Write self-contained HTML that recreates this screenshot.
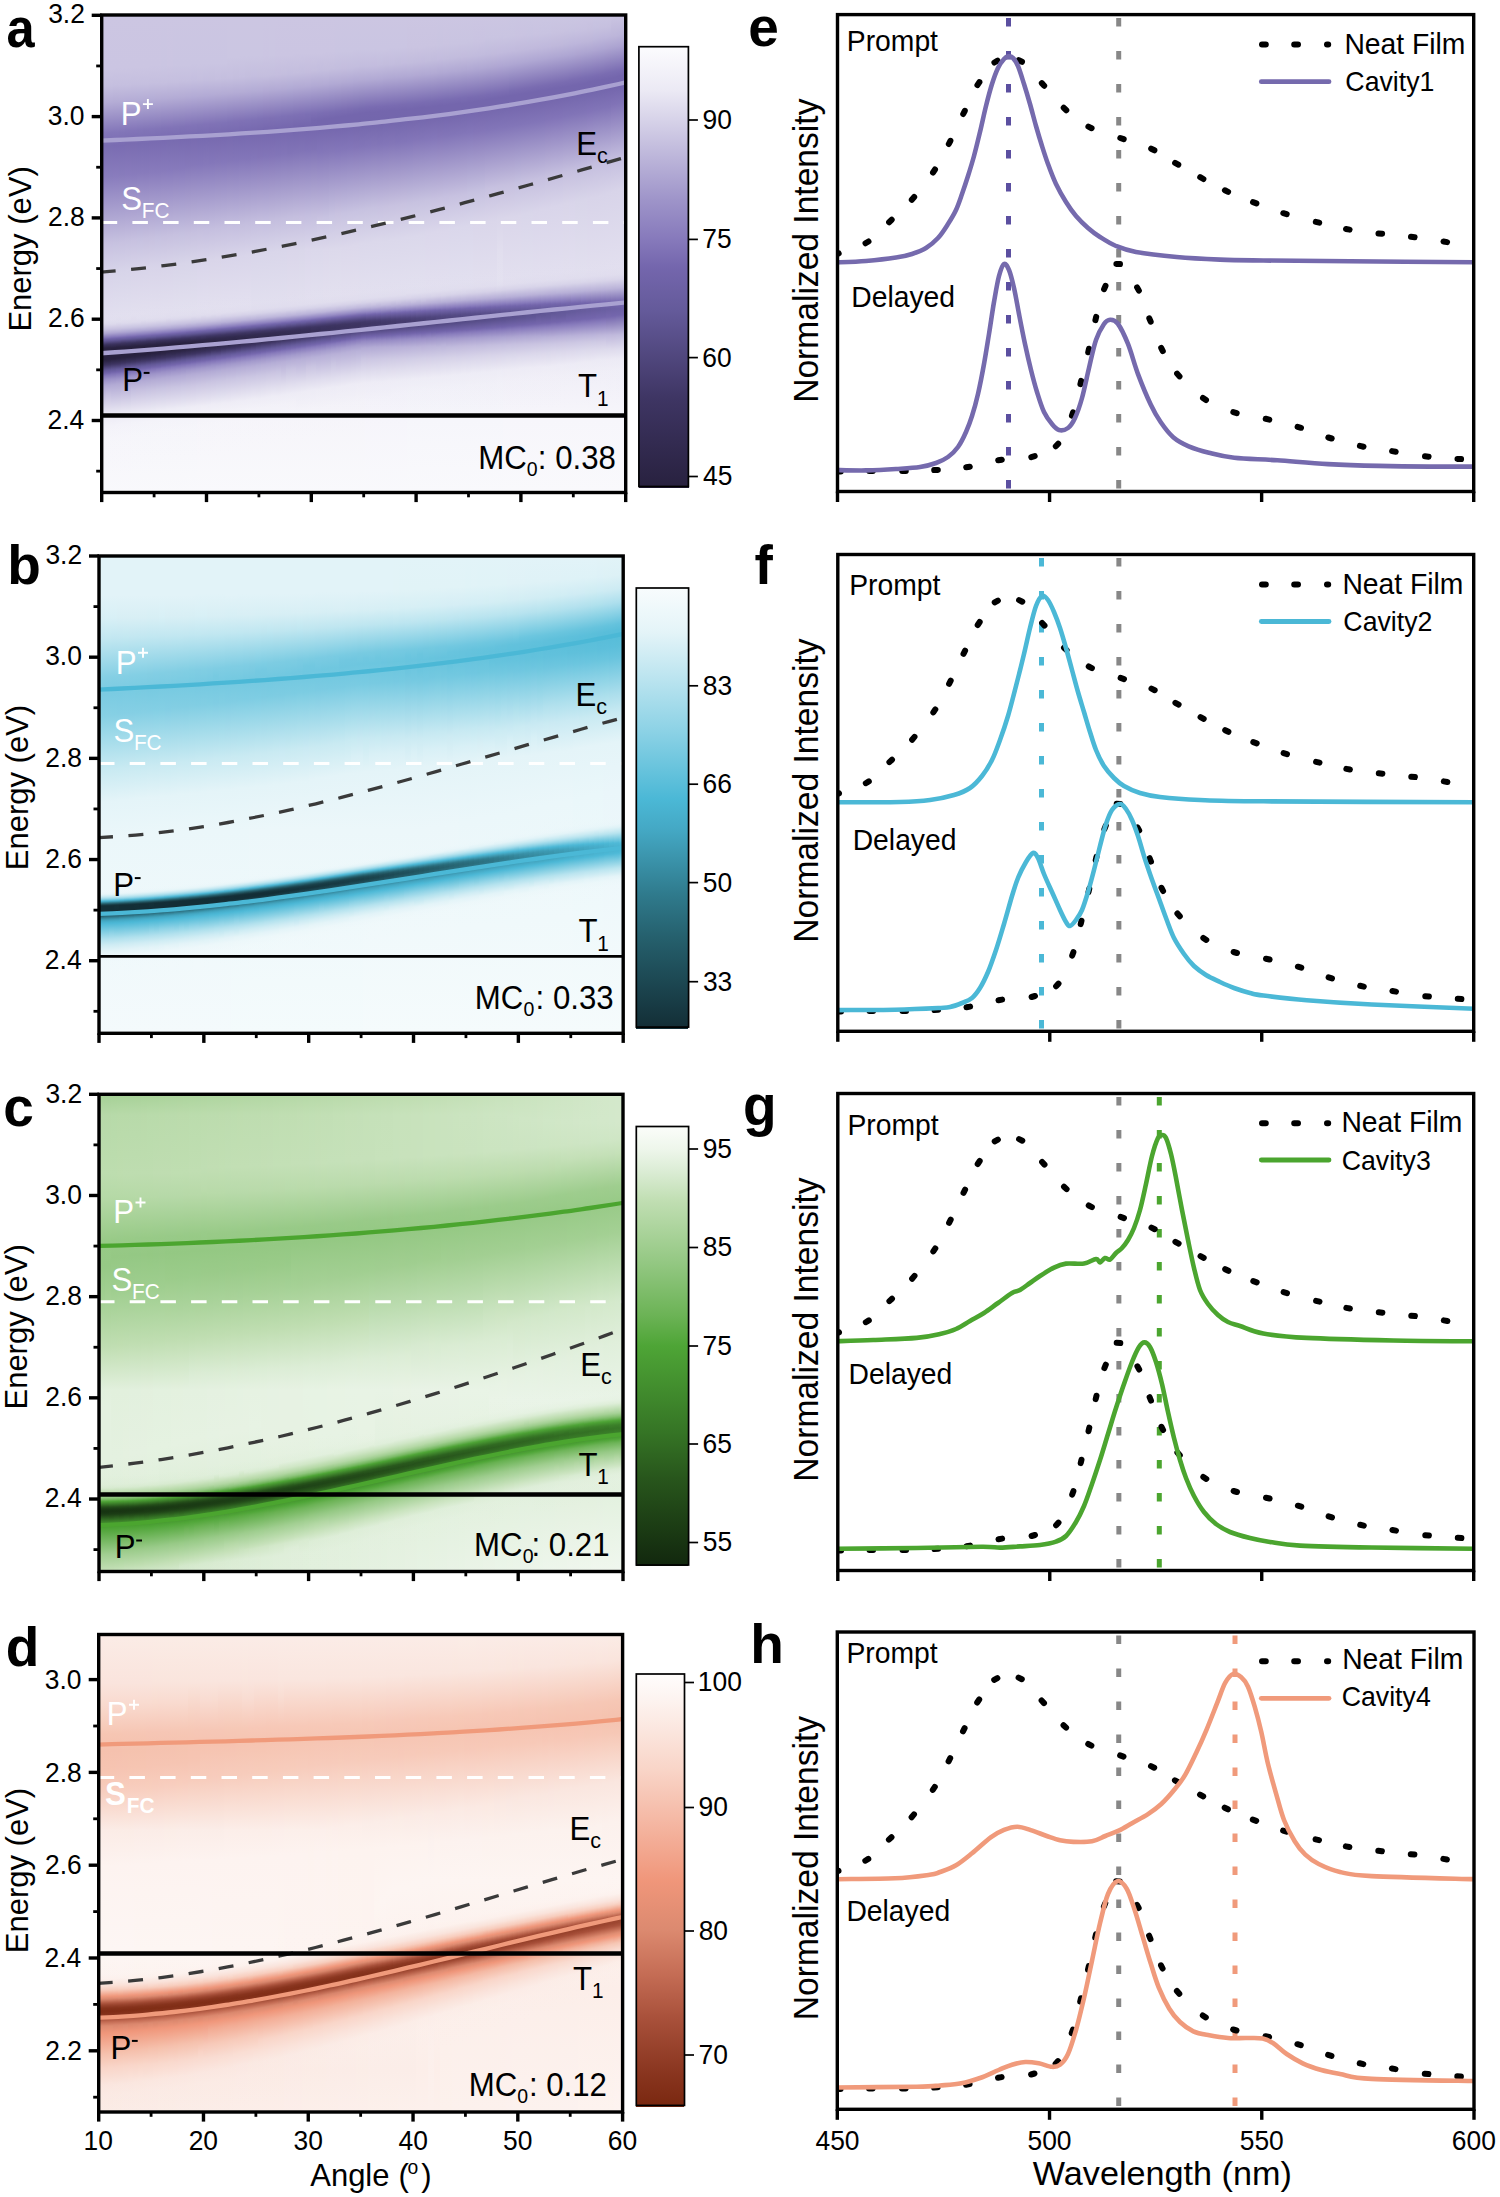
<!DOCTYPE html>
<html><head><meta charset="utf-8"><style>
html,body{margin:0;padding:0;background:#fff;}
#wrap{position:relative;width:1500px;height:2197px;overflow:hidden;background:#fff;}
#wrap div{position:absolute;}
svg{position:absolute;left:0;top:0;}
svg text{font-family:"Liberation Sans", sans-serif;}
</style></head><body><div id="wrap">
<div style="left:101.7px;top:15.0px;width:524.0px;height:477.5px;overflow:hidden">
<div style="left:-0.7px;top:0px;width:6px;height:478px;background:linear-gradient(177.5deg,#ccc6e2 0px,#cbc5e2 54px,#c5bfdf 71px,#b4acd5 88px,#8376b9 118px,#7a6db2 131px,#897cbd 162px,#c7c1e0 229px,#d7d3e9 258px,#ebe9f4 336px,#f5f4fa 405px,#f9f9fc 478px)"></div>
<div style="left:5.3px;top:0px;width:6px;height:478px;background:linear-gradient(177.5deg,#ccc6e2 0px,#cbc5e2 54px,#c5bfdf 71px,#b5add6 87px,#8275b8 118px,#7a6db2 131px,#897dbd 162px,#c7c1e0 228px,#d7d3e9 257px,#ebe9f4 336px,#f5f4fa 405px,#f9f9fc 478px)"></div>
<div style="left:11.3px;top:0px;width:6px;height:478px;background:linear-gradient(177.5deg,#ccc6e2 0px,#cbc5e2 53px,#c5bfdf 70px,#b4acd5 87px,#8376b9 117px,#7a6cb2 130px,#897cbd 161px,#c7c2e0 228px,#d7d4e9 257px,#ebe9f4 336px,#f5f4fa 405px,#f9f9fc 478px)"></div>
<div style="left:17.3px;top:0px;width:6px;height:478px;background:linear-gradient(177.5deg,#ccc6e2 0px,#cbc5e2 53px,#c5bfdf 70px,#b5add6 86px,#8275b8 117px,#7a6cb2 130px,#887cbc 160px,#c7c1e0 227px,#d7d4e9 256px,#ebe9f4 335px,#f5f4fa 405px,#f9f9fc 478px)"></div>
<div style="left:23.3px;top:0px;width:6px;height:478px;background:linear-gradient(177.4deg,#ccc6e2 0px,#cbc5e2 53px,#c5bfdf 70px,#b4acd6 86px,#8275b8 116px,#7a6cb1 129px,#897cbd 160px,#c7c1e0 226px,#d7d4e9 255px,#ebe9f4 335px,#f5f4fa 405px,#f9f9fc 478px)"></div>
<div style="left:29.3px;top:0px;width:6px;height:478px;background:linear-gradient(177.4deg,#ccc6e2 0px,#cbc5e2 52px,#c5bfdf 69px,#b5add6 85px,#8274b8 116px,#7a6cb1 129px,#887bbc 159px,#c7c1e0 225px,#d8d4e9 255px,#ebe9f4 334px,#f5f5fa 405px,#f9f9fc 478px)"></div>
<div style="left:35.3px;top:0px;width:6px;height:478px;background:linear-gradient(177.4deg,#ccc6e2 0px,#cbc5e2 52px,#c5bfdf 69px,#b4add6 85px,#8275b8 115px,#796cb1 128px,#887bbc 158px,#c6c1e0 224px,#d8d4e9 254px,#ebe9f4 334px,#f5f5fa 405px,#f9f9fc 478px)"></div>
<div style="left:41.3px;top:0px;width:6px;height:478px;background:linear-gradient(177.3deg,#ccc6e2 0px,#cbc5e2 52px,#c5bfdf 69px,#b4acd5 85px,#8174b7 115px,#796cb1 128px,#887bbc 158px,#c6c0df 223px,#d8d4e9 253px,#ebe9f4 334px,#f5f5fa 405px,#f9f9fc 478px)"></div>
<div style="left:47.3px;top:0px;width:6px;height:478px;background:linear-gradient(177.3deg,#ccc6e2 0px,#cbc5e2 51px,#c5bfdf 68px,#b4add6 84px,#8275b8 114px,#796bb1 127px,#887bbc 157px,#c6c0df 222px,#d8d4e9 252px,#ebe9f4 333px,#f5f5fa 405px,#f9f9fc 478px)"></div>
<div style="left:53.3px;top:0px;width:6px;height:478px;background:linear-gradient(177.2deg,#ccc6e2 0px,#cbc5e2 51px,#c5bfdf 68px,#b4acd5 84px,#8174b7 114px,#796bb1 127px,#887bbc 157px,#c6c1e0 222px,#d8d4e9 252px,#ebe9f4 333px,#f5f5fa 405px,#f9f9fc 478px)"></div>
<div style="left:59.3px;top:0px;width:6px;height:478px;background:linear-gradient(177.2deg,#ccc6e2 0px,#cac5e2 51px,#c5bfdf 68px,#b3abd5 84px,#8174b7 113px,#796bb1 126px,#887bbc 156px,#c6c0df 221px,#d8d4e9 251px,#ebe9f4 332px,#f5f5fa 405px,#f9f9fc 478px)"></div>
<div style="left:65.3px;top:0px;width:6px;height:478px;background:linear-gradient(177.1deg,#ccc6e2 0px,#cbc5e2 50px,#c5bfdf 67px,#b4acd5 83px,#8173b7 113px,#786bb0 125px,#877abc 155px,#c6c0df 220px,#d8d4e9 250px,#ebe9f4 332px,#f5f5fa 405px,#f9f9fc 478px)"></div>
<div style="left:71.3px;top:0px;width:6px;height:478px;background:linear-gradient(177.1deg,#ccc6e2 0px,#cac5e2 50px,#c5bfdf 67px,#b3abd5 83px,#8174b7 112px,#786bb0 125px,#877abb 154px,#c6c0df 219px,#d8d5e9 250px,#ebe9f4 332px,#f5f5fa 405px,#f9f9fc 478px)"></div>
<div style="left:77.3px;top:0px;width:6px;height:478px;background:linear-gradient(177.0deg,#ccc6e2 0px,#cac5e2 50px,#c5bfdf 66px,#b4acd5 82px,#8073b6 112px,#786ab0 124px,#877abc 154px,#c5c0df 218px,#d8d5e9 249px,#ebe9f4 331px,#f5f5fa 405px,#f9f9fc 478px)"></div>
<div style="left:83.3px;top:0px;width:6px;height:478px;background:linear-gradient(177.0deg,#ccc6e2 0px,#cac5e2 50px,#c5bfdf 66px,#b3abd5 82px,#8173b7 111px,#786ab0 124px,#8578ba 151px,#c6c0df 218px,#d8d5e9 248px,#ebe9f4 331px,#f5f5fa 405px,#f9f9fc 477px)"></div>
<div style="left:89.3px;top:0px;width:6px;height:478px;background:linear-gradient(176.9deg,#ccc6e2 0px,#cac5e2 49px,#c4bedf 66px,#b2aad5 82px,#8174b7 110px,#786ab0 123px,#8578ba 150px,#c6c0df 217px,#d8d5e9 247px,#ebe9f4 331px,#f5f5fa 405px,#f9f9fc 477px)"></div>
<div style="left:95.3px;top:0px;width:6px;height:478px;background:linear-gradient(176.9deg,#ccc6e2 0px,#cac5e2 49px,#c5bfdf 65px,#b3abd5 81px,#8073b6 110px,#776ab0 122px,#8477ba 149px,#c6c0df 216px,#d9d5ea 247px,#ebe9f4 330px,#f6f5fa 405px,#f9f9fc 477px)"></div>
<div style="left:101.3px;top:0px;width:6px;height:478px;background:linear-gradient(176.8deg,#ccc6e2 0px,#cac5e2 49px,#c4bedf 65px,#b2aad5 81px,#8173b7 109px,#776ab0 122px,#8578ba 149px,#c5bfdf 215px,#d9d5ea 246px,#ebe9f4 329px,#f6f5fa 405px,#f9f9fc 477px)"></div>
<div style="left:107.3px;top:0px;width:6px;height:478px;background:linear-gradient(176.7deg,#ccc6e2 0px,#cac5e2 48px,#c4bede 65px,#b3abd5 80px,#8072b6 109px,#7769af 121px,#8477ba 148px,#c5bfdf 214px,#d9d5e9 245px,#ebe9f4 329px,#f6f5fa 405px,#f9f9fc 477px)"></div>
<div style="left:113.3px;top:0px;width:6px;height:478px;background:linear-gradient(176.7deg,#ccc6e2 0px,#cac5e2 48px,#c5bfdf 64px,#b4acd5 79px,#8073b6 108px,#7769af 121px,#8477b9 147px,#c5bfdf 213px,#d9d5e9 244px,#ebe9f4 329px,#f6f5fa 404px,#f9f9fc 477px)"></div>
<div style="left:119.3px;top:0px;width:6px;height:478px;background:linear-gradient(176.6deg,#ccc6e2 0px,#cac5e2 48px,#c4bede 64px,#b3abd5 79px,#7f72b6 108px,#7769af 120px,#8477ba 147px,#c5bfdf 212px,#d9d5ea 244px,#ebe9f4 328px,#f6f5fa 404px,#f9f9fc 477px)"></div>
<div style="left:125.3px;top:0px;width:6px;height:478px;background:linear-gradient(176.5deg,#ccc6e2 0px,#cbc6e2 42px,#c5bfdf 63px,#b4acd5 78px,#7f72b6 107px,#7769af 119px,#8477b9 146px,#c5bfdf 211px,#d9d5ea 243px,#ebe9f4 328px,#f6f5fa 404px,#f9f9fc 477px)"></div>
<div style="left:131.3px;top:0px;width:6px;height:478px;background:linear-gradient(176.5deg,#ccc6e2 0px,#cbc6e2 42px,#c4bede 63px,#b3abd5 78px,#8072b6 106px,#7669af 119px,#8376b9 145px,#c4bedf 210px,#d9d5ea 242px,#ebe9f4 328px,#f6f5fa 404px,#f9f9fc 477px)"></div>
<div style="left:137.3px;top:0px;width:6px;height:478px;background:linear-gradient(176.4deg,#ccc6e2 0px,#cbc6e2 41px,#c5bfdf 62px,#b4acd5 77px,#7f71b5 106px,#7668af 118px,#8376b9 144px,#c4bede 209px,#d9d5ea 241px,#ebe9f4 327px,#f6f5fa 404px,#f9f9fc 477px)"></div>
<div style="left:143.3px;top:0px;width:6px;height:478px;background:linear-gradient(176.3deg,#ccc6e2 0px,#cbc6e2 41px,#c4bede 62px,#b3abd5 77px,#7f72b6 105px,#7668af 117px,#8376b9 144px,#c4bede 208px,#d9d5ea 240px,#ebe9f4 327px,#f6f5fa 404px,#f9f9fc 477px)"></div>
<div style="left:149.3px;top:0px;width:6px;height:478px;background:linear-gradient(176.2deg,#ccc6e2 0px,#cbc6e2 41px,#c4bedf 61px,#b3acd5 76px,#7e71b5 105px,#7668ae 117px,#8376b9 143px,#c5bfdf 208px,#d9d6ea 240px,#f6f5fa 404px,#f9f9fc 477px)"></div>
<div style="left:155.3px;top:0px;width:6px;height:478px;background:linear-gradient(176.2deg,#ccc6e2 0px,#cbc6e2 41px,#c4bede 61px,#b3abd5 76px,#7e71b5 104px,#7668ae 116px,#8375b8 142px,#c5bfdf 207px,#d9d6ea 239px,#f6f5fa 404px,#f9f9fc 477px)"></div>
<div style="left:161.3px;top:0px;width:6px;height:478px;background:linear-gradient(176.1deg,#ccc6e2 0px,#cbc5e2 41px,#c4bede 61px,#b2a9d4 76px,#7f71b5 103px,#7567ae 115px,#8275b8 141px,#c4bedf 206px,#d9d6ea 238px,#f6f5fa 404px,#f9f9fc 477px)"></div>
<div style="left:167.3px;top:0px;width:6px;height:478px;background:linear-gradient(176.0deg,#ccc6e2 0px,#cbc6e2 40px,#c4bede 60px,#b2aad4 75px,#7e70b4 103px,#7567ae 115px,#8375b8 141px,#c4bede 205px,#d9d6ea 237px,#f6f5fa 404px,#f9f9fc 477px)"></div>
<div style="left:173.3px;top:0px;width:6px;height:478px;background:linear-gradient(175.9deg,#ccc6e2 0px,#cbc5e2 40px,#c4bdde 60px,#b3abd5 74px,#7e71b5 102px,#7567ae 114px,#8275b8 140px,#c4bede 204px,#d9d6ea 236px,#f6f5fa 404px,#f9f9fc 477px)"></div>
<div style="left:179.3px;top:0px;width:6px;height:478px;background:linear-gradient(175.8deg,#ccc6e2 0px,#cbc5e2 40px,#c4bede 59px,#b2aad4 74px,#7e71b5 101px,#7567ae 113px,#8275b8 139px,#c4bede 203px,#d9d6ea 235px,#f6f5fa 404px,#f9f9fc 477px)"></div>
<div style="left:185.3px;top:0px;width:6px;height:478px;background:linear-gradient(175.7deg,#ccc6e2 0px,#cbc5e2 40px,#c3bdde 59px,#b2abd5 73px,#7d70b4 101px,#7567ae 113px,#8174b7 138px,#c4bede 202px,#dad6ea 235px,#f6f5fa 404px,#f9f9fc 477px)"></div>
<div style="left:191.3px;top:0px;width:6px;height:478px;background:linear-gradient(175.6deg,#ccc6e2 0px,#cbc5e2 39px,#c4bede 58px,#b1a9d4 73px,#7d70b4 100px,#7466ad 112px,#8174b7 137px,#c4bede 201px,#dad6ea 235px,#f6f5fa 404px,#f9f9fc 477px)"></div>
<div style="left:197.3px;top:0px;width:6px;height:478px;background:linear-gradient(175.5deg,#ccc6e2 0px,#cbc5e2 39px,#c3bdde 58px,#b2aad4 72px,#7e70b5 99px,#7466ad 111px,#8174b7 136px,#c5bedf 201px,#dad7ea 235px,#f6f5fa 404px,#f9f9fc 477px)"></div>
<div style="left:203.3px;top:0px;width:6px;height:478px;background:linear-gradient(175.4deg,#ccc6e2 0px,#cbc5e2 38px,#c4bdde 57px,#b3abd5 71px,#7c6fb4 99px,#7466ad 111px,#8073b7 135px,#c4bedf 200px,#dbd7eb 234px,#f6f5fa 404px,#f9f9fc 477px)"></div>
<div style="left:209.3px;top:0px;width:6px;height:478px;background:linear-gradient(175.3deg,#ccc6e2 0px,#cbc5e2 38px,#c4bede 56px,#b1a9d4 71px,#7d6fb4 98px,#7567ae 105px,#7466ad 111px,#8073b6 134px,#c4bede 199px,#dbd8eb 234px,#f6f5fa 404px,#f9f9fc 477px)"></div>
<div style="left:215.3px;top:0px;width:6px;height:478px;background:linear-gradient(175.2deg,#ccc6e2 0px,#cbc5e2 38px,#c3bdde 56px,#b2aad4 70px,#7b6eb3 98px,#7466ad 105px,#7466ad 111px,#8376b9 137px,#c9c3e1 203px,#dbd8eb 234px,#f6f5fa 404px,#f9f9fc 477px)"></div>
<div style="left:221.3px;top:0px;width:6px;height:478px;background:linear-gradient(175.1deg,#ccc6e2 0px,#cbc5e2 37px,#c4bede 55px,#b3abd5 69px,#7c6eb3 97px,#7466ad 104px,#7466ad 111px,#8477b9 137px,#c8c3e1 202px,#dcd8eb 234px,#f6f5fa 404px,#f9f9fc 477px)"></div>
<div style="left:227.3px;top:0px;width:6px;height:478px;background:linear-gradient(175.0deg,#ccc6e2 0px,#cbc5e2 37px,#c4bede 54px,#b1a9d4 69px,#7a6db2 97px,#7466ad 103px,#7466ad 111px,#8477b9 136px,#c8c3e1 200px,#dcd9eb 234px,#f6f5fa 404px,#f9f9fc 476px)"></div>
<div style="left:233.3px;top:0px;width:6px;height:478px;background:linear-gradient(174.9deg,#ccc6e2 0px,#cac5e2 37px,#c3bdde 54px,#b2aad4 68px,#7a6db2 96px,#7466ad 102px,#7466ad 111px,#8477ba 136px,#c8c2e0 198px,#dcd9eb 233px,#f6f5fa 404px,#f9f9fc 476px)"></div>
<div style="left:239.3px;top:0px;width:6px;height:478px;background:linear-gradient(174.8deg,#ccc6e2 0px,#cac5e2 36px,#c4bdde 53px,#b2aad4 67px,#7b6db2 95px,#7466ad 101px,#7466ad 110px,#8376b9 134px,#c8c3e1 198px,#dcd8eb 232px,#f6f5fa 404px,#f9f9fc 476px)"></div>
<div style="left:245.3px;top:0px;width:6px;height:478px;background:linear-gradient(174.7deg,#ccc6e2 0px,#cac5e2 36px,#c3bdde 53px,#b1a9d4 67px,#7b6db2 94px,#7466ad 100px,#7466ad 109px,#8376b9 133px,#c8c3e1 197px,#dcd8eb 231px,#f6f5fa 404px,#f9f9fc 476px)"></div>
<div style="left:251.3px;top:0px;width:6px;height:478px;background:linear-gradient(174.5deg,#ccc6e2 0px,#cac5e2 35px,#c3bdde 52px,#b1a9d4 66px,#796cb1 94px,#7466ad 99px,#7466ac 108px,#8375b8 132px,#c8c3e1 196px,#dcd8eb 230px,#f6f5fa 403px,#f9f9fc 476px)"></div>
<div style="left:257.3px;top:0px;width:6px;height:478px;background:linear-gradient(174.4deg,#ccc6e2 0px,#cac5e2 35px,#c3bdde 51px,#b2aad4 65px,#796cb1 93px,#7466ad 98px,#7366ac 107px,#8275b8 131px,#c7c2e0 194px,#dbd8eb 228px,#f6f5fa 403px,#f9f9fc 476px)"></div>
<div style="left:263.3px;top:0px;width:6px;height:478px;background:linear-gradient(174.3deg,#ccc6e2 0px,#cac5e2 35px,#c3bdde 51px,#b1a9d4 65px,#7a6cb2 92px,#7466ad 97px,#7366ac 107px,#8376b9 131px,#c7c2e0 193px,#dbd8eb 227px,#f6f5fb 403px,#f9f9fc 476px)"></div>
<div style="left:269.3px;top:0px;width:6px;height:478px;background:linear-gradient(174.2deg,#ccc6e2 0px,#cac5e2 34px,#c3bcde 51px,#b2aad4 64px,#796bb1 92px,#7466ad 97px,#7366ac 106px,#8376b8 130px,#c7c2e0 192px,#dbd8eb 226px,#f6f5fb 403px,#f9f9fc 476px)"></div>
<div style="left:275.3px;top:0px;width:6px;height:478px;background:linear-gradient(174.0deg,#ccc6e2 0px,#cac5e2 34px,#c3bdde 50px,#b1a9d4 64px,#7a6cb2 91px,#7466ad 96px,#7366ac 106px,#8275b8 129px,#c7c1e0 191px,#dbd8eb 225px,#f6f5fb 403px,#f9f9fc 476px)"></div>
<div style="left:281.3px;top:0px;width:6px;height:478px;background:linear-gradient(173.9deg,#ccc6e2 0px,#cac5e2 34px,#c2bcdd 50px,#b1a9d4 63px,#796bb1 91px,#7466ad 96px,#7366ac 105px,#8376b9 129px,#c8c2e0 191px,#dbd8eb 225px,#f6f5fb 403px,#f9f9fc 476px)"></div>
<div style="left:287.3px;top:0px;width:6px;height:478px;background:linear-gradient(173.8deg,#ccc6e2 0px,#cac5e2 33px,#c3bdde 49px,#b0a8d3 63px,#7a6cb2 90px,#7466ad 95px,#7466ac 105px,#8376b8 128px,#c8c2e0 190px,#dbd8eb 224px,#f6f5fb 403px,#f9f9fc 476px)"></div>
<div style="left:293.3px;top:0px;width:6px;height:478px;background:linear-gradient(173.6deg,#ccc6e2 0px,#cac5e2 33px,#c2bcdd 49px,#b1a9d4 62px,#796bb1 90px,#7466ad 95px,#7366ac 104px,#8275b8 127px,#c8c2e0 189px,#dbd8eb 223px,#f6f5fb 403px,#f9f9fc 475px)"></div>
<div style="left:299.3px;top:0px;width:6px;height:478px;background:linear-gradient(173.5deg,#ccc6e2 0px,#cac5e2 32px,#c3bcde 48px,#b0a8d3 62px,#7a6cb1 89px,#7466ad 94px,#7366ac 103px,#8275b8 126px,#c8c2e0 188px,#dbd8eb 222px,#f6f5fb 403px,#f9f9fc 475px)"></div>
<div style="left:305.3px;top:0px;width:6px;height:478px;background:linear-gradient(173.4deg,#ccc6e2 0px,#cac4e1 32px,#c2bcdd 48px,#b1a9d4 61px,#7a6db2 88px,#7466ad 94px,#7466ac 103px,#8376b9 126px,#c7c2e0 187px,#dbd8eb 221px,#f6f6fb 403px,#f9f9fc 475px)"></div>
<div style="left:311.3px;top:0px;width:6px;height:478px;background:linear-gradient(173.2deg,#ccc6e2 0px,#cac4e1 32px,#c2bcdd 47px,#b2a9d4 60px,#796cb1 88px,#7466ad 93px,#7466ac 102px,#8375b8 124px,#c7c2e0 186px,#dbd8eb 220px,#f6f6fb 403px,#f9f9fc 475px)"></div>
<div style="left:317.3px;top:0px;width:6px;height:478px;background:linear-gradient(173.1deg,#ccc6e2 0px,#cac4e1 32px,#c2bbdd 47px,#b0a8d3 60px,#7a6cb2 87px,#7466ad 92px,#7366ac 101px,#8275b8 123px,#c7c2e0 185px,#dbd8eb 219px,#f6f6fb 402px,#f9f9fc 475px)"></div>
<div style="left:323.3px;top:0px;width:6px;height:478px;background:linear-gradient(172.9deg,#ccc6e2 0px,#cac4e1 31px,#c2bcdd 46px,#b1a9d4 59px,#7a6db2 86px,#7466ad 92px,#7466ac 101px,#8376b9 123px,#c7c2e0 184px,#dbd7eb 217px,#f6f6fb 402px,#f9f9fc 475px)"></div>
<div style="left:329.3px;top:0px;width:6px;height:478px;background:linear-gradient(172.8deg,#ccc6e2 0px,#cac4e1 30px,#c2bcdd 45px,#b2aad4 58px,#796cb1 86px,#7466ad 91px,#7466ac 100px,#8376b9 122px,#c7c1e0 183px,#dbd7eb 216px,#f6f6fb 402px,#f9f9fc 475px)"></div>
<div style="left:335.3px;top:0px;width:6px;height:478px;background:linear-gradient(172.7deg,#ccc6e2 0px,#c9c4e1 30px,#c3bcde 44px,#b0a8d3 58px,#7a6cb2 85px,#7466ad 90px,#7366ac 99px,#8375b8 121px,#c7c1e0 182px,#dbd7eb 215px,#f6f6fb 402px,#f9f9fc 474px)"></div>
<div style="left:341.3px;top:0px;width:6px;height:478px;background:linear-gradient(172.5deg,#ccc6e2 0px,#cac4e1 29px,#c2bcdd 44px,#b1a9d4 57px,#7a6db2 84px,#7466ad 90px,#7466ad 99px,#8275b8 120px,#c6c0e0 180px,#dbd7eb 214px,#f6f6fb 402px,#f9f9fc 474px)"></div>
<div style="left:347.3px;top:0px;width:6px;height:478px;background:linear-gradient(172.3deg,#ccc6e2 0px,#c9c4e1 29px,#c2bcdd 43px,#b1a9d4 56px,#796cb1 84px,#7466ad 89px,#7466ac 98px,#8275b8 119px,#c7c1e0 180px,#dad7eb 212px,#f6f6fb 402px,#f9f9fc 474px)"></div>
<div style="left:353.3px;top:0px;width:6px;height:478px;background:linear-gradient(172.2deg,#ccc6e2 0px,#c9c4e1 28px,#c2bcdd 42px,#b0a8d3 56px,#7a6cb2 83px,#7466ad 88px,#7466ac 97px,#8275b8 118px,#c7c1e0 179px,#dad7eb 211px,#f6f6fb 402px,#f9f9fc 474px)"></div>
<div style="left:359.3px;top:0px;width:6px;height:478px;background:linear-gradient(172.0deg,#ccc6e2 0px,#c9c4e1 28px,#c2bbdd 42px,#b0a8d3 55px,#7a6db2 82px,#7466ad 88px,#7366ac 95px,#8275b8 117px,#c7c1e0 178px,#dad7eb 210px,#f6f6fb 402px,#f9f9fc 474px)"></div>
<div style="left:365.3px;top:0px;width:6px;height:478px;background:linear-gradient(171.9deg,#ccc6e2 0px,#c9c4e1 27px,#c2bcdd 41px,#b1a9d4 54px,#796bb1 82px,#7466ad 87px,#7466ad 95px,#8376b9 117px,#c6c1e0 176px,#dad7eb 209px,#f6f6fb 401px,#f9f9fc 474px)"></div>
<div style="left:371.3px;top:0px;width:6px;height:478px;background:linear-gradient(171.7deg,#ccc6e2 0px,#c9c3e1 27px,#c1bbdd 41px,#afa7d3 54px,#796cb1 81px,#7466ad 86px,#7466ad 94px,#8375b8 116px,#c6c1e0 175px,#dad6ea 207px,#f6f6fb 401px,#f9f9fc 473px)"></div>
<div style="left:377.3px;top:0px;width:6px;height:478px;background:linear-gradient(171.5deg,#ccc6e2 0px,#c9c3e1 26px,#c1bbdd 40px,#b0a8d3 53px,#7a6cb1 80px,#7466ad 85px,#7466ac 93px,#8375b8 115px,#c6c1e0 174px,#dad6ea 206px,#f6f6fb 401px,#f9f9fc 473px)"></div>
<div style="left:383.3px;top:0px;width:6px;height:478px;background:linear-gradient(171.4deg,#ccc6e2 0px,#c9c4e1 23px,#c1bbdd 39px,#b0a8d3 52px,#7a6cb2 79px,#7466ad 84px,#7466ac 92px,#8275b8 114px,#c7c1e0 172px,#dad6ea 205px,#f6f6fb 401px,#f9f9fc 473px)"></div>
<div style="left:389.3px;top:0px;width:6px;height:478px;background:linear-gradient(171.2deg,#ccc6e2 0px,#c9c4e1 23px,#c1badc 39px,#afa6d2 52px,#7a6db2 78px,#7466ad 83px,#7466ac 91px,#8275b8 113px,#c7c1e0 171px,#dad6ea 204px,#f6f6fb 401px,#f9f9fc 473px)"></div>
<div style="left:395.3px;top:0px;width:6px;height:478px;background:linear-gradient(171.0deg,#ccc6e2 0px,#c9c4e1 22px,#c1badd 38px,#afa6d3 51px,#7b6db2 77px,#7466ad 82px,#7366ac 90px,#8275b8 112px,#c6c0df 169px,#dad6ea 202px,#e1deee 233px,#f6f6fb 401px,#f9f9fc 473px)"></div>
<div style="left:401.3px;top:0px;width:6px;height:478px;background:linear-gradient(170.9deg,#ccc6e2 0px,#c9c4e1 22px,#c1badd 37px,#afa7d3 50px,#7b6db2 76px,#7466ad 81px,#7366ac 89px,#8275b8 111px,#c6c0df 168px,#dad6ea 201px,#f7f6fb 400px,#f9f9fc 472px)"></div>
<div style="left:407.3px;top:0px;width:6px;height:478px;background:linear-gradient(170.7deg,#cbc6e2 0px,#c9c4e1 21px,#c1badd 36px,#afa7d3 49px,#796cb1 75px,#7466ad 80px,#7466ad 89px,#8275b8 110px,#c6c0df 167px,#dad6ea 200px,#f7f6fb 400px,#f9f9fc 472px)"></div>
<div style="left:413.3px;top:0px;width:6px;height:478px;background:linear-gradient(170.5deg,#cbc6e2 0px,#c9c3e1 21px,#c0b9dc 36px,#afa7d3 48px,#7a6cb1 74px,#7466ad 79px,#7466ad 88px,#8275b8 109px,#c6c1e0 166px,#dad6ea 199px,#f7f6fb 400px,#f9f9fc 472px)"></div>
<div style="left:419.3px;top:0px;width:6px;height:478px;background:linear-gradient(170.3deg,#cbc6e2 1px,#c9c3e1 20px,#c0b9dc 35px,#afa7d3 47px,#7a6cb1 73px,#7466ad 78px,#7466ac 87px,#8275b8 108px,#c6c0df 164px,#d9d6ea 197px,#f7f6fb 400px,#f9f9fc 472px)"></div>
<div style="left:425.3px;top:0px;width:6px;height:478px;background:linear-gradient(170.2deg,#cbc6e2 1px,#c8c3e1 20px,#c0b9dc 34px,#afa7d3 46px,#7a6cb1 72px,#7466ad 77px,#7466ac 86px,#8275b8 107px,#c6c0df 163px,#d9d6ea 196px,#f7f6fb 400px,#f9f9fc 471px)"></div>
<div style="left:431.3px;top:0px;width:6px;height:478px;background:linear-gradient(170.0deg,#cbc6e2 1px,#c9c3e1 19px,#c0b9dc 33px,#afa7d3 45px,#7a6cb1 71px,#7466ad 76px,#7466ac 85px,#8275b8 106px,#c6c0df 162px,#d9d5ea 194px,#f7f6fb 399px,#f9f9fc 471px)"></div>
<div style="left:437.3px;top:0px;width:6px;height:478px;background:linear-gradient(169.8deg,#cbc6e2 1px,#c8c3e1 19px,#bfb8dc 33px,#afa7d3 44px,#7a6cb1 70px,#7466ad 75px,#7466ac 84px,#8275b8 105px,#c5bfdf 160px,#d9d5ea 192px,#f7f6fb 399px,#f9f9fc 471px)"></div>
<div style="left:443.3px;top:0px;width:6px;height:478px;background:linear-gradient(169.6deg,#cbc6e2 1px,#c8c3e1 18px,#bfb8dc 32px,#afa7d3 43px,#7a6cb1 69px,#7466ad 74px,#7466ac 83px,#8375b8 104px,#c6c0df 159px,#d9d5ea 191px,#f7f6fb 399px,#f9f9fc 471px)"></div>
<div style="left:449.3px;top:0px;width:6px;height:478px;background:linear-gradient(169.4deg,#cbc6e2 1px,#c8c2e0 18px,#bfb8db 31px,#afa7d3 42px,#7a6cb1 68px,#7466ad 73px,#7466ac 82px,#8274b8 102px,#c5bfdf 157px,#d9d5ea 189px,#f7f6fb 399px,#f9f9fc 470px)"></div>
<div style="left:455.3px;top:0px;width:6px;height:478px;background:linear-gradient(169.2deg,#cbc6e2 1px,#c8c2e0 17px,#bfb8db 30px,#afa7d3 41px,#7a6cb1 67px,#7466ad 72px,#7466ac 81px,#8274b8 101px,#c5bfdf 156px,#d9d5ea 188px,#f7f6fb 398px,#f9f9fc 470px)"></div>
<div style="left:461.3px;top:0px;width:6px;height:478px;background:linear-gradient(169.0deg,#cbc6e2 1px,#c8c2e0 16px,#beb8db 29px,#afa7d3 40px,#7a6cb1 66px,#7466ad 71px,#7466ac 80px,#8275b8 100px,#c6c0df 155px,#d9d5e9 186px,#f7f6fb 398px,#f9f9fc 470px)"></div>
<div style="left:467.3px;top:0px;width:6px;height:478px;background:linear-gradient(168.8deg,#cbc6e2 1px,#c7c2e0 16px,#bdb6db 29px,#ada5d2 40px,#7b6db2 64px,#7466ad 70px,#7366ac 78px,#8174b7 98px,#c6c0df 154px,#d9d5ea 185px,#f7f6fb 398px,#f9f9fc 470px)"></div>
<div style="left:473.3px;top:0px;width:6px;height:478px;background:linear-gradient(168.7deg,#cbc6e2 1px,#c7c1e0 16px,#bdb6db 28px,#ada4d1 39px,#7b6db2 63px,#7466ad 69px,#7366ac 77px,#8174b7 97px,#c5bfdf 152px,#d8d5e9 183px,#f7f6fb 398px,#f9f9fc 469px)"></div>
<div style="left:479.3px;top:0px;width:6px;height:478px;background:linear-gradient(168.5deg,#cbc5e2 1px,#c7c1e0 15px,#bdb6da 27px,#aca4d1 38px,#7a6db2 62px,#7466ad 68px,#7366ac 76px,#8174b7 96px,#c6c0df 151px,#d8d5e9 182px,#f7f6fb 397px,#f9f9fc 469px)"></div>
<div style="left:485.3px;top:0px;width:6px;height:478px;background:linear-gradient(168.3deg,#cbc5e2 1px,#c6c0df 15px,#bdb6da 26px,#aea6d2 36px,#7a6db2 61px,#7466ad 66px,#7366ac 75px,#8274b8 95px,#c5bfdf 148px,#d8d4e9 180px,#f7f6fb 397px,#f9f9fc 469px)"></div>
<div style="left:491.3px;top:0px;width:6px;height:478px;background:linear-gradient(168.1deg,#cac5e2 1px,#c6c1e0 13px,#bdb7db 24px,#aea5d2 35px,#7a6cb2 60px,#7466ad 65px,#7366ac 74px,#8275b8 94px,#c5bfdf 146px,#d8d4e9 179px,#f7f6fb 397px,#f9f9fc 468px)"></div>
<div style="left:497.3px;top:0px;width:6px;height:478px;background:linear-gradient(167.8deg,#cac5e2 1px,#c6c0df 13px,#bdb6db 23px,#ada5d2 34px,#7a6cb1 59px,#7466ad 64px,#7366ac 73px,#8174b7 92px,#c5bfdf 145px,#d8d4e9 177px,#f7f6fb 397px,#f9f9fc 468px)"></div>
<div style="left:503.3px;top:0px;width:6px;height:478px;background:linear-gradient(167.6deg,#cac5e2 1px,#c6c0df 12px,#bdb6db 22px,#ada4d1 33px,#7b6db2 57px,#7466ad 63px,#7365ac 71px,#8174b7 91px,#c4bedf 143px,#d8d4e9 175px,#f7f6fb 396px,#f9f9fc 468px)"></div>
<div style="left:509.3px;top:0px;width:6px;height:478px;background:linear-gradient(167.4deg,#cac4e1 1px,#bdb6da 21px,#aca4d1 32px,#7a6db2 56px,#7466ad 62px,#7365ac 70px,#8173b7 88px,#c5bfdf 142px,#d8d4e9 173px,#f7f6fb 396px,#f9f9fc 467px)"></div>
<div style="left:515.3px;top:0px;width:6px;height:478px;background:linear-gradient(167.2deg,#cac4e1 1px,#bcb5da 20px,#aca3d1 31px,#7a6cb2 55px,#7466ad 60px,#7365ac 69px,#8174b7 87px,#c4bedf 140px,#d8d4e9 171px,#f7f6fb 396px,#f9f9fc 467px)"></div>
<div style="left:521.3px;top:0px;width:6px;height:478px;background:linear-gradient(167.0deg,#c9c4e1 1px,#c3bdde 12px,#b8b1d8 22px,#786ab0 55px,#7366ac 68px,#8174b7 86px,#c4bede 138px,#d7d4e9 169px,#f7f6fb 395px,#f9f9fc 466px)"></div>
<div style="left:-0.7px;top:279px;width:5px;height:182px;background:linear-gradient(176.0deg,#dddaec01 0.2px,#e0ddee0c 15.1px,#e0ddee2d 23.1px,#dbd8eb7e 29.1px,#d3cee6ff 33.1px,#c6c1e0ff 36.1px,#aaa2d0ff 40.1px,#8073b6ff 44.1px,#7365acff 45.1px,#625897ff 47.1px,#3a325dff 51.1px,#2a2342ff 54px,#28213fff 55px,#28213fff 66px,#3b325eff 71px,#665b9cff 77px,#7668afff 80px,#8679bbff 82px,#a096caff 87px,#b2aad4ff 92px,#e7e5f2ff 118.9px,#ebe9f4df 121.9px,#f1f0f86d 132.9px,#f5f4fa2b 144.8px,#f8f8fc01 181.7px)"></div>
<div style="left:4.3px;top:279px;width:5px;height:181px;background:linear-gradient(175.9deg,#dddaec01 0.2px,#e0ddee29 22.1px,#dedbed50 26.1px,#d9d6eaa0 30.1px,#d2cde6ff 33.1px,#cac4e1ff 35.1px,#b0a8d3ff 39.1px,#887bbcff 43.1px,#7063a8ff 45.1px,#5e5492ff 47.1px,#3f3664ff 50.1px,#383059ff 51px,#292240ff 54px,#28213fff 65px,#2c2546ff 67px,#3e3563ff 71px,#635999ff 76px,#7366acff 79px,#8376b9ff 81px,#9a90c7ff 85px,#b1a9d4ff 90.9px,#c6c0dfff 99.9px,#e8e5f2ff 118.9px,#eceaf4d6 121.9px,#f1f0f86f 131.8px,#f5f4fa2c 143.8px,#f8f8fc01 180.7px)"></div>
<div style="left:9.3px;top:279px;width:5px;height:181px;background:linear-gradient(175.9deg,#dddaec01 0.2px,#e0ddee2b 22.1px,#dedbed55 26.1px,#d9d5e9aa 30.1px,#d4cfe7f3 32.1px,#c8c2e0ff 35.1px,#ada4d1ff 39.1px,#8376b9ff 43.1px,#7668aeff 44.1px,#655a9bff 46.1px,#3c3360ff 50.1px,#28213fff 54px,#28213fff 65px,#3c3360ff 70px,#615795ff 75px,#7164aaff 78px,#8073b6ff 80px,#9d93c8ff 85px,#b3abd5ff 90.9px,#e7e5f2ff 117.9px,#ebe9f4da 120.9px,#f1f0f86a 131.8px,#f5f4fa29 143.8px,#f8f8fc01 180.7px)"></div>
<div style="left:14.3px;top:278px;width:5px;height:181px;background:linear-gradient(175.8deg,#dddaec01 0.2px,#e0ddee0c 15.1px,#e0ddee2e 23.1px,#dbd8eb80 29.1px,#d3cee6ff 33.1px,#c6c0dfff 36.1px,#b2aad4ff 39.1px,#8b7fbeff 43.1px,#7264abff 45.1px,#615796ff 47.1px,#3a315cff 51px,#2a2342ff 54px,#28213fff 55px,#28213fff 65px,#312a4eff 68px,#403665ff 71px,#655b9bff 76px,#7567aeff 79px,#8578baff 81px,#a096caff 86px,#b2aad4ff 90.9px,#e6e4f1ff 117.9px,#eceaf4d1 121.9px,#f1f0f86c 131.8px,#f5f4fa2a 143.8px,#f8f8fc01 180.7px)"></div>
<div style="left:19.3px;top:278px;width:5px;height:180px;background:linear-gradient(175.8deg,#dddaec01 0.2px,#e0ddee2a 22.1px,#dedbed51 26.1px,#d9d5eaa3 30.1px,#d1cde6ff 33.1px,#c9c4e1ff 35.1px,#afa6d3ff 39.1px,#877abbff 43.1px,#796bb1ff 44.1px,#675c9dff 46.1px,#3e3562ff 50px,#292240ff 54px,#28213fff 64px,#2c2545ff 66px,#3d3462ff 70px,#625898ff 75px,#7365abff 78px,#8275b8ff 80px,#9e94c9ff 85px,#b4acd5ff 90.9px,#e6e3f1ff 116.9px,#ebe9f4d5 120.9px,#f1f0f86e 130.8px,#f4f4fa2b 142.8px,#f8f8fc01 179.7px)"></div>
<div style="left:24.3px;top:277px;width:5px;height:180px;background:linear-gradient(175.7deg,#dddaec01 0.2px,#e0ddee2c 23.1px,#dedbec57 27.1px,#d8d5e9ae 31.1px,#d3cfe7f8 33.1px,#c7c2e0ff 36.1px,#aba3d1ff 40.1px,#8174b7ff 44.1px,#7466adff 45.1px,#635999ff 47.1px,#3b335fff 51px,#28213fff 55px,#28213fff 65px,#3b335fff 70px,#605694ff 75px,#7f72b6ff 80px,#9c92c8ff 84.9px,#b3abd5ff 90.9px,#e6e4f1ff 117.9px,#eceaf4cc 121.8px,#f1f0f868 131.8px,#f5f4fa28 143.8px,#f8f8fc01 179.7px)"></div>
<div style="left:29.3px;top:277px;width:5px;height:179px;background:linear-gradient(175.7deg,#dedaec01 0.2px,#e0ddee0d 15.1px,#e0ddee2f 23.1px,#dad6ea9c 30.1px,#d2cee6ff 33.1px,#cac5e2ff 35.1px,#b1a9d4ff 39.1px,#897cbdff 43.1px,#7163a9ff 45.1px,#5f5593ff 47.1px,#39315bff 51px,#2e2749ff 53px,#28213fff 55px,#28213fff 64px,#30294dff 67px,#3f3664ff 70px,#645a9aff 75px,#7466adff 78px,#8477b9ff 80px,#9b90c7ff 83.9px,#b2aad4ff 89.9px,#c6c1e0ff 98.9px,#e6e3f1ff 116.9px,#ebe9f4cf 120.8px,#f1f0f86a 130.8px,#f5f4fa29 142.8px,#f8f8fc01 178.7px)"></div>
<div style="left:34.3px;top:277px;width:5px;height:178px;background:linear-gradient(175.6deg,#dedaec01 0.2px,#e0ddee2b 22.1px,#dedbed54 26.1px,#d9d5eaa7 30.1px,#d4d0e7ee 32.1px,#c8c3e1ff 35.1px,#ada5d2ff 39.1px,#8477baff 43.1px,#7669afff 44.1px,#655b9bff 46.1px,#3d3461ff 50px,#292240ff 54px,#28213fff 63px,#2c2546ff 65px,#3d3461ff 69px,#615796ff 74px,#7264abff 77px,#8174b7ff 79px,#998ec6ff 82.9px,#b1a9d4ff 88.9px,#c6c0dfff 97.9px,#e5e2f1ff 115.8px,#eceaf4c6 120.8px,#f1f0f865 130.8px,#f5f4fa26 142.8px,#f8f8fc01 177.7px)"></div>
<div style="left:39.3px;top:276px;width:5px;height:178px;background:linear-gradient(175.5deg,#dedaec01 0.2px,#e0ddee0c 15.1px,#e0ddee2e 23.1px,#dbd8eb7e 29.1px,#d3cfe6ff 33.1px,#c6c1e0ff 36.1px,#b2aad5ff 39.1px,#8b7fbeff 43.1px,#7265abff 45.1px,#615796ff 47.1px,#3a325dff 51px,#28213fff 55px,#28213fff 64px,#322b4fff 67px,#413867ff 70px,#655b9cff 75px,#7668aeff 78px,#8679bbff 80px,#a197cbff 84.9px,#b3abd5ff 89.9px,#c9c3e1ff 99.9px,#e6e3f1ff 116.8px,#ebe9f4ca 120.8px,#f1f0f867 130.8px,#f5f4fa27 142.8px,#f8f8fc01 177.7px)"></div>
<div style="left:44.3px;top:276px;width:5px;height:178px;background:linear-gradient(175.5deg,#dedbed01 0.2px,#e0ddee2a 22.1px,#dddaec60 27.1px,#d9d6eaa1 30.1px,#d2cde6ff 33.1px,#c9c4e1ff 35.1px,#afa7d3ff 39.1px,#877abbff 43.1px,#796bb1ff 44.1px,#675c9dff 46.1px,#3e3563ff 50px,#2e2749ff 53px,#28213fff 55px,#28213fff 63px,#30294dff 66px,#3e3563ff 69px,#635999ff 74px,#7365acff 77px,#8376b9ff 79px,#9b90c7ff 82.9px,#b2aad4ff 88.9px,#c8c3e1ff 98.9px,#e5e2f1ff 115.8px,#eceaf4c1 120.8px,#f2f0f861 130.8px,#f4f4fa28 141.8px,#f8f8fc01 177.6px)"></div>
<div style="left:49.3px;top:275px;width:5px;height:178px;background:linear-gradient(175.4deg,#dedbed01 0.2px,#e0ddee2d 23.1px,#dddaec66 28.1px,#d8d5e9ac 31.1px,#d4cfe7f6 33.1px,#c7c2e0ff 36.1px,#aca3d1ff 40.1px,#8174b7ff 44.1px,#7466acff 45.1px,#635999ff 47.1px,#3c335fff 51px,#292241ff 55px,#28213fff 63px,#2f284cff 66px,#3c3460ff 69px,#615795ff 74px,#7264aaff 77px,#8173b7ff 78.9px,#9e94c9ff 83.9px,#b4acd5ff 89.9px,#cac4e1ff 99.9px,#e4e2f0ff 115.8px,#ebe9f4c4 120.8px,#f1f0f863 130.8px,#f5f4fa25 142.7px,#f8f8fc01 177.6px)"></div>
<div style="left:54.3px;top:275px;width:5px;height:177px;background:linear-gradient(175.4deg,#dedbed01 0.2px,#e0ddee29 22.1px,#dddaec5d 27.1px,#dad6ea9b 30.1px,#d2cee6ff 33.1px,#c5bfdfff 36.1px,#b1a8d4ff 39.1px,#897cbdff 43.1px,#7063a9ff 45.1px,#5f5593ff 47px,#403766ff 50px,#332c52ff 52px,#28213fff 55px,#28213fff 62px,#2b2445ff 64px,#3b325eff 68px,#655b9bff 74px,#7567aeff 77px,#8679bbff 78.9px,#a197cbff 83.9px,#b3abd5ff 88.9px,#c9c4e1ff 98.9px,#e4e1f0ff 114.8px,#ebe9f4c7 119.8px,#f1f0f865 129.8px,#f5f4fa26 141.7px,#f8f8fc01 176.6px)"></div>
<div style="left:59.3px;top:274px;width:5px;height:177px;background:linear-gradient(175.3deg,#dedbed01 0.2px,#e0ddee2c 23.1px,#dddaec63 28.1px,#d9d5eaa7 31.1px,#d4d0e7ee 33.1px,#c8c3e1ff 36.1px,#ada5d2ff 40.1px,#8376b9ff 44.1px,#7668aeff 45.1px,#655a9bff 47px,#3d3461ff 51px,#2d2648ff 54px,#28213fff 56px,#28213fff 62px,#2e2748ff 65px,#3e3563ff 69px,#635998ff 74px,#7365acff 76.9px,#8376b9ff 78.9px,#9b90c7ff 82.9px,#b2aad4ff 88.9px,#c8c3e1ff 98.9px,#e4e2f0ff 115.8px,#ebe9f4be 120.8px,#f2f0f85f 130.8px,#f4f4fa27 141.7px,#f8f7fc01 176.6px)"></div>
<div style="left:64.3px;top:274px;width:5px;height:176px;background:linear-gradient(175.3deg,#dedbed01 0.2px,#e0ddee0d 15.2px,#e0ddee2f 23.1px,#dbd8eb7f 29.1px,#d3cee6ff 33.1px,#c6c0e0ff 36.1px,#b2aad4ff 39.1px,#8a7ebeff 43.1px,#7264aaff 45.1px,#605695ff 47px,#3a325dff 51px,#292241ff 55px,#28213fff 62px,#3c3460ff 68px,#605695ff 73px,#7164aaff 75.9px,#8073b7ff 77.9px,#998ec6ff 81.9px,#b1a9d4ff 87.9px,#c8c2e0ff 97.9px,#e4e1f0ff 114.8px,#ebe9f4c1 119.8px,#f1f0f861 129.8px,#f4f4fa27 140.7px,#f8f7fc01 175.6px)"></div>
<div style="left:69.3px;top:273px;width:5px;height:176px;background:linear-gradient(175.2deg,#dedbed01 0.2px,#e0ddee2b 23.1px,#dddaec61 28.1px,#d9d5eaa2 31.1px,#d1cde6ff 34.1px,#c9c4e1ff 36.1px,#aea6d2ff 40.1px,#8578bbff 44.1px,#786ab0ff 45.1px,#665b9cff 47px,#3e3563ff 51px,#332b51ff 53px,#282140ff 56px,#28213fff 62px,#322b50ff 66px,#403766ff 69px,#655b9bff 74px,#7567aeff 76.9px,#8679bbff 78.9px,#a197cbff 83.9px,#b3abd5ff 88.9px,#c9c4e1ff 98.9px,#e3e0f0ff 114.8px,#ebe9f4b8 120.8px,#f2f0f85b 130.8px,#f5f4fa25 141.7px,#f8f7fc01 175.6px)"></div>
<div style="left:74.3px;top:273px;width:5px;height:175px;background:linear-gradient(175.2deg,#dedbed01 0.2px,#e0ddee0d 15.2px,#e0ddee2e 23.1px,#ddd9ec68 28.1px,#d8d5e9ae 31.1px,#d3cfe7f9 33.1px,#c7c1e0ff 36.1px,#aba2d0ff 40.1px,#8072b6ff 44.1px,#7365abff 45.1px,#625897ff 47px,#3b335fff 51px,#312a4eff 53px,#28213fff 56px,#28213fff 61px,#2e2749ff 64px,#3e3563ff 68px,#635998ff 73px,#7365acff 75.9px,#8376b9ff 77.9px,#9b90c7ff 81.9px,#b2aad5ff 87.9px,#cac5e2ff 98.9px,#e4e1f0fd 114.8px,#ebe9f4bb 119.8px,#f1f0f85d 129.8px,#f4f4fa25 140.7px,#f8f7fc01 174.6px)"></div>
<div style="left:79.3px;top:272px;width:5px;height:175px;background:linear-gradient(175.1deg,#dedbed01 0.2px,#e0ddee2a 23.1px,#dddaec5e 28.1px,#d9d6ea9e 31.1px,#d2cde6ff 34.1px,#c5bfdfff 37.1px,#b0a7d3ff 40.1px,#877abcff 44.1px,#796cb1ff 45.1px,#675c9eff 47px,#3f3665ff 51px,#342c53ff 53px,#292241ff 56px,#28213fff 61px,#2d2648ff 64px,#3c3461ff 68px,#605695ff 72.9px,#7164aaff 75.9px,#8173b7ff 77.9px,#998fc6ff 81.9px,#b1a9d4ff 87.9px,#cac5e2ff 98.9px,#e3e1f0ff 114.8px,#ebeaf4b2 120.8px,#f1f0f857 130.7px,#f5f4fa23 141.7px,#f8f7fc01 174.6px)"></div>
<div style="left:84.3px;top:272px;width:5px;height:175px;background:linear-gradient(175.1deg,#dfdbed01 0.2px,#e0ddee2d 23.1px,#dddaec65 28.1px,#d9d5e9aa 31.1px,#d4cfe7f2 33.1px,#c8c2e0ff 36.1px,#aca3d1ff 40.1px,#8174b7ff 44.1px,#7466acff 45px,#635999ff 47px,#3c3460ff 51px,#322b4fff 53px,#292241ff 56px,#28213fff 60px,#2d2647ff 63px,#3b335eff 67px,#655b9bff 72.9px,#7567aeff 75.9px,#8679bbff 77.9px,#a198cbff 82.9px,#b4acd5ff 87.9px,#cbc6e2ff 98.9px,#e3e0efff 113.8px,#ebe9f4b5 119.8px,#f1f0f859 129.7px,#f5f4fa23 140.7px,#f8f7fc01 174.6px)"></div>
<div style="left:89.3px;top:272px;width:5px;height:174px;background:linear-gradient(175.1deg,#dfdced01 0.2px,#e0ddee0b 14.2px,#e0ddee30 23.1px,#dbd8eb81 29.1px,#d2cee6ff 33.1px,#c5c0dfff 36.1px,#b1a8d4ff 39.1px,#887cbcff 43.1px,#7063a8ff 45px,#5f5593ff 47px,#413867ff 50px,#2d2647ff 54px,#292240ff 56px,#28213fff 59px,#2f284bff 63px,#3e3563ff 67px,#635998ff 71.9px,#7365acff 74.9px,#8376b9ff 76.9px,#a096caff 81.9px,#b3abd5ff 86.9px,#cbc5e2ff 97.9px,#e2dfefff 112.8px,#eceaf4ac 119.8px,#f1f0f75a 128.7px,#f4f4fa24 139.7px,#f8f7fb01 173.6px)"></div>
<div style="left:94.3px;top:271px;width:5px;height:174px;background:linear-gradient(175.0deg,#dfdced01 0.2px,#e0ddee2c 23.1px,#dddaec63 28.1px,#d9d5eaa6 31.1px,#d1cce5ff 34.1px,#c8c3e1ff 36.1px,#ada4d1ff 40.1px,#8375b8ff 44.1px,#7567aeff 45px,#645a9aff 47px,#3d3462ff 51px,#2c2546ff 55px,#28213fff 59px,#2e274aff 63px,#3d3461ff 67px,#615795ff 71.9px,#7264aaff 74.9px,#887cbcff 77.9px,#a39accff 82.9px,#b5add6ff 87.9px,#ccc7e3ff 98.8px,#e2dfefff 112.8px,#ebe9f4ae 119.8px,#f1eff75c 128.7px,#f4f3fa25 139.7px,#f8f7fb01 173.6px)"></div>
<div style="left:99.3px;top:271px;width:5px;height:173px;background:linear-gradient(175.0deg,#dfdced01 0.2px,#e0ddee0b 14.2px,#e0ddee30 23.1px,#dbd8eb7f 29.1px,#d3cee6ff 33.1px,#c6c0dfff 36.1px,#b2a9d4ff 39.1px,#897dbdff 43.1px,#7164a9ff 45px,#605694ff 47px,#423969ff 50px,#2e2749ff 54px,#292240ff 58px,#2c2545ff 61px,#372f58ff 65px,#413868ff 67px,#655b9bff 71.9px,#7668aeff 74.9px,#8679bbff 76.9px,#a298cbff 81.9px,#b4acd5ff 86.9px,#ccc6e2ff 97.8px,#e3e0efff 112.8px,#eceaf4a5 119.8px,#f1f0f756 128.7px,#f5f4fa22 139.7px,#f8f7fb01 172.6px)"></div>
<div style="left:104.3px;top:270px;width:5px;height:173px;background:linear-gradient(174.9deg,#dfdced01 0.2px,#e0ddee2c 23.1px,#dddaec62 28.1px,#d9d5eaa3 31.1px,#d1cde5ff 34.1px,#c3bddeff 37.1px,#aea5d2ff 40.1px,#8477b9ff 44px,#7668afff 45px,#655b9bff 47px,#3e3563ff 51px,#30294cff 54px,#292241ff 58px,#2c2545ff 61px,#362f57ff 65px,#3f3665ff 67px,#635999ff 71.9px,#7366acff 74.9px,#8477b9ff 76.9px,#a097caff 81.9px,#b3abd5ff 86.9px,#cbc6e2ff 97.8px,#e2dfefff 112.8px,#ebe9f4a8 119.8px,#f1eff758 128.7px,#f4f4fa22 139.7px,#f8f7fb01 172.5px)"></div>
<div style="left:109.3px;top:270px;width:5px;height:172px;background:linear-gradient(174.9deg,#dfdced01 0.2px,#e0ddee0b 14.2px,#e0ddee2f 23.1px,#dbd8eb7d 29.1px,#d3cfe6fb 33.1px,#c7c1e0ff 36.1px,#b2aad4ff 39.1px,#8a7ebeff 43.1px,#7164aaff 45px,#615795ff 47px,#433a6bff 50px,#362f57ff 52px,#2f284aff 54px,#2a2342ff 58px,#2f284bff 62px,#39315bff 65px,#615796ff 70.9px,#7264abff 73.9px,#8274b8ff 75.9px,#9a90c7ff 79.9px,#b2aad5ff 85.9px,#c9c3e1ff 95.8px,#e2dfefff 111.8px,#ebe9f4aa 118.7px,#f0eff759 127.7px,#f4f3fa23 138.7px,#f8f7fb01 171.5px)"></div>
<div style="left:114.3px;top:269px;width:5px;height:172px;background:linear-gradient(174.8deg,#dfdced01 0.2px,#e0ddee2b 23.1px,#dddaec60 28.1px,#d9d5eaa0 31.1px,#d2cde6ff 34.1px,#c4bedeff 37.1px,#aea6d2ff 40.1px,#8578baff 44px,#7769afff 45px,#665b9cff 47px,#3f3665ff 51px,#312a4eff 54px,#2a2343ff 58px,#2d2647ff 61px,#38305aff 65px,#423969ff 67px,#665b9cff 71.9px,#7769afff 74.9px,#877abcff 76.9px,#a299ccff 81.9px,#b4add6ff 86.9px,#cac5e2ff 96.8px,#e1dfefff 111.8px,#ebe9f4a1 119.7px,#f1eff753 128.7px,#f5f4fa20 139.7px,#f7f7fb01 171.5px)"></div>
<div style="left:119.3px;top:269px;width:5px;height:171px;background:linear-gradient(174.8deg,#dfdced01 0.2px,#e0ddee2f 23.1px,#dcd8eb7b 29.1px,#d3cfe7f7 33.1px,#bab3d9ff 38.1px,#8b7fbeff 43px,#7265abff 45px,#615796ff 47px,#3c3460ff 51px,#30294cff 54px,#2b2444ff 58px,#312a4eff 62px,#3b335fff 65px,#645a9aff 70.9px,#7466adff 73.9px,#8578baff 75.9px,#a197cbff 80.9px,#b4acd5ff 85.9px,#cbc6e2ff 96.8px,#e2e0effe 111.8px,#ebe9f4a4 118.7px,#f0eff755 127.7px,#f4f4fa21 138.7px,#f7f7fb01 170.5px)"></div>
<div style="left:124.3px;top:268px;width:5px;height:171px;background:linear-gradient(174.8deg,#dfdced01 0.2px,#e0ddee2b 23.1px,#dcd9ec70 29.1px,#d5d1e7e0 33.1px,#d2cde6ff 34.1px,#b7b0d7ff 39.1px,#8679bbff 44px,#786ab0ff 45px,#665c9dff 47px,#403766ff 51px,#312a4fff 54px,#2c2545ff 58px,#30294dff 62px,#3a325dff 65px,#625897ff 70.9px,#7265abff 73.9px,#8375b8ff 75.9px,#a096caff 80.9px,#b3abd5ff 85.9px,#c9c4e1ff 95.8px,#e2dfefff 111.8px,#ebe9f49b 119.7px,#f1eff74f 128.7px,#f4f3fa21 138.6px,#f7f7fb01 170.5px)"></div>
<div style="left:129.3px;top:268px;width:5px;height:170px;background:linear-gradient(174.7deg,#dfdced01 0.2px,#e0ddee2e 23.1px,#dcd8eb79 29.1px,#d4cfe7f3 33.1px,#bbb4d9ff 38.1px,#8c80beff 43px,#7265abff 45px,#625897ff 47px,#3d3461ff 51px,#30294dff 54px,#2c2547ff 58px,#322b51ff 62px,#3d3462ff 65px,#665c9dff 70.9px,#786ab0ff 73.9px,#887bbcff 75.9px,#a39accff 80.9px,#b5add6ff 85.9px,#cac5e2ff 95.8px,#e2dfefff 110.8px,#ebe9f49d 118.7px,#f0eff750 127.7px,#f4f3f922 137.6px,#f7f7fb01 169.5px)"></div>
<div style="left:134.3px;top:267px;width:5px;height:170px;background:linear-gradient(174.7deg,#dfdced01 0.2px,#e0ddee2b 23.1px,#dcd9ec6f 29.1px,#d5d1e7dd 33.1px,#d2cee6ff 34.1px,#b8b0d7ff 39.1px,#8679bbff 44px,#796bb1ff 45px,#675c9dff 47px,#413867ff 51px,#322b50ff 54px,#2d2647ff 58px,#322b50ff 62px,#3c3360ff 65px,#655a9bff 70.9px,#7567aeff 73.9px,#8679bbff 75.9px,#a298cbff 80.9px,#b4add6ff 85.9px,#cac5e2ff 95.8px,#e1deeeff 110.8px,#ebe9f49f 118.7px,#f0eff752 127.7px,#f4f3f922 137.6px,#f7f7fb01 169.5px)"></div>
<div style="left:139.3px;top:267px;width:5px;height:169px;background:linear-gradient(174.7deg,#dfdced01 0.2px,#e0ddee2e 23.1px,#dcd8eb78 29.1px,#d4cfe7f0 33.1px,#bbb4daff 38.1px,#8c80bfff 43px,#7365acff 45px,#625898ff 47px,#3d3562ff 51px,#312a4fff 54px,#2d2648ff 57px,#322b4fff 61px,#3b335fff 64px,#635998ff 69.9px,#7365acff 72.9px,#8477b9ff 74.9px,#a197cbff 79.9px,#b4acd5ff 84.9px,#cac4e1ff 94.8px,#e1deeeff 109.8px,#ebe9f496 118.7px,#f0eff74c 127.7px,#f4f4fa20 137.6px,#f7f7fb01 168.5px)"></div>
<div style="left:144.3px;top:266px;width:5px;height:169px;background:linear-gradient(174.6deg,#dfdced01 0.2px,#e0ddee2b 23.1px,#dcd9ec6d 29.1px,#d5d1e8da 33.1px,#d2cee6ff 34.1px,#b8b0d8ff 39.1px,#877abbff 44px,#796cb1ff 45px,#675c9eff 47px,#423969ff 51px,#332c52ff 54px,#2e2749ff 58px,#312a4fff 61px,#3e3563ff 64.9px,#615796ff 69.9px,#7264aaff 72.9px,#897cbdff 75.9px,#a49bcdff 80.9px,#b6aed7ff 85.9px,#cbc6e2ff 95.8px,#e2dfeffe 110.7px,#ebe9f498 118.7px,#f0eff74d 127.7px,#f4f3f920 137.6px,#f7f7fb01 168.5px)"></div>
<div style="left:149.3px;top:266px;width:5px;height:168px;background:linear-gradient(174.6deg,#e0dced01 0.2px,#e0ddee2e 23.1px,#dcd8eb76 29.1px,#d4d0e7ed 33.1px,#bcb5daff 38.1px,#8d81bfff 43px,#7365acff 45px,#635998ff 47px,#3e3563ff 51px,#322b50ff 54px,#2f284aff 57px,#312a4fff 60px,#3d3462ff 64px,#665b9cff 69.9px,#7769afff 72.9px,#877abcff 74.9px,#a39accff 79.9px,#b5add6ff 84.9px,#cac5e2ff 94.8px,#e2dfefff 109.7px,#ebe9f49a 117.7px,#f0eef74e 126.7px,#f4f3f920 136.6px,#f7f7fb01 167.5px)"></div>
<div style="left:154.3px;top:265px;width:5px;height:169px;background:linear-gradient(174.6deg,#e0dced01 0.2px,#e0ddee2a 23.1px,#dcd9ec6d 29.1px,#d5d1e8d8 33.1px,#d2cee6ff 34.1px,#b8b1d8ff 39.1px,#877abcff 44px,#7a6cb1ff 45px,#675c9eff 47px,#42396aff 51px,#342c53ff 54px,#2f284cff 58px,#332c52ff 61px,#3c3460ff 63.9px,#645a9aff 69.9px,#7466adff 72.9px,#8578baff 74.9px,#a298cbff 79.9px,#b4add6ff 84.9px,#cac5e2ff 94.8px,#e1deeeff 109.7px,#ebe9f492 118.7px,#f0eff749 127.7px,#f4f3f91e 137.6px,#f7f7fb01 168.5px)"></div>
<div style="left:159.3px;top:264px;width:5px;height:169px;background:linear-gradient(174.5deg,#e0dced01 0.2px,#e1deee0b 15.2px,#e0ddee2e 24.1px,#dcd8eb76 30.1px,#d4d0e7eb 34.1px,#bcb5daff 39.1px,#8d81bfff 44px,#7365acff 46px,#635999ff 48px,#3f3664ff 52px,#332c51ff 55px,#30294cff 58px,#332c51ff 61px,#3c335fff 63.9px,#625897ff 69.9px,#7365abff 72.9px,#8376b9ff 74.9px,#a197caff 79.9px,#b7afd7ff 85.8px,#cbc6e2ff 95.8px,#e1deeeff 109.7px,#ebe9f493 118.7px,#f0eef74a 127.7px,#f4f3f91e 137.6px,#f7f7fb01 168.5px)"></div>
<div style="left:164.3px;top:264px;width:5px;height:168px;background:linear-gradient(174.5deg,#e0ddee01 0.2px,#e0ddee2a 23.1px,#dcd9ec6c 29.1px,#d5d1e8d6 33.1px,#d2cee6ff 34.1px,#bfb9dcff 38.1px,#9387c2ff 43px,#7a6cb2ff 45px,#5e5492ff 48px,#433a6bff 51px,#352d54ff 54px,#30294dff 57px,#332c51ff 60px,#3f3664ff 63.9px,#675c9dff 69.9px,#7164aaff 71.9px,#897cbdff 74.9px,#a49bcdff 79.9px,#b6aed7ff 84.8px,#cbc6e2ff 94.8px,#e1deeeff 108.7px,#ebe9f495 117.7px,#f0eef74b 126.7px,#f4f3f91f 136.6px,#f7f7fb01 167.5px)"></div>
<div style="left:169.3px;top:263px;width:5px;height:168px;background:linear-gradient(174.5deg,#e0ddee01 0.2px,#e1deee0b 15.2px,#e0dced2e 24.1px,#dcd8eb75 30.1px,#d4d0e7ea 34.1px,#bcb5daff 39.1px,#8d81bfff 44px,#7366acff 46px,#635999ff 48px,#3f3665ff 52px,#342c53ff 55px,#312a4eff 58px,#352d54ff 61px,#3e3563ff 63.9px,#655b9bff 69.9px,#7668afff 72.9px,#877abbff 74.9px,#a39accff 79.9px,#b5aed6ff 84.8px,#cbc5e2ff 94.8px,#e2dfeffd 109.7px,#ebe9f497 117.7px,#efeef74c 126.6px,#f3f2f91f 136.6px,#f7f6fb01 167.5px)"></div>
<div style="left:174.3px;top:263px;width:5px;height:167px;background:linear-gradient(174.4deg,#e0ddee01 0.2px,#e0ddee2b 23.1px,#dcd9ec6c 29.1px,#d5d1e8d5 33.1px,#d2cee6ff 34.1px,#bfb9dcff 38.1px,#9387c2ff 43px,#6f63a8ff 46px,#443a6cff 51px,#352e55ff 54px,#322b4fff 57px,#352d54ff 60px,#3d3461ff 62.9px,#645a99ff 68.9px,#7466adff 71.9px,#8578baff 73.9px,#a298cbff 78.9px,#b5add6ff 83.8px,#cac5e2ff 93.8px,#e1deeeff 108.7px,#ebe9f48e 117.7px,#f0eef747 126.6px,#f4f3f91c 136.6px,#f7f6fb01 166.5px)"></div>
<div style="left:179.3px;top:262px;width:5px;height:167px;background:linear-gradient(174.4deg,#e0ddee01 0.2px,#e0dced2e 24.1px,#dcd8eb75 30.1px,#d4d0e7e9 34.1px,#d1cce5ff 35.1px,#bcb5daff 39.1px,#8d81bfff 44px,#7366acff 46px,#635999ff 48px,#403766ff 52px,#352d54ff 55px,#322b51ff 58px,#3c3460ff 62.9px,#625897ff 68.9px,#7265abff 71.9px,#8376b9ff 73.9px,#a197cbff 78.9px,#b7afd7ff 84.8px,#e1deeeff 108.7px,#ebe9f490 117.7px,#efeef748 126.6px,#f3f2f91d 136.6px,#f7f6fb01 166.4px)"></div>
<div style="left:184.3px;top:262px;width:5px;height:166px;background:linear-gradient(174.4deg,#e0ddee01 0.2px,#e0dded2b 23.1px,#dcd9ec6b 29.1px,#d5d1e8d4 33.1px,#d2cee6fe 34.1px,#b8b1d8ff 39.1px,#877abcff 44px,#6f63a8ff 46px,#443b6cff 51px,#362f57ff 54px,#332c52ff 57px,#362f57ff 60px,#403766ff 62.9px,#665c9dff 68.9px,#786ab0ff 71.9px,#887cbcff 73.9px,#a49bcdff 78.9px,#b6afd7ff 83.8px,#c9c4e1ff 92.8px,#e1deeeff 107.7px,#ebe9f492 116.7px,#efeef648 125.6px,#f3f2f91d 135.6px,#f7f6fb01 165.4px)"></div>
<div style="left:189.3px;top:261px;width:5px;height:166px;background:linear-gradient(174.4deg,#e0ddee01 0.2px,#dfdced2e 24.1px,#dcd8eb74 30.1px,#d4d0e7e8 34.1px,#d1cce5ff 35.1px,#bcb5daff 39.1px,#8d81bfff 44px,#7365acff 46px,#635999ff 48px,#413867ff 52px,#38305aff 54px,#342c53ff 57px,#362f57ff 60px,#3f3664ff 62.9px,#655b9bff 68.9px,#7668aeff 71.9px,#877abbff 73.9px,#a39accff 78.9px,#b6aed6ff 83.8px,#c9c3e1ff 92.8px,#e0ddeeff 107.7px,#eae8f493 116.7px,#efedf649 125.6px,#f3f2f91d 135.6px,#f7f6fb01 165.4px)"></div>
<div style="left:194.3px;top:261px;width:5px;height:165px;background:linear-gradient(174.3deg,#e0ddee01 0.2px,#e0ddee2b 23.1px,#dcd9ec6b 29.1px,#d5d1e8d4 33.1px,#d2cee6fd 34.1px,#b8b1d8ff 39.1px,#877abcff 44px,#6f63a8ff 46px,#453b6dff 51px,#3e3563ff 52px,#372f58ff 54px,#342d54ff 57px,#3e3563ff 61.9px,#645a99ff 67.9px,#7466adff 70.9px,#8578baff 72.9px,#a299cbff 77.9px,#b8b0d8ff 83.8px,#e0ddeeff 106.7px,#ebe9f48b 116.7px,#f3f2f81e 134.6px,#f7f6fb01 164.4px)"></div>
<div style="left:199.3px;top:260px;width:5px;height:165px;background:linear-gradient(174.3deg,#e0ddee01 0.2px,#e0dced2e 24.1px,#dcd8eb74 30.1px,#d4d0e7e7 34.1px,#d1cce5ff 35.1px,#bcb5daff 39.1px,#8d81bfff 44px,#7365acff 46px,#635999ff 48px,#413868ff 52px,#39315bff 54px,#352e55ff 57px,#3d3462ff 61.9px,#625897ff 67.9px,#7265abff 70.9px,#8a7ebdff 73.9px,#a69dcdff 78.9px,#b7b0d7ff 83.8px,#e1deeefd 107.7px,#ebe9f48c 116.7px,#f2f1f81e 134.6px,#f7f6fb01 164.4px)"></div>
<div style="left:204.3px;top:260px;width:5px;height:164px;background:linear-gradient(174.3deg,#e0ddee01 0.2px,#e0ddee2b 23.1px,#dcd9eb6b 29.1px,#d5d1e8d3 33.1px,#d2cee6fd 34.1px,#b8b1d8ff 39.1px,#877abcff 44px,#6f62a7ff 46px,#453c6eff 51px,#3e3563ff 52px,#38305aff 54px,#362e56ff 57px,#3a325dff 60px,#413868ff 61.9px,#675c9dff 67.9px,#7164aaff 69.9px,#897cbdff 72.9px,#a59bcdff 77.9px,#b7afd7ff 82.8px,#cac4e1ff 91.8px,#e1deeeff 106.7px,#ebe9f48e 115.7px,#f2f1f81e 133.6px,#f7f6fb01 163.4px)"></div>
<div style="left:209.3px;top:259px;width:5px;height:164px;background:linear-gradient(174.3deg,#e0ddee01 0.3px,#e1deee0c 15.2px,#e0dced2e 24.1px,#dcd8eb74 30.1px,#d4d0e7e7 34.1px,#d1cce5ff 35.1px,#bcb5daff 39.1px,#8c80bfff 44px,#7365acff 46px,#635999ff 48px,#494074ff 51px,#3d3461ff 53px,#372f57ff 57px,#3a325dff 59.9px,#403767ff 61.9px,#655b9bff 67.9px,#7668aeff 70.9px,#877abcff 72.9px,#a49accff 77.9px,#b6afd7ff 82.8px,#c9c4e1ff 91.8px,#e0ddeeff 106.7px,#eae8f48f 115.7px,#f2f1f81f 133.6px,#f7f6fb01 163.4px)"></div>
<div style="left:214.3px;top:259px;width:5px;height:163px;background:linear-gradient(174.2deg,#e0ddee01 0.3px,#e0ddee2b 23.1px,#dcd9eb6b 29.1px,#d5d1e8d3 33.1px,#d2cee6fd 34.1px,#bfb9dcff 38.1px,#9286c2ff 43px,#796bb1ff 45px,#463c6fff 51px,#3b335fff 53px,#372f58ff 56px,#403765ff 60.9px,#645a9aff 66.9px,#7466adff 69.9px,#8578baff 71.9px,#a399ccff 76.9px,#b8b1d8ff 82.8px,#e0ddeeff 105.7px,#ebe9f486 115.7px,#f2f1f81c 133.6px,#f7f6fb01 162.4px)"></div>
<div style="left:219.3px;top:258px;width:5px;height:163px;background:linear-gradient(174.2deg,#e0ddee01 0.3px,#e1deee0c 15.2px,#e0dced2f 24.1px,#dbd8eb74 30.1px,#d4d0e7e7 34.1px,#d1cce5ff 35.1px,#bcb5daff 39.1px,#8c80bfff 44px,#7365acff 46px,#494075ff 51px,#3d3462ff 53px,#38305aff 57px,#3f3665ff 60.9px,#625898ff 66.9px,#7365abff 69.9px,#8376b9ff 71.9px,#a69dceff 77.9px,#b8b0d8ff 82.8px,#e0ddeeff 105.7px,#ebe9f488 115.7px,#f2f1f81c 133.6px,#f7f6fb01 162.4px)"></div>
<div style="left:224.3px;top:257px;width:5px;height:163px;background:linear-gradient(174.2deg,#e0ddee01 0.3px,#e0ddee2c 24.1px,#dcd9eb6b 30.1px,#d5d1e8d4 34.1px,#d2cee6fd 35.1px,#bfb8dcff 39.1px,#9186c2ff 44px,#786bb0ff 46px,#463d6fff 52px,#3c3360ff 54px,#39315bff 57px,#3e3564ff 60.9px,#7164aaff 69.9px,#897cbdff 72.9px,#a59ccdff 77.9px,#b7b0d7ff 82.8px,#dfdcedff 105.7px,#ebe9f489 115.7px,#f2f1f81d 133.6px,#f7f6fb01 162.4px)"></div>
<div style="left:229.3px;top:257px;width:5px;height:162px;background:linear-gradient(174.2deg,#e0ddee01 0.3px,#e1deee0c 15.2px,#e0dced2f 24.1px,#dbd8eb75 30.1px,#d4cfe7e8 34.1px,#d1cce5ff 35.1px,#c2bcddff 38.1px,#978cc5ff 43px,#7265abff 46px,#4a4075ff 51px,#3e3563ff 53px,#39315cff 56px,#3e3563ff 59.9px,#665b9cff 66.9px,#7669afff 69.9px,#877bbcff 71.9px,#a49bcdff 76.9px,#b7afd7ff 81.8px,#c9c4e1ff 90.8px,#e0ddeefc 105.7px,#eae8f48b 114.7px,#f2f0f81d 132.6px,#f7f6fb01 161.4px)"></div>
<div style="left:234.3px;top:256px;width:5px;height:162px;background:linear-gradient(174.1deg,#e0ddee01 0.3px,#e0ddee2c 24.1px,#dcd8eb6c 30.1px,#d5d1e7d4 34.1px,#d2cee6fe 35.1px,#bfb8dbff 39.1px,#9185c1ff 44px,#786ab0ff 46px,#4e447bff 51px,#3d3461ff 54px,#3a325dff 57px,#423969ff 60.9px,#645a9aff 66.9px,#7466adff 69.9px,#8679bbff 71.9px,#a39accff 76.9px,#b9b1d8ff 82.8px,#e0ddeefe 105.7px,#ebe9f482 115.7px,#f2f0f81a 133.6px,#f7f6fb01 161.4px)"></div>
<div style="left:239.3px;top:256px;width:5px;height:161px;background:linear-gradient(174.1deg,#e1deee01 0.3px,#e1deee0c 15.2px,#e0dced2f 24.1px,#dbd8eb75 30.1px,#d4cfe7e8 34.1px,#c2bcddff 38.1px,#968bc4ff 43px,#7265abff 46px,#4a4176ff 51px,#3f3664ff 53px,#3b325eff 56px,#413868ff 59.9px,#7365acff 68.9px,#8477b9ff 70.9px,#a79eceff 76.9px,#b8b1d8ff 81.8px,#e0ddeeff 104.7px,#ebe9f483 114.7px,#f1f0f81b 132.6px,#f7f6fb01 160.4px)"></div>
<div style="left:244.3px;top:255px;width:5px;height:161px;background:linear-gradient(174.1deg,#e1deee01 0.3px,#e0ddee2c 24.1px,#dcd8eb6c 30.1px,#d5d1e7d5 34.1px,#d2cee6ff 35.1px,#beb8dbff 39.1px,#9085c1ff 44px,#7769b0ff 46px,#4e447bff 51px,#3e3563ff 54px,#3c335fff 57px,#3e3563ff 58.9px,#4a4075ff 61.9px,#7264abff 68.9px,#8a7dbdff 71.9px,#a69dceff 76.9px,#b8b0d8ff 81.8px,#dfdcedff 104.7px,#ebe9f485 114.6px,#f1f0f81b 132.6px,#f6f6fb01 160.4px)"></div>
<div style="left:249.3px;top:255px;width:5px;height:160px;background:linear-gradient(174.1deg,#e1deee01 0.3px,#e1deee0c 15.2px,#e0dced30 24.1px,#dbd8eb75 30.1px,#d3cfe7e9 34.1px,#c2bbddff 38.1px,#968ac4ff 43px,#7264aaff 46px,#524881ff 50px,#403766ff 53px,#3c3360ff 56px,#3e3563ff 57.9px,#494074ff 60.9px,#776ab0ff 68.9px,#887bbcff 70.9px,#a59ccdff 75.9px,#b7b0d7ff 80.8px,#dfdcedff 103.7px,#eae8f486 113.7px,#f1f0f81b 131.6px,#f6f6fb01 159.4px)"></div>
<div style="left:254.3px;top:254px;width:5px;height:160px;background:linear-gradient(174.1deg,#e1deee01 0.3px,#e0ddee2d 24.1px,#dcd8eb6d 30.1px,#d5d1e7d6 34.1px,#d2cde6ff 35.1px,#beb7dbff 39px,#9a90c7ff 43px,#7769afff 46px,#4e447cff 51px,#3f3664ff 54px,#3d3461ff 56px,#3e3563ff 57.9px,#493f73ff 60.9px,#7567aeff 68.9px,#877abbff 70.9px,#a49bccff 75.9px,#b9b2d9ff 81.8px,#dfdcedff 103.7px,#ebe9f47d 114.6px,#f1f0f71b 131.6px,#f6f6fb01 159.4px)"></div>
<div style="left:259.3px;top:254px;width:5px;height:159px;background:linear-gradient(174.1deg,#e1deee01 0.3px,#e1deee0d 15.2px,#e0dced30 24.1px,#dbd8eb76 30.1px,#d3cfe7ea 34.1px,#c1bbddff 38.1px,#958ac4ff 43px,#7164aaff 46px,#524881ff 50px,#413868ff 53px,#3e3562ff 56px,#483e72ff 59.9px,#7466adff 67.9px,#9387c2ff 71.9px,#b3abd5ff 78.8px,#cbc6e2ff 89.8px,#e0ddeefa 103.7px,#ebe9f47f 113.6px,#f1eff71c 130.6px,#f6f6fb01 158.4px)"></div>
<div style="left:264.3px;top:253px;width:5px;height:160px;background:linear-gradient(174.0deg,#e1deee01 0.3px,#e0ddee2d 24.1px,#dcd8eb6c 30.1px,#d5d1e7d4 34.1px,#d2cde6fe 35.1px,#beb8dbff 39px,#9b91c7ff 43px,#8679bbff 45px,#6f62a7ff 47px,#453b6dff 53px,#3e3563ff 56px,#43396aff 58.9px,#4f457dff 61.9px,#7668afff 68.9px,#9489c3ff 72.9px,#b4acd6ff 79.8px,#ccc6e2ff 90.8px,#dfdcedff 103.7px,#ebe9f47a 114.6px,#f1eff71a 131.5px,#f6f6fb01 159.4px)"></div>
<div style="left:269.3px;top:253px;width:5px;height:159px;background:linear-gradient(174.0deg,#e1deee01 0.3px,#e1dfef0d 15.2px,#e0dced30 24.1px,#dbd8eb75 30.1px,#d4cfe7e6 34.1px,#c8c2e0ff 37.1px,#b4acd6ff 40px,#8d81bfff 44px,#7466adff 46px,#493f73ff 52px,#413868ff 54px,#3f3665ff 56px,#443b6dff 58.9px,#514780ff 61.9px,#7264abff 67.9px,#9084c1ff 71.9px,#b2aad4ff 78.8px,#ccc7e3ff 90.8px,#e0ddeefa 103.7px,#ebe9f47f 113.6px,#f1eff71c 130.6px,#f6f6fb01 158.4px)"></div>
<div style="left:274.3px;top:252px;width:5px;height:160px;background:linear-gradient(174.0deg,#e1deee01 0.3px,#e0ddee2d 24.1px,#dcd8eb6c 30.1px,#d5d1e7d1 34.1px,#d2cee6f9 35.1px,#b9b1d8ff 40px,#897dbdff 45px,#7264aaff 47px,#483e72ff 53px,#413868ff 55px,#403766ff 57px,#4a4075ff 60.9px,#7366acff 68.9px,#9286c2ff 72.9px,#b3abd5ff 79.8px,#cdc8e3ff 91.8px,#dfdcedff 103.7px,#ebe9f47a 114.6px,#f1eff71a 131.5px,#f6f6fb01 159.4px)"></div>
<div style="left:279.3px;top:252px;width:5px;height:159px;background:linear-gradient(174.0deg,#e1deee01 0.3px,#e1dfef0d 15.2px,#e0dced30 24.1px,#dbd8eb74 30.1px,#d4cfe7e2 34.1px,#d1cce5ff 35.1px,#c3bddeff 38.1px,#9b90c7ff 43px,#6f63a8ff 47px,#473e71ff 53px,#413868ff 56px,#453b6dff 58.9px,#50467fff 61.9px,#7668aeff 68.9px,#9488c3ff 72.9px,#b4acd5ff 79.8px,#cec9e4ff 91.8px,#e0ddeefa 103.7px,#ebe9f476 114.6px,#f1f0f719 131.5px,#f6f6fb01 158.4px)"></div>
<div style="left:284.3px;top:251px;width:5px;height:160px;background:linear-gradient(174.0deg,#e1deee01 0.3px,#e0ddee2c 24.1px,#dcd8eb6b 30.1px,#d5d1e8cd 34.1px,#cfcae4ff 36.1px,#c1baddff 39px,#a197cbff 43px,#7567adff 47px,#4b4277ff 53px,#443b6cff 55px,#423969ff 56.9px,#4a4075ff 60.9px,#7264aaff 68.9px,#958ac4ff 73.9px,#b5add6ff 80.8px,#cfcae4ff 92.8px,#dfdcedff 103.7px,#ebe9f47b 114.6px,#f1eff71a 131.5px,#f6f6fb01 159.4px)"></div>
<div style="left:289.3px;top:251px;width:5px;height:159px;background:linear-gradient(174.0deg,#e1deee01 0.3px,#e2dfef0c 15.2px,#e0dced30 24.1px,#dbd8eb73 30.1px,#d4d0e7de 34.1px,#d1cce5ff 35.1px,#b7b0d7ff 40px,#897cbdff 45px,#7265abff 47px,#4b4176ff 53px,#443b6cff 55px,#433a6aff 56.9px,#4c4278ff 60.9px,#7366acff 68.9px,#978cc5ff 73.9px,#b6aed7ff 80.8px,#cfcbe4ff 92.8px,#e0dcedfb 103.7px,#ebe9f476 114.6px,#f0eef726 127.6px,#f6f6fb01 158.4px)"></div>
<div style="left:294.3px;top:250px;width:5px;height:160px;background:linear-gradient(174.0deg,#e1deee01 0.3px,#e0ddee2c 24.1px,#dcd8eb6a 30.1px,#d5d1e8ca 34.1px,#d0cbe5ff 36.1px,#c2bbddff 39px,#a39accff 43px,#8578baff 46px,#7063a8ff 48px,#4a4075ff 54px,#443a6cff 56.9px,#4a4075ff 60.9px,#7063a9ff 68.9px,#8679bbff 71.9px,#998ec6ff 74.8px,#b7afd7ff 81.8px,#d0cbe5ff 93.7px,#dfdcedff 103.7px,#ebeaf472 115.6px,#f0eef728 127.6px,#f6f6fb01 159.4px)"></div>
<div style="left:299.3px;top:250px;width:5px;height:159px;background:linear-gradient(174.0deg,#e1deee01 0.3px,#e2dfef0c 15.2px,#e0dded30 24.1px,#dbd8eb72 30.1px,#d4d0e7db 34.1px,#d1cde5ff 35.1px,#b9b1d8ff 40px,#8c80bfff 45px,#7567aeff 47px,#4e447bff 53px,#473d70ff 55px,#453b6dff 56.9px,#4c4278ff 60.9px,#7264abff 68.9px,#958ac4ff 73.9px,#b8b0d8ff 81.8px,#d1cce5ff 93.7px,#dfdcedfb 103.7px,#ebe9f476 114.6px,#f0eef72a 126.6px,#f6f6fb01 158.4px)"></div>
<div style="left:304.3px;top:249px;width:5px;height:160px;background:linear-gradient(174.0deg,#e1deee01 0.3px,#e0ddee26 23.1px,#dddaec5b 29.1px,#d6d1e8c8 34.1px,#d0cbe5ff 36.1px,#b6aed7ff 41px,#897cbdff 46px,#7265abff 48px,#4d437aff 54px,#473d71ff 56px,#463c6fff 57.9px,#4e447bff 61.9px,#7366acff 69.9px,#978cc5ff 74.8px,#b9b1d8ff 82.8px,#d1cde6ff 94.7px,#dfdcedff 103.7px,#ebe9f472 115.6px,#f0eef728 127.6px,#f6f6fb01 159.4px)"></div>
<div style="left:309.3px;top:249px;width:5px;height:159px;background:linear-gradient(174.0deg,#e1deee01 0.3px,#e0ddee29 23.1px,#dcd9ec62 29.1px,#d4d0e7d7 34.1px,#d2cde6fe 35.1px,#c6c0dfff 38.1px,#b3abd5ff 41px,#8578baff 46px,#7063a9ff 48px,#4d4379ff 54px,#473d70ff 56.9px,#4c4379ff 60.9px,#7163a9ff 68.9px,#8679bbff 71.9px,#988ec6ff 74.8px,#bab3d9ff 82.8px,#d2cee6ff 94.7px,#dfdcedfc 103.7px,#ebe9f476 114.6px,#f0eef72a 126.6px,#f6f6fb01 158.4px)"></div>
<div style="left:314.3px;top:248px;width:5px;height:160px;background:linear-gradient(174.0deg,#e1deee01 0.3px,#e0ddee2c 24.1px,#dcd9eb69 30.1px,#d3cfe7e8 35.1px,#d0cce5ff 36.1px,#b7b0d7ff 41px,#8c80beff 46px,#7668aeff 48px,#4c4379ff 55px,#473e71ff 57.9px,#4e447cff 61.9px,#7265abff 69.9px,#887bbcff 72.9px,#9a8fc7ff 75.8px,#bbb4d9ff 83.8px,#d3cfe6ff 95.7px,#dfdbedff 103.7px,#ebe9f472 115.6px,#f0eef728 127.6px,#f6f6fb01 159.4px)"></div>
<div style="left:319.3px;top:248px;width:5px;height:159px;background:linear-gradient(174.0deg,#e1deee01 0.3px,#e0ddee29 23.1px,#dcd9ec61 29.1px,#d5d0e7d4 34.1px,#d2cee6fa 35.1px,#c7c1e0ff 38.1px,#b5add6ff 41px,#897cbdff 46px,#7365acff 48px,#50467eff 54px,#4a4075ff 56px,#483f73ff 57.9px,#50467eff 61.9px,#7466adff 69.9px,#9c91c8ff 75.8px,#b9b1d8ff 82.8px,#d2cee6ff 94.7px,#dfdcedfc 103.7px,#ebe9f477 114.6px,#efeef72a 126.6px,#f6f6fb01 158.4px)"></div>
<div style="left:324.3px;top:247px;width:5px;height:160px;background:linear-gradient(174.0deg,#e1deee01 0.3px,#e0ddee2c 24.1px,#dcd9eb69 30.1px,#d3cfe7e4 35.1px,#d1cce5ff 36.1px,#b9b1d8ff 41px,#8f83c0ff 46px,#7164a9ff 49px,#4f457dff 55px,#494074ff 58.9px,#524881ff 62.9px,#7164a9ff 69.9px,#8679bbff 72.9px,#988dc5ff 75.8px,#bab3d9ff 83.8px,#d3cee6ff 95.7px,#dfdbedff 103.7px,#ebe9f472 115.6px,#f0eef728 127.6px,#f6f6fb01 159.4px)"></div>
<div style="left:329.3px;top:247px;width:5px;height:159px;background:linear-gradient(173.9deg,#e1deee01 0.3px,#e0ddee29 23.1px,#dcd9ec61 29.1px,#d5d1e7d1 34.1px,#cfcae4ff 36.1px,#b6aed7ff 41px,#8c7fbeff 46px,#7668afff 48px,#6f62a7ff 49px,#4f457dff 55px,#4a4176ff 57.9px,#50467fff 61.9px,#7265abff 69.9px,#9a8fc6ff 75.8px,#bbb4d9ff 83.8px,#d3cfe7ff 95.7px,#dfdcedfc 103.7px,#ebe9f477 114.6px,#efeef72a 126.6px,#f6f6fb01 158.4px)"></div>
<div style="left:334.3px;top:246px;width:5px;height:160px;background:linear-gradient(173.9deg,#e1deee01 0.3px,#e0ddee2c 24.1px,#dcd9eb68 30.1px,#d4cfe7e1 35.1px,#d1cce5ff 36.1px,#b3abd5ff 42px,#897cbcff 47px,#7366acff 49px,#524882ff 55px,#4b4177ff 58.9px,#524882ff 62.9px,#7466adff 70.9px,#8a7ebdff 73.9px,#a097caff 77.8px,#beb8dbff 85.8px,#d4d0e7ff 96.7px,#dedbedff 103.7px,#ebe9f472 115.6px,#f0eef728 127.6px,#f6f6fb01 159.4px)"></div>
<div style="left:339.3px;top:246px;width:5px;height:159px;background:linear-gradient(173.9deg,#e1deee01 0.3px,#e0ddee29 23.1px,#dcd9ec61 29.1px,#d5d1e7ce 34.1px,#d0cbe5ff 36.1px,#b7b0d7ff 41px,#8578baff 47px,#7264aaff 49px,#524881ff 55px,#4c4279ff 58.9px,#544a84ff 62.9px,#7164aaff 69.9px,#8679bbff 72.9px,#9d93c8ff 76.8px,#bab3d9ff 83.8px,#d3cfe7ff 95.7px,#dfdcedfc 103.7px,#ebe9f477 114.6px,#efeef72a 126.6px,#f6f6fb01 158.4px)"></div>
<div style="left:344.3px;top:245px;width:5px;height:160px;background:linear-gradient(173.9deg,#e1deee01 0.3px,#e0ddee2c 24.1px,#dcd8eb68 30.1px,#d4d0e7de 35.1px,#d1cde5ff 36.1px,#b5add6ff 42px,#8c7fbeff 47px,#7063a8ff 50px,#554b86ff 55px,#4d437aff 58.9px,#534982ff 62.9px,#7365acff 70.9px,#887cbcff 73.9px,#a49accff 78.8px,#c0badcff 86.8px,#d6d2e8ff 97.7px,#dedbedff 103.7px,#ebe9f472 115.6px,#efeef62c 126.6px,#f6f6fb01 159.4px)"></div>
<div style="left:349.3px;top:245px;width:5px;height:159px;background:linear-gradient(173.9deg,#e1deee01 0.3px,#e0ddee29 23.1px,#dcd9ec60 29.1px,#d5d1e8cc 34.1px,#d0cbe5ff 36.1px,#b9b1d8ff 41px,#897cbdff 47px,#7466adff 49px,#554b85ff 55px,#4e447bff 58.9px,#544a85ff 62.9px,#7567aeff 70.9px,#8a7ebeff 73.9px,#a59ccdff 78.8px,#c1bbddff 86.8px,#d5d1e7ff 96.7px,#dfdcedfd 103.7px,#ebe9f477 114.6px,#efeef72a 126.6px,#f6f5fb01 158.4px)"></div>
<div style="left:354.3px;top:244px;width:5px;height:160px;background:linear-gradient(173.9deg,#e1deee01 0.3px,#e0ddee2c 24.1px,#dcd9eb67 30.1px,#d4d0e7db 35.1px,#d2cde6ff 36.1px,#b6afd7ff 42px,#8679bbff 48px,#7265abff 50px,#544a85ff 56px,#4f457dff 59.9px,#564c87ff 63.9px,#7264abff 70.9px,#8679bbff 73.9px,#a298cbff 78.8px,#c0b9dcff 86.8px,#d5d1e8ff 97.7px,#dedbedff 103.7px,#ebe9f473 115.6px,#efeef62c 126.6px,#f6f5fb01 159.4px)"></div>
<div style="left:359.3px;top:244px;width:5px;height:159px;background:linear-gradient(174.0deg,#e1deee01 0.3px,#e0ddee29 23.1px,#ddd9ec60 29.1px,#d5d1e8c9 34.1px,#d0cce5ff 36.1px,#bab3d9ff 41px,#8c7fbeff 47px,#7164a9ff 50px,#584e89ff 55px,#50467eff 58.9px,#554b86ff 62.9px,#7466acff 70.9px,#897cbcff 73.9px,#a49accff 78.8px,#c1badcff 86.8px,#d6d2e8ff 97.7px,#dfdcedfd 103.7px,#ebe9f477 114.6px,#efeef72a 126.6px,#f6f5fa01 158.4px)"></div>
<div style="left:364.3px;top:243px;width:5px;height:160px;background:linear-gradient(174.0deg,#e1deee01 0.3px,#e0ddee2c 24.1px,#dcd9eb67 30.1px,#d4d0e7d8 35.1px,#d2cde6fb 36.1px,#b7b0d7ff 42px,#897cbdff 48px,#7567aeff 50px,#574d89ff 56px,#514780ff 59.9px,#574d88ff 63.9px,#7668aeff 71.9px,#8b7ebeff 74.8px,#a59ccdff 79.8px,#c2bbddff 87.8px,#d5d1e8ff 97.7px,#dedbedff 103.7px,#ebe9f473 115.6px,#efeef62c 126.6px,#f6f5fa01 159.4px)"></div>
<div style="left:369.3px;top:243px;width:5px;height:159px;background:linear-gradient(174.0deg,#e1deee01 0.3px,#e0ddee2f 24.1px,#dcd8eb6e 30.1px,#d3cfe6e7 35.1px,#d1cce5ff 36.1px,#b5add6ff 42px,#8679bbff 48px,#7365acff 50px,#574d88ff 56px,#524881ff 59.9px,#594f8aff 63.9px,#7365abff 70.9px,#877abbff 73.9px,#a79eceff 79.8px,#c3bcdeff 87.8px,#d6d2e8ff 97.7px,#dfdcedfd 103.7px,#ebe9f477 114.6px,#efeef62a 126.6px,#f6f5fa01 158.4px)"></div>
<div style="left:374.3px;top:242px;width:5px;height:160px;background:linear-gradient(174.0deg,#e1deee01 0.3px,#e0ddee2c 24.1px,#dcd9eb66 30.1px,#d4d0e7d4 35.1px,#cfcae4ff 37.1px,#b9b1d8ff 42px,#8c80beff 48px,#7264aaff 51px,#574d88ff 56.9px,#534982ff 59.9px,#584e89ff 63.9px,#7466adff 71.9px,#897cbdff 74.8px,#a89fcfff 80.8px,#c3bddeff 88.8px,#d7d3e8ff 98.7px,#dedbedff 103.7px,#ebe9f473 115.6px,#efeef62c 126.6px,#f6f5fa01 159.4px)"></div>
<div style="left:379.3px;top:242px;width:5px;height:159px;background:linear-gradient(174.0deg,#e1deee01 0.3px,#e0ddee2f 24.1px,#dcd8eb6d 30.1px,#d3cfe7e3 35.1px,#d1cce5ff 36.1px,#b6afd7ff 42px,#897dbdff 48px,#7063a9ff 51px,#5a508cff 56px,#544a84ff 59.9px,#594f8bff 63.9px,#7264aaff 70.9px,#8578baff 73.9px,#a59ccdff 79.8px,#c2bbddff 87.8px,#d6d2e8ff 97.7px,#dfdbedfe 103.7px,#ebe9f478 114.6px,#efeef62a 126.6px,#f6f5fa01 158.4px)"></div>
<div style="left:384.3px;top:241px;width:5px;height:160px;background:linear-gradient(174.0deg,#e1deee01 0.3px,#e0ddee2c 24.1px,#dcd9ec65 30.1px,#d5d0e7d2 35.1px,#d0cbe5ff 37.1px,#b4acd5ff 43px,#877abbff 49px,#7466adff 51px,#5a508cff 56.9px,#554b85ff 60.9px,#5b518eff 64.9px,#7366acff 71.9px,#877bbcff 74.8px,#a79eceff 80.8px,#c3bddeff 88.8px,#d7d3e8ff 98.7px,#dedbecff 103.7px,#ebe9f473 115.6px,#efedf62c 126.6px,#f6f5fa01 159.4px)"></div>
<div style="left:389.3px;top:241px;width:5px;height:159px;background:linear-gradient(174.0deg,#e1deee01 0.3px,#e0ddee2f 24.1px,#dcd8eb6d 30.1px,#d4cfe7e0 35.1px,#d1cce5ff 36.1px,#b8b0d8ff 42px,#8c80bfff 48px,#7365abff 51px,#5a508cff 56.9px,#564c86ff 59.9px,#5a508cff 63.9px,#7668aeff 71.9px,#8a7dbdff 74.8px,#a89fcfff 80.8px,#c4bedeff 88.8px,#d7d3e9ff 98.7px,#dedbedfe 103.7px,#ebe9f478 114.6px,#efeef62a 126.6px,#f5f5fa01 158.4px)"></div>
<div style="left:394.3px;top:240px;width:5px;height:160px;background:linear-gradient(174.0deg,#e1deee01 0.3px,#e0ddee2b 24.1px,#dcd9ec65 30.1px,#d5d1e7cf 35.1px,#d0cbe5ff 37.1px,#b5aed6ff 43px,#8a7dbdff 49px,#7164aaff 52px,#5d5390ff 56.9px,#574d88ff 60.9px,#5c528fff 64.9px,#7365acff 71.9px,#8679bbff 74.9px,#aaa1d0ff 81.8px,#c5bfdfff 89.8px,#d8d4e9ff 99.7px,#dedaecff 103.7px,#ebe9f473 115.6px,#efedf62c 126.6px,#f6f5fa01 159.4px)"></div>
<div style="left:399.3px;top:240px;width:5px;height:159px;background:linear-gradient(174.0deg,#e1deee01 0.3px,#e0ddee2f 24.1px,#dcd8eb6c 30.1px,#d4cfe7dc 35.1px,#d1cde5ff 36.1px,#b3abd5ff 43px,#877abcff 49px,#7668aeff 51px,#5c5290ff 56.9px,#584e89ff 60.9px,#5d5391ff 64.9px,#7466adff 71.9px,#887bbcff 74.9px,#aba3d1ff 81.8px,#c3bddeff 88.8px,#d7d3e9ff 98.7px,#dedbedff 103.7px,#eae8f478 114.6px,#efeef62a 126.6px,#f5f5fa01 158.4px)"></div>
<div style="left:404.3px;top:239px;width:5px;height:160px;background:linear-gradient(174.0deg,#e1deee01 0.3px,#e0ddee2b 24.1px,#dcd9ec64 30.1px,#d5d1e7cc 35.1px,#d0cbe5ff 37.1px,#b7afd7ff 43px,#8d81bfff 49px,#7466adff 52px,#5c5290ff 57.9px,#594f8aff 60.9px,#5d5390ff 64.9px,#7265abff 71.9px,#8a7ebdff 75.8px,#ada4d1ff 82.8px,#c7c1e0ff 90.8px,#d9d6eaff 100.7px,#dfdcedf8 104.7px,#ebe9f474 115.6px,#efedf62d 126.6px,#f5f5fa01 159.4px)"></div>
<div style="left:409.3px;top:239px;width:5px;height:159px;background:linear-gradient(174.0deg,#e1deee01 0.3px,#e0ddee2e 24.1px,#dcd8eb6b 30.1px,#d4d0e7d9 35.1px,#d2cde6fa 36.1px,#b5add6ff 43px,#8a7ebeff 49px,#7265abff 52px,#5d5390ff 57.9px,#594f8cff 60.9px,#5e5492ff 64.9px,#7466adff 71.9px,#877abbff 74.9px,#aea6d2ff 82.8px,#c5bfdfff 89.8px,#d8d5e9ff 99.7px,#dedbedff 103.7px,#eae8f478 114.6px,#efedf62f 125.6px,#f5f4fa01 158.4px)"></div>
<div style="left:414.3px;top:238px;width:5px;height:160px;background:linear-gradient(174.0deg,#e1deee01 0.3px,#e0ddee25 23.1px,#dcd9ec63 30.1px,#d5d1e8c9 35.1px,#d0cce5ff 37.1px,#b8b1d8ff 43px,#887bbcff 50px,#7164aaff 53px,#5f5593ff 57.9px,#5a508dff 61.9px,#5e5491ff 64.9px,#7264aaff 71.9px,#897cbdff 75.8px,#aca3d1ff 82.8px,#c6c0dfff 90.8px,#d9d5eaff 100.7px,#dfdcedf8 104.7px,#ebe9f474 115.6px,#efedf62d 126.6px,#f5f4fa01 159.4px)"></div>
<div style="left:419.3px;top:238px;width:5px;height:159px;background:linear-gradient(174.1deg,#e1deee01 0.3px,#e0ddee28 23.1px,#dcd8eb6a 30.1px,#d4d0e7d6 35.1px,#cfcae4ff 37.1px,#b6afd7ff 43px,#8679bbff 50px,#7567aeff 52px,#5f5593ff 57.9px,#5c528eff 61.9px,#5f5593ff 64.9px,#7365acff 71.9px,#8578bbff 74.9px,#ada5d2ff 82.8px,#c7c1e0ff 90.8px,#dad6eaff 100.7px,#dedbedff 103.7px,#eae8f479 114.6px,#efedf62f 125.6px,#f5f4fa01 158.4px)"></div>
<div style="left:424.3px;top:237px;width:5px;height:160px;background:linear-gradient(174.1deg,#e1deee01 0.3px,#e0ddee25 23.1px,#dcd9ec63 30.1px,#d5d1e8c6 35.1px,#d1cce5ff 37.1px,#bab2d9ff 43px,#8b7fbeff 50px,#7466adff 53px,#5f5594ff 58.9px,#5c5290ff 61.9px,#615796ff 65.9px,#7567aeff 72.9px,#887bbcff 75.9px,#aea6d2ff 83.8px,#c8c2e0ff 91.8px,#dad7ebff 101.7px,#dfdbedf9 104.7px,#ebe9f474 115.6px,#efedf62d 126.6px,#f5f4fa01 159.4px)"></div>
<div style="left:429.3px;top:237px;width:5px;height:159px;background:linear-gradient(174.1deg,#e1deee01 0.3px,#e0ddee28 23.1px,#dcd8eb69 30.1px,#d4d0e7d2 35.1px,#d0cbe5ff 37.1px,#b8b0d7ff 43px,#897dbdff 50px,#7365abff 53px,#605694ff 58.9px,#5d5391ff 61.9px,#605695ff 64.9px,#7365acff 71.9px,#8a7dbdff 75.9px,#b0a8d3ff 83.8px,#c9c3e1ff 91.8px,#dad6eaff 100.7px,#dedbedff 103.7px,#ebe9f470 115.6px,#efedf62f 125.6px,#f5f4fa01 158.4px)"></div>
<div style="left:434.3px;top:236px;width:5px;height:160px;background:linear-gradient(174.1deg,#e1deee01 0.3px,#e0ddee25 23.1px,#dcd9ec62 30.1px,#d6d2e8c3 35.1px,#d1cde5ff 37.1px,#bbb4d9ff 43px,#877abcff 51px,#7264aaff 54px,#625897ff 58.9px,#5e5492ff 62.9px,#7567adff 72.9px,#877abbff 75.9px,#b1a9d4ff 84.8px,#cac4e1ff 92.8px,#dad7eaff 101.7px,#dedbedfa 104.7px,#ebe8f474 115.6px,#efedf62d 126.6px,#f5f4fa01 159.4px)"></div>
<div style="left:439.3px;top:236px;width:5px;height:159px;background:linear-gradient(174.1deg,#e1deee01 0.3px,#e0ddee28 23.1px,#dcd8eb68 30.1px,#d5d1e7cf 35.1px,#d0cbe5ff 37.1px,#b9b2d8ff 43px,#8c80bfff 50px,#7668aeff 53px,#625898ff 58.9px,#5f5594ff 61.9px,#625897ff 64.9px,#7365abff 71.9px,#897cbdff 75.9px,#b6afd7ff 85.8px,#cac5e2ff 92.8px,#dbd7ebff 101.7px,#dedaecff 103.7px,#ebe9f470 115.6px,#efedf62f 125.6px,#f5f4fa01 158.4px)"></div>
<div style="left:444.3px;top:236px;width:5px;height:159px;background:linear-gradient(174.1deg,#e1deee01 0.3px,#e0ddee25 22.1px,#dcd9ec61 29.1px,#d6d2e8bf 34.1px,#d2cde6fb 36.1px,#b7afd7ff 43px,#8a7ebeff 50px,#7466adff 53px,#655a9bff 58px,#605695ff 61.9px,#675c9dff 66.9px,#7466adff 71.9px,#8b7ebeff 75.9px,#b7b0d7ff 85.8px,#cbc6e2ff 92.8px,#dbd8ebff 101.7px,#ebe9f46c 115.6px,#efedf62d 125.6px,#f5f4fa01 158.4px)"></div>
<div style="left:449.3px;top:235px;width:5px;height:160px;background:linear-gradient(174.2deg,#e1deee01 0.3px,#e0ddee27 23.1px,#dcd9eb67 30.1px,#d5d1e7cb 35.1px,#d0cce5ff 37.1px,#b5add6ff 44px,#897cbdff 51px,#7366acff 54px,#655b9bff 58.9px,#615796ff 62.9px,#7365abff 71.9px,#887bbcff 75.9px,#b9b1d8ff 86.8px,#ccc7e3ff 93.8px,#dbd7ebff 101.7px,#dedaecff 103.7px,#ebe9f471 115.7px,#efedf630 125.6px,#f5f4fa01 159.4px)"></div>
<div style="left:454.3px;top:235px;width:5px;height:159px;background:linear-gradient(174.2deg,#e1deee01 0.3px,#e0ddee2a 23.1px,#dcd8eb6e 30.1px,#d4d0e7d7 35.1px,#cfcbe4ff 37.1px,#b8b1d8ff 43px,#877abcff 51px,#7365abff 54px,#675c9dff 58px,#625898ff 61.9px,#685d9eff 66.9px,#7466adff 71.9px,#8a7dbdff 75.9px,#b6afd7ff 85.8px,#cbc5e2ff 92.8px,#dbd8ebff 101.7px,#dedbedfd 103.7px,#eae8f475 114.7px,#efedf62d 125.6px,#f5f4fa01 158.4px)"></div>
<div style="left:459.3px;top:234px;width:5px;height:160px;background:linear-gradient(174.2deg,#e1deee01 0.3px,#e0ddee27 23.1px,#dcd9eb66 30.1px,#d5d1e8c8 35.1px,#d1cce5ff 37.1px,#b7afd7ff 44px,#8578bbff 52px,#7265abff 55px,#675c9eff 59px,#635999ff 62.9px,#675c9eff 66.9px,#7365abff 71.9px,#877abcff 75.9px,#b8b0d8ff 86.8px,#ccc6e2ff 93.8px,#dcd8ebff 102.7px,#ebe9f471 115.7px,#eeedf630 125.6px,#f1f0f80c 138.5px,#f5f4fa01 159.4px)"></div>
<div style="left:464.3px;top:234px;width:5px;height:159px;background:linear-gradient(174.2deg,#e1deee01 0.3px,#e0ddee2a 23.1px,#dcd8eb6d 30.1px,#d4d0e7d3 35.1px,#d0cbe5ff 37.1px,#b5add6ff 44px,#7668aeff 54px,#675c9eff 59px,#645a9aff 62.9px,#7466adff 71.9px,#897cbdff 75.9px,#b9b2d8ff 86.8px,#ccc7e3ff 93.8px,#ddd9ecff 102.7px,#eae8f476 114.7px,#eeedf632 124.6px,#f1f0f80d 137.5px,#f5f4fa01 158.4px)"></div>
<div style="left:469.3px;top:233px;width:5px;height:160px;background:linear-gradient(174.2deg,#e1deee01 0.3px,#e0ddee27 23.1px,#dcd9eb65 30.1px,#d5d1e8c4 35.1px,#d1cde5ff 37.1px,#b8b1d8ff 44px,#897cbdff 52px,#7567aeff 55px,#675d9eff 59.9px,#655b9cff 63.9px,#7365abff 71.9px,#8679bbff 75.9px,#bab3d9ff 87.8px,#cdc8e3ff 94.8px,#dcd8ebff 102.7px,#ebe8f472 115.7px,#eeedf630 125.6px,#f1f0f80c 138.5px,#f5f4fa01 159.4px)"></div>
<div style="left:474.3px;top:233px;width:5px;height:159px;background:linear-gradient(174.3deg,#e1deee01 0.3px,#e0ddee29 23.1px,#dcd8eb6b 30.1px,#d5d1e7cf 35.1px,#d0cce5ff 37.1px,#b6afd7ff 44px,#7466adff 55px,#695ea0ff 59px,#665b9cff 62.9px,#7466adff 71.9px,#887cbcff 75.9px,#b8b0d8ff 86.8px,#ccc7e3ff 93.8px,#dcd9ecff 102.7px,#eae8f377 114.7px,#eeedf633 124.6px,#f1f0f80d 137.6px,#f4f4fa01 158.5px)"></div>
<div style="left:479.3px;top:232px;width:5px;height:160px;background:linear-gradient(174.3deg,#e1deee01 0.2px,#e0ddee26 23.1px,#dcd9ec64 30.1px,#d6d2e8c0 35.1px,#d2cde6f9 37.1px,#b9b2d9ff 44px,#8679bbff 53px,#7366acff 56px,#6a5ea1ff 60px,#675c9dff 63.9px,#7365acff 71.9px,#8679bbff 75.9px,#b9b2d8ff 87.8px,#cdc8e3ff 94.8px,#dddaecff 103.7px,#eae7f37c 114.7px,#eeedf630 125.6px,#f1f0f80c 138.6px,#f4f4fa01 159.5px)"></div>
<div style="left:484.3px;top:232px;width:5px;height:159px;background:linear-gradient(174.3deg,#e1deee01 0.2px,#e0ddee29 23.1px,#dcd8eb6a 30.1px,#d5d1e7cb 35.1px,#d1cce5ff 37.1px,#b8b0d8ff 44px,#7365acff 56px,#6a5fa1ff 60px,#685d9fff 63.9px,#7466adff 71.9px,#887bbcff 75.9px,#bab3d9ff 87.8px,#cec9e3ff 94.8px,#dcd9ebff 102.7px,#eae8f377 114.7px,#eeedf62e 125.6px,#f4f3f901 158.5px)"></div>
<div style="left:489.3px;top:231px;width:5px;height:160px;background:linear-gradient(174.3deg,#e1deee01 0.2px,#e0ddee26 23.1px,#dcd9ec62 30.1px,#d6d2e8bc 35.1px,#d0cbe5ff 38.1px,#bbb4d9ff 44px,#7365acff 57px,#695d9fff 63.9px,#7365acff 71.9px,#8a7dbdff 76.9px,#bbb4daff 88.8px,#cecae4ff 95.8px,#ddd9ecff 103.7px,#e9e7f37c 114.7px,#eeedf631 125.6px,#f1f0f80d 138.6px,#f4f3f901 159.5px)"></div>
<div style="left:494.3px;top:231px;width:5px;height:159px;background:linear-gradient(174.4deg,#e1deee01 0.2px,#e0ddee28 23.1px,#dcd8eb68 30.1px,#d5d1e8c7 35.1px,#d1cde5ff 37.1px,#b9b2d8ff 44px,#7769afff 56px,#6c60a4ff 60px,#695ea0ff 63.9px,#7567aeff 71.9px,#877bbcff 75.9px,#bdb6daff 88.8px,#cfcae4ff 95.8px,#dddaecff 103.7px,#e9e7f382 113.7px,#eeedf633 124.6px,#f1f0f80d 137.6px,#f4f3f901 158.5px)"></div>
<div style="left:499.3px;top:230px;width:5px;height:160px;background:linear-gradient(174.4deg,#e1deee01 0.2px,#e0ddee2b 24.1px,#dbd8eb6e 31.1px,#d4d0e7d1 36.1px,#d0cce5ff 38.1px,#b8b0d8ff 45px,#7668afff 57px,#6d60a4ff 61px,#6a5fa2ff 64.9px,#7466acff 71.9px,#8a7dbdff 76.9px,#beb7dbff 89.8px,#d0cbe5ff 96.8px,#dedbecfd 104.7px,#e9e7f37d 114.7px,#eeedf631 125.6px,#f1f0f80d 138.6px,#f4f3f901 159.5px)"></div>
<div style="left:504.3px;top:230px;width:5px;height:159px;background:linear-gradient(174.4deg,#e1deee01 0.2px,#e0ddee28 23.1px,#dcd8eb67 30.1px,#d6d1e8c2 35.1px,#d2cde6fa 37.1px,#bbb4d9ff 44px,#7668aeff 57px,#6b5fa2ff 63.9px,#7668aeff 71.9px,#bfb8dcff 89.8px,#dddaecff 103.7px,#eae7f379 114.7px,#eeedf62f 125.6px,#f4f3f901 158.5px)"></div>
<div style="left:509.3px;top:230px;width:5px;height:159px;background:linear-gradient(174.4deg,#e1deee01 0.2px,#e0ddee2a 23.1px,#dcd8eb6d 30.1px,#d5d1e7cd 35.1px,#d1cce5ff 37.1px,#b9b2d8ff 44px,#7668aeff 57px,#6c60a4ff 63.9px,#7466adff 70.9px,#c0b9dcff 89.8px,#dedaecff 103.8px,#e9e7f37e 113.7px,#eeedf632 124.7px,#f1f0f80d 137.6px,#f4f3f901 158.5px)"></div>
<div style="left:514.3px;top:229px;width:5px;height:160px;background:linear-gradient(174.5deg,#e1deee01 0.2px,#e0ddee27 23.1px,#dcd9eb65 30.1px,#d6d2e8be 35.1px,#d0cbe5ff 38.1px,#bcb5daff 44px,#7568aeff 58px,#6d61a5ff 64.9px,#7366acff 70.9px,#c1bbddff 90.8px,#dedbedf9 104.8px,#e9e7f37a 114.7px,#eeedf630 125.7px,#f4f3f901 159.5px)"></div>
<div style="left:519.3px;top:229px;width:5px;height:159px;background:linear-gradient(174.5deg,#e1deee01 0.2px,#e0ddee2a 23.1px,#dcd8eb6b 30.1px,#d5d1e8c8 35.1px,#d1cde5ff 37.1px,#bbb4d9ff 44px,#7568aeff 58px,#6e61a6ff 64.9px,#7567aeff 70.9px,#bfb9dcff 89.8px,#d1cce5ff 96.8px,#dfdbedf2 104.8px,#eae8f376 114.7px,#eeedf62e 125.7px,#f4f3f901 158.5px)"></div>
</div>
<div style="left:639px;top:46px;width:50px;height:442px;background:linear-gradient(#fcfcfe 0.0px,#ebe9f4 45.0px,#9e94c9 154.0px,#8679bb 194.0px,#7466ad 221.0px,#645a9a 265.0px,#3e3563 353.0px,#28213f 441.0px)"></div>
<div style="left:99.0px;top:556.0px;width:524.2px;height:477.3px;overflow:hidden">
<div style="left:0px;top:0px;width:6px;height:478px;background:linear-gradient(177.2deg,#e2f3f8 0px,#e2f3f8 40px,#d7eff5 63px,#c2e7f1 83px,#86d0e4 121px,#7bcbe2 138px,#86d0e4 160px,#c9eaf2 214px,#e4f4f8 246px,#ebf7fa 282px,#f4fafc 478px)"></div>
<div style="left:6px;top:0px;width:6px;height:478px;background:linear-gradient(177.2deg,#e2f3f8 0px,#e2f3f8 39px,#d8f0f6 62px,#c3e8f1 82px,#85cfe4 121px,#7bcbe2 138px,#87d0e4 160px,#c8eaf2 213px,#e4f4f8 245px,#ebf7fa 282px,#f4fafc 478px)"></div>
<div style="left:12px;top:0px;width:6px;height:478px;background:linear-gradient(177.1deg,#e2f3f8 0px,#e2f3f8 39px,#d8f0f6 62px,#c2e7f1 82px,#84cfe4 121px,#7acbe2 137px,#86d0e4 159px,#c9eaf2 213px,#e4f4f8 245px,#ebf7fa 281px,#f4fafc 478px)"></div>
<div style="left:18px;top:0px;width:6px;height:478px;background:linear-gradient(177.1deg,#e2f3f8 0px,#e2f3f8 39px,#d8eff5 62px,#c2e7f1 82px,#85cfe4 120px,#7acbe2 137px,#85cfe4 158px,#c8eaf2 212px,#e4f4f8 244px,#ebf7fa 281px,#f4fafc 478px)"></div>
<div style="left:24px;top:0px;width:6px;height:478px;background:linear-gradient(177.1deg,#e2f3f8 0px,#e2f3f8 39px,#d8eff5 62px,#c3e8f1 81px,#84cfe4 120px,#7acbe2 136px,#85cfe4 157px,#c9eaf2 212px,#e4f4f8 244px,#ebf7fa 280px,#f4fafc 478px)"></div>
<div style="left:30px;top:0px;width:6px;height:478px;background:linear-gradient(177.0deg,#e2f3f8 0px,#e2f3f8 39px,#d8eff5 62px,#c3e7f1 81px,#84cfe4 119px,#79cbe2 135px,#85cfe4 157px,#c9eaf2 211px,#e4f4f8 243px,#ebf7fa 280px,#f4fafc 478px)"></div>
<div style="left:36px;top:0px;width:6px;height:478px;background:linear-gradient(177.0deg,#e2f3f8 0px,#e2f3f8 39px,#d8eff5 62px,#c2e7f1 81px,#83cfe4 119px,#79cbe1 135px,#84cfe4 156px,#c8eaf2 210px,#e4f4f8 242px,#ebf7fa 279px,#f4fafc 478px)"></div>
<div style="left:42px;top:0px;width:6px;height:478px;background:linear-gradient(177.0deg,#e2f3f8 0px,#e2f3f8 39px,#d8eff5 62px,#c2e7f1 81px,#84cfe4 118px,#79cae1 134px,#85cfe4 156px,#c9eaf2 210px,#e4f4f8 242px,#ebf7fa 279px,#f4fafc 477px)"></div>
<div style="left:48px;top:0px;width:6px;height:478px;background:linear-gradient(176.9deg,#e2f3f8 0px,#e2f3f8 39px,#d7eff5 62px,#c1e7f1 81px,#83cee3 118px,#78cae1 134px,#84cfe4 155px,#c9eaf2 209px,#e4f4f8 241px,#ebf7fa 278px,#f4fafc 477px)"></div>
<div style="left:54px;top:0px;width:6px;height:478px;background:linear-gradient(176.9deg,#e2f3f8 0px,#e2f3f8 39px,#d7eff5 62px,#c1e7f1 81px,#83cee4 117px,#78cae1 133px,#83cfe4 154px,#c9eaf2 209px,#e4f4f8 241px,#ebf7fa 278px,#f4fafc 477px)"></div>
<div style="left:60px;top:0px;width:6px;height:478px;background:linear-gradient(176.9deg,#e2f3f8 0px,#e2f3f8 39px,#d8f0f6 61px,#c2e7f1 80px,#82cee3 117px,#78cae1 132px,#84cfe4 154px,#c9eaf2 208px,#e4f4f8 240px,#ebf7fa 277px,#f4fafc 477px)"></div>
<div style="left:66px;top:0px;width:6px;height:478px;background:linear-gradient(176.8deg,#e2f3f8 0px,#e2f3f8 39px,#d8eff5 61px,#c2e7f1 80px,#83cee3 116px,#78cae1 132px,#83cee4 153px,#c8eaf2 207px,#e4f4f8 240px,#ebf7fa 277px,#f4fafc 477px)"></div>
<div style="left:72px;top:0px;width:6px;height:478px;background:linear-gradient(176.8deg,#e2f3f8 0px,#e2f3f8 39px,#d8eff5 61px,#c1e7f1 80px,#82cee3 116px,#77cae1 131px,#83cee3 152px,#c9eaf2 207px,#e4f4f8 239px,#ebf7fa 276px,#f4fafc 477px)"></div>
<div style="left:78px;top:0px;width:6px;height:478px;background:linear-gradient(176.7deg,#e2f3f8 0px,#e2f3f8 39px,#d8eff5 61px,#c1e7f1 80px,#82cee3 115px,#77cae1 130px,#82cee3 151px,#c9eaf2 206px,#e4f4f8 238px,#ebf7fa 276px,#f4fafc 477px)"></div>
<div style="left:84px;top:0px;width:6px;height:478px;background:linear-gradient(176.7deg,#e2f3f8 0px,#e2f3f8 39px,#d8eff5 61px,#c2e7f1 79px,#81cee3 115px,#77cae1 130px,#82cee3 151px,#c8eaf2 205px,#e4f4f8 238px,#ebf7fa 275px,#f4fafc 477px)"></div>
<div style="left:90px;top:0px;width:6px;height:478px;background:linear-gradient(176.6deg,#e2f3f8 0px,#e2f3f8 39px,#d7eff5 61px,#c1e7f1 79px,#81cee3 114px,#76cae1 129px,#82cee3 150px,#c9eaf2 205px,#e4f4f8 237px,#ebf7fa 275px,#f4fafc 477px)"></div>
<div style="left:96px;top:0px;width:6px;height:478px;background:linear-gradient(176.6deg,#e2f3f8 0px,#e2f3f8 38px,#d8f0f6 60px,#c1e7f1 79px,#80cde3 114px,#76c9e1 129px,#81cee3 149px,#c9eaf2 204px,#e4f4f8 237px,#ebf7fa 274px,#f4fafc 477px)"></div>
<div style="left:102px;top:0px;width:6px;height:478px;background:linear-gradient(176.5deg,#e2f3f8 0px,#e2f3f8 38px,#d8f0f6 60px,#c2e7f1 78px,#81cee3 113px,#76c9e1 128px,#82cee3 149px,#c8eaf2 203px,#e4f4f8 236px,#ebf7fa 274px,#f4fafc 477px)"></div>
<div style="left:108px;top:0px;width:6px;height:478px;background:linear-gradient(176.5deg,#e2f3f8 0px,#e2f3f8 38px,#d8eff5 60px,#c1e7f1 78px,#80cde3 113px,#75c9e1 127px,#81cee3 148px,#c9eaf2 203px,#e4f4f8 235px,#ebf7fa 274px,#f4fafc 477px)"></div>
<div style="left:114px;top:0px;width:6px;height:478px;background:linear-gradient(176.4deg,#e2f3f8 0px,#e2f3f8 38px,#d8eff5 60px,#c1e7f1 78px,#80cde3 112px,#77cae1 120px,#75c9e1 127px,#80cde3 147px,#c9eaf2 202px,#e4f4f8 235px,#ebf7fa 274px,#f4fafc 477px)"></div>
<div style="left:120px;top:0px;width:6px;height:478px;background:linear-gradient(176.4deg,#e2f3f8 0px,#e2f3f8 38px,#d8eff5 60px,#c0e7f1 78px,#7fcde3 112px,#75c9e1 126px,#81cee3 147px,#c8eaf2 201px,#e4f4f8 234px,#ebf7fa 274px,#f4fafc 477px)"></div>
<div style="left:126px;top:0px;width:6px;height:478px;background:linear-gradient(176.3deg,#e2f3f8 0px,#e2f3f8 39px,#d7eff5 60px,#c1e7f1 77px,#7fcde3 111px,#74c9e1 125px,#80cde3 146px,#c9eaf2 201px,#e4f4f8 234px,#ebf7fa 274px,#f4fafc 477px)"></div>
<div style="left:132px;top:0px;width:6px;height:478px;background:linear-gradient(176.2deg,#e2f3f8 0px,#e2f3f8 39px,#d7eff5 60px,#c1e7f1 77px,#80cde3 110px,#74c9e0 124px,#80cde3 145px,#c9eaf2 200px,#e4f4f8 233px,#ebf7fa 274px,#f4fbfc 477px)"></div>
<div style="left:138px;top:0px;width:6px;height:478px;background:linear-gradient(176.2deg,#e2f3f8 0px,#e2f3f8 38px,#d8eff5 59px,#c0e7f1 77px,#7fcde3 110px,#74c9e0 124px,#7fcde3 144px,#c8eaf2 199px,#e4f4f8 232px,#ebf7fa 274px,#f4fbfc 477px)"></div>
<div style="left:144px;top:0px;width:6px;height:478px;background:linear-gradient(176.1deg,#e2f3f8 0px,#e2f3f8 38px,#d8eff5 59px,#c1e7f1 76px,#7fcde3 109px,#73c8e0 123px,#7ecde3 143px,#c9eaf2 199px,#e4f4f8 232px,#ebf7fa 274px,#f4fbfc 477px)"></div>
<div style="left:150px;top:0px;width:6px;height:478px;background:linear-gradient(176.0deg,#e2f3f8 0px,#e2f3f8 38px,#d8eff5 59px,#c1e7f1 76px,#7ecce2 109px,#73c8e0 122px,#7fcde3 143px,#c9eaf2 198px,#e4f4f8 231px,#ecf7fa 274px,#f4fbfc 477px)"></div>
<div style="left:156px;top:0px;width:6px;height:478px;background:linear-gradient(176.0deg,#e2f3f8 0px,#e2f3f8 38px,#d7eff5 59px,#c0e7f1 76px,#7ecde3 108px,#75c9e1 115px,#73c8e0 122px,#7ecde3 142px,#c9eaf2 197px,#e4f4f8 230px,#ecf7fa 274px,#f4fbfc 477px)"></div>
<div style="left:162px;top:0px;width:6px;height:478px;background:linear-gradient(175.9deg,#e2f3f8 0px,#e2f3f8 38px,#d7eff5 59px,#bfe6f0 76px,#7ecde3 107px,#75c9e1 114px,#73c8e0 121px,#7ecce2 141px,#c9eaf2 197px,#e4f4f8 230px,#ecf7fa 274px,#f4fbfc 477px)"></div>
<div style="left:168px;top:0px;width:6px;height:478px;background:linear-gradient(175.8deg,#e2f3f8 0px,#e2f3f8 37px,#d8eff5 58px,#c0e7f1 75px,#7dcce2 107px,#72c8e0 120px,#7dcce2 140px,#c9eaf2 196px,#e4f4f8 229px,#ecf7fa 273px,#f4fbfc 477px)"></div>
<div style="left:174px;top:0px;width:6px;height:478px;background:linear-gradient(175.7deg,#e2f3f8 0px,#e2f3f8 37px,#d8eff5 58px,#c0e6f0 75px,#7dcce2 106px,#72c8e0 119px,#7ecce2 140px,#c9eaf2 195px,#e4f4f8 228px,#ecf7fa 273px,#f4fbfc 477px)"></div>
<div style="left:180px;top:0px;width:6px;height:478px;background:linear-gradient(175.7deg,#e2f3f8 0px,#e2f3f8 38px,#d7eff5 58px,#bfe6f0 75px,#7ccce2 106px,#72c8e0 119px,#7dcce2 139px,#caeaf3 195px,#e4f4f8 228px,#ecf7fa 273px,#f4fbfc 477px)"></div>
<div style="left:186px;top:0px;width:6px;height:478px;background:linear-gradient(175.6deg,#e2f3f8 0px,#e2f3f8 38px,#d7eff5 58px,#c0e7f1 74px,#7ccce2 105px,#71c8e0 118px,#7dcce2 138px,#c9eaf2 194px,#e4f4f8 227px,#ecf7fa 273px,#f4fbfc 477px)"></div>
<div style="left:192px;top:0px;width:6px;height:478px;background:linear-gradient(175.5deg,#e2f3f8 0px,#e2f3f8 37px,#d8eff5 57px,#bfe6f0 74px,#7dcce2 104px,#71c7e0 117px,#7ccce2 137px,#c9eaf2 193px,#e4f4f8 226px,#ecf7fa 273px,#f4fbfc 477px)"></div>
<div style="left:198px;top:0px;width:6px;height:478px;background:linear-gradient(175.4deg,#e2f3f8 0px,#e2f3f8 37px,#d8eff5 57px,#c0e7f1 73px,#7bcbe2 104px,#71c7e0 116px,#7ccce2 136px,#c9eaf2 192px,#e4f4f8 225px,#ecf7fa 273px,#f4fbfc 477px)"></div>
<div style="left:204px;top:0px;width:6px;height:478px;background:linear-gradient(175.3deg,#e2f3f8 0px,#e2f3f8 37px,#d7eff5 57px,#c0e6f0 73px,#7ccce2 103px,#72c8e0 110px,#70c7e0 116px,#7ccce2 136px,#caeaf3 192px,#e4f4f8 225px,#ecf7fa 273px,#f4fbfc 477px)"></div>
<div style="left:210px;top:0px;width:6px;height:478px;background:linear-gradient(175.3deg,#e2f3f8 0px,#e2f3f8 37px,#d7eff5 57px,#bfe6f0 73px,#7ccce2 102px,#72c8e0 109px,#70c7e0 115px,#7ccce2 135px,#caeaf2 191px,#e4f4f8 223px,#ecf7fa 273px,#f4fbfc 477px)"></div>
<div style="left:216px;top:0px;width:6px;height:478px;background:linear-gradient(175.2deg,#e2f3f8 0px,#e2f3f8 36px,#d8eff5 56px,#c0e6f0 72px,#7acbe2 102px,#70c7e0 114px,#7bcbe2 134px,#c9eaf2 190px,#e4f4f8 222px,#ecf7fa 273px,#f4fbfc 477px)"></div>
<div style="left:222px;top:0px;width:6px;height:478px;background:linear-gradient(175.1deg,#e2f3f8 0px,#e2f3f8 36px,#d7eff5 56px,#bfe6f0 72px,#7bcbe2 101px,#6fc7df 113px,#7bcbe2 133px,#c9eaf2 189px,#e4f4f8 221px,#ecf7fa 273px,#f4fbfc 476px)"></div>
<div style="left:228px;top:0px;width:6px;height:478px;background:linear-gradient(175.0deg,#e2f3f8 0px,#e2f3f8 36px,#d7eff5 56px,#bee6f0 72px,#7bcbe2 100px,#6fc7df 112px,#7acbe2 132px,#c9eaf2 188px,#e4f4f8 220px,#ecf7fa 273px,#f4fbfc 476px)"></div>
<div style="left:234px;top:0px;width:6px;height:478px;background:linear-gradient(174.9deg,#e2f3f8 0px,#e2f3f8 36px,#d8eff5 55px,#bfe6f0 71px,#79cbe2 100px,#6fc7df 112px,#7bcbe2 132px,#c9eaf2 187px,#e4f4f8 219px,#ecf7fa 273px,#f4fbfc 476px)"></div>
<div style="left:240px;top:0px;width:6px;height:478px;background:linear-gradient(174.8deg,#e2f3f8 0px,#e2f3f8 36px,#d8eff5 55px,#bee6f0 71px,#79cbe2 99px,#71c7e0 105px,#6ec6df 111px,#7acbe2 131px,#c8eaf2 186px,#e4f4f8 218px,#ecf7fa 273px,#f4fbfc 476px)"></div>
<div style="left:246px;top:0px;width:6px;height:478px;background:linear-gradient(174.7deg,#e2f3f8 0px,#e2f3f8 36px,#d7eff5 55px,#bfe6f0 70px,#7acbe2 98px,#71c7e0 104px,#6ec6df 110px,#7acbe2 130px,#c8eaf2 184px,#e4f4f8 217px,#ecf7fa 273px,#f4fbfc 476px)"></div>
<div style="left:252px;top:0px;width:6px;height:478px;background:linear-gradient(174.6deg,#e2f3f8 0px,#e2f3f8 36px,#d7eff5 55px,#bee6f0 70px,#7acbe2 97px,#71c7e0 103px,#6ec6df 109px,#7acbe2 129px,#c8eaf2 183px,#d9f0f6 200px,#e4f4f8 217px,#ecf7fa 273px,#f4fbfc 476px)"></div>
<div style="left:258px;top:0px;width:6px;height:478px;background:linear-gradient(174.5deg,#e2f3f8 0px,#e2f3f8 35px,#d7eff5 54px,#bfe6f0 69px,#78cae1 97px,#6dc6df 108px,#79cbe2 128px,#c8e9f2 182px,#d9f0f6 199px,#e4f4f8 216px,#ecf7fa 273px,#f4fbfc 476px)"></div>
<div style="left:264px;top:0px;width:6px;height:478px;background:linear-gradient(174.4deg,#e2f3f8 0px,#e2f3f8 35px,#d7eff5 54px,#bee6f0 69px,#79cbe1 96px,#70c7e0 102px,#6dc6df 108px,#79cbe2 128px,#c8eaf2 182px,#e4f4f8 215px,#ecf7fa 273px,#f5fbfc 476px)"></div>
<div style="left:270px;top:0px;width:6px;height:478px;background:linear-gradient(174.3deg,#e2f3f8 0px,#e2f3f8 35px,#d7eff5 54px,#bde5f0 69px,#78cae1 96px,#6cc6df 107px,#78cae1 127px,#c8e9f2 181px,#d9f0f6 198px,#e4f4f8 215px,#ecf7fa 273px,#f5fbfc 476px)"></div>
<div style="left:276px;top:0px;width:6px;height:478px;background:linear-gradient(174.2deg,#e2f3f8 0px,#e2f3f8 35px,#d7eff5 53px,#bee6f0 68px,#78cae1 95px,#6fc7df 101px,#6cc6df 107px,#78cae1 127px,#c8eaf2 181px,#d9f0f6 197px,#e4f4f8 214px,#ecf7fa 273px,#f5fbfc 476px)"></div>
<div style="left:282px;top:0px;width:6px;height:478px;background:linear-gradient(174.1deg,#e2f3f8 0px,#e2f3f8 35px,#d7eff5 53px,#bde6f0 68px,#77cae1 95px,#6bc5df 106px,#77cae1 126px,#c7e9f2 180px,#d9f0f6 197px,#e4f4f8 214px,#ecf7fa 273px,#f5fbfc 476px)"></div>
<div style="left:288px;top:0px;width:6px;height:478px;background:linear-gradient(174.0deg,#e2f3f8 0px,#e2f3f8 34px,#d6eff5 53px,#bce5f0 68px,#76c9e1 95px,#6bc5de 106px,#77cae1 126px,#c8e9f2 180px,#d9f0f6 196px,#e4f4f8 213px,#ecf7fa 273px,#f5fbfc 476px)"></div>
<div style="left:294px;top:0px;width:6px;height:478px;background:linear-gradient(173.9deg,#e2f3f8 0px,#e2f3f7 34px,#d6eff5 53px,#bee6f0 67px,#76cae1 94px,#6ac5de 105px,#76c9e1 125px,#c7e9f2 179px,#d9f0f6 196px,#e4f4f8 213px,#ecf7fa 273px,#f5fbfc 476px)"></div>
<div style="left:300px;top:0px;width:6px;height:478px;background:linear-gradient(173.8deg,#e2f3f8 0px,#e1f3f7 34px,#d6eff5 52px,#bce5f0 67px,#75c9e1 94px,#6ac5de 105px,#76cae1 125px,#c8e9f2 179px,#d9f0f6 195px,#e4f4f8 212px,#ecf7fa 273px,#f5fbfc 476px)"></div>
<div style="left:306px;top:0px;width:6px;height:478px;background:linear-gradient(173.7deg,#e2f3f8 0px,#e1f3f7 34px,#d6eff5 52px,#bbe5f0 67px,#76c9e1 93px,#6cc6df 99px,#69c4de 105px,#6ec6df 116px,#79cae1 127px,#cdebf3 183px,#e4f4f8 212px,#ecf7fa 273px,#f5fbfc 475px)"></div>
<div style="left:312px;top:0px;width:6px;height:478px;background:linear-gradient(173.5deg,#e2f3f8 0px,#e1f3f7 33px,#d7eff5 51px,#bde5f0 66px,#74c9e0 93px,#69c4de 104px,#75c9e1 124px,#c8e9f2 178px,#d9f0f6 194px,#e4f4f8 211px,#ecf7fa 273px,#f5fbfc 475px)"></div>
<div style="left:318px;top:0px;width:6px;height:478px;background:linear-gradient(173.4deg,#e2f3f8 0px,#e1f3f7 33px,#d6eff5 51px,#bbe5f0 66px,#75c9e1 92px,#6bc5de 98px,#68c4de 104px,#6dc6df 115px,#78cae1 126px,#cdebf3 182px,#e4f4f8 211px,#ecf7fa 273px,#f5fbfc 475px)"></div>
<div style="left:324px;top:0px;width:6px;height:478px;background:linear-gradient(173.3deg,#e2f3f8 0px,#e1f3f7 33px,#d5eff5 51px,#bce5f0 65px,#73c8e0 92px,#68c4de 103px,#74c9e1 123px,#c6e9f2 176px,#d9f0f6 193px,#e4f4f8 210px,#ecf7fa 272px,#f5fbfc 475px)"></div>
<div style="left:330px;top:0px;width:6px;height:478px;background:linear-gradient(173.2deg,#e2f3f8 0px,#e1f3f7 32px,#d6eff5 50px,#bbe5ef 65px,#74c9e0 91px,#67c4dd 102px,#73c8e0 121px,#c7e9f2 176px,#d8f0f6 192px,#e4f4f8 209px,#ecf7fa 270px,#f5fbfc 475px)"></div>
<div style="left:336px;top:0px;width:6px;height:478px;background:linear-gradient(173.1deg,#e2f3f8 0px,#e1f3f7 32px,#d5eff5 50px,#bce5f0 64px,#72c8e0 91px,#67c3dd 102px,#74c9e0 121px,#c6e9f2 175px,#d9f0f6 192px,#e4f4f8 209px,#ecf7fa 270px,#f5fbfc 475px)"></div>
<div style="left:342px;top:0px;width:6px;height:478px;background:linear-gradient(172.9deg,#e2f3f8 0px,#e1f3f7 32px,#d5eef5 50px,#bbe5ef 64px,#73c8e0 90px,#66c3dd 101px,#73c8e0 120px,#c7e9f2 175px,#d8f0f6 191px,#e4f4f8 208px,#ecf7fa 268px,#f5fbfc 475px)"></div>
<div style="left:348px;top:0px;width:6px;height:478px;background:linear-gradient(172.8deg,#e2f3f8 0px,#e1f3f7 31px,#d5eef5 49px,#bce5f0 63px,#71c8e0 90px,#68c4de 96px,#66c3dd 101px,#6ac5de 111px,#75c9e1 122px,#cdebf3 179px,#e4f4f8 208px,#ecf7fa 268px,#f5fbfc 475px)"></div>
<div style="left:354px;top:0px;width:6px;height:478px;background:linear-gradient(172.7deg,#e2f3f8 0px,#e1f3f7 31px,#d5eef5 49px,#bae4ef 63px,#72c8e0 89px,#68c4de 95px,#65c3dd 100px,#72c8e0 119px,#c6e9f2 173px,#d8f0f6 190px,#e4f4f8 207px,#ecf7fa 266px,#f5fbfc 475px)"></div>
<div style="left:360px;top:0px;width:6px;height:478px;background:linear-gradient(172.6deg,#e2f3f8 0px,#e1f3f7 31px,#d5eef5 48px,#bbe5f0 62px,#70c7e0 89px,#67c3dd 95px,#65c3dd 100px,#71c8e0 118px,#c7e9f2 173px,#d8f0f6 189px,#e4f4f8 206px,#ebf7fa 264px,#f5fbfc 474px)"></div>
<div style="left:366px;top:0px;width:6px;height:478px;background:linear-gradient(172.4deg,#e2f3f8 0px,#e0f3f7 31px,#d4eef5 48px,#bae4ef 62px,#70c7e0 88px,#67c3dd 94px,#64c2dd 99px,#70c7e0 117px,#c6e9f2 172px,#d9f0f6 189px,#e4f4f8 206px,#ebf7fa 264px,#f5fbfc 474px)"></div>
<div style="left:372px;top:0px;width:6px;height:478px;background:linear-gradient(172.3deg,#e2f3f8 0px,#e1f3f7 30px,#d3eef5 48px,#b8e4ef 62px,#71c7e0 87px,#66c3dd 93px,#64c2dc 98px,#70c7e0 117px,#c5e9f2 171px,#d8f0f6 188px,#e4f4f8 205px,#ebf7fa 262px,#f5fbfc 474px)"></div>
<div style="left:378px;top:0px;width:6px;height:478px;background:linear-gradient(172.2deg,#e2f3f8 0px,#e0f3f7 30px,#d4eef5 47px,#b9e4ef 61px,#6fc7df 87px,#65c3dd 93px,#63c2dc 97px,#6fc7df 116px,#c6e9f2 171px,#d8eff5 187px,#e4f4f8 203px,#ebf7fa 260px,#f5fbfc 474px)"></div>
<div style="left:384px;top:0px;width:6px;height:478px;background:linear-gradient(172.0deg,#e2f3f8 0px,#e0f3f7 30px,#d3eef4 47px,#b8e3ef 61px,#6fc7df 86px,#65c3dd 92px,#62c2dc 96px,#6fc7df 115px,#c6e9f2 170px,#d8f0f6 187px,#e4f4f8 203px,#ebf7fa 260px,#f5fbfc 474px)"></div>
<div style="left:390px;top:0px;width:6px;height:478px;background:linear-gradient(171.9deg,#e2f3f8 0px,#e0f3f7 29px,#d4eef5 46px,#b8e4ef 60px,#6fc7e0 85px,#65c3dd 91px,#62c1dc 95px,#65c3dd 105px,#6fc7df 115px,#c5e8f2 169px,#d8f0f6 186px,#e4f4f8 202px,#ebf7fa 259px,#f5fbfc 474px)"></div>
<div style="left:396px;top:0px;width:6px;height:478px;background:linear-gradient(171.8deg,#e2f3f8 0px,#e0f3f7 29px,#d3eef4 46px,#b9e4ef 59px,#6ec6df 85px,#64c2dd 90px,#61c1dc 95px,#66c3dd 106px,#72c8e0 117px,#cbebf3 173px,#e4f4f8 201px,#ebf7fa 257px,#f5fbfc 473px)"></div>
<div style="left:402px;top:0px;width:6px;height:478px;background:linear-gradient(171.6deg,#e2f3f8 0px,#e0f3f7 28px,#d3eef4 45px,#b7e3ef 59px,#6ec6df 84px,#64c2dc 89px,#61c1dc 94px,#65c3dd 105px,#71c8e0 116px,#b2e1ee 155px,#ccebf3 173px,#e4f4f8 201px,#ebf7fa 257px,#f5fbfc 473px)"></div>
<div style="left:408px;top:0px;width:6px;height:478px;background:linear-gradient(171.5deg,#e2f3f8 0px,#e0f2f7 28px,#d2edf4 45px,#b8e4ef 58px,#6ec6df 83px,#63c2dc 88px,#60c1dc 93px,#64c2dd 103px,#6ec6df 113px,#c5e8f2 167px,#d8f0f6 183px,#e4f4f8 200px,#ebf7fa 255px,#f5fbfc 473px)"></div>
<div style="left:414px;top:0px;width:6px;height:478px;background:linear-gradient(171.3deg,#e2f3f8 0px,#e0f2f7 27px,#d3edf4 44px,#b6e3ee 58px,#6cc6df 83px,#62c1dc 88px,#60c1dc 93px,#65c3dd 104px,#71c7e0 115px,#b1e1ed 153px,#cbebf3 170px,#e4f4f8 199px,#ebf7fa 254px,#f5fbfc 473px)"></div>
<div style="left:420px;top:0px;width:6px;height:478px;background:linear-gradient(171.2deg,#e2f3f8 0px,#e0f2f7 27px,#d3eef4 43px,#b7e3ef 57px,#6cc6df 81px,#62c1dc 87px,#5fc0db 92px,#64c2dd 103px,#70c7e0 114px,#cbebf3 169px,#e4f4f8 198px,#ebf7fa 251px,#f5fbfc 473px)"></div>
<div style="left:426px;top:0px;width:6px;height:478px;background:linear-gradient(171.0deg,#e2f3f8 0px,#dff2f7 27px,#d2edf4 43px,#b7e3ef 56px,#6cc6df 80px,#62c1dc 86px,#5fc0db 91px,#63c2dc 102px,#6fc7df 113px,#caeaf3 168px,#e4f4f8 198px,#ebf7fa 251px,#f5fbfc 473px)"></div>
<div style="left:432px;top:0px;width:6px;height:478px;background:linear-gradient(170.9deg,#e2f3f8 0px,#dff2f7 26px,#d2edf4 42px,#b5e2ee 56px,#6cc6df 79px,#61c1dc 85px,#5ec0db 90px,#62c1dc 100px,#6cc5df 110px,#c5e8f2 163px,#d8f0f6 180px,#e4f4f8 197px,#ebf7fa 249px,#f5fbfc 472px)"></div>
<div style="left:438px;top:0px;width:6px;height:478px;background:linear-gradient(170.7deg,#e2f3f8 0px,#dff2f7 26px,#d1edf4 42px,#b6e3ee 55px,#6ac5de 79px,#60c1dc 85px,#5ec0db 90px,#63c2dc 101px,#6fc7df 112px,#caeaf3 166px,#e4f4f8 196px,#ebf7fa 248px,#f5fbfc 472px)"></div>
<div style="left:444px;top:0px;width:6px;height:478px;background:linear-gradient(170.6deg,#e2f3f8 0px,#dff2f7 25px,#d1edf4 41px,#b6e3ee 54px,#6ac5de 78px,#60c0db 84px,#5dbfdb 89px,#62c1dc 100px,#6ec6df 111px,#b0e0ed 148px,#cbebf3 166px,#e4f4f8 195px,#ebf7fa 247px,#f5fbfc 472px)"></div>
<div style="left:450px;top:0px;width:6px;height:478px;background:linear-gradient(170.4deg,#e2f3f8 0px,#dff2f7 25px,#d0edf4 41px,#b1e1ed 55px,#6ac5de 77px,#5fc0db 83px,#5dbfdb 88px,#61c1dc 99px,#6ec6df 110px,#b0e0ed 147px,#cbeaf3 165px,#e4f4f8 194px,#ebf7fa 245px,#f5fbfc 472px)"></div>
<div style="left:456px;top:0px;width:6px;height:478px;background:linear-gradient(170.3deg,#e2f3f8 1px,#dff2f7 24px,#d0edf4 40px,#b2e1ed 54px,#6ac5de 76px,#5fc0db 82px,#5cbfda 87px,#61c1dc 98px,#6dc6df 109px,#afe0ed 146px,#caeaf3 164px,#e4f4f8 193px,#ebf7fa 243px,#f5fbfc 472px)"></div>
<div style="left:462px;top:0px;width:6px;height:478px;background:linear-gradient(170.1deg,#e2f3f8 1px,#def2f7 24px,#d1edf4 39px,#b2e1ee 53px,#6ac5de 75px,#5fc0db 81px,#5bbfda 86px,#60c1dc 97px,#6cc6df 108px,#afe0ed 145px,#caeaf3 163px,#e4f4f8 193px,#ebf7fa 243px,#f5fbfc 471px)"></div>
<div style="left:468px;top:0px;width:6px;height:478px;background:linear-gradient(170.0deg,#e2f3f8 1px,#def2f7 24px,#cfecf4 39px,#b2e1ee 52px,#6ac5de 74px,#5ec0db 80px,#5bbfda 85px,#5fc0db 96px,#6cc5df 107px,#afe0ed 144px,#caeaf3 162px,#e4f4f8 192px,#ebf7fa 242px,#f5fbfc 471px)"></div>
<div style="left:474px;top:0px;width:6px;height:478px;background:linear-gradient(169.8deg,#e2f3f8 1px,#def2f7 23px,#d0ecf4 38px,#b3e1ee 51px,#67c4dd 74px,#5dbfdb 80px,#5abeda 85px,#60c0db 96px,#6cc6df 107px,#aee0ed 143px,#caeaf3 161px,#e4f4f8 190px,#eaf7fa 241px,#f5fbfc 471px)"></div>
<div style="left:480px;top:0px;width:6px;height:478px;background:linear-gradient(169.7deg,#e2f3f8 1px,#def2f7 22px,#d0ecf4 37px,#b0e0ed 51px,#67c3dd 73px,#5cbfdb 79px,#5abeda 84px,#5fc0db 95px,#6cc5df 106px,#aee0ed 142px,#c9eaf2 160px,#e4f4f8 189px,#eaf7fa 239px,#f5fbfc 471px)"></div>
<div style="left:486px;top:0px;width:6px;height:478px;background:linear-gradient(169.5deg,#e2f3f8 1px,#def2f7 22px,#ceecf3 37px,#b0e0ed 50px,#67c3dd 72px,#5cbfda 78px,#59beda 83px,#5ec0db 94px,#6bc5df 105px,#aedfed 141px,#c9eaf2 159px,#e4f4f8 188px,#eaf7fa 238px,#f5fbfc 471px)"></div>
<div style="left:492px;top:0px;width:6px;height:478px;background:linear-gradient(169.3deg,#e2f3f8 1px,#def2f7 21px,#ceecf3 36px,#b0e1ed 49px,#66c3dd 71px,#5bbfda 77px,#59beda 82px,#5ec0db 93px,#6bc5de 104px,#aedfed 140px,#c9eaf2 158px,#e4f4f8 187px,#eaf7fa 235px,#f5fbfc 470px)"></div>
<div style="left:498px;top:0px;width:6px;height:478px;background:linear-gradient(169.2deg,#e2f3f7 1px,#ddf1f7 21px,#ceecf4 35px,#b0e1ed 48px,#66c3dd 70px,#5bbeda 76px,#58bdd9 81px,#5dbfdb 92px,#6ac5de 103px,#addfed 139px,#c9eaf2 157px,#e4f4f8 186px,#eaf7fa 234px,#f5fbfc 470px)"></div>
<div style="left:504px;top:0px;width:6px;height:478px;background:linear-gradient(169.0deg,#e2f3f7 1px,#ddf1f6 21px,#cdebf3 35px,#addfed 48px,#65c3dd 69px,#5abeda 75px,#58bdd9 80px,#5dbfdb 91px,#6ac5de 102px,#abdfec 137px,#c9eaf2 156px,#e4f4f8 185px,#eaf6fa 233px,#f5fbfc 470px)"></div>
<div style="left:510px;top:0px;width:6px;height:478px;background:linear-gradient(168.8deg,#e1f3f7 1px,#ddf1f6 20px,#cdebf3 34px,#addfed 47px,#65c3dd 68px,#5abeda 74px,#57bdd9 79px,#5cbfdb 90px,#69c4de 101px,#abdeec 136px,#c9eaf2 155px,#e4f4f8 184px,#eaf6fa 231px,#f5fbfc 470px)"></div>
<div style="left:516px;top:0px;width:6px;height:478px;background:linear-gradient(168.7deg,#e1f3f7 1px,#ddf1f6 19px,#cdebf3 33px,#addfed 46px,#64c2dd 67px,#59beda 73px,#56bdd9 78px,#5cbfda 89px,#69c4de 100px,#abdeec 135px,#c9eaf2 154px,#e4f4f8 183px,#eaf6fa 230px,#f5fbfc 469px)"></div>
<div style="left:522px;top:0px;width:6px;height:478px;background:linear-gradient(168.5deg,#e1f3f7 1px,#dcf1f6 19px,#cdebf3 32px,#addfed 45px,#64c2dd 66px,#59beda 72px,#56bcd9 77px,#5bbfda 88px,#68c4de 99px,#abdeec 134px,#c9eaf2 152px,#e4f4f8 182px,#eaf6fa 228px,#f5fbfc 469px)"></div>
<div style="left:0px;top:324px;width:5px;height:104px;background:linear-gradient(178.0deg,#edf8fa00 0.1px,#ecf7fa1d 10.1px,#eaf6f943 12.1px,#e6f5f89b 14.1px,#e0f3f7ea 15.1px,#c7e9f2ff 17.1px,#9ad7e8ff 19.1px,#78cae1ff 20.1px,#4eb9d7ff 21.1px,#3f9eb8ff 22.1px,#2f7a8bff 23.1px,#235a66ff 24.1px,#193f48ff 25.1px,#132e36ff 26.1px,#132e36ff 32.1px,#132e36ff 33.1px,#255f6cff 36.1px,#3992a9ff 39.1px,#3f9fb8ff 40.1px,#44a9c5ff 41.1px,#4eb9d7ff 44.1px,#afe0edff 59.1px,#ccebf3ff 65px,#e2f3f7f4 71px,#eaf6fa70 77px,#eef8fb2e 83px,#f1f9fb01 104px)"></div>
<div style="left:5px;top:324px;width:5px;height:104px;background:linear-gradient(177.8deg,#edf8fa00 0.1px,#ecf7fa20 10.1px,#eaf6f949 12.1px,#e5f4f8aa 14.1px,#def2f7ff 15.1px,#c3e8f1ff 17.1px,#94d5e7ff 19.1px,#4ab5d2ff 21.1px,#3c98b0ff 22.1px,#2c7384ff 23.1px,#183a43ff 25.1px,#132e36ff 26.1px,#132e36ff 32.1px,#15323aff 33.1px,#34869aff 38.1px,#41a1bbff 40.1px,#48b1ceff 42.1px,#50bad7ff 44.1px,#b0e0edff 59.1px,#ceecf3ff 65px,#e2f3f8ea 71px,#eaf7fa6b 77px,#eef8fb2b 83px,#f1f9fb01 104px)"></div>
<div style="left:10px;top:324px;width:5px;height:103px;background:linear-gradient(177.5deg,#edf8fa01 0.1px,#ebf7fa23 10.1px,#e9f6f951 12.1px,#e4f4f8bb 14.1px,#dcf1f6ff 15.1px,#bfe6f0ff 17.1px,#8dd2e6ff 19.1px,#67c3ddff 20.1px,#47afccff 21.1px,#2a6c7bff 23.1px,#16363eff 25.1px,#132e36ff 26.1px,#132e36ff 32.1px,#16363fff 33.1px,#1c4650ff 34.1px,#3c99b1ff 39.1px,#46acc8ff 41.1px,#4bb7d5ff 43.1px,#8fd3e6ff 53.1px,#b2e1eeff 59.1px,#cfecf4ff 65px,#e0f3f7fe 70px,#e3f4f8e1 71px,#ebf7fa66 77px,#eef8fb28 83px,#f1f9fb01 103px)"></div>
<div style="left:15px;top:324px;width:5px;height:103px;background:linear-gradient(177.3deg,#edf8fa01 0.1px,#ebf7fa27 10.1px,#e9f6f95a 12.1px,#e3f4f8cf 14.1px,#d9f0f6ff 15.1px,#ccebf3ff 16.1px,#a3dbeaff 18.1px,#84cfe4ff 19.1px,#5cbfdbff 20.1px,#44a9c5ff 21.1px,#276573ff 23.1px,#143139ff 25.1px,#132e36ff 32.1px,#1e4b56ff 34.1px,#3e9cb5ff 39.1px,#46aecaff 41.1px,#4cb8d6ff 43.1px,#aee0edff 58.1px,#ccebf3ff 64px,#e1f3f7f3 70px,#eaf6fa6f 76px,#eef8fb2d 82px,#f1f9fb01 103px)"></div>
<div style="left:20px;top:323px;width:5px;height:103px;background:linear-gradient(177.1deg,#edf8fa00 0.1px,#ecf7fa1c 10.1px,#eaf6f942 12.1px,#e6f5f899 14.1px,#e1f3f7e7 15.1px,#c8e9f2ff 17.1px,#9bd8e9ff 19.1px,#7acbe2ff 20.1px,#51bad8ff 21.1px,#40a1bbff 22.1px,#245d6aff 24.1px,#1b424cff 25.1px,#132e36ff 26.1px,#132e36ff 32.1px,#143139ff 33.1px,#1a4049ff 34.1px,#3a93aaff 39.1px,#409fb9ff 40.1px,#44a9c5ff 41.1px,#4eb9d7ff 44.1px,#b0e0edff 59.1px,#ceecf3ff 65px,#e0f2f7ff 70px,#e9f6f979 76px,#eef8fa31 82px,#f0f9fb0c 90px,#f1f9fb01 103px)"></div>
<div style="left:25px;top:323px;width:5px;height:103px;background:linear-gradient(176.9deg,#edf8fa00 0.1px,#ecf7fa20 10.1px,#eaf6f94a 12.1px,#e5f4f8ac 14.1px,#def2f7ff 15.1px,#c3e8f1ff 17.1px,#93d5e7ff 19.1px,#49b4d2ff 21.1px,#225561ff 24.1px,#183c45ff 25.1px,#132e36ff 26.1px,#132e36ff 32.1px,#16363fff 33.1px,#1c454fff 34.1px,#35899dff 38.1px,#41a3bdff 40.1px,#48b1ceff 42.1px,#51bad8ff 44.1px,#b2e1eeff 59px,#d0ecf4ff 65px,#e1f3f7fa 70px,#eaf6f972 76px,#eef8fb2e 82px,#f1f9fb01 103px)"></div>
<div style="left:30px;top:323px;width:5px;height:102px;background:linear-gradient(176.7deg,#edf8fa01 0.1px,#ebf7fa24 10.1px,#e9f6f954 12.1px,#e4f4f8c3 14.1px,#dbf1f6ff 15.1px,#ceecf4ff 16.1px,#a6ddebff 18.1px,#89d1e5ff 19.1px,#63c2dcff 20.1px,#46adcaff 21.1px,#296a79ff 23.1px,#16363fff 25.1px,#132e36ff 26.1px,#132e36ff 32.1px,#1e4b55ff 34.1px,#3e9bb4ff 39.1px,#46adcaff 41.1px,#4bb8d6ff 43.1px,#afe0edff 58px,#cdebf3ff 64px,#e2f3f8ee 70px,#eaf6fa6b 76px,#eef8fb2a 82px,#f1f9fb01 102px)"></div>
<div style="left:35px;top:323px;width:5px;height:102px;background:linear-gradient(176.5deg,#edf8fa01 0.2px,#ecf7fa1b 9.1px,#eaf6fa3f 11.1px,#e6f5f993 13.1px,#e1f3f7df 14.1px,#c9eaf2ff 16.1px,#9ed9e9ff 18.1px,#7ecce2ff 19.1px,#56bcd9ff 20.1px,#42a4c0ff 21.1px,#26616eff 23.1px,#143038ff 25.1px,#132e36ff 31.1px,#15323bff 32.1px,#1a414aff 33.1px,#3a93aaff 38.1px,#409fb9ff 39.1px,#44a9c5ff 40.1px,#4eb9d7ff 43.1px,#b1e1edff 58px,#cfecf4ff 64px,#e1f3f7ff 69px,#eaf6f974 75px,#eef8fa2e 81px,#f0f9fb0b 89px,#f1f9fb01 102px)"></div>
<div style="left:40px;top:322px;width:5px;height:102px;background:linear-gradient(176.3deg,#edf8fa00 0.2px,#ecf7fa1f 10.1px,#eaf6f949 12.1px,#e5f4f8aa 14.1px,#dff2f7ff 15.1px,#c4e8f1ff 17.1px,#95d5e7ff 19.1px,#4ab6d4ff 21.1px,#3d9ab2ff 22.1px,#2d7687ff 23.1px,#225864ff 24.1px,#193f48ff 25.1px,#132e36ff 26.1px,#132e36ff 32.1px,#1c4751ff 34.1px,#35899eff 38.1px,#41a3beff 40.1px,#48b1cfff 42.1px,#51bad8ff 44.1px,#b3e2eeff 59px,#d1edf4ff 65px,#e2f3f8f1 70px,#eaf6f96c 76px,#eef8fb2b 82px,#f1f9fb01 102px)"></div>
<div style="left:45px;top:322px;width:5px;height:102px;background:linear-gradient(176.1deg,#edf8fa01 0.2px,#ebf7fa24 10.1px,#e9f6f955 12.1px,#e4f4f8c4 14.1px,#dbf1f6ff 15.1px,#bde5f0ff 17.1px,#89d1e5ff 19.1px,#63c2dcff 20.1px,#46adcaff 21.1px,#2a6b7aff 23.1px,#173840ff 25.1px,#132e36ff 26.1px,#132e36ff 31.1px,#143038ff 32.1px,#193e47ff 33.1px,#3e9cb5ff 39.1px,#47aecbff 41.1px,#4cb8d6ff 43.1px,#b0e0edff 58px,#cfecf4ff 64px,#e0f3f7ff 69px,#e9f6f975 75px,#eef8fa2e 81px,#f0f9fb0b 89px,#f1f9fb01 101.9px)"></div>
<div style="left:50px;top:321px;width:5px;height:102px;background:linear-gradient(175.9deg,#edf8fa00 0.2px,#ecf7fa1c 10.2px,#eaf6fa41 12.1px,#e6f5f998 14.1px,#e1f3f7e5 15.1px,#c8eaf2ff 17.1px,#9cd8e9ff 19.1px,#7ccce2ff 20.1px,#53bbd8ff 21.1px,#42a3beff 22.1px,#26606eff 24.1px,#143139ff 26.1px,#132e36ff 32.1px,#16363eff 33.1px,#1b444eff 34.1px,#34869aff 38.1px,#40a1bbff 40.1px,#48b0cdff 42.1px,#4fbad7ff 44.1px,#8ed3e6ff 53px,#b3e1eeff 59px,#d1edf4ff 65px,#e2f3f8f3 70px,#eaf6f96c 76px,#eef8fb2a 82px,#f1f9fb01 101.9px)"></div>
<div style="left:55px;top:321px;width:5px;height:101px;background:linear-gradient(175.8deg,#edf8fa01 0.2px,#ecf7fa21 10.2px,#eaf6f94d 12.2px,#e5f4f8b2 14.1px,#ddf2f7ff 15.1px,#c2e7f1ff 17.1px,#91d4e7ff 19.1px,#49b3d1ff 21.1px,#225662ff 24.1px,#193e47ff 25.1px,#132e36ff 26.1px,#132e36ff 31.1px,#132f37ff 32.1px,#183c45ff 33.1px,#378da2ff 38.1px,#42a5c0ff 40.1px,#4bb8d6ff 43.1px,#b0e0edff 58px,#ceecf3ff 64px,#e0f3f7ff 69px,#e9f6f974 75px,#eef8fa2e 81px,#f1f9fb01 100.9px)"></div>
<div style="left:60px;top:321px;width:5px;height:101px;background:linear-gradient(175.6deg,#edf8fa01 0.2px,#ebf7fa27 10.2px,#e9f6f95b 12.2px,#e3f4f8d2 14.2px,#d9f0f6ff 15.1px,#ccebf3ff 16.1px,#a2dbeaff 18.1px,#84cfe4ff 19.1px,#5dbfdbff 20.1px,#45aac6ff 21.1px,#286876ff 23.1px,#16363fff 25.1px,#132e36ff 26.1px,#132e36ff 31.1px,#15353dff 32.1px,#1b434cff 33.1px,#3f9fb9ff 39.1px,#44a9c5ff 40.1px,#4eb9d7ff 43.1px,#8ed3e6ff 52px,#b2e1eeff 58px,#d1edf4ff 64px,#e2f3f8f3 69px,#eaf6f96c 75px,#eef8fa2a 81px,#f1f9fb01 100.9px)"></div>
<div style="left:65px;top:320px;width:5px;height:101px;background:linear-gradient(175.4deg,#edf8fa00 0.2px,#ecf7fa1f 10.2px,#eaf6f947 12.2px,#e5f5f8a6 14.2px,#dff2f7f9 15.2px,#c5e8f2ff 17.1px,#97d6e8ff 19.1px,#4bb8d6ff 21.1px,#3f9db6ff 22.1px,#2f7a8bff 23.1px,#245c68ff 24.1px,#142f38ff 26.1px,#132e36ff 31.1px,#132e36ff 32.1px,#183b44ff 33.1px,#368ba0ff 38.1px,#42a4beff 40.1px,#48b2cfff 42.1px,#52bbd8ff 44.1px,#91d4e6ff 53px,#b5e2eeff 59px,#cfecf4ff 64px,#e1f3f7ff 69px,#e4f4f8e3 70px,#e9f6f973 75px,#eef8fa2d 80.9px,#f1f9fb01 100.9px)"></div>
<div style="left:70px;top:320px;width:5px;height:100px;background:linear-gradient(175.2deg,#edf8fa01 0.2px,#ebf7fa25 10.2px,#e9f6f956 12.2px,#e4f4f8c6 14.2px,#dbf1f6ff 15.2px,#bde5f0ff 17.1px,#89d1e5ff 19.1px,#63c2dcff 20.1px,#46aecaff 21.1px,#2a6d7cff 23.1px,#20515cff 24.1px,#183a43ff 25.1px,#132e36ff 26.1px,#132e36ff 31.1px,#15343dff 32.1px,#1b424cff 33.1px,#3f9eb7ff 39.1px,#44a8c4ff 40.1px,#4db9d7ff 43.1px,#8ed2e6ff 52px,#b2e1eeff 58px,#d1edf4ff 64px,#e2f3f8f0 69px,#e9f6f97b 74px,#edf8fa30 79.9px,#f0f9fb0b 87.9px,#f1f9fb01 99.9px)"></div>
<div style="left:75px;top:319px;width:5px;height:101px;background:linear-gradient(175.1deg,#edf8fa00 0.2px,#ecf7fa1d 10.2px,#eaf6fa44 12.2px,#e6f5f89e 14.2px,#e0f3f7ee 15.2px,#c7e9f2ff 17.2px,#9ad7e8ff 19.1px,#79cbe1ff 20.1px,#50bad7ff 21.1px,#41a1bcff 22.1px,#25606dff 24.1px,#15333bff 26.1px,#132e36ff 27.1px,#132e36ff 31.1px,#132f37ff 32.1px,#183b44ff 33.1px,#368a9fff 38.1px,#41a3beff 40.1px,#48b1cfff 42.1px,#51bbd8ff 44.1px,#b0e0edff 58px,#cfecf4ff 64px,#e1f3f7fe 69px,#e9f6f971 74.9px,#eef8fa2b 80.9px,#f1f9fb01 100.8px)"></div>
<div style="left:80px;top:319px;width:5px;height:100px;background:linear-gradient(174.9deg,#edf8fa01 0.2px,#ecf7fa23 10.2px,#e9f6f953 12.2px,#e4f4f8c0 14.2px,#dcf1f6ff 15.2px,#bee6f0ff 17.2px,#8cd2e5ff 19.1px,#67c4ddff 20.1px,#48b0cdff 21.1px,#2b7080ff 23.1px,#215460ff 24.1px,#193d47ff 25.1px,#132e36ff 26.1px,#132e36ff 31.1px,#1b424cff 33.1px,#3f9eb7ff 39.1px,#44a8c4ff 40.1px,#4db9d6ff 43.1px,#8ed3e6ff 52px,#b3e2eeff 58px,#d1edf4ff 64px,#e3f4f8ec 68.9px,#e9f6f978 73.9px,#edf8fa2e 79.9px,#f0f9fb0b 87.9px,#f1f9fb01 99.8px)"></div>
<div style="left:85px;top:318px;width:5px;height:100px;background:linear-gradient(174.7deg,#edf8fa00 0.2px,#ecf7fa1c 10.2px,#eaf6fa42 12.2px,#e6f5f99b 14.2px,#e1f3f7e9 15.2px,#c8e9f2ff 17.2px,#9cd8e9ff 19.1px,#7bcbe2ff 20.1px,#53bbd8ff 21.1px,#42a3beff 22.1px,#266370ff 24.1px,#16353eff 26.1px,#132e36ff 27.1px,#132e36ff 31.1px,#143038ff 32.1px,#183c45ff 33.1px,#235966ff 35.1px,#368a9fff 38.1px,#41a3beff 40.1px,#48b1cfff 42.1px,#51bad8ff 44px,#b0e1edff 58px,#d0ecf4ff 64px,#e2f3f8f9 68.9px,#e9f6f97f 73.9px,#edf8fa31 79.9px,#f0f9fb0b 87.9px,#f1f9fb01 99.8px)"></div>
<div style="left:90px;top:318px;width:5px;height:100px;background:linear-gradient(174.6deg,#edf8fa01 0.2px,#ecf7fa23 10.2px,#e9f6f952 12.2px,#e4f4f8be 14.2px,#dcf1f6ff 15.2px,#bfe6f0ff 17.2px,#8dd2e6ff 19.2px,#68c4deff 20.1px,#48b1ceff 21.1px,#2c7282ff 23.1px,#225662ff 24.1px,#132e36ff 26.1px,#132e36ff 31.1px,#1b444dff 33.1px,#3f9eb7ff 39.1px,#44a8c4ff 40.1px,#4db9d7ff 43px,#8ed3e6ff 52px,#b4e2eeff 58px,#ceecf3ff 63px,#e1f3f7ff 67.9px,#e3f4f8e7 68.9px,#e9f6f974 73.9px,#edf8fa2c 79.9px,#f1f9fb01 99.8px)"></div>
<div style="left:95px;top:317px;width:5px;height:100px;background:linear-gradient(174.4deg,#edf8fa00 0.2px,#ecf7fa1c 10.2px,#eaf6fa42 12.2px,#e6f5f99b 14.2px,#e1f3f7ea 15.2px,#c8e9f2ff 17.2px,#9cd8e9ff 19.2px,#7ccce2ff 20.1px,#54bcd8ff 21.1px,#42a4bfff 22.1px,#276471ff 24.1px,#16373fff 26.1px,#132e36ff 27.1px,#132e36ff 31.1px,#14323aff 32.1px,#193e47ff 33.1px,#235b67ff 35.1px,#368ba0ff 38.1px,#42a3beff 40.1px,#48b2cfff 42px,#51bbd8ff 44px,#92d4e7ff 53px,#b7e3efff 59px,#d0edf4ff 63.9px,#e2f3f8f2 68.9px,#e9f6f97a 73.9px,#edf8fa2f 79.9px,#f0f9fb0b 87.8px,#f1f9fb01 99.8px)"></div>
<div style="left:100px;top:317px;width:5px;height:99px;background:linear-gradient(174.3deg,#edf8fa01 0.2px,#ecf7fa23 10.2px,#e9f6f953 12.2px,#e4f4f8c0 14.2px,#dcf1f6ff 15.2px,#bee6f0ff 17.2px,#8dd2e6ff 19.2px,#68c4deff 20.1px,#48b1ceff 21.1px,#2c7282ff 23.1px,#225662ff 24.1px,#132f37ff 26.1px,#132e36ff 31.1px,#1c454fff 33.1px,#3f9fb8ff 39.1px,#44a8c4ff 40px,#4eb9d7ff 43px,#afe0edff 57px,#cfecf4ff 62.9px,#e1f3f7fe 67.9px,#e9f6f980 72.9px,#edf8fa32 78.9px,#f0f9fb0b 86.8px,#f1f9fb01 98.8px)"></div>
<div style="left:105px;top:316px;width:5px;height:99px;background:linear-gradient(174.1deg,#edf8fa00 0.3px,#ecf7fa1d 10.2px,#eaf6fa44 12.2px,#e6f5f89e 14.2px,#e0f3f7ef 15.2px,#c7e9f2ff 17.2px,#9ad8e8ff 19.2px,#7acbe2ff 20.2px,#52bbd8ff 21.1px,#41a3bdff 22.1px,#266371ff 24.1px,#163740ff 26.1px,#132e36ff 27.1px,#132e36ff 31.1px,#15343cff 32.1px,#1f4e59ff 34.1px,#3d9ab2ff 39.1px,#46acc9ff 41px,#4bb7d5ff 43px,#acdfecff 57px,#cdebf3ff 62.9px,#e0f3f7ff 67.9px,#e9f6f974 73.9px,#edf8fa2c 79.8px,#f1f9fb01 98.7px)"></div>
<div style="left:110px;top:316px;width:5px;height:99px;background:linear-gradient(174.0deg,#edf8fa01 0.3px,#ecf7fa25 10.2px,#e9f6f956 12.2px,#e4f4f8c7 14.2px,#dbf1f6ff 15.2px,#bde5f0ff 17.2px,#8ad1e5ff 19.2px,#65c3ddff 20.2px,#47afccff 21.1px,#2b7081ff 23.1px,#225561ff 24.1px,#143038ff 26.1px,#132e36ff 30.1px,#143038ff 31.1px,#1d4852ff 33.1px,#40a0baff 39px,#47b0cdff 41px,#4fbad7ff 43px,#b0e0edff 56.9px,#d0ecf4ff 62.9px,#e2f3f8f4 67.9px,#e9f6f97a 72.9px,#edf8fa2f 78.8px,#f0f9fb0a 86.8px,#f1f9fb01 98.7px)"></div>
<div style="left:115px;top:315px;width:5px;height:99px;background:linear-gradient(173.8deg,#edf8fa00 0.3px,#ecf7fa1e 10.2px,#eaf6f947 12.2px,#e6f5f8a6 14.2px,#dff2f7fa 15.2px,#c5e8f2ff 17.2px,#98d6e8ff 19.2px,#4eb9d7ff 21.1px,#40a0baff 22.1px,#26616eff 24.1px,#163740ff 26.1px,#132e36ff 27.1px,#132e36ff 31.1px,#20515cff 34.1px,#3e9cb5ff 39px,#46adcaff 41px,#4bb8d6ff 43px,#aee0edff 56.9px,#ceecf4ff 62.9px,#e1f3f7ff 67.9px,#e9f6f980 72.8px,#edf7fa31 78.8px,#f0f9fb0b 86.8px,#f1f9fb01 98.7px)"></div>
<div style="left:120px;top:315px;width:5px;height:98px;background:linear-gradient(173.7deg,#edf8fa01 0.3px,#ebf7fa27 10.2px,#e9f6f95b 12.2px,#e3f4f8d2 14.2px,#daf0f6ff 15.2px,#bae4efff 17.2px,#86cfe4ff 19.2px,#60c1dcff 20.2px,#46acc9ff 21.1px,#2a6d7dff 23.1px,#21535fff 24.1px,#143038ff 26.1px,#132e36ff 30.1px,#15333cff 31.1px,#1e4c56ff 33.1px,#35899eff 37.1px,#41a2bdff 39px,#48b1ceff 41px,#50bad7ff 43px,#92d4e7ff 52px,#b8e3efff 57.9px,#e0f3f7ff 66.9px,#e3f4f8e9 67.9px,#e9f6f973 72.8px,#edf8fa2b 78.8px,#f1f9fb01 97.7px)"></div>
<div style="left:125px;top:314px;width:5px;height:98px;background:linear-gradient(173.6deg,#edf8fa00 0.3px,#ecf7fa20 10.2px,#eaf6f94c 12.2px,#e5f4f8b1 14.2px,#def2f7ff 15.2px,#c2e7f1ff 17.2px,#93d5e7ff 19.2px,#4ab6d4ff 21.1px,#3e9cb5ff 22.1px,#2f7a8cff 23.1px,#255e6bff 24.1px,#16363fff 26.1px,#132e36ff 27.1px,#132e36ff 30.1px,#143038ff 31.1px,#1c4751ff 33.1px,#3f9eb7ff 39px,#44a8c4ff 40px,#4db9d7ff 43px,#b0e0edff 56.9px,#d0edf4ff 62.9px,#e3f3f8f3 67.9px,#e9f6f978 72.8px,#edf8fa2d 78.8px,#f1f9fb01 97.7px)"></div>
<div style="left:130px;top:314px;width:5px;height:98px;background:linear-gradient(173.4deg,#edf8fa01 0.3px,#ecf7fa1b 9.2px,#eaf7fa40 11.2px,#e6f5f996 13.2px,#e1f3f7e2 14.2px,#c9eaf2ff 16.2px,#9fd9e9ff 18.2px,#80cde3ff 19.2px,#59bedaff 20.2px,#44a8c4ff 21.1px,#296978ff 23.1px,#20515cff 24.1px,#142f38ff 26.1px,#132e36ff 30.1px,#1f505bff 33.1px,#3d9ab2ff 38px,#46acc9ff 40px,#4bb7d5ff 42px,#aedfedff 55.9px,#cfecf4ff 61.9px,#e2f3f8fc 66.8px,#e9f6f97e 71.8px,#edf7fa2f 77.8px,#eff9fb0a 85.7px,#f1f9fb01 97.6px)"></div>
<div style="left:135px;top:313px;width:5px;height:98px;background:linear-gradient(173.3deg,#edf8fa01 0.3px,#ecf7fa23 10.2px,#e9f6f953 12.2px,#e4f4f8c1 14.2px,#dcf1f6ff 15.2px,#bfe6f0ff 17.2px,#8dd2e6ff 19.2px,#69c4deff 20.2px,#48b2cfff 21.1px,#235a67ff 24.1px,#1b454eff 25.1px,#16353dff 26.1px,#132e36ff 27.1px,#132e36ff 30.1px,#15343cff 31.1px,#1e4b56ff 33.1px,#40a1bbff 39px,#47b0cdff 41px,#4fbad7ff 43px,#92d4e7ff 51.9px,#b8e3efff 57.9px,#e1f3f7ff 66.8px,#e4f4f8e6 67.8px,#eaf6f970 72.8px,#edf8fa29 78.8px,#f1f9fb01 97.6px)"></div>
<div style="left:140px;top:312px;width:5px;height:98px;background:linear-gradient(173.2deg,#edf8fa00 0.3px,#ecf7fa1e 10.2px,#eaf6f946 12.2px,#e6f5f8a5 14.2px,#e0f2f7f8 15.2px,#c6e9f2ff 17.2px,#99d7e8ff 19.2px,#50bad7ff 21.1px,#41a2bdff 22.1px,#328195ff 23.1px,#276472ff 24.1px,#183b44ff 26.1px,#132f37ff 27.1px,#132e36ff 30.1px,#14313aff 31.1px,#1c4751ff 33.1px,#3991a7ff 38px,#43a7c3ff 40px,#4cb8d6ff 43px,#b0e0edff 56.9px,#d1edf4ff 62.9px,#e3f4f8ee 67.8px,#e9f6f975 72.8px,#edf8fa2b 78.7px,#f1f9fb01 97.6px)"></div>
<div style="left:145px;top:312px;width:5px;height:97px;background:linear-gradient(173.1deg,#edf8fa01 0.3px,#ebf7fa27 10.2px,#e9f6f95c 12.2px,#e3f3f8d5 14.2px,#d9f0f6ff 15.2px,#bae4efff 17.2px,#85cfe4ff 19.2px,#60c0dbff 20.2px,#46acc9ff 21.1px,#2b6f7fff 23.1px,#225661ff 24.1px,#1a424bff 25.1px,#15333cff 26.1px,#132e36ff 27.1px,#132e36ff 29.1px,#132f37ff 30.1px,#1b434dff 32.1px,#255e6bff 34.1px,#368ca1ff 37px,#42a4beff 39px,#48b2cfff 41px,#52bbd8ff 43px,#b4e2eeff 56.9px,#cfecf4ff 61.8px,#e2f3f8f6 66.8px,#e9f6f979 71.8px,#edf8fa2d 77.7px,#f1f9fb01 96.6px)"></div>
<div style="left:150px;top:311px;width:5px;height:97px;background:linear-gradient(172.9deg,#edf8fa00 0.3px,#ecf7fa22 10.2px,#eaf6f94f 12.2px,#e5f4f8b8 14.2px,#ddf1f7ff 15.2px,#c1e7f1ff 17.2px,#91d4e6ff 19.2px,#4ab5d3ff 21.1px,#255e6bff 24.1px,#173941ff 26.1px,#132f37ff 27.1px,#132e36ff 30.1px,#1e4c56ff 33.1px,#40a0baff 39px,#47b0cdff 41px,#4fbad7ff 43px,#b3e1eeff 56.9px,#ceecf3ff 61.8px,#e2f3f7ff 66.8px,#e9f6f97d 71.8px,#edf8fa2f 77.7px,#eff8fb0c 84.7px,#f1f9fb01 96.6px)"></div>
<div style="left:155px;top:310px;width:5px;height:97px;background:linear-gradient(172.8deg,#edf8fa00 0.3px,#ecf7fa1d 10.2px,#eaf6fa44 12.2px,#e6f5f89f 14.2px,#e0f3f7f0 15.2px,#c7e9f2ff 17.2px,#9bd8e9ff 19.2px,#54bcd8ff 21.1px,#43a5c1ff 22.1px,#34869aff 23.1px,#286877ff 24.1px,#193e48ff 26.1px,#15323bff 27.1px,#132e36ff 28.1px,#132e36ff 30.1px,#15333cff 31.1px,#1d4852ff 33.1px,#3991a7ff 38px,#43a7c2ff 40px,#4cb8d6ff 43px,#b1e1edff 56.9px,#cdebf3ff 61.8px,#e1f3f7ff 66.8px,#e9f6f982 71.7px,#edf8fa30 77.7px,#eff8fb0c 84.6px,#f1f9fb01 96.6px)"></div>
<div style="left:160px;top:310px;width:5px;height:96px;background:linear-gradient(172.7deg,#edf8fa01 0.3px,#ebf7fa26 10.2px,#e9f6f95a 12.2px,#e3f4f8d1 14.2px,#daf0f6ff 15.2px,#bbe5efff 17.2px,#87d0e4ff 19.2px,#62c2dcff 20.2px,#47aecbff 21.1px,#2c7282ff 23.1px,#235865ff 24.1px,#1b444eff 25.1px,#132e36ff 27.1px,#132e36ff 29.1px,#14323aff 30.1px,#1c454fff 32.1px,#255f6cff 34px,#378ca2ff 37px,#42a4bfff 39px,#48b2cfff 41px,#52bbd8ff 43px,#b5e3eeff 56.9px,#d0edf4ff 61.8px,#e3f4f8ed 66.8px,#eaf6f973 71.7px,#edf8fa2a 77.7px,#f1f9fb01 95.5px)"></div>
<div style="left:165px;top:309px;width:5px;height:97px;background:linear-gradient(172.6deg,#edf8fa00 0.3px,#ecf7fa21 10.2px,#eaf6f94e 12.2px,#e5f4f8b7 14.2px,#ddf1f7ff 15.2px,#c1e7f1ff 17.2px,#92d4e7ff 19.2px,#4ab6d4ff 21.1px,#3e9cb5ff 22.1px,#307c8eff 23.1px,#26616eff 24.1px,#183b44ff 26.1px,#14313aff 27.1px,#132e36ff 29.1px,#143139ff 30.1px,#1a424bff 32.1px,#245b68ff 34px,#40a1bbff 39px,#47b0cdff 41px,#4fbad7ff 43px,#b4e2eeff 56.8px,#cfecf4ff 61.8px,#e3f3f8f5 66.8px,#e9f6f977 71.7px,#edf8fa2b 77.7px,#f1f9fb01 96.5px)"></div>
<div style="left:170px;top:308px;width:5px;height:97px;background:linear-gradient(172.5deg,#edf8fa00 0.3px,#edf7fa08 7.3px,#ebf7fa2c 11.2px,#e8f6f969 13.2px,#e0f3f7f1 15.2px,#c7e9f2ff 17.2px,#b3e2eeff 18.2px,#9bd8e9ff 19.2px,#7bcbe2ff 20.2px,#55bcd9ff 21.1px,#43a6c2ff 22.1px,#296978ff 24.1px,#20525eff 25.1px,#1a404aff 26.1px,#15353dff 27.1px,#132e36ff 29.1px,#143038ff 30.1px,#193f49ff 32.1px,#225764ff 34px,#3f9eb7ff 39px,#44a7c3ff 40px,#4db9d6ff 43px,#b2e1eeff 56.8px,#ceecf3ff 61.8px,#e2f3f8fc 66.8px,#e9f6f97a 71.7px,#edf8fa2c 77.7px,#f1f9fb01 96.5px)"></div>
<div style="left:175px;top:308px;width:5px;height:96px;background:linear-gradient(172.4deg,#edf8fa01 0.3px,#ebf7fa27 10.2px,#e9f6f95c 12.2px,#e3f4f8d4 14.2px,#d9f0f6ff 15.2px,#bae4efff 17.2px,#86d0e4ff 19.2px,#62c1dcff 20.2px,#47aecbff 21.1px,#2c7283ff 23.1px,#235966ff 24.1px,#1c4650ff 25.1px,#173841ff 26.1px,#132e36ff 28.1px,#142f38ff 29.1px,#193d46ff 31.1px,#26616fff 34px,#3d9bb3ff 38px,#46acc9ff 40px,#4bb7d5ff 42px,#b1e1edff 55.8px,#cdebf3ff 60.8px,#e1f3f7ff 65.8px,#e9f6f97e 70.7px,#edf8fa2e 76.7px,#eff8fb0b 83.6px,#f1f9fb01 95.5px)"></div>
<div style="left:180px;top:307px;width:5px;height:96px;background:linear-gradient(172.3deg,#edf8fa00 0.3px,#ecf7fa22 10.2px,#e9f6f951 12.2px,#e4f4f8bb 14.2px,#dcf1f6ff 15.2px,#c0e7f1ff 17.2px,#91d4e6ff 19.2px,#4ab5d3ff 21.1px,#26616eff 24.1px,#1e4c57ff 25.1px,#193d46ff 26.1px,#142f38ff 28.1px,#143038ff 29.1px,#183b44ff 31.1px,#255e6bff 34px,#41a2bdff 39px,#48b1ceff 41px,#50bad7ff 42.9px,#b6e3eeff 56.8px,#d1edf4ff 61.8px,#e1f3f7ff 65.7px,#e4f4f8e8 66.7px,#eaf6f96f 71.7px,#edf8fa2f 76.6px,#eff8fb0c 83.6px,#f1f9fb01 95.5px)"></div>
<div style="left:185px;top:306px;width:5px;height:96px;background:linear-gradient(172.2deg,#edf8fa00 0.3px,#ecf7fa1e 10.2px,#eaf6f947 12.2px,#e5f5f8a6 14.2px,#dff2f7fa 15.2px,#c5e9f2ff 17.2px,#99d7e8ff 19.2px,#52bbd8ff 21.1px,#42a4bfff 22.1px,#34859aff 23.1px,#296978ff 24.1px,#1a414bff 26.1px,#16363fff 27.1px,#143038ff 29.1px,#173942ff 31.1px,#1f4e59ff 33px,#3a94acff 38px,#44a9c5ff 40px,#4eb9d7ff 42.9px,#b4e2eeff 56.8px,#d0ecf4ff 61.8px,#e3f4f8ee 66.7px,#eaf6f971 71.7px,#edf8fa30 76.6px,#eff8fb0c 83.6px,#f0f9fb01 95.5px)"></div>
<div style="left:190px;top:306px;width:5px;height:95px;background:linear-gradient(172.1deg,#edf8fa01 0.3px,#ebf7fa29 10.2px,#e9f6f960 12.2px,#e2f3f8de 14.2px,#caeaf3ff 16.2px,#b8e3efff 17.2px,#83cee4ff 19.2px,#5ec0dbff 20.2px,#46acc8ff 21.1px,#2c7181ff 23.1px,#235965ff 24.1px,#1c4650ff 25.1px,#173a43ff 26.1px,#143139ff 28.1px,#15333bff 29.1px,#1a414aff 31.1px,#276573ff 34px,#3e9db6ff 38px,#43a7c2ff 39px,#4cb8d6ff 41.9px,#b3e2eeff 55.8px,#cfecf4ff 60.8px,#e3f4f8f4 65.7px,#eaf6f974 70.7px,#edf8fa32 75.6px,#eff8fb0c 82.6px,#f0f9fb01 94.4px)"></div>
<div style="left:195px;top:305px;width:5px;height:95px;background:linear-gradient(172.0deg,#edf8fa01 0.3px,#ebf7fa24 10.2px,#e9f6f956 12.2px,#e4f4f8c6 14.2px,#dbf1f6ff 15.2px,#bde6f0ff 17.2px,#8dd2e5ff 19.2px,#49b3d0ff 21.1px,#2e798aff 23.1px,#255f6cff 24.1px,#1e4c56ff 25.1px,#193d47ff 26.1px,#14323aff 28.1px,#15333bff 29.1px,#193f48ff 31px,#26626fff 34px,#378da3ff 37px,#42a4bfff 39px,#48b2cfff 41px,#52bbd8ff 42.9px,#90d3e6ff 50.9px,#b8e3efff 56.8px,#e2f3f8f9 65.7px,#e9f6f977 70.7px,#edf7fa33 75.6px,#eff8fb0d 82.5px,#f0f9fb01 94.4px)"></div>
<div style="left:200px;top:304px;width:5px;height:95px;background:linear-gradient(172.0deg,#edf8fa00 0.3px,#ecf7fa20 10.3px,#eaf6f94c 12.2px,#e5f4f8b1 14.2px,#def2f7ff 15.2px,#c3e7f1ff 17.2px,#95d5e7ff 19.2px,#4cb9d6ff 21.1px,#40a1bbff 22.1px,#328295ff 23.1px,#286775ff 24.1px,#1a414bff 26.1px,#173841ff 27.1px,#15333bff 29.1px,#1c4751ff 32px,#255f6cff 34px,#41a2bcff 39px,#48b0cdff 40.9px,#50bad7ff 42.9px,#b0e1edff 55.8px,#cdebf3ff 60.7px,#e2f3f8ff 65.7px,#e9f6f97a 70.7px,#edf7fa34 75.6px,#eff8fb0d 82.5px,#f0f9fb01 94.4px)"></div>
<div style="left:205px;top:304px;width:5px;height:94px;background:linear-gradient(171.9deg,#edf8fa01 0.4px,#edf7fa0c 7.3px,#ebf7fa2c 10.3px,#e8f6f968 12.2px,#e0f3f7ef 14.2px,#c7e9f2ff 16.2px,#b4e2eeff 17.2px,#9cd8e9ff 18.2px,#7dcce2ff 19.2px,#57bdd9ff 20.2px,#44a8c5ff 21.1px,#2a6e7dff 23.1px,#225763ff 24.1px,#1c4650ff 25.1px,#183b44ff 26.1px,#15343cff 28.1px,#183c45ff 30.1px,#20505bff 32px,#3a95acff 37px,#44a9c5ff 39px,#4eb9d7ff 41.9px,#afe0edff 54.8px,#ccebf3ff 59.8px,#e1f3f7ff 64.7px,#e9f6f97d 69.7px,#edf8fa2c 75.6px,#f0f9fb01 93.4px)"></div>
<div style="left:210px;top:303px;width:5px;height:94px;background:linear-gradient(171.8deg,#edf8fa01 0.4px,#ebf7fa27 10.3px,#e9f6f95d 12.2px,#e2f3f8d8 14.2px,#d9f0f6ff 15.2px,#b9e4efff 17.2px,#86d0e4ff 19.2px,#62c1dcff 20.2px,#47afcbff 21.1px,#2d7586ff 23.1px,#245d6aff 24.1px,#1e4a55ff 25.1px,#193e47ff 26.1px,#15353dff 28.1px,#16363fff 29.1px,#1b434dff 31px,#235a66ff 33px,#3f9db6ff 38px,#43a7c2ff 39px,#4cb8d6ff 41.9px,#b4e2eeff 55.8px,#d0edf4ff 60.7px,#e1f3f7ff 64.7px,#e4f4f8e8 65.7px,#eaf6f96c 70.6px,#edf8fa2d 75.6px,#f0f9fb01 93.4px)"></div>
<div style="left:215px;top:302px;width:5px;height:94px;background:linear-gradient(171.7deg,#edf8fa01 0.4px,#ebf7fa23 10.3px,#e9f6f954 12.2px,#e4f4f8c3 14.2px,#dbf1f6ff 15.2px,#bee6f0ff 17.2px,#8fd3e6ff 19.2px,#49b4d2ff 21.1px,#3e9bb4ff 22.1px,#307c8fff 23.1px,#266371ff 24.1px,#1f4f5aff 25.1px,#1a414bff 26.1px,#16363eff 28.1px,#16363fff 29.1px,#1a424cff 31px,#276472ff 34px,#3d9bb3ff 38px,#46acc9ff 39.9px,#4bb7d5ff 41.9px,#b3e2eeff 55.8px,#d0ecf4ff 60.7px,#e4f4f8ec 65.7px,#eaf6f96f 70.6px,#edf8fa2e 75.6px,#f0f9fb01 93.4px)"></div>
<div style="left:220px;top:301px;width:5px;height:94px;background:linear-gradient(171.7deg,#edf8fa00 0.4px,#ecf7fa20 10.3px,#eaf6f94b 12.2px,#e5f4f8b0 14.2px,#def2f7ff 15.2px,#c3e8f1ff 17.2px,#96d6e7ff 19.2px,#4fbad7ff 21.1px,#41a3bdff 22.1px,#338498ff 23.1px,#296978ff 24.1px,#1c454fff 26.1px,#183b45ff 27.1px,#16373fff 29.1px,#1a414aff 31px,#215561ff 33px,#41a3bdff 39px,#48b1ceff 40.9px,#50bad7ff 42.9px,#90d3e6ff 50.8px,#b8e4efff 56.8px,#d4eef5ff 61.7px,#e3f4f8f1 65.7px,#eaf6f971 70.6px,#edf8fa2f 75.6px,#eff8fb0b 82.5px,#f0f9fb01 93.4px)"></div>
<div style="left:225px;top:301px;width:5px;height:93px;background:linear-gradient(171.6deg,#edf8fa01 0.4px,#ecf7fa0c 7.3px,#ebf7fa2c 10.3px,#e8f6f969 12.2px,#e0f3f7f0 14.2px,#c7e9f2ff 16.2px,#b4e2eeff 17.2px,#7ecce2ff 19.2px,#58bedaff 20.2px,#45a9c6ff 21.1px,#2b7080ff 23.1px,#235966ff 24.1px,#1d4953ff 25.1px,#193e47ff 26.1px,#163740ff 28.1px,#1a4049ff 30px,#21535fff 32px,#3b96adff 37px,#45a9c5ff 38.9px,#4eb9d7ff 41.9px,#b1e1edff 54.8px,#ceecf3ff 59.7px,#e3f4f8f5 64.7px,#eaf6f973 69.6px,#edf8fa30 74.6px,#eff8fb0b 81.5px,#f0f9fb01 92.4px)"></div>
<div style="left:230px;top:300px;width:5px;height:93px;background:linear-gradient(171.5deg,#edf8fa01 0.4px,#ebf7fa28 10.3px,#e9f6f95f 12.2px,#e2f3f8da 14.2px,#d8f0f6ff 15.2px,#b9e4efff 17.2px,#86cfe4ff 19.2px,#62c1dcff 20.2px,#47afccff 21.1px,#2e7687ff 23.1px,#255f6cff 24.1px,#1f4d58ff 25.1px,#1a414aff 26.1px,#173841ff 28.1px,#1c4751ff 31px,#245d69ff 33px,#3f9eb8ff 38px,#44a8c4ff 38.9px,#4db9d6ff 41.9px,#b0e0edff 54.8px,#cdecf3ff 59.7px,#e2f3f8fa 64.7px,#eaf6f975 69.6px,#edf8fa30 74.6px,#eff8fb0b 81.5px,#f0f9fb01 92.4px)"></div>
<div style="left:235px;top:299px;width:5px;height:93px;background:linear-gradient(171.5deg,#edf7fa01 0.4px,#ebf7fa24 10.3px,#e9f6f956 12.2px,#e4f4f8c7 14.2px,#dbf1f6ff 15.2px,#bee6f0ff 17.2px,#8dd2e6ff 19.2px,#49b4d2ff 21.1px,#3e9bb4ff 22.1px,#307d8fff 23.1px,#276472ff 24.1px,#20515dff 25.1px,#1b444eff 26.1px,#173942ff 28.1px,#183a43ff 29.1px,#1c4650ff 31px,#235b67ff 33px,#3e9cb5ff 38px,#46adcaff 39.9px,#4bb8d6ff 41.9px,#afe0edff 54.8px,#cdebf3ff 59.7px,#e2f3f8fe 64.7px,#e9f6f977 69.6px,#edf8fa31 74.5px,#eff8fb0c 81.5px,#f0f9fb01 92.3px)"></div>
<div style="left:240px;top:298px;width:5px;height:93px;background:linear-gradient(171.4deg,#edf7fa00 0.4px,#ecf7fa21 10.3px,#e9f6f94e 12.2px,#e5f4f8b6 14.2px,#ddf1f7ff 15.2px,#c2e7f1ff 17.2px,#94d5e7ff 19.2px,#4db9d7ff 21.1px,#41a2bcff 22.1px,#338498ff 23.1px,#296a79ff 24.1px,#1c4751ff 26.1px,#193e48ff 27.1px,#183a44ff 29px,#1c454fff 31px,#235965ff 33px,#42a4bfff 38.9px,#52bbd8ff 42.9px,#b4e2eeff 55.7px,#d1edf4ff 60.7px,#e1f3f7ff 64.6px,#e9f6f978 69.6px,#edf8fa32 74.5px,#eff8fb0c 81.5px,#f0f9fb01 92.3px)"></div>
<div style="left:245px;top:298px;width:5px;height:92px;background:linear-gradient(171.4deg,#edf7fa01 0.4px,#ecf7fa1e 9.3px,#eaf6f947 11.3px,#e5f5f8a6 13.2px,#dff2f7f9 14.2px,#c6e9f2ff 16.2px,#9ad8e8ff 18.2px,#56bdd9ff 20.1px,#44a8c4ff 21.1px,#368ca1ff 22.1px,#2b7080ff 23.1px,#235a67ff 24.1px,#1e4b55ff 25.1px,#1a414aff 26.1px,#183b44ff 28.1px,#1b444eff 30px,#225763ff 32px,#41a2bdff 37.9px,#50bad7ff 41.9px,#b3e2eeff 54.8px,#d0edf4ff 59.7px,#e1f3f7ff 63.7px,#e9f6f97a 68.6px,#edf8fa32 73.5px,#eff8fb0c 80.5px,#f0f9fb01 91.3px)"></div>
<div style="left:250px;top:297px;width:5px;height:92px;background:linear-gradient(171.3deg,#edf7fa01 0.4px,#ecf7fa0c 7.3px,#ebf7fa2a 10.3px,#e8f6f963 12.2px,#e1f3f7e5 14.2px,#c9eaf2ff 16.2px,#b7e3efff 17.2px,#83cee3ff 19.2px,#5fc0dbff 20.1px,#46adcaff 21.1px,#2d7587ff 23.1px,#255f6cff 24.1px,#1f4e59ff 25.1px,#1b434dff 26.1px,#183c45ff 28.1px,#1e4b56ff 31px,#26616eff 33px,#40a1bbff 37.9px,#45a9c5ff 38.9px,#4eb9d7ff 41.9px,#8fd3e6ff 49.8px,#b9e4efff 55.7px,#e1f3f7ff 63.6px,#e4f4f8e7 64.6px,#eaf6fa69 69.6px,#edf8fa2a 74.5px,#f0f9fb01 91.3px)"></div>
<div style="left:255px;top:296px;width:5px;height:92px;background:linear-gradient(171.3deg,#edf7fa01 0.4px,#ebf7fa26 10.3px,#e9f6f95b 12.2px,#e3f3f8d2 14.2px,#d9f0f6ff 15.2px,#bbe5efff 17.2px,#8ad1e5ff 19.2px,#48b2cfff 21.1px,#307b8eff 23.1px,#276472ff 24.1px,#20525eff 25.1px,#1c4650ff 26.1px,#193d46ff 28.1px,#193e47ff 29px,#1e4a55ff 31px,#255f6cff 33px,#3f9fb8ff 37.9px,#44a8c4ff 38.9px,#4db9d6ff 41.9px,#8ed3e6ff 49.8px,#b8e4efff 55.7px,#d4eef5ff 60.7px,#e4f4f8ea 64.6px,#eaf6fa6a 69.6px,#edf8fa2b 74.5px,#f0f9fb01 91.3px)"></div>
<div style="left:260px;top:295px;width:5px;height:92px;background:linear-gradient(171.2deg,#edf7fa00 0.4px,#ebf7fa23 10.3px,#e9f6f953 12.2px,#e4f4f8c1 14.2px,#dcf1f6ff 15.2px,#bfe6f0ff 17.2px,#91d4e6ff 19.2px,#4bb7d5ff 21.1px,#296978ff 24.1px,#225662ff 25.1px,#1d4953ff 26.1px,#193e47ff 28.1px,#193f48ff 29px,#1d4954ff 31px,#245d6aff 33px,#3e9db6ff 37.9px,#43a6c2ff 38.9px,#4bb8d6ff 41.9px,#8cd2e5ff 49.8px,#b7e3efff 55.7px,#d4eef5ff 60.7px,#e3f4f8ee 64.6px,#eaf6f96c 69.6px,#edf8fa2b 74.5px,#f0f9fb01 91.3px)"></div>
<div style="left:265px;top:294px;width:5px;height:92px;background:linear-gradient(171.2deg,#edf7fa00 0.4px,#ebf7fa21 10.3px,#e9f6f94d 12.2px,#e5f4f8b1 14.2px,#def2f7ff 15.2px,#c3e8f1ff 17.2px,#98d7e8ff 19.2px,#54bcd8ff 21.1px,#44a8c4ff 22.1px,#378ca1ff 23.1px,#2c7181ff 24.1px,#245d69ff 25.1px,#1f4e59ff 26.1px,#1c454fff 27.1px,#1a4049ff 29px,#1d4953ff 31px,#245c68ff 33px,#42a5c0ff 38.9px,#52bbd8ff 42.9px,#b6e3eeff 55.7px,#d3eef4ff 60.7px,#e3f4f8f3 64.6px,#eaf6f96f 69.6px,#edf8fa2c 74.5px,#f0f9fb01 91.3px)"></div>
<div style="left:270px;top:293px;width:5px;height:93px;background:linear-gradient(171.2deg,#edf7fa00 0.4px,#ecf7fa1f 10.3px,#eaf6f947 12.2px,#e5f5f8a3 14.2px,#e0f2f7f2 15.2px,#c7e9f2ff 17.2px,#9ed9e9ff 19.2px,#5fc0dbff 21.1px,#47aecbff 22.1px,#2e798aff 24.1px,#276371ff 25.1px,#21535fff 26.1px,#1d4953ff 27.1px,#1a424bff 29px,#1d4953ff 31px,#235a67ff 33px,#41a3bdff 38.9px,#50bad7ff 42.9px,#b5e2eeff 55.7px,#d2edf4ff 60.7px,#e2f3f8f9 64.6px,#eaf6f972 69.6px,#edf8fa2e 74.5px,#eff8fb0a 81.4px,#f0f9fb01 92.3px)"></div>
<div style="left:275px;top:292px;width:5px;height:93px;background:linear-gradient(171.1deg,#edf7fa00 0.4px,#ecf7fa09 7.3px,#ebf7fa2c 11.3px,#e8f6f964 13.2px,#e1f3f7df 15.2px,#d8eff5ff 16.2px,#bae4efff 18.2px,#8ad1e5ff 20.1px,#49b4d1ff 22.1px,#296a79ff 25.1px,#235965ff 26.1px,#1e4d58ff 27.1px,#1b444dff 29px,#1b454eff 30px,#20505bff 32px,#276472ff 34px,#40a1bbff 38.9px,#4fbad7ff 42.9px,#b4e2eeff 55.7px,#d1edf4ff 60.7px,#e2f3f8ff 64.6px,#eaf6f975 69.6px,#edf8fa2f 74.5px,#eff8fb0b 81.4px,#f0f9fb01 92.3px)"></div>
<div style="left:280px;top:291px;width:5px;height:93px;background:linear-gradient(171.1deg,#edf7fa00 0.4px,#ecf7fa08 7.3px,#ebf7fa29 11.3px,#e9f6f95d 13.2px,#e3f4f8ce 15.2px,#daf0f6ff 16.2px,#ceecf3ff 17.2px,#aadeecff 19.2px,#92d4e7ff 20.1px,#4eb9d7ff 22.1px,#42a5c0ff 23.1px,#2c7182ff 25.1px,#255e6bff 26.1px,#1d4954ff 28.1px,#1c4650ff 30px,#1f505bff 32px,#266270ff 34px,#3a95acff 37.9px,#44a8c4ff 39.9px,#4db9d7ff 42.9px,#b3e1eeff 55.7px,#d0edf4ff 60.7px,#e1f3f7ff 64.6px,#e9f6f978 69.5px,#edf8fa30 74.5px,#eff8fb0b 81.4px,#f0f9fb01 92.3px)"></div>
<div style="left:285px;top:290px;width:5px;height:93px;background:linear-gradient(171.1deg,#ecf7fa00 0.4px,#ecf7fa1a 10.3px,#e9f6f956 13.2px,#e4f4f8be 15.2px,#dcf1f6ff 16.2px,#c2e7f1ff 18.2px,#afe0edff 19.2px,#98d7e8ff 20.1px,#58bedaff 22.1px,#45abc8ff 23.1px,#2e788aff 25.1px,#276573ff 26.1px,#1f4d58ff 28px,#1d4752ff 30px,#225764ff 33px,#43a7c2ff 39.9px,#4bb8d6ff 42.9px,#8dd2e6ff 50.8px,#b8e4efff 56.7px,#e1f3f7ff 64.6px,#e4f4f8e7 65.6px,#eaf6fa68 70.5px,#edf8fa29 75.5px,#f0f9fb01 92.3px)"></div>
<div style="left:290px;top:289px;width:5px;height:93px;background:linear-gradient(171.1deg,#ecf7fa00 0.4px,#ebf7fa24 11.3px,#e7f5f977 14.2px,#def2f7ff 16.2px,#c6e9f2ff 18.2px,#b4e2eeff 19.2px,#83cfe4ff 21.1px,#62c2dcff 22.1px,#48b1ceff 23.1px,#328094ff 25.1px,#245b68ff 27.1px,#20515cff 28px,#1d4954ff 30px,#1f505bff 32px,#25606dff 34px,#42a5c0ff 39.9px,#4bb7d5ff 42.9px,#53bbd8ff 43.9px,#b7e3efff 56.7px,#d4eef5ff 61.6px,#e4f4f8ec 65.6px,#eaf6fa6a 70.5px,#edf8fa2a 75.5px,#f0f9fb01 92.3px)"></div>
<div style="left:295px;top:289px;width:5px;height:92px;background:linear-gradient(171.1deg,#ecf7fa01 0.4px,#ebf7fa22 10.3px,#e8f5f96f 13.2px,#e0f2f7ee 15.2px,#caeaf2ff 17.2px,#a4dcebff 19.2px,#8bd2e5ff 20.1px,#4ab7d5ff 22.1px,#2c7282ff 25.1px,#26616eff 26.1px,#215561ff 27.1px,#1e4c56ff 29px,#225762ff 32px,#296978ff 34px,#42a3beff 38.9px,#51bad8ff 42.9px,#b6e3eeff 55.7px,#d3eef4ff 60.6px,#e3f4f8f1 64.6px,#eaf6f96d 69.5px,#edf8fa2b 74.5px,#f0f9fb01 91.3px)"></div>
<div style="left:300px;top:288px;width:5px;height:92px;background:linear-gradient(171.0deg,#ecf7fa01 0.4px,#ebf7fa21 10.3px,#e8f6f968 13.2px,#e1f3f7dd 15.2px,#cdebf3ff 17.2px,#aadeecff 19.2px,#92d4e7ff 20.1px,#52bbd8ff 22.1px,#44a9c5ff 23.1px,#2e788aff 25.1px,#286775ff 26.1px,#20525dff 28px,#1f4e59ff 30px,#255e6bff 33px,#3c98b0ff 37.9px,#45aac6ff 39.9px,#4fbad7ff 42.9px,#b5e2eeff 55.7px,#d2edf4ff 60.6px,#e3f3f8f6 64.6px,#eaf6f970 69.5px,#edf8fa2c 74.5px,#f0f9fb01 91.3px)"></div>
<div style="left:305px;top:287px;width:5px;height:92px;background:linear-gradient(171.0deg,#ecf7fa01 0.4px,#ebf7fa1f 10.3px,#e8f6f962 13.2px,#e3f3f8ce 15.2px,#dbf0f6ff 16.2px,#c1e7f1ff 18.2px,#afe0edff 19.2px,#98d7e8ff 20.1px,#5cbfdaff 22.1px,#47aecbff 23.1px,#328093ff 25.1px,#255e6bff 27.1px,#225561ff 28px,#1f4f5bff 30px,#255e6aff 33px,#40a0baff 38.9px,#44a9c5ff 39.9px,#4eb9d7ff 42.9px,#90d3e6ff 50.8px,#b4e2eeff 55.7px,#d1edf4ff 60.6px,#e2f3f8fc 64.6px,#eaf6f972 69.5px,#edf8fa2e 74.5px,#f0f9fb01 91.3px)"></div>
<div style="left:310px;top:286px;width:5px;height:93px;background:linear-gradient(171.0deg,#ecf7fa01 0.4px,#ebf7fa1e 10.3px,#e9f6f95c 13.2px,#e4f4f8c0 15.2px,#dcf1f6ff 16.2px,#c5e8f1ff 18.2px,#b3e2eeff 19.2px,#84cfe4ff 21.1px,#49b4d1ff 23.1px,#2c7383ff 26.1px,#276471ff 27.1px,#235966ff 28px,#20515dff 30px,#245d6aff 33px,#44a7c3ff 39.9px,#4cb9d6ff 42.9px,#8fd3e6ff 50.8px,#b3e1eeff 55.7px,#d1edf4ff 60.6px,#e2f3f7ff 64.6px,#e9f6f975 69.5px,#edf8fa2f 74.5px,#eff8fb0a 81.4px,#f0f9fb01 92.3px)"></div>
<div style="left:315px;top:285px;width:5px;height:93px;background:linear-gradient(171.0deg,#ecf7fa01 0.4px,#ebf7fa29 11.3px,#e7f5f97d 14.2px,#def2f7ff 16.2px,#c8e9f2ff 18.2px,#a4dbeaff 20.1px,#8cd2e5ff 21.1px,#4db9d7ff 23.1px,#43a7c2ff 24.1px,#2f798bff 26.1px,#296978ff 27.1px,#245d6aff 28px,#21545fff 30px,#245d6aff 33px,#2f798bff 35.9px,#43a6c1ff 39.9px,#4bb8d6ff 42.9px,#54bcd8ff 43.9px,#8ed2e6ff 50.8px,#b8e4efff 56.7px,#e1f3f7ff 64.6px,#e4f4f8e3 65.6px,#eaf7fa65 70.5px,#edf8fa27 75.5px,#f0f9fb01 92.3px)"></div>
<div style="left:320px;top:284px;width:5px;height:93px;background:linear-gradient(171.0deg,#ecf7fa01 0.4px,#ebf7fa27 11.3px,#e7f5f975 14.2px,#e0f2f7ef 16.2px,#cbebf3ff 18.2px,#a9deecff 20.1px,#93d4e7ff 21.1px,#56bdd9ff 23.1px,#46acc9ff 24.1px,#328094ff 26.1px,#266270ff 28px,#235a67ff 29px,#225662ff 31px,#276573ff 34px,#42a4c0ff 39.9px,#4bb7d5ff 42.9px,#52bbd8ff 43.9px,#8cd2e5ff 50.8px,#b7e3efff 56.7px,#e0f3f7ff 64.6px,#e4f4f8e8 65.6px,#eaf6fa68 70.5px,#edf8fa29 75.5px,#f0f9fb01 92.3px)"></div>
<div style="left:325px;top:283px;width:5px;height:93px;background:linear-gradient(171.0deg,#ecf7fa01 0.4px,#ebf7fa25 11.3px,#e8f5f96e 14.2px,#e1f3f7df 16.2px,#ceecf3ff 18.2px,#aedfedff 20.1px,#99d7e8ff 21.1px,#5fc0dbff 23.1px,#48b2cfff 24.1px,#2d7485ff 27.1px,#286775ff 28px,#255e6bff 29px,#225864ff 31px,#276573ff 34px,#42a3beff 39.9px,#50bad7ff 43.9px,#93d4e7ff 51.8px,#b6e3eeff 56.7px,#d3eef4ff 61.6px,#e3f4f8ed 65.6px,#eaf6fa6a 70.5px,#edf8fa2a 75.5px,#f0f9fb01 92.3px)"></div>
<div style="left:330px;top:282px;width:5px;height:93px;background:linear-gradient(171.0deg,#ecf7fa01 0.4px,#ebf7fa24 11.3px,#e8f6f968 14.2px,#e2f3f8d1 16.2px,#dbf0f6ff 17.2px,#b2e1eeff 20.1px,#86cfe4ff 22.1px,#4ab7d5ff 24.1px,#2f7a8cff 27.1px,#2a6c7bff 28px,#26626fff 29px,#235a66ff 31px,#276472ff 34px,#2d7687ff 36px,#41a2bcff 39.9px,#4fbad7ff 43.9px,#91d4e7ff 51.8px,#b5e2eeff 56.7px,#d2edf4ff 61.6px,#e3f4f8f2 65.6px,#eaf6f96d 70.5px,#edf8fa2b 75.5px,#f0f9fb01 92.3px)"></div>
<div style="left:335px;top:281px;width:5px;height:93px;background:linear-gradient(171.1deg,#ecf7fa01 0.4px,#ebf7fa22 11.3px,#e8f6f962 14.2px,#e3f4f8c3 16.2px,#dcf1f6ff 17.2px,#b7e3efff 20.1px,#8dd2e6ff 22.1px,#52bbd8ff 24.1px,#45abc7ff 25.1px,#328295ff 27.1px,#2c7182ff 28px,#255f6cff 30px,#245c69ff 32px,#2a6c7bff 35px,#44a8c5ff 40.9px,#4db9d7ff 43.9px,#90d3e6ff 51.8px,#b4e2eeff 56.7px,#d2edf4ff 61.6px,#e2f3f8f7 65.6px,#eaf6f96f 70.5px,#edf8fa2c 75.5px,#f0f9fb01 92.3px)"></div>
<div style="left:340px;top:280px;width:5px;height:93px;background:linear-gradient(171.1deg,#ecf7fa01 0.4px,#ebf7fa21 11.3px,#e8f6f95d 14.2px,#e4f4f8b7 16.2px,#def2f7ff 17.2px,#bbe4efff 20.1px,#93d5e7ff 22.1px,#79cae1ff 23.1px,#5bbfdaff 24.1px,#47b0cdff 25.1px,#2e7788ff 28px,#296b7aff 29px,#266371ff 30px,#255e6bff 32px,#2a6c7bff 35px,#44a7c3ff 40.9px,#4cb8d6ff 43.9px,#8fd3e6ff 51.8px,#b3e2eeff 56.7px,#d1edf4ff 61.6px,#e2f3f8fd 65.6px,#eaf6f972 70.5px,#edf8fa2d 75.5px,#f0f9fb01 92.3px)"></div>
<div style="left:345px;top:279px;width:5px;height:93px;background:linear-gradient(171.1deg,#ecf7fa01 0.4px,#ecf7fa0b 8.3px,#ebf7fa2c 12.2px,#e7f5f97b 15.2px,#dff2f7ef 17.2px,#ccebf3ff 19.2px,#addfedff 21.1px,#80cde3ff 23.1px,#4ab5d3ff 25.1px,#307d90ff 28px,#2b7080ff 29px,#286775ff 30px,#25606dff 32px,#2a6c7bff 35px,#43a6c1ff 40.9px,#4bb8d5ff 43.9px,#53bbd8ff 44.8px,#b2e1eeff 56.7px,#d0edf4ff 61.6px,#e1f3f7ff 65.6px,#e9f6f975 70.5px,#edf8fa2e 75.5px,#f0f9fb01 92.3px)"></div>
<div style="left:350px;top:278px;width:5px;height:93px;background:linear-gradient(171.1deg,#ecf7fa01 0.4px,#ecf7fa0b 8.3px,#ebf7fa2b 12.2px,#e7f5f974 15.2px,#e1f3f7e0 17.2px,#cfecf4ff 19.2px,#b2e1edff 21.1px,#88d0e4ff 23.1px,#4fb9d7ff 25.1px,#2d7586ff 29px,#296b7aff 30px,#266270ff 32px,#2a6c7bff 35px,#307c8eff 36.9px,#42a4c0ff 40.9px,#4ab7d4ff 43.9px,#b7e3efff 57.7px,#e1f3f7ff 65.6px,#e4f4f8e4 66.6px,#e9f6f978 70.5px,#edf8fa30 75.5px,#eff8fb0d 81.4px,#f0f9fb01 92.3px)"></div>
<div style="left:355px;top:277px;width:5px;height:94px;background:linear-gradient(171.1deg,#ecf7fa01 0.4px,#ebf7fa29 12.2px,#e8f5f96e 15.2px,#e2f3f8d3 17.2px,#dbf1f6ff 18.2px,#b6e3eeff 21.1px,#8fd3e6ff 23.1px,#74c9e0ff 24.1px,#58bdd9ff 25.1px,#47afccff 26.1px,#2f7a8cff 29px,#296977ff 31px,#276573ff 33px,#2c7383ff 36px,#42a3beff 40.9px,#4ab6d3ff 43.9px,#b6e3eeff 57.7px,#d3eef5ff 62.6px,#e4f4f8ea 66.6px,#eaf6fa68 71.5px,#edf8fa28 76.5px,#f0f9fb01 93.3px)"></div>
<div style="left:360px;top:276px;width:5px;height:94px;background:linear-gradient(171.2deg,#ecf7fa01 0.4px,#ebf7fa27 12.2px,#e8f6f968 15.2px,#e3f4f8c6 17.2px,#dcf1f6ff 18.2px,#bae4efff 21.1px,#95d5e7ff 23.1px,#49b4d2ff 26.1px,#328194ff 29px,#2d7485ff 30px,#2a6c7cff 31px,#286775ff 33px,#2c7283ff 36px,#45a9c6ff 41.9px,#4eb9d7ff 44.8px,#91d4e6ff 52.8px,#b5e2eeff 57.7px,#d3edf4ff 62.6px,#e3f4f8ef 66.6px,#eaf6f96b 71.5px,#edf8fa29 76.5px,#f0f9fb01 93.3px)"></div>
<div style="left:365px;top:275px;width:5px;height:94px;background:linear-gradient(171.2deg,#ecf7fa01 0.4px,#ebf7fa25 12.2px,#e8f6f962 15.2px,#e4f4f8ba 17.2px,#def2f7fe 18.2px,#cbebf3ff 20.1px,#addfedff 22.1px,#83cfe4ff 24.1px,#4db9d6ff 26.1px,#2f798bff 30px,#2b7081ff 31px,#296978ff 33px,#2c7383ff 36px,#44a8c4ff 41.9px,#4db9d6ff 44.9px,#90d3e6ff 52.8px,#b4e2eeff 57.7px,#d2edf4ff 62.6px,#e2f3f8f5 66.6px,#eaf6f96d 71.5px,#edf8fa2b 76.5px,#f0f9fb01 93.3px)"></div>
<div style="left:370px;top:274px;width:5px;height:94px;background:linear-gradient(171.2deg,#ecf7fa00 0.4px,#ebf7fa24 12.2px,#e8f6f95d 15.2px,#dff2f7ee 18.2px,#ceecf3ff 20.1px,#b2e1eeff 22.1px,#8bd1e5ff 24.1px,#56bcd9ff 26.1px,#47afccff 27.1px,#317f92ff 30px,#2d7586ff 31px,#2b6f7eff 32px,#2a6c7bff 34px,#2f798bff 36.9px,#44a7c3ff 41.9px,#4bb8d6ff 44.9px,#8fd3e6ff 52.8px,#b3e2eeff 57.7px,#d1edf4ff 62.6px,#e2f3f8fb 66.6px,#eaf6f970 71.5px,#edf8fa2c 76.5px,#f0f9fb01 93.3px)"></div>
<div style="left:375px;top:273px;width:5px;height:94px;background:linear-gradient(171.3deg,#ecf7fa00 0.4px,#ebf7fa23 12.2px,#e8f6f959 15.2px,#e0f3f7df 18.2px,#d0edf4ff 20.1px,#b6e3eeff 22.1px,#91d4e7ff 24.1px,#49b4d2ff 27.1px,#2f798bff 31px,#2c7283ff 32px,#2a6e7dff 34px,#2f798bff 37px,#43a6c1ff 41.9px,#4bb7d5ff 44.9px,#b2e1edff 57.7px,#d0ecf4ff 62.6px,#e1f3f7ff 66.6px,#e9f6f974 71.5px,#edf8fa2d 76.5px,#f0f9fb01 93.3px)"></div>
<div style="left:380px;top:272px;width:5px;height:94px;background:linear-gradient(171.3deg,#ecf7fa00 0.4px,#ebf7fa21 12.2px,#e9f6f954 15.2px,#e2f3f7d2 18.2px,#dbf1f6ff 19.2px,#c8e9f2ff 21.1px,#aadeecff 23.1px,#81cee3ff 25.1px,#4db9d6ff 27.1px,#317f92ff 31px,#2e7687ff 32px,#2b7080ff 34px,#2f798bff 37px,#42a5c0ff 41.9px,#51bad7ff 45.8px,#93d5e7ff 53.8px,#b7e3efff 58.7px,#e1f3f7ff 66.6px,#e4f4f8e3 67.6px,#e9f6f977 71.6px,#edf8fa2f 76.5px,#eff8fb0d 82.4px,#f0f9fb01 93.3px)"></div>
<div style="left:385px;top:272px;width:5px;height:93px;background:linear-gradient(171.4deg,#ecf7fa01 0.4px,#eaf7fa2b 12.2px,#e7f5f96c 15.2px,#e3f4f8c5 17.2px,#ddf1f6ff 18.2px,#cbeaf3ff 20.1px,#afe0edff 22.1px,#88d0e5ff 24.1px,#56bcd9ff 26.1px,#47b0cdff 27.1px,#338599ff 30px,#2f7a8cff 31px,#2c7283ff 33px,#2f798bff 36px,#45aac7ff 41.9px,#4fbad7ff 44.9px,#92d4e7ff 52.8px,#b6e3eeff 57.7px,#d3eef4ff 62.7px,#e3f4f8e9 66.6px,#e9f6f97a 70.6px,#edf8fa30 75.5px,#eff8fb0d 81.4px,#f0f9fb01 92.3px)"></div>
<div style="left:390px;top:271px;width:5px;height:94px;background:linear-gradient(171.4deg,#ecf7fa01 0.4px,#ebf7fa1f 11.3px,#e9f6f94c 14.2px,#e4f4f8b9 17.2px,#def2f7f8 18.2px,#cdebf3ff 20.1px,#b3e2eeff 22.1px,#8fd3e6ff 24.1px,#4ab5d2ff 27.1px,#318093ff 31px,#2e788aff 32px,#2d7485ff 34px,#2f7a8cff 36px,#45a9c5ff 41.9px,#4db9d7ff 44.9px,#90d4e6ff 52.8px,#b5e2eeff 57.7px,#d2edf4ff 62.7px,#e3f4f8f0 66.6px,#eaf6f96a 71.6px,#edf8fa29 76.5px,#f0f9fb01 93.3px)"></div>
<div style="left:395px;top:270px;width:5px;height:94px;background:linear-gradient(171.5deg,#ecf7fa01 0.4px,#eaf7fa28 12.2px,#e8f6f961 15.2px,#dff2f7e8 18.2px,#c5e8f1ff 21.1px,#a7ddebff 23.1px,#7fcde3ff 25.1px,#4eb9d7ff 27.1px,#348599ff 31px,#307d8fff 32px,#2e7788ff 34px,#328194ff 37px,#44a8c4ff 41.9px,#4bb8d6ff 44.9px,#8fd3e6ff 52.8px,#b3e2eeff 57.7px,#d1edf4ff 62.7px,#e2f3f8f6 66.6px,#eaf6f96d 71.6px,#edf8fa2a 76.5px,#f0f9fb01 93.3px)"></div>
<div style="left:400px;top:269px;width:5px;height:94px;background:linear-gradient(171.5deg,#ecf7fa01 0.4px,#eaf7fa26 12.2px,#e8f6f95c 15.2px,#e1f3f7da 18.2px,#daf0f6ff 19.2px,#c8e9f2ff 21.1px,#acdfecff 23.1px,#87d0e4ff 25.1px,#57bdd9ff 27.1px,#48b2cfff 28.1px,#368ba0ff 31px,#307c8eff 33px,#2f798bff 34px,#328194ff 37px,#44a7c3ff 41.9px,#4bb7d5ff 44.9px,#b2e1eeff 57.7px,#d0edf4ff 62.7px,#e1f3f7fd 66.6px,#eaf6f971 71.6px,#edf8fa2c 76.5px,#f0f9fb01 93.3px)"></div>
<div style="left:405px;top:268px;width:5px;height:94px;background:linear-gradient(171.6deg,#ecf7fa01 0.4px,#ebf7fa24 12.2px,#e8f6f957 15.2px,#e2f3f8cd 18.2px,#dcf1f6ff 19.2px,#cbebf3ff 21.1px,#b1e1edff 23.1px,#8ed3e6ff 25.1px,#4ab7d5ff 28.1px,#35879cff 32px,#328093ff 33px,#307b8eff 35px,#328295ff 37px,#43a6c1ff 41.9px,#51bad7ff 45.9px,#93d5e7ff 53.8px,#b7e3efff 58.7px,#e1f3f7ff 66.6px,#e4f4f8e0 67.6px,#e9f6f975 71.6px,#edf8fa2e 76.5px,#f0f9fb01 93.4px)"></div>
<div style="left:410px;top:267px;width:5px;height:94px;background:linear-gradient(171.6deg,#ecf7fa01 0.4px,#ebf7fa23 12.2px,#e8f6f953 15.2px,#e3f4f8c0 18.2px,#ddf2f7fc 19.2px,#ceecf3ff 21.1px,#b5e2eeff 23.1px,#95d5e7ff 25.1px,#52bbd8ff 28.1px,#47afccff 29.1px,#378da2ff 32px,#348599ff 33px,#317e91ff 35px,#35889cff 38px,#45abc7ff 42.9px,#4fbad7ff 45.9px,#b6e3eeff 58.7px,#e0f3f7ff 66.7px,#e3f4f8e7 67.6px,#e9f6f979 71.6px,#edf8fa2f 76.5px,#eff8fb0d 82.5px,#f0f9fb01 93.4px)"></div>
<div style="left:415px;top:266px;width:5px;height:94px;background:linear-gradient(171.7deg,#ecf7fa01 0.4px,#ecf7fa0a 8.3px,#eaf6fa2c 13.2px,#e7f5f968 16.2px,#dff2f7ec 19.2px,#c6e9f2ff 22.1px,#abdeecff 24.1px,#49b4d2ff 29.1px,#368a9fff 33px,#328195ff 36px,#35889dff 38px,#45aac6ff 42.9px,#4db9d7ff 45.9px,#b4e2eeff 58.7px,#d2edf4ff 63.7px,#e3f4f8ee 67.6px,#e9f6f97d 71.6px,#edf7fa31 76.6px,#eff8fb0d 82.5px,#f0f9fb01 93.4px)"></div>
<div style="left:420px;top:265px;width:5px;height:95px;background:linear-gradient(171.8deg,#ebf7fa01 0.4px,#eaf6fa2a 13.2px,#e8f5f962 16.2px,#e0f3f7dd 19.2px,#daf0f6ff 20.2px,#c9eaf2ff 22.1px,#b0e0edff 24.1px,#8fd3e6ff 26.1px,#4eb9d7ff 29.1px,#388fa5ff 33px,#338498ff 36px,#35899eff 38px,#44a9c5ff 42.9px,#4bb8d6ff 45.9px,#b3e1eeff 58.7px,#d1edf4ff 63.7px,#e2f3f8f6 67.7px,#eaf6f96d 72.6px,#edf8fa2a 77.6px,#f0f9fb01 94.4px)"></div>
<div style="left:425px;top:264px;width:5px;height:95px;background:linear-gradient(171.8deg,#ebf7fa01 0.4px,#eaf6fa28 13.2px,#e8f6f95d 16.2px,#e1f3f7cf 19.2px,#dcf1f6ff 20.2px,#ccebf3ff 22.1px,#b4e2eeff 24.1px,#95d5e7ff 26.1px,#57bdd9ff 29.1px,#49b3d0ff 30.1px,#3a94acff 33px,#34879bff 36px,#388fa5ff 39px,#44a8c4ff 42.9px,#4bb7d5ff 45.9px,#b1e1edff 58.8px,#d0ecf4ff 63.7px,#e1f3f7fe 67.7px,#e9f6f971 72.6px,#edf8fa2c 77.6px,#f0f9fb01 94.4px)"></div>
<div style="left:430px;top:263px;width:5px;height:95px;background:linear-gradient(171.9deg,#ebf7fa00 0.4px,#eaf7fa26 13.2px,#e8f6f958 16.2px,#e2f3f8c2 19.2px,#ddf1f7fb 20.2px,#cfecf4ff 22.1px,#b9e4efff 24.1px,#89d1e5ff 27.1px,#4bb8d6ff 30.1px,#3992a9ff 34px,#36899eff 37px,#388fa5ff 39px,#44a7c3ff 42.9px,#50bad7ff 46.9px,#b6e3eeff 59.8px,#e0f3f7ff 67.7px,#e4f4f8e2 68.7px,#e9f6f975 72.6px,#edf8fa2d 77.6px,#eff8fb0c 83.5px,#f0f9fb01 94.4px)"></div>
<div style="left:435px;top:263px;width:5px;height:94px;background:linear-gradient(172.0deg,#ebf7fa01 0.3px,#ebf7fa0b 8.3px,#eaf6f930 13.2px,#e7f5f96c 16.2px,#dff2f7eb 19.2px,#c8e9f2ff 22.1px,#b0e0edff 24.1px,#91d4e6ff 26.1px,#54bcd8ff 29.1px,#49b2d0ff 30.1px,#3c97afff 33px,#378ca1ff 36px,#3890a6ff 38px,#4eb9d7ff 45.9px,#b5e2eeff 58.8px,#d3edf4ff 63.7px,#e3f4f8ea 67.7px,#e9f6f97a 71.6px,#edf7fa30 76.6px,#eff8fb0d 82.5px,#f0f9fb01 93.4px)"></div>
<div style="left:440px;top:262px;width:5px;height:94px;background:linear-gradient(172.1deg,#ebf7fa01 0.3px,#ebf7fa0b 8.3px,#eaf6f92d 13.2px,#e7f5f966 16.2px,#e0f3f7dc 19.2px,#daf0f6ff 20.2px,#cbebf3ff 22.1px,#b4e2eeff 24.1px,#97d6e8ff 26.1px,#4bb7d5ff 30.1px,#3e9cb5ff 33px,#388fa5ff 36px,#3b95acff 39px,#4cb8d6ff 45.9px,#b3e2eeff 58.8px,#d1edf4ff 63.7px,#e2f3f8f3 67.7px,#e9f6f97f 71.7px,#edf7fa32 76.6px,#eff8fb0d 82.6px,#f0f9fb01 93.4px)"></div>
<div style="left:445px;top:261px;width:5px;height:95px;background:linear-gradient(172.2deg,#ebf7fa01 0.3px,#eaf6f92b 13.2px,#e8f5f960 16.2px,#e1f3f7cd 19.2px,#dcf1f6ff 20.2px,#b9e4efff 24.1px,#8dd2e6ff 27.1px,#53bbd8ff 30.1px,#49b3d0ff 31.1px,#3d9ab3ff 34px,#3992a8ff 37px,#3d9ab2ff 40px,#4bb7d5ff 45.9px,#b1e1edff 58.8px,#d0ecf4ff 63.7px,#e1f3f7fc 67.7px,#e9f6f96f 72.7px,#edf8fa2b 77.6px,#f0f9fb01 94.5px)"></div>
<div style="left:450px;top:260px;width:5px;height:95px;background:linear-gradient(172.3deg,#ebf7fa01 0.3px,#eaf6fa29 13.2px,#e7f5f974 17.2px,#def2f7f5 20.2px,#c8e9f2ff 23.1px,#b1e1edff 25.1px,#94d5e7ff 27.1px,#4bb8d6ff 31.1px,#3d99b2ff 35px,#3a94abff 37px,#3d9ab2ff 40px,#4ab6d4ff 45.9px,#b6e3eeff 59.8px,#e0f3f7ff 67.7px,#e4f4f8e1 68.7px,#e9f6f974 72.7px,#edf8fa2d 77.6px,#f0f9fb01 94.5px)"></div>
<div style="left:455px;top:259px;width:5px;height:95px;background:linear-gradient(172.3deg,#ebf7fa01 0.3px,#eaf6fa26 13.2px,#e7f5f96d 17.2px,#dff2f7e4 20.2px,#daf0f6ff 21.1px,#cbebf3ff 23.1px,#b5e3eeff 25.1px,#8ad1e5ff 28.1px,#53bbd8ff 31.1px,#49b4d1ff 32px,#3f9eb7ff 35px,#3b97aeff 38px,#3d9bb3ff 40px,#4eb9d7ff 46.9px,#b4e2eeff 59.8px,#d2edf4ff 64.8px,#e3f4f8ea 68.7px,#e9f6f979 72.7px,#edf7fa2f 77.6px,#eff8fb0c 83.6px,#f0f9fb01 94.5px)"></div>
<div style="left:460px;top:258px;width:5px;height:95px;background:linear-gradient(172.4deg,#ebf7fa01 0.3px,#eaf6fa24 13.2px,#e7f5f967 17.2px,#e0f3f7d5 20.2px,#dbf1f6ff 21.1px,#c5e8f1ff 24.1px,#aedfedff 26.1px,#92d4e7ff 28.1px,#4cb8d6ff 32.1px,#3f9db7ff 36px,#3d99b1ff 38px,#3f9fb8ff 41px,#4cb9d6ff 46.9px,#b9e4efff 60.8px,#e2f3f8f4 68.7px,#e9f6f97f 72.7px,#edf7fa32 77.7px,#eff8fb0d 83.6px,#f0f9fb01 94.5px)"></div>
<div style="left:465px;top:257px;width:5px;height:95px;background:linear-gradient(172.5deg,#ebf7fa00 0.3px,#eaf6fa22 13.2px,#e7f5f960 17.2px,#e2f3f8c6 20.2px,#ddf1f7fa 21.1px,#c8e9f2ff 24.1px,#b3e1eeff 26.1px,#98d7e8ff 28.1px,#55bcd9ff 32.1px,#4ab5d3ff 33px,#41a2bcff 36px,#3e9bb4ff 39px,#409fb9ff 41px,#4bb8d6ff 46.9px,#b7e3efff 60.8px,#e1f3f7fe 68.7px,#e4f4f8da 69.7px,#e9f6f970 73.7px,#edf8fa2b 78.7px,#f0f9fb01 94.5px)"></div>
<div style="left:470px;top:257px;width:5px;height:95px;background:linear-gradient(172.7deg,#ebf7fa01 0.3px,#eaf6f92a 13.2px,#e7f5f973 17.2px,#dff2f7e8 20.2px,#cbebf3ff 23.1px,#acdfecff 26.1px,#90d3e6ff 28.1px,#4fb9d7ff 32.1px,#41a2bcff 36px,#3f9eb7ff 38px,#40a0baff 40px,#4ab7d4ff 45.9px,#bce5f0ff 60.8px,#e0f2f7ff 67.8px,#e3f4f8e4 68.8px,#e9f6f976 72.7px,#edf7fa2d 77.7px,#eff8fb0c 83.6px,#f0f9fb01 94.5px)"></div>
<div style="left:475px;top:256px;width:5px;height:95px;background:linear-gradient(172.8deg,#ebf7fa01 0.3px,#eaf6f927 13.2px,#e7f5f96b 17.2px,#e0f2f7d8 20.2px,#dbf1f6ff 21.1px,#c6e9f2ff 24.1px,#b1e1edff 26.1px,#4bb7d5ff 33.1px,#41a3bdff 37px,#40a0baff 39px,#4eb9d7ff 46.9px,#bae4efff 60.8px,#e2f3f8ee 68.8px,#e9f6f97c 72.7px,#edf7fa30 77.7px,#eff8fb0d 83.6px,#f0f9fb01 94.6px)"></div>
<div style="left:480px;top:255px;width:5px;height:95px;background:linear-gradient(172.9deg,#ebf7fa01 0.3px,#eaf6f925 13.2px,#e7f5f964 17.2px,#e1f3f7c9 20.2px,#ddf1f6fb 21.1px,#c9eaf2ff 24.1px,#b6e3eeff 26.1px,#90d3e6ff 29.1px,#52bbd8ff 33.1px,#4ab5d3ff 34px,#43a6c2ff 37px,#41a3bdff 39px,#42a4c0ff 41px,#4cb8d6ff 46.9px,#b8e3efff 60.8px,#e1f3f7fa 68.8px,#e8f6f982 72.7px,#ecf7fa33 77.7px,#eef8fb0e 83.7px,#f0f9fb01 94.6px)"></div>
<div style="left:485px;top:254px;width:5px;height:96px;background:linear-gradient(173.0deg,#ebf7fa01 0.3px,#ebf7fa0b 9.2px,#eaf6f92c 14.2px,#e6f5f977 18.2px,#def2f7e9 21.1px,#ccebf3ff 24.1px,#afe0edff 27.1px,#4eb9d7ff 34.1px,#45aac6ff 37px,#42a5c0ff 40px,#4bb8d6ff 47px,#bce5f0ff 61.8px,#e0f3f7ff 68.8px,#e4f4f8e1 69.8px,#e9f6f974 73.8px,#edf7fa2c 78.7px,#f0f9fb01 95.6px)"></div>
<div style="left:490px;top:253px;width:5px;height:96px;background:linear-gradient(173.1deg,#ebf7fa00 0.3px,#eaf6f929 14.2px,#e7f5f96e 18.2px,#e0f2f7d8 21.1px,#dbf1f6ff 22.1px,#c7e9f2ff 25.1px,#b4e2eeff 27.1px,#90d4e6ff 30.1px,#4bb8d6ff 35px,#47aecbff 37px,#44a7c3ff 40px,#45aac7ff 43px,#4fbad7ff 48px,#bae4efff 61.9px,#e2f3f8ed 69.8px,#e9f6f97a 73.8px,#edf7fa2f 78.7px,#eef8fb0c 84.7px,#f0f9fb01 95.6px)"></div>
<div style="left:495px;top:253px;width:5px;height:95px;background:linear-gradient(173.2deg,#ebf7fa01 0.3px,#eaf6f926 13.2px,#e7f5f967 17.2px,#e1f3f7c8 20.2px,#ddf1f7f7 21.1px,#b9e4efff 26.1px,#4ab7d5ff 35.1px,#47aecbff 37px,#44a9c5ff 40px,#4db9d7ff 47px,#b7e3efff 60.9px,#e1f3f7f9 68.8px,#e8f6f982 72.8px,#ecf7fa32 77.8px,#eef8fb0d 83.7px,#f0f9fb01 94.6px)"></div>
<div style="left:500px;top:252px;width:5px;height:95px;background:linear-gradient(173.4deg,#ebf7fa01 0.3px,#ebf7fa0c 9.2px,#e9f6f92e 14.2px,#e6f5f978 18.2px,#def2f7e5 21.1px,#ceecf3ff 24.1px,#b4e2eeff 27.1px,#51bbd8ff 35.1px,#4ab6d4ff 36px,#47aecbff 38px,#45abc7ff 41px,#4cb8d6ff 47px,#bce5f0ff 61.9px,#e0f2f7ff 68.8px,#e3f4f8e1 69.8px,#e9f6f973 73.8px,#edf7fa2c 78.8px,#f0f9fb01 94.7px)"></div>
<div style="left:505px;top:251px;width:5px;height:96px;background:linear-gradient(173.5deg,#ebf7fa01 0.3px,#eaf6f92a 14.2px,#e7f5f96f 18.2px,#e0f2f7d4 21.1px,#dcf1f6ff 22.1px,#b9e4efff 27.1px,#50bad7ff 36.1px,#4ab6d3ff 37px,#46adc9ff 41px,#4bb8d6ff 47px,#b9e4efff 61.9px,#e2f3f8ee 69.8px,#e9f6f97b 73.8px,#edf7fa2f 78.8px,#eef8fb0c 84.7px,#f0f9fb01 95.7px)"></div>
<div style="left:510px;top:251px;width:5px;height:95px;background:linear-gradient(173.6deg,#ebf7fa01 0.3px,#ebf7fa0d 9.2px,#e9f6f932 14.2px,#e6f5f880 18.2px,#ddf2f7f0 21.1px,#cdebf3ff 24.1px,#b4e2eeff 27.1px,#4fbad7ff 36.1px,#47aecbff 41px,#4fb9d7ff 47px,#bde6f0ff 61.9px,#e1f3f7fc 68.8px,#e4f4f8d8 69.8px,#e9f6f96e 73.8px,#edf8fa29 78.8px,#f0f9fb01 94.7px)"></div>
<div style="left:515px;top:250px;width:5px;height:95px;background:linear-gradient(173.7deg,#ebf7fa01 0.3px,#ebf7fa0c 9.2px,#e9f6f92e 14.2px,#e6f5f976 18.2px,#dff2f7dd 21.1px,#dbf1f6ff 22.1px,#b9e4efff 27.1px,#4fb9d7ff 37.1px,#48b0cdff 42px,#4db9d7ff 47px,#67c3ddff 51px,#bbe5efff 61.9px,#dff2f7ff 68.9px,#e3f4f8e5 69.9px,#e9f6f975 73.8px,#edf7fa2d 78.8px,#eff9fb01 94.7px)"></div>
<div style="left:520px;top:249px;width:5px;height:96px;background:linear-gradient(173.9deg,#ebf7fa01 0.3px,#eaf6f92b 14.2px,#e7f5f96d 18.2px,#e1f3f7cc 21.1px,#ddf1f6f8 22.1px,#bde6f0ff 27.1px,#4fbad7ff 38.1px,#48b2cfff 43px,#51bbd8ff 48px,#bfe6f0ff 62.9px,#e2f3f7f4 69.9px,#e9f6f97e 73.8px,#ecf7fa30 78.8px,#eef8fb0d 84.8px,#f0f9fb01 95.7px)"></div>
</div>
<div style="left:636px;top:588px;width:52px;height:441px;background:linear-gradient(#f8fcfd 0.0px,#e4f4f8 44.0px,#8fd3e6 140.0px,#4bb8d6 211.0px,#44a8c4 242.0px,#2f7a8c 307.0px,#255f6c 351.0px,#132e36 440.0px)"></div>
<div style="left:99.0px;top:1094.3px;width:524.0px;height:477.2px;overflow:hidden">
<div style="left:0px;top:-0.3px;width:6px;height:478px;background:linear-gradient(178.5deg,#a4d094 0px,#b7d9a8 21px,#bdddaf 79px,#b5d9a6 104px,#97c986 149px,#96c985 172px,#a1cf91 202px,#c0deb2 253px,#e1f0dd 296px,#e4f1e0 313px,#e4f1e0 366px,#d6eacf 478px)"></div>
<div style="left:6px;top:-0.3px;width:6px;height:478px;background:linear-gradient(178.5deg,#a4d095 0px,#b7d9a8 21px,#bdddaf 79px,#b5d9a6 104px,#97ca86 148px,#96c985 172px,#acd49c 220px,#c0deb2 253px,#e2f0dd 296px,#e4f1e0 312px,#e4f1e0 366px,#d7eacf 478px)"></div>
<div style="left:12px;top:-0.3px;width:6px;height:478px;background:linear-gradient(178.4deg,#a5d095 0px,#b7daa9 21px,#bdddaf 80px,#b5d9a6 104px,#98ca87 146px,#95c884 163px,#9fce8f 197px,#c0deb2 252px,#e2f0dd 296px,#e4f1e0 364px,#d7eacf 478px)"></div>
<div style="left:18px;top:-0.3px;width:6px;height:478px;background:linear-gradient(178.4deg,#a5d196 0px,#b8daa9 21px,#beddaf 80px,#b5d9a6 104px,#98ca88 145px,#95c884 162px,#9fce8f 196px,#c0deb1 251px,#e2f0dd 296px,#e4f1e0 363px,#d7ead0 478px)"></div>
<div style="left:24px;top:-0.3px;width:6px;height:478px;background:linear-gradient(178.3deg,#a6d196 0px,#b8daa9 21px,#beddb0 80px,#b5d9a6 104px,#98ca87 145px,#95c884 162px,#9fce8f 196px,#c0deb2 251px,#e2f0dd 296px,#e5f1e0 361px,#d8ebd0 478px)"></div>
<div style="left:30px;top:-0.3px;width:6px;height:478px;background:linear-gradient(178.2deg,#a6d197 0px,#b8daaa 21px,#beddb0 80px,#b5d9a6 104px,#98ca87 145px,#94c884 161px,#9fcd8f 195px,#c0deb2 250px,#e2f0de 296px,#e5f1e1 360px,#d8ebd1 478px)"></div>
<div style="left:36px;top:-0.3px;width:6px;height:478px;background:linear-gradient(178.2deg,#a7d197 0px,#b8daaa 21px,#beddb0 79px,#b6d9a7 103px,#98ca88 144px,#94c884 161px,#9fce8f 195px,#c0deb2 250px,#e2f0de 296px,#e5f1e1 359px,#d8ebd1 478px)"></div>
<div style="left:42px;top:-0.3px;width:6px;height:478px;background:linear-gradient(178.1deg,#a7d298 0px,#b9daaa 21px,#beddb0 79px,#b6d9a7 103px,#98ca87 144px,#95c884 161px,#9fce8f 195px,#c0deb2 249px,#e3f0de 296px,#e5f1e1 357px,#d9ebd2 478px)"></div>
<div style="left:48px;top:-0.3px;width:6px;height:478px;background:linear-gradient(178.1deg,#a8d298 0px,#b9dbab 21px,#beddb0 79px,#b6d9a7 103px,#98ca87 144px,#94c883 160px,#9fce8f 194px,#c0deb2 249px,#e3f0de 296px,#e5f2e1 356px,#d9ebd2 478px)"></div>
<div style="left:54px;top:-0.3px;width:6px;height:478px;background:linear-gradient(178.0deg,#a8d299 0px,#b9dbab 21px,#bfddb1 79px,#b6d9a7 103px,#98ca88 143px,#94c884 160px,#9fce8f 194px,#c0deb2 248px,#e3f1df 296px,#e5f2e1 354px,#d9ecd2 478px)"></div>
<div style="left:60px;top:-0.3px;width:6px;height:478px;background:linear-gradient(178.0deg,#a9d399 0px,#badbab 21px,#bfddb1 79px,#b6d9a8 102px,#98ca87 143px,#95c884 160px,#9fce8f 193px,#bfdeb1 247px,#e3f1df 296px,#e5f2e1 353px,#deeed9 400px,#daecd3 478px)"></div>
<div style="left:66px;top:-0.3px;width:6px;height:478px;background:linear-gradient(177.9deg,#aad39a 0px,#badbac 21px,#bfddb1 79px,#b6d9a8 102px,#98ca88 142px,#94c883 159px,#9ccc8b 185px,#aed59e 218px,#c0deb2 247px,#e3f1df 296px,#e5f2e1 352px,#deeed9 400px,#daecd3 478px)"></div>
<div style="left:72px;top:-0.3px;width:6px;height:478px;background:linear-gradient(177.9deg,#aad39b 0px,#badbac 21px,#bfdeb1 79px,#b6d9a8 102px,#98ca88 142px,#94c883 159px,#9ccc8b 185px,#add59e 217px,#c0deb2 247px,#e4f1df 296px,#e6f2e2 350px,#deeed9 400px,#daecd4 478px)"></div>
<div style="left:78px;top:-0.3px;width:6px;height:478px;background:linear-gradient(177.8deg,#abd39b 0px,#bbdbac 21px,#bfdeb1 79px,#b6d9a8 102px,#98ca87 142px,#94c883 158px,#9bcc8b 184px,#acd49d 215px,#c0deb2 246px,#e4f1df 296px,#e6f2e2 349px,#dfeed9 400px,#dbecd4 478px)"></div>
<div style="left:84px;top:-0.3px;width:6px;height:478px;background:linear-gradient(177.7deg,#abd49c 0px,#bbdbac 21px,#bfdeb1 78px,#b7d9a8 101px,#98ca88 141px,#94c883 158px,#9bcc8b 183px,#acd49d 214px,#c0deb2 246px,#e4f1e0 296px,#e6f2e2 348px,#dfeed9 400px,#dbecd5 478px)"></div>
<div style="left:90px;top:-0.3px;width:6px;height:478px;background:linear-gradient(177.7deg,#acd49c 0px,#bbdcad 21px,#c0deb2 78px,#b7d9a8 101px,#98ca87 141px,#94c883 157px,#9bcc8b 182px,#abd49c 212px,#c0deb2 245px,#daecd4 279px,#e4f1e0 296px,#e6f2e2 346px,#dfeed9 400px,#dbedd5 478px)"></div>
<div style="left:96px;top:-0.3px;width:6px;height:478px;background:linear-gradient(177.6deg,#acd49d 0px,#bbdcad 21px,#c0deb2 78px,#b7d9a8 101px,#98ca87 141px,#94c883 157px,#9bcc8b 182px,#abd39b 211px,#c0deb2 244px,#dbecd4 279px,#e4f1e0 296px,#e6f2e2 345px,#dfeed9 400px,#dcedd6 478px)"></div>
<div style="left:102px;top:-0.3px;width:6px;height:478px;background:linear-gradient(177.6deg,#add49d 0px,#bcdcad 21px,#c0deb3 74px,#badbab 96px,#99cb89 138px,#94c883 156px,#9bcb8a 180px,#aad39a 209px,#c0deb2 244px,#daecd4 278px,#e4f1e0 296px,#e6f2e2 343px,#dfeed9 400px,#dcedd6 478px)"></div>
<div style="left:108px;top:-0.3px;width:6px;height:478px;background:linear-gradient(177.5deg,#add59e 0px,#bcdcae 21px,#c1deb3 74px,#b8daa9 99px,#98ca87 140px,#94c883 156px,#9bcb8a 180px,#aad39b 209px,#c0deb2 243px,#daecd4 278px,#e5f1e1 296px,#e6f2e3 342px,#dfeeda 400px,#dcedd6 478px)"></div>
<div style="left:114px;top:-0.3px;width:6px;height:478px;background:linear-gradient(177.4deg,#aed59e 0px,#bcdcae 21px,#c1deb3 74px,#b8daa9 99px,#98ca87 140px,#94c883 156px,#9bcb8a 180px,#aad39b 208px,#c0deb2 242px,#dbecd4 278px,#e5f1e1 296px,#e6f2e3 341px,#dfeeda 400px,#ddedd7 478px)"></div>
<div style="left:120px;top:-0.3px;width:6px;height:478px;background:linear-gradient(177.4deg,#aed59f 0px,#bddcae 21px,#c1dfb3 74px,#b8daa9 99px,#98ca87 139px,#94c883 155px,#9acb8a 178px,#a9d39a 206px,#c0deb2 242px,#daecd4 277px,#e5f1e1 296px,#e7f2e3 340px,#dfefda 400px,#ddedd7 478px)"></div>
<div style="left:126px;top:-0.3px;width:6px;height:478px;background:linear-gradient(177.3deg,#afd59f 0px,#bddcaf 21px,#c1dfb4 73px,#b8daaa 98px,#98ca87 139px,#94c883 155px,#9bcb8a 178px,#a9d299 205px,#c0deb2 241px,#dbecd4 277px,#e5f2e1 296px,#e7f2e3 338px,#dfefda 400px,#ddeed8 478px)"></div>
<div style="left:132px;top:-0.3px;width:6px;height:478px;background:linear-gradient(177.2deg,#afd6a0 0px,#bdddaf 21px,#c2dfb4 73px,#b8daaa 98px,#98ca88 138px,#94c883 154px,#9acb8a 177px,#a9d299 204px,#c0deb2 240px,#dbedd5 277px,#e5f2e1 296px,#e7f2e3 337px,#dfefda 400px,#deeed8 478px)"></div>
<div style="left:138px;top:-0.3px;width:6px;height:478px;background:linear-gradient(177.2deg,#b0d6a0 0px,#beddaf 21px,#c2dfb4 73px,#b8daaa 98px,#98ca87 138px,#94c883 154px,#9bcb8a 177px,#a8d299 203px,#c0deb2 240px,#dbecd4 276px,#e5f2e2 296px,#e7f2e3 336px,#dfefda 400px,#deeed8 478px)"></div>
<div style="left:144px;top:-0.3px;width:6px;height:478px;background:linear-gradient(177.1deg,#b0d6a1 0px,#beddb0 21px,#c2dfb4 73px,#b8daaa 98px,#98ca88 137px,#94c883 153px,#9acb89 175px,#a8d298 201px,#c0deb2 239px,#dbecd5 276px,#e6f2e2 296px,#e7f2e3 335px,#dfefda 400px,#deeed9 478px)"></div>
<div style="left:150px;top:-0.3px;width:6px;height:478px;background:linear-gradient(177.0deg,#b1d6a2 0px,#beddb0 21px,#c2dfb5 72px,#b9daaa 97px,#98ca87 137px,#94c883 153px,#9acb8a 175px,#a7d298 200px,#c0deb2 238px,#dbedd5 276px,#e6f2e2 296px,#e7f3e4 333px,#dfefda 400px,#deeed9 478px)"></div>
<div style="left:156px;top:-0.3px;width:6px;height:478px;background:linear-gradient(177.0deg,#b1d7a2 0px,#beddb0 21px,#c2dfb5 72px,#b9daaa 97px,#98ca88 136px,#94c883 152px,#9acb89 174px,#a7d297 199px,#c0deb2 238px,#dbedd5 275px,#e6f2e2 296px,#e7f3e4 332px,#dfefda 400px,#dfeed9 477px)"></div>
<div style="left:162px;top:-0.3px;width:6px;height:478px;background:linear-gradient(176.9deg,#b2d7a3 0px,#bfddb1 21px,#c3dfb5 72px,#b8daaa 97px,#98ca87 136px,#94c883 152px,#9acb89 173px,#a7d197 198px,#c0deb2 237px,#dbedd5 275px,#e6f2e2 296px,#e7f2e3 345px,#dfefda 400px,#dfefda 477px)"></div>
<div style="left:168px;top:-0.3px;width:6px;height:478px;background:linear-gradient(176.8deg,#b2d7a3 0px,#bfddb1 21px,#c3dfb6 72px,#b8daaa 97px,#98ca88 135px,#94c883 151px,#9acb89 172px,#a7d197 197px,#c0deb2 236px,#dcedd6 275px,#e6f2e3 296px,#e7f2e3 345px,#e0efda 400px,#dfefda 477px)"></div>
<div style="left:174px;top:-0.3px;width:6px;height:478px;background:linear-gradient(176.7deg,#b3d7a4 0px,#bfdeb1 21px,#c3e0b6 71px,#b9daaa 96px,#98ca87 135px,#94c883 151px,#9acb89 172px,#a6d197 196px,#c0deb2 236px,#dcedd6 275px,#e6f2e3 296px,#e7f2e3 345px,#e0efda 400px,#e0efdb 477px)"></div>
<div style="left:180px;top:-0.3px;width:6px;height:478px;background:linear-gradient(176.7deg,#b3d8a4 0px,#c0deb2 21px,#c3e0b6 71px,#b9daaa 96px,#98ca88 134px,#94c883 150px,#9acb89 171px,#a6d196 194px,#c0deb2 235px,#dcedd6 274px,#e7f2e3 296px,#e7f2e3 344px,#e0efda 399px,#e0efdb 477px)"></div>
<div style="left:186px;top:-0.3px;width:6px;height:478px;background:linear-gradient(176.6deg,#b4d8a5 0px,#c0deb2 21px,#c3e0b6 71px,#b9dbab 95px,#98ca87 134px,#94c883 149px,#99cb89 170px,#a5d196 193px,#c0deb2 234px,#dcedd6 274px,#e7f2e3 296px,#e7f2e3 344px,#e0efdb 399px,#e0efdb 477px)"></div>
<div style="left:192px;top:-0.3px;width:6px;height:478px;background:linear-gradient(176.5deg,#b4d8a5 0px,#c0deb2 21px,#c4e0b7 70px,#b9dbab 95px,#98ca88 133px,#94c883 149px,#a5d195 192px,#c0deb2 233px,#dcedd6 273px,#e7f2e3 296px,#e7f2e3 344px,#e0efdb 399px,#e1efdc 477px)"></div>
<div style="left:198px;top:-0.3px;width:6px;height:478px;background:linear-gradient(176.4deg,#b5d8a6 0px,#c1deb3 21px,#c4e0b7 70px,#badbab 94px,#98ca87 133px,#94c883 148px,#a4d094 190px,#c0deb2 233px,#dcedd6 273px,#e7f2e3 296px,#e7f2e3 343px,#e0efdb 399px,#e1efdc 477px)"></div>
<div style="left:204px;top:-0.3px;width:6px;height:478px;background:linear-gradient(176.4deg,#b5d9a6 0px,#c1dfb3 21px,#c4e0b7 70px,#badbab 94px,#98ca88 132px,#94c883 148px,#a5d095 190px,#c0deb2 232px,#dcedd6 272px,#e7f3e4 296px,#e7f2e3 342px,#e0efdb 399px,#e1f0dc 477px)"></div>
<div style="left:210px;top:-0.3px;width:6px;height:478px;background:linear-gradient(176.3deg,#b6d9a7 0px,#c1dfb4 21px,#c4e0b8 69px,#b9dbab 94px,#98ca87 132px,#94c883 147px,#a4d094 188px,#c0deb2 231px,#dcedd6 271px,#e7f3e4 296px,#e7f3e3 342px,#e0efdb 399px,#e2f0dd 477px)"></div>
<div style="left:216px;top:-0.3px;width:6px;height:478px;background:linear-gradient(176.2deg,#b6d9a7 0px,#c2dfb4 21px,#c5e0b8 69px,#badbac 93px,#98ca88 131px,#94c883 147px,#a4d094 187px,#c0deb2 230px,#dcedd6 271px,#e7f3e4 296px,#e7f3e4 341px,#e0efdb 399px,#e2f0dd 477px)"></div>
<div style="left:222px;top:-0.3px;width:6px;height:478px;background:linear-gradient(176.1deg,#b7d9a8 0px,#c2dfb5 21px,#c5e1b8 69px,#badbab 93px,#99ca88 130px,#94c883 146px,#a4d094 186px,#c0deb2 229px,#dcedd6 270px,#e7f3e4 296px,#e7f3e4 341px,#e0efdb 399px,#e2f0de 477px)"></div>
<div style="left:228px;top:-0.3px;width:6px;height:478px;background:linear-gradient(176.0deg,#b7daa9 0px,#c2dfb5 21px,#c5e1b9 68px,#badbac 92px,#98ca88 130px,#94c883 145px,#a3cf93 184px,#c0deb2 229px,#dcedd6 270px,#e8f3e4 295px,#e7f3e4 340px,#e0efdb 399px,#e3f0de 477px)"></div>
<div style="left:234px;top:-0.3px;width:6px;height:478px;background:linear-gradient(175.9deg,#b8daa9 0px,#c3e0b6 21px,#c5e1b9 68px,#badbac 92px,#99ca88 129px,#94c883 145px,#a3cf93 183px,#c0deb2 228px,#dcedd6 269px,#e8f3e4 295px,#e7f3e4 340px,#e0efdb 399px,#e3f0de 477px)"></div>
<div style="left:240px;top:-0.3px;width:6px;height:478px;background:linear-gradient(175.9deg,#b8daaa 0px,#c3e0b6 21px,#c5e1b9 68px,#badbab 92px,#98ca88 129px,#94c883 144px,#a2cf92 182px,#c0deb2 227px,#dcedd6 268px,#e8f3e4 295px,#e7f3e4 339px,#e0efdb 399px,#e3f1df 477px)"></div>
<div style="left:246px;top:-0.3px;width:6px;height:478px;background:linear-gradient(175.8deg,#b9daaa 0px,#c4e0b7 21px,#c6e1b9 67px,#badbac 91px,#99ca88 128px,#94c883 144px,#a2cf92 181px,#c0deb2 226px,#dcedd6 267px,#e8f3e5 295px,#e7f3e4 339px,#e0efdb 399px,#e3f1df 477px)"></div>
<div style="left:252px;top:-0.3px;width:6px;height:478px;background:linear-gradient(175.7deg,#b9dbab 0px,#c4e0b7 21px,#c6e1ba 67px,#badbac 91px,#99ca88 127px,#94c883 143px,#a2cf92 180px,#c0deb2 225px,#dcedd6 266px,#e8f3e5 295px,#e7f3e4 338px,#e0efdb 399px,#e4f1df 477px)"></div>
<div style="left:258px;top:-0.3px;width:6px;height:478px;background:linear-gradient(175.6deg,#badbab 0px,#c4e0b8 21px,#c6e1ba 67px,#badbac 91px,#98ca88 127px,#94c883 142px,#a1cf91 178px,#c0deb2 224px,#dcedd5 265px,#e8f3e5 295px,#e8f3e4 338px,#e0efdb 399px,#e4f1e0 477px)"></div>
<div style="left:264px;top:-0.3px;width:6px;height:478px;background:linear-gradient(175.5deg,#badbac 0px,#c5e1b8 21px,#c6e1ba 66px,#bbdbac 90px,#99ca88 126px,#94c883 142px,#a1cf91 177px,#c0deb2 223px,#dcedd6 265px,#e8f3e5 295px,#e8f3e4 337px,#e1efdc 399px,#e4f1e0 477px)"></div>
<div style="left:270px;top:-0.3px;width:6px;height:478px;background:linear-gradient(175.4deg,#bbdbac 0px,#c5e1b9 21px,#c6e1ba 66px,#badbac 90px,#98ca88 126px,#94c883 141px,#a1cf91 176px,#dcedd6 264px,#e8f3e5 295px,#e8f3e4 336px,#e1efdc 399px,#e5f1e1 477px)"></div>
<div style="left:276px;top:-0.3px;width:6px;height:478px;background:linear-gradient(175.3deg,#bbdcad 0px,#c5e1b9 21px,#c7e2bb 65px,#bbdbad 89px,#99ca88 125px,#94c883 141px,#a1ce91 175px,#dcedd6 264px,#e8f3e5 295px,#e1efdc 399px,#e5f1e1 477px)"></div>
<div style="left:282px;top:-0.3px;width:6px;height:478px;background:linear-gradient(175.3deg,#bcdcad 0px,#c6e1ba 21px,#c7e2bb 65px,#bbdbac 89px,#99cb89 124px,#94c883 140px,#a1ce91 174px,#dcedd6 263px,#e8f3e5 295px,#e1efdc 399px,#e5f2e1 477px)"></div>
<div style="left:288px;top:-0.3px;width:6px;height:478px;background:linear-gradient(175.2deg,#bcdcae 0px,#c6e1ba 21px,#c7e2bb 65px,#badbac 89px,#99ca88 124px,#94c883 139px,#a1ce91 173px,#dcedd5 262px,#e8f3e5 295px,#e1efdc 399px,#e6f2e2 477px)"></div>
<div style="left:294px;top:-0.3px;width:6px;height:478px;background:linear-gradient(175.1deg,#bddcae 0px,#c7e2bb 21px,#c7e2bc 64px,#bbdbad 88px,#99cb89 123px,#95c884 139px,#a1ce91 172px,#dcedd6 262px,#e9f3e5 295px,#e1efdc 399px,#e6f2e2 476px)"></div>
<div style="left:300px;top:-0.3px;width:6px;height:478px;background:linear-gradient(175.0deg,#bdddaf 0px,#c7e2bb 21px,#c8e2bc 64px,#bbdbac 88px,#9acb89 122px,#95c884 138px,#a1ce90 171px,#dcedd6 261px,#e9f3e5 295px,#e1efdc 399px,#e6f2e2 476px)"></div>
<div style="left:306px;top:-0.3px;width:6px;height:478px;background:linear-gradient(174.9deg,#beddaf 0px,#c7e2bb 21px,#c8e2bc 63px,#bbdcad 87px,#99cb89 122px,#95c884 138px,#a0ce90 170px,#dcedd5 260px,#e9f3e5 295px,#e1efdc 399px,#e7f2e3 476px)"></div>
<div style="left:312px;top:-0.3px;width:6px;height:478px;background:linear-gradient(174.8deg,#beddb0 0px,#c8e2bc 21px,#c8e2bc 63px,#bbdbad 87px,#9acb89 121px,#95c884 137px,#a0ce90 169px,#d7ead0 251px,#e9f3e6 295px,#e1f0dc 399px,#e7f2e3 476px)"></div>
<div style="left:318px;top:-0.3px;width:6px;height:478px;background:linear-gradient(174.7deg,#bfddb1 0px,#c8e2bc 21px,#c8e2bd 63px,#bbdcad 86px,#99cb89 121px,#95c884 136px,#a0ce90 167px,#d7ead0 250px,#e9f3e6 295px,#e1f0dc 399px,#e7f3e4 476px)"></div>
<div style="left:324px;top:-0.3px;width:6px;height:478px;background:linear-gradient(174.6deg,#bfdeb1 0px,#c8e3bd 21px,#c9e3bd 62px,#bbdcad 86px,#9acb89 120px,#95c984 136px,#a0ce8f 166px,#d7ead0 249px,#e9f3e6 295px,#e1f0dc 399px,#e7f3e4 476px)"></div>
<div style="left:330px;top:-0.3px;width:6px;height:478px;background:linear-gradient(174.5deg,#c0deb2 0px,#c9e3bd 21px,#c9e3bd 62px,#bbdbad 86px,#9acb8a 119px,#95c984 135px,#a0ce8f 165px,#d8ebd0 249px,#e9f3e6 295px,#e1f0dc 398px,#e8f3e4 476px)"></div>
<div style="left:336px;top:-0.3px;width:6px;height:478px;background:linear-gradient(174.4deg,#c0deb2 0px,#c9e3be 21px,#c9e3be 61px,#bbdcad 85px,#9acb89 119px,#95c984 134px,#a0ce8f 164px,#d7ebd0 248px,#e9f3e6 295px,#e1f0dc 398px,#e8f3e5 476px)"></div>
<div style="left:342px;top:-0.3px;width:6px;height:478px;background:linear-gradient(174.3deg,#c1deb3 0px,#cae3be 21px,#c9e3be 61px,#bbdcad 85px,#9acb8a 118px,#95c984 134px,#a3d093 168px,#daecd3 252px,#e9f3e6 295px,#e1f0dd 398px,#e8f3e5 476px)"></div>
<div style="left:348px;top:-0.3px;width:6px;height:478px;background:linear-gradient(174.2deg,#c2dfb4 0px,#cae3bf 21px,#c9e3be 60px,#bcdcad 84px,#9acb8a 117px,#95c984 133px,#a3cf93 167px,#daecd3 251px,#e9f3e6 295px,#e1f0dd 398px,#e9f3e6 476px)"></div>
<div style="left:354px;top:-0.3px;width:6px;height:478px;background:linear-gradient(174.1deg,#c2dfb5 0px,#cae4bf 21px,#cae3be 60px,#bbdcad 84px,#9bcb8a 116px,#95c984 132px,#a2cf92 165px,#daecd3 250px,#e9f3e6 295px,#e1f0dd 398px,#e9f3e6 476px)"></div>
<div style="left:360px;top:-0.3px;width:6px;height:478px;background:linear-gradient(174.0deg,#c3dfb6 0px,#cbe4c0 21px,#cae3be 60px,#bcdcad 83px,#9acb8a 116px,#95c985 131px,#a2cf92 164px,#daecd4 250px,#e9f4e6 295px,#e2f0dd 398px,#e9f4e6 476px)"></div>
<div style="left:366px;top:-0.3px;width:6px;height:478px;background:linear-gradient(173.9deg,#c3e0b6 0px,#cbe4c0 21px,#cae3bf 59px,#bbdcad 83px,#9bcb8a 115px,#96c985 131px,#a3cf93 164px,#daecd3 249px,#e9f4e6 295px,#e2f0dd 398px,#eaf4e7 476px)"></div>
<div style="left:372px;top:-0.3px;width:6px;height:478px;background:linear-gradient(173.8deg,#c4e0b7 0px,#cbe4c1 21px,#cae3bf 59px,#bcdcad 82px,#9bcc8b 114px,#96c985 130px,#a2cf92 162px,#daecd3 248px,#e9f4e6 295px,#e2f0dd 398px,#eaf4e7 476px)"></div>
<div style="left:378px;top:-0.3px;width:6px;height:478px;background:linear-gradient(173.7deg,#c5e1b8 0px,#cce4c1 21px,#cae4bf 58px,#bcdcae 81px,#9bcc8b 113px,#96c985 129px,#a2cf92 161px,#daecd3 247px,#e9f4e6 295px,#e2f0dd 398px,#eaf4e7 475px)"></div>
<div style="left:384px;top:-0.3px;width:6px;height:478px;background:linear-gradient(173.6deg,#c5e1b9 0px,#cce5c2 21px,#cbe4c0 58px,#bcdcad 81px,#9bcb8a 113px,#96c985 128px,#a2cf92 160px,#cbe4c1 219px,#daecd3 246px,#e9f4e6 294px,#e2f0dd 398px,#ebf4e8 475px)"></div>
<div style="left:390px;top:-0.3px;width:6px;height:478px;background:linear-gradient(173.5deg,#c6e1ba 0px,#cde5c2 21px,#cbe4c0 57px,#bcdcae 80px,#9bcc8b 112px,#96c985 128px,#a2cf92 159px,#cbe4c1 218px,#daecd3 245px,#e8f3e5 291px,#eaf4e7 304px,#e2f0dd 398px,#ebf4e8 475px)"></div>
<div style="left:396px;top:-0.3px;width:6px;height:478px;background:linear-gradient(173.4deg,#c7e2bb 0px,#cde5c3 21px,#cbe4c0 57px,#bcdcad 80px,#9bcc8b 111px,#96c985 127px,#a2cf92 158px,#cce4c1 217px,#daecd3 244px,#e8f3e5 289px,#eaf4e7 304px,#e2f0dd 398px,#ebf5e9 475px)"></div>
<div style="left:402px;top:-0.3px;width:6px;height:478px;background:linear-gradient(173.3deg,#c7e2bb 0px,#cde5c3 21px,#cbe4c1 56px,#bcdcae 79px,#9ccc8b 110px,#96c985 125px,#a2cf92 157px,#cbe4c0 215px,#d9ecd2 242px,#e8f3e4 287px,#eaf4e7 304px,#e2f0dd 398px,#ebf5e9 475px)"></div>
<div style="left:408px;top:-0.3px;width:6px;height:478px;background:linear-gradient(173.2deg,#c8e2bc 0px,#cee5c4 23px,#cbe4c1 56px,#bcdcad 79px,#9ccc8c 109px,#96c985 124px,#a2cf92 156px,#d3e8ca 227px,#dcedd6 248px,#e7f2e3 284px,#eaf4e8 304px,#e2f0dd 398px,#ecf5e9 475px)"></div>
<div style="left:414px;top:-0.3px;width:6px;height:478px;background:linear-gradient(173.1deg,#c9e3bd 0px,#cee6c4 23px,#cce4c1 55px,#bcdcae 78px,#9ccc8b 109px,#96c985 123px,#a2cf92 155px,#d3e8ca 226px,#e6f2e3 282px,#eaf4e8 304px,#e2f0dd 397px,#ecf5ea 475px)"></div>
<div style="left:420px;top:-0.3px;width:6px;height:478px;background:linear-gradient(173.0deg,#c9e3be 0px,#cfe6c5 25px,#cce4c1 55px,#bddcae 77px,#9ccc8b 108px,#96c985 122px,#a2cf92 154px,#d3e8ca 225px,#e6f2e2 280px,#eaf4e8 304px,#e2f0de 397px,#ecf5ea 475px)"></div>
<div style="left:426px;top:-0.3px;width:6px;height:478px;background:linear-gradient(172.9deg,#cae3bf 0px,#cfe6c5 25px,#cce4c2 54px,#bddcaf 76px,#9ccc8c 107px,#96c986 122px,#a3d093 154px,#d2e8ca 223px,#e5f2e2 277px,#eaf4e8 304px,#e2f0de 397px,#edf5ea 475px)"></div>
<div style="left:432px;top:-0.3px;width:6px;height:478px;background:linear-gradient(172.7deg,#cae4bf 0px,#cfe6c6 27px,#cce4c2 54px,#bcdcae 76px,#9ccc8c 106px,#97c986 121px,#a3d093 153px,#d3e8ca 222px,#e5f2e1 275px,#eaf4e8 304px,#e2f0de 397px,#edf6eb 475px)"></div>
<div style="left:438px;top:-0.3px;width:6px;height:478px;background:linear-gradient(172.6deg,#cbe4c0 0px,#d0e6c6 26px,#cce5c2 53px,#bddcaf 75px,#9dcc8c 105px,#97c986 120px,#a3d093 152px,#d2e8c9 220px,#e5f1e1 273px,#eaf4e8 304px,#e2f0de 397px,#edf6eb 474px)"></div>
<div style="left:444px;top:-0.3px;width:6px;height:478px;background:linear-gradient(172.5deg,#cce4c1 0px,#d0e7c7 27px,#cce5c2 53px,#bcdcae 75px,#9dcc8c 104px,#97c986 119px,#a3cf93 150px,#d2e8ca 219px,#e4f1e0 271px,#eaf4e8 304px,#e2f0de 397px,#eef6ec 474px)"></div>
<div style="left:450px;top:-0.3px;width:6px;height:478px;background:linear-gradient(172.4deg,#cce5c2 0px,#d0e7c7 27px,#cde5c2 52px,#bddcae 74px,#9dcd8d 102px,#97c986 118px,#a3cf93 149px,#d2e8ca 217px,#e4f1df 268px,#eaf4e8 304px,#e2f0de 397px,#eef6ec 474px)"></div>
<div style="left:456px;top:-0.3px;width:6px;height:478px;background:linear-gradient(172.3deg,#cde5c3 0px,#d1e7c7 28px,#cde5c2 52px,#bdddaf 73px,#9dcd8d 101px,#97c986 117px,#a3cf93 148px,#d2e8c9 215px,#e3f1df 266px,#eaf4e8 304px,#e3f0de 397px,#eef6ec 474px)"></div>
<div style="left:462px;top:-0.3px;width:6px;height:478px;background:linear-gradient(172.2deg,#cee5c4 0px,#d1e7c8 28px,#cde5c3 51px,#c3e0b6 66px,#9dcd8d 100px,#97c986 116px,#a3cf93 147px,#d2e8c9 214px,#e3f0df 264px,#eaf4e8 304px,#e3f0de 397px,#eef6ec 474px)"></div>
<div style="left:468px;top:-0.3px;width:6px;height:478px;background:linear-gradient(172.1deg,#cee6c4 0px,#d1e7c8 28px,#cee5c3 50px,#c4e0b7 65px,#9ecd8d 99px,#97ca86 115px,#a3d093 146px,#d2e8ca 213px,#e3f0de 262px,#eaf4e8 303px,#e3f0de 397px,#eff6ed 474px)"></div>
<div style="left:474px;top:-0.3px;width:6px;height:478px;background:linear-gradient(171.9deg,#cfe6c5 0px,#d2e7c9 28px,#cde5c3 50px,#c4e0b7 64px,#9ecd8e 98px,#97ca86 114px,#a3d093 145px,#d2e8c9 211px,#e2f0de 260px,#eaf4e8 303px,#e3f0de 396px,#eff6ed 474px)"></div>
<div style="left:480px;top:-0.3px;width:6px;height:478px;background:linear-gradient(171.8deg,#d0e6c6 0px,#d2e8c9 28px,#cee5c4 49px,#c3e0b6 64px,#9ecd8e 97px,#97ca87 113px,#a3d093 144px,#d2e8c9 210px,#e2f0dd 258px,#eaf4e8 303px,#e3f0de 396px,#eff7ed 474px)"></div>
<div style="left:486px;top:-0.3px;width:6px;height:478px;background:linear-gradient(171.7deg,#d0e7c7 0px,#d2e8c9 29px,#cee5c4 49px,#c4e0b7 63px,#9ecd8e 96px,#97ca87 112px,#a3cf93 142px,#d4e9cc 212px,#e2f0dd 256px,#eaf4e8 303px,#e3f0de 396px,#eff7ed 473px)"></div>
<div style="left:492px;top:-0.3px;width:6px;height:478px;background:linear-gradient(171.6deg,#d1e7c8 0px,#d2e8ca 28px,#cee6c4 48px,#c4e0b7 62px,#9ecd8e 95px,#98ca87 111px,#a3cf93 141px,#d2e8c9 207px,#e1efdc 252px,#eaf4e8 303px,#e3f0de 396px,#f0f7ee 473px)"></div>
<div style="left:498px;top:-0.3px;width:6px;height:478px;background:linear-gradient(171.5deg,#d2e7c9 0px,#d3e8ca 28px,#cee6c5 47px,#c5e0b8 61px,#9fcd8e 94px,#98ca87 110px,#a3d093 140px,#d2e8c9 205px,#e1efdc 250px,#eaf4e8 303px,#e3f0df 396px,#f0f7ee 473px)"></div>
<div style="left:504px;top:-0.3px;width:6px;height:478px;background:linear-gradient(171.3deg,#d2e8c9 0px,#d3e8ca 28px,#cee6c4 47px,#c4e0b7 61px,#9fcd8e 93px,#98ca87 109px,#a3d093 139px,#d4e9cc 208px,#e0efdb 249px,#eaf4e8 303px,#e3f1df 396px,#f0f7ee 473px)"></div>
<div style="left:510px;top:-0.3px;width:6px;height:478px;background:linear-gradient(171.2deg,#d3e8ca 0px,#d3e8cb 28px,#cfe6c5 46px,#c4e0b8 60px,#9fcd8f 92px,#98ca87 108px,#a4d094 138px,#d4e9cb 206px,#e0efdb 247px,#eaf4e8 303px,#e3f1df 396px,#f0f7ee 473px)"></div>
<div style="left:516px;top:-0.3px;width:6px;height:478px;background:linear-gradient(171.1deg,#d3e8cb 0px,#d4e8cb 28px,#cfe6c5 45px,#c5e1b8 59px,#9fce8f 91px,#98ca87 107px,#a4d094 137px,#d4e9cc 205px,#e0efdb 245px,#eaf4e8 303px,#e3f1df 396px,#f0f7ef 473px)"></div>
<div style="left:522px;top:-0.3px;width:6px;height:478px;background:linear-gradient(171.0deg,#d4e9cc 0px,#d4e9cb 28px,#cfe6c5 45px,#c5e1b8 58px,#9fce8f 90px,#98ca87 106px,#a1cf91 132px,#cee6c4 193px,#dcedd6 227px,#eaf4e8 303px,#e3f1df 396px,#f1f7ef 473px)"></div>
<div style="left:0px;top:368.7px;width:5px;height:109px;background:linear-gradient(177.9deg,#e3f1df01 0.1px,#dfefda12 14.1px,#d8ebd153 22.1px,#d2e7c98e 25.1px,#c7e2bbfb 28.1px,#afd59fff 32.1px,#8fc57dff 35.1px,#6fb559ff 37.1px,#58aa41ff 38.1px,#4a9c33ff 39.1px,#244e1aff 44.1px,#1b3b14ff 46.1px,#173312ff 48.1px,#183612ff 50.1px,#1d4016ff 52.1px,#3d842aff 59.1px,#479731ff 62px,#4ca235ff 65px,#a2cf91ff 92px,#bfddb1fc 106px,#c4e0b7c3 109px)"></div>
<div style="left:5px;top:368.7px;width:5px;height:109px;background:linear-gradient(177.5deg,#e3f1df01 0.1px,#dfefda13 14.1px,#d8ebd155 22.1px,#d1e7c893 25.1px,#c6e1baff 28.1px,#aed59eff 32.1px,#8dc47bff 35.1px,#6db457ff 37.1px,#56a93eff 38.1px,#499b32ff 39.1px,#244d19ff 44.1px,#1b3b14ff 46.1px,#173412ff 48.1px,#183613ff 50.1px,#1e4116ff 52.1px,#3e852bff 59.1px,#479831ff 62.1px,#4da235ff 65px,#a0ce90ff 91px,#beddb0ff 105px,#c5e0b8be 109px)"></div>
<div style="left:10px;top:367.7px;width:5px;height:110px;background:linear-gradient(177.2deg,#e4f1df01 0.1px,#e0efdb10 14.1px,#d9ebd24a 22.1px,#d1e7c898 26.1px,#c6e1b9ff 29.1px,#acd49dff 33.1px,#8bc379ff 36.1px,#6ab254ff 38.1px,#52a73bff 39.1px,#489932ff 40.1px,#234c19ff 45.1px,#1a3b14ff 47.1px,#173412ff 49.1px,#1b3c14ff 52.1px,#27541bff 55.1px,#3e872bff 60.1px,#479931ff 63px,#4da335ff 66px,#a1ce91ff 92px,#bfddb1ff 106px,#c5e1b9b8 110px)"></div>
<div style="left:15px;top:367.7px;width:5px;height:110px;background:linear-gradient(176.8deg,#e4f1df01 0.1px,#e0efdb11 14.1px,#d9ebd24d 22.1px,#d3e8cb84 25.1px,#c5e0b8ff 29.1px,#b3d7a4ff 32.1px,#a1cf91ff 34.1px,#89c276ff 36.1px,#67b050ff 38.1px,#4ea536ff 39.1px,#224a19ff 45.1px,#1a3a14ff 47.1px,#183412ff 49.1px,#1c3d15ff 52.1px,#3f882cff 60px,#4ca134ff 65px,#50a638ff 67px,#9ccc8cff 90px,#beddb0ff 105px,#c6e1bab1 110px)"></div>
<div style="left:20px;top:367.7px;width:5px;height:110px;background:linear-gradient(176.4deg,#e4f1e001 0.2px,#e0efdb12 14.1px,#d9ebd251 22.1px,#d3e8ca8a 25.1px,#c8e2bdf0 28.1px,#b1d7a2ff 32.1px,#94c883ff 35.1px,#76b861ff 37.1px,#4da235ff 39.1px,#27541bff 44.1px,#214918ff 45.1px,#1a3913ff 47.1px,#183412ff 49.1px,#1a3914ff 51.1px,#204617ff 53.1px,#408a2cff 60px,#4ca235ff 65px,#9ecd8dff 90px,#bfdeb1ff 105px,#c7e2bbaa 109.9px)"></div>
<div style="left:25px;top:367.7px;width:5px;height:110px;background:linear-gradient(176.1deg,#e4f1e001 0.2px,#e0efdb13 14.1px,#d8ebd155 22.1px,#d2e8c991 25.1px,#c7e2bbfc 28.1px,#afd6a0ff 32.1px,#91c67fff 35.1px,#72b65dff 37.1px,#4b9f34ff 39.1px,#26511bff 44.1px,#1c3e15ff 46.1px,#183512ff 48.1px,#193713ff 50.1px,#1d4116ff 52px,#3d842aff 59px,#479731ff 62px,#4da235ff 65px,#9ccc8cff 89px,#bfddb1ff 103.9px,#c8e2bda3 109.9px)"></div>
<div style="left:30px;top:366.7px;width:5px;height:111px;background:linear-gradient(175.7deg,#e4f1e001 0.2px,#e0efdb11 14.1px,#d9ecd34c 22.1px,#d1e7c89a 26.1px,#c6e1baff 29.1px,#add59eff 33.1px,#8dc47bff 36.1px,#6db458ff 38.1px,#56a93fff 39.1px,#499c33ff 40.1px,#244f1aff 45.1px,#1b3d15ff 47.1px,#183512ff 49.1px,#1b3c15ff 52px,#27541bff 55px,#3e872bff 60px,#489931ff 63px,#4da335ff 66px,#9bcb8aff 88.9px,#c0deb2ff 104.9px,#c9e3be9c 110.9px)"></div>
<div style="left:35px;top:366.7px;width:5px;height:111px;background:linear-gradient(175.4deg,#e4f1e001 0.2px,#e0efdb12 14.2px,#d9ebd251 22.1px,#d0e7c7a4 26.1px,#c4e0b8ff 29.1px,#b3d7a4ff 32.1px,#a1cf91ff 34.1px,#89c276ff 36.1px,#67b151ff 38.1px,#4fa637ff 39.1px,#234c19ff 45.1px,#1b3b14ff 47px,#183612ff 49px,#1a3914ff 51px,#204617ff 53px,#377927ff 58px,#43902eff 61px,#4ea436ff 66px,#99cb89ff 87.9px,#bfdeb1ff 103.9px,#cae3bf94 110.8px)"></div>
<div style="left:40px;top:366.7px;width:5px;height:111px;background:linear-gradient(175.1deg,#e4f1e001 0.2px,#e0efdb14 14.2px,#d9ebd256 22.1px,#d2e8c992 25.1px,#c8e2bcfc 28.1px,#b0d6a1ff 32.1px,#92c781ff 35.1px,#74b75fff 37.1px,#4ca135ff 39.1px,#27541bff 44.1px,#214918ff 45px,#1a3a14ff 47px,#183612ff 49px,#1b3b14ff 51px,#214818ff 53px,#347224ff 57px,#418c2dff 60px,#4da335ff 65px,#9bcb8aff 87.9px,#c0deb2ff 103.8px,#cbe4c08c 110.8px)"></div>
<div style="left:45px;top:365.7px;width:5px;height:112px;background:linear-gradient(174.8deg,#e4f1e001 0.2px,#e0efdb11 14.2px,#daecd34e 22.1px,#d4e9cc84 25.1px,#c6e1baff 29.1px,#add59eff 33.1px,#8dc57cff 36.1px,#6eb458ff 38.1px,#57a940ff 39.1px,#499c33ff 40.1px,#25501aff 45px,#1c3e15ff 47px,#193713ff 49px,#1c3d15ff 52px,#27541cff 55px,#3f872bff 60px,#489932ff 63px,#4da436ff 66px,#9acb89ff 87.9px,#c0deb2ff 103.8px,#cce5c284 111.8px)"></div>
<div style="left:50px;top:365.7px;width:5px;height:112px;background:linear-gradient(174.5deg,#e4f1e001 0.2px,#e1efdc10 13.2px,#dbecd447 21.1px,#d3e8ca8e 25.1px,#c9e3bdf3 28.1px,#b2d7a3ff 32.1px,#a1ce90ff 34.1px,#88c276ff 36.1px,#66b050ff 38.1px,#4ea536ff 39.1px,#234c19ff 45px,#1b3c14ff 47px,#193713ff 49px,#1b3b14ff 51px,#204718ff 53px,#387a27ff 58px,#43912fff 61px,#4ea536ff 65.9px,#98ca88ff 86.8px,#c1dfb4ff 103.8px,#cde5c37d 111.7px)"></div>
<div style="left:55px;top:364.7px;width:5px;height:113px;background:linear-gradient(174.1deg,#e4f1e001 0.3px,#e1efdc11 14.2px,#daecd34d 22.1px,#d2e8c99a 26.1px,#c7e2bbff 29.1px,#afd6a0ff 33.1px,#90c67fff 36.1px,#72b65dff 38.1px,#4ba034ff 40px,#27531bff 45px,#214918ff 46px,#1a3b14ff 48px,#193713ff 50px,#1b3d15ff 52px,#224b19ff 54px,#357525ff 58px,#428d2dff 60.9px,#4da436ff 65.9px,#9acb8aff 87.8px,#c1deb3ff 103.7px,#cee6c475 112.7px)"></div>
<div style="left:60px;top:364.7px;width:5px;height:113px;background:linear-gradient(173.8deg,#e4f1e001 0.3px,#e1f0dc10 13.2px,#dbecd546 21.1px,#d3e8cb8d 25.1px,#c9e3bef0 28.1px,#b3d8a4ff 32.1px,#97ca87ff 35.1px,#7bbb67ff 37.1px,#53a73bff 39px,#489a32ff 40px,#244f1aff 45px,#1c3e15ff 47px,#193813ff 49px,#1b3b14ff 51px,#204617ff 53px,#377927ff 57.9px,#43902eff 60.9px,#4fa537ff 65.9px,#99cb89ff 86.8px,#c2dfb5fc 103.7px,#cfe6c66d 112.6px)"></div>
<div style="left:65px;top:363.7px;width:5px;height:114px;background:linear-gradient(173.5deg,#e5f1e101 0.3px,#e1efdc11 14.2px,#daecd44d 22.1px,#d2e8c99a 26.1px,#c7e2bbff 29.1px,#b0d6a1ff 33.1px,#92c780ff 36.1px,#74b75fff 38px,#4ca135ff 40px,#28551cff 45px,#224a19ff 46px,#1b3c14ff 48px,#193813ff 50px,#1c3d15ff 52px,#224a19ff 53.9px,#357425ff 57.9px,#418d2dff 60.9px,#4da436ff 65.9px,#98ca88ff 86.7px,#c2dfb5ff 103.6px,#d0e7c765 113.6px)"></div>
<div style="left:70px;top:363.7px;width:5px;height:114px;background:linear-gradient(173.3deg,#e5f1e101 0.3px,#e1f0dc10 13.2px,#dbedd547 21.1px,#d4e8cb8f 25.1px,#cae3bef1 28.1px,#b4d8a5ff 32.1px,#98ca87ff 35.1px,#6cb355ff 38px,#54a83dff 39px,#499b32ff 40px,#25501aff 45px,#1c3f15ff 47px,#193813ff 49px,#1d4016ff 51.9px,#29581dff 54.9px,#40892cff 59.9px,#4fa637ff 65.8px,#98ca87ff 85.7px,#c2dfb4ff 102.6px,#d1e7c85e 113.5px)"></div>
<div style="left:75px;top:362.7px;width:5px;height:115px;background:linear-gradient(173.0deg,#e5f1e101 0.3px,#e1f0dc12 14.2px,#daecd44f 22.1px,#d2e8c99d 26.1px,#c7e2bbff 29.1px,#b0d6a1ff 33.1px,#92c780ff 36px,#74b75fff 38px,#4ca235ff 40px,#28561cff 45px,#234b19ff 46px,#1b3d15ff 47.9px,#1a3913ff 49.9px,#1c3e15ff 51.9px,#224b19ff 53.9px,#357525ff 57.9px,#428d2dff 60.8px,#4ea436ff 65.8px,#97c986ff 85.7px,#c2dfb4ff 102.5px,#d2e8ca56 114.4px)"></div>
<div style="left:80px;top:361.7px;width:5px;height:116px;background:linear-gradient(172.7deg,#e5f1e101 0.3px,#e2f0dd10 14.2px,#dbedd54a 22.1px,#d3e8cb93 26.1px,#c9e3bef7 29.1px,#b3d8a4ff 33.1px,#97ca87ff 36px,#6bb255ff 39px,#53a83cff 40px,#489a32ff 41px,#25501aff 45.9px,#1d3f15ff 47.9px,#1a3913ff 49.9px,#1e4116ff 52.9px,#25501aff 54.9px,#408a2cff 60.8px,#50a638ff 66.8px,#99cb88ff 86.6px,#c3e0b6ff 103.5px,#cde5c393 109.4px,#d3e8cb4f 115.4px)"></div>
<div style="left:85px;top:361.7px;width:5px;height:116px;background:linear-gradient(172.4deg,#e5f1e101 0.3px,#e1f0dd13 14.2px,#daecd452 22.1px,#d5e9cd89 25.1px,#c7e2bbff 29.1px,#afd6a0ff 33px,#91c67fff 36px,#72b65dff 38px,#4ca134ff 40px,#28561cff 44.9px,#234b19ff 45.9px,#1c3d15ff 47.9px,#1a3914ff 49.9px,#1c3f15ff 51.9px,#234c19ff 53.9px,#367626ff 57.8px,#428e2eff 60.8px,#4ea536ff 65.8px,#6cb356ff 72.7px,#98ca88ff 85.6px,#c3e0b6ff 102.4px,#cde5c396 108.4px,#d4e9cc48 115.3px)"></div>
<div style="left:90px;top:360.7px;width:5px;height:117px;background:linear-gradient(172.2deg,#e5f1e101 0.3px,#e2f0dd11 14.2px,#dbedd54d 22.1px,#d3e8cb99 26.1px,#c9e3bdff 29.1px,#b2d7a3ff 33px,#a1ce91ff 35px,#89c276ff 37px,#68b151ff 39px,#50a639ff 40px,#25501aff 45.9px,#1d3f15ff 47.9px,#1a3a14ff 49.9px,#1c3d15ff 51.9px,#224918ff 53.8px,#397c28ff 58.8px,#44922fff 61.8px,#52a73aff 66.7px,#98ca87ff 85.5px,#c3e0b6ff 102.4px,#cfe6c58a 109.3px,#d5e9cd42 116.3px)"></div>
<div style="left:95px;top:359.7px;width:5px;height:118px;background:linear-gradient(171.9deg,#e5f2e101 0.4px,#e2f0dd10 14.2px,#dcedd649 22.1px,#d4e9cc91 26.1px,#cae4bff2 29.1px,#b5d8a6ff 33px,#a5d095ff 35px,#8ec57cff 37px,#4a9e34ff 40.9px,#27541bff 45.9px,#1e4216ff 47.9px,#1a3a14ff 49.9px,#1b3c14ff 51.8px,#204718ff 53.8px,#40892cff 60.7px,#499b32ff 63.7px,#50a638ff 66.7px,#6ab254ff 72.6px,#97ca86ff 85.5px,#c3e0b6ff 102.3px,#d0e7c67f 110.3px,#d6eace3c 117.2px)"></div>
<div style="left:100px;top:359.7px;width:5px;height:118px;background:linear-gradient(171.7deg,#e5f2e101 0.4px,#e2f0dd13 14.2px,#dbecd552 22.1px,#d5e9cd89 25.1px,#c8e2bcff 29.1px,#b0d6a1ff 33px,#93c882ff 36px,#76b861ff 38px,#4da335ff 39.9px,#244e1aff 45.9px,#1c3f15ff 47.9px,#1a3a14ff 49.8px,#1d3f15ff 51.8px,#234c19ff 53.8px,#367525ff 57.8px,#428e2eff 60.7px,#4fa537ff 65.7px,#6ab253ff 71.6px,#97c986ff 84.5px,#c3e0b6ff 101.3px,#d0e7c781 109.2px,#d7eacf36 117.1px)"></div>
<div style="left:105px;top:358.7px;width:5px;height:119px;background:linear-gradient(171.4deg,#e5f2e101 0.4px,#e2f0dd12 14.2px,#dcedd54f 22.1px,#d4e8cb9b 26.1px,#c9e3beff 29px,#b3d7a4ff 33px,#97ca87ff 36px,#6bb255ff 38.9px,#54a83cff 39.9px,#499b32ff 40.9px,#26521bff 45.9px,#1e4116ff 47.8px,#1b3b14ff 49.8px,#1c3e15ff 51.8px,#224a18ff 53.8px,#397b27ff 58.7px,#44922fff 61.7px,#53a73bff 66.6px,#6db357ff 72.6px,#9acb89ff 85.4px,#c5e1b9fc 102.2px,#d0e7c782 109.1px,#d8ebd030 118px)"></div>
<div style="left:110px;top:357.7px;width:5px;height:120px;background:linear-gradient(171.2deg,#e5f2e101 0.4px,#e2f0de11 14.2px,#dcedd64b 22.1px,#d4e9cc94 26.1px,#cbe4c0f5 29px,#b5d9a7ff 33px,#8fc57dff 36.9px,#71b65bff 38.9px,#4b9f34ff 40.9px,#28561cff 45.8px,#1f4417ff 47.8px,#1b3c14ff 49.8px,#1c3d15ff 51.8px,#214818ff 53.7px,#40892cff 60.7px,#499c33ff 63.6px,#51a739ff 66.6px,#6cb356ff 72.5px,#99cb89ff 85.4px,#c5e1b9fe 102.2px,#d2e7c976 110.1px,#d8ebd12b 119px)"></div>
<div style="left:115px;top:357.7px;width:5px;height:120px;background:linear-gradient(171.0deg,#e5f2e101 0.4px,#e2f0de14 14.2px,#dbedd556 22.1px,#c8e2bcff 29px,#b0d6a1ff 33px,#9ecd8eff 35px,#85c073ff 36.9px,#4da436ff 39.9px,#244f1aff 45.8px,#1d4016ff 47.8px,#1b3c14ff 49.8px,#1d4016ff 51.7px,#244d19ff 53.7px,#367626ff 57.7px,#428f2eff 60.6px,#55a83eff 66.6px,#99ca88ff 84.3px,#c5e1b9ff 101.1px,#d2e8c977 109px,#d9ebd226 118.9px)"></div>
<div style="left:120px;top:356.7px;width:5px;height:121px;background:linear-gradient(170.8deg,#e5f2e201 0.4px,#e2f0de13 14.2px,#dcedd652 22.1px,#d6eace88 25.1px,#c9e3bdff 29px,#b2d7a3ff 33px,#97c986ff 35.9px,#7bbb67ff 37.9px,#53a73bff 39.9px,#489a32ff 40.9px,#26521bff 45.8px,#1e4216ff 47.8px,#1b3c14ff 49.8px,#1d4015ff 51.7px,#234b19ff 53.7px,#397d28ff 58.6px,#459430ff 61.6px,#54a83dff 66.5px,#6bb355ff 71.5px,#99ca88ff 84.3px,#c5e1b9ff 101.1px,#d3e8cb6c 110px,#daecd322 119.8px)"></div>
<div style="left:125px;top:355.7px;width:5px;height:122px;background:linear-gradient(170.5deg,#e6f2e201 0.4px,#e3f0de12 14.2px,#dcedd650 22.1px,#d4e9cc9c 26.1px,#cae3bfff 29px,#b4d8a5ff 33px,#a4d094ff 34.9px,#8dc57cff 36.9px,#4a9e33ff 40.9px,#28551cff 45.8px,#1f4417ff 47.8px,#1b3d15ff 49.7px,#1c3f15ff 51.7px,#224a18ff 53.7px,#418b2dff 60.6px,#53a73cff 66.5px,#6ab254ff 71.4px,#95c984ff 83.3px,#b3d8a5ff 93.1px,#c6e1b9ff 101px,#d3e8cb6c 109.9px,#dbecd41d 120.8px)"></div>
<div style="left:130px;top:354.7px;width:5px;height:123px;background:linear-gradient(170.3deg,#e6f2e201 0.4px,#e3f0de12 14.2px,#ddedd74d 22.1px,#d5e9cd97 26.1px,#cbe4c0f8 29px,#b6d9a7ff 33px,#91c67fff 36.9px,#73b75eff 38.9px,#4ca235ff 40.8px,#244e1aff 46.8px,#1d4016ff 48.7px,#1b3d15ff 50.7px,#1e4216ff 52.7px,#25501aff 54.6px,#377927ff 58.6px,#43912fff 61.5px,#4ea436ff 65.5px,#58aa40ff 67.5px,#95c884ff 83.2px,#b6d9a7ff 94.1px,#c6e1b9ff 101px,#d5e9cd61 110.8px,#dbedd51a 121.7px)"></div>
<div style="left:135px;top:353.7px;width:5px;height:124px;background:linear-gradient(170.1deg,#e6f2e201 0.4px,#e3f0de15 15.2px,#dcedd559 23.1px,#d6eace93 26px,#cce4c2f1 29px,#b1d6a1ff 33.9px,#9fcd8fff 35.9px,#86c174ff 37.9px,#65b04eff 39.8px,#4ea536ff 40.8px,#25511aff 46.7px,#1e4216ff 48.7px,#1c3d15ff 50.7px,#1e4216ff 52.6px,#244e1aff 54.6px,#367726ff 58.6px,#438f2eff 61.5px,#4da335ff 65.5px,#57a940ff 67.4px,#95c884ff 83.2px,#b6d9a7ff 94px,#c6e1baff 100.9px,#d5e9cd60 110.8px,#dcedd616 122.6px)"></div>
<div style="left:140px;top:352.7px;width:5px;height:125px;background:linear-gradient(169.9deg,#e6f2e201 0.4px,#e3f0de14 15.2px,#dcedd657 23.1px,#c9e3bdff 30px,#b2d7a3ff 33.9px,#96c985ff 36.9px,#7bbb66ff 38.8px,#53a73cff 40.8px,#499b32ff 41.8px,#27531bff 46.7px,#1f4317ff 48.7px,#1c3d15ff 50.7px,#1e4116ff 52.6px,#234d19ff 54.6px,#3a7e28ff 59.5px,#459530ff 62.5px,#4da335ff 65.4px,#5cab44ff 68.4px,#9fcd8fff 86.1px,#c8e2bded 101.9px,#d6eacf56 111.7px,#dcedd613 123.5px)"></div>
<div style="left:145px;top:352.7px;width:5px;height:125px;background:linear-gradient(169.8deg,#e6f2e201 0.4px,#e3f1df14 14.2px,#dcedd655 22.1px,#d7eacf8c 25px,#cae3beff 29px,#b3d8a5ff 32.9px,#a3cf93ff 34.9px,#8cc47aff 36.9px,#6eb458ff 38.8px,#58aa41ff 39.8px,#4a9d33ff 40.8px,#28561cff 45.7px,#1f4517ff 47.7px,#1c3e15ff 49.6px,#1d4116ff 51.6px,#234c19ff 53.6px,#397d28ff 58.5px,#459430ff 61.5px,#50a638ff 65.4px,#5bab44ff 67.4px,#9ccc8bff 84.1px,#c6e1baff 99.8px,#c9e3bdec 100.8px,#d7eacf55 110.7px,#ddedd711 123.5px)"></div>
<div style="left:150px;top:351.7px;width:5px;height:126px;background:linear-gradient(169.6deg,#e6f2e201 0.5px,#e3f1df13 14.2px,#ddedd753 22.1px,#d5e9cda1 26px,#cae4bfff 29px,#b5d8a6ff 32.9px,#8fc57dff 36.8px,#71b65cff 38.8px,#4ba034ff 40.8px,#29581dff 45.7px,#204617ff 47.7px,#1c3f15ff 49.6px,#1d4116ff 51.6px,#224b19ff 53.6px,#397b27ff 58.5px,#44932fff 61.4px,#4fa637ff 65.4px,#60ad49ff 68.3px,#9fcd8fff 85px,#c7e2bbff 99.8px,#cbe4c0d7 101.8px,#d8ebd14b 111.6px,#ddeed80e 124.4px)"></div>
<div style="left:155px;top:350.7px;width:5px;height:127px;background:linear-gradient(169.4deg,#e6f2e201 0.5px,#e3f1df13 14.2px,#ddedd752 22.1px,#d5e9cd9f 26px,#cbe4c0ff 29px,#b6d9a7ff 32.9px,#91c67fff 36.8px,#74b75fff 38.8px,#4da235ff 40.8px,#25501aff 46.7px,#1e4216ff 48.6px,#1c3f15ff 50.6px,#1f4417ff 52.6px,#26511bff 54.5px,#387a27ff 58.5px,#44922fff 61.4px,#4ea537ff 65.3px,#5fad48ff 68.3px,#9fce8fff 85px,#c7e2bbff 99.7px,#cbe4c0d5 101.7px,#d8ebd14b 111.5px,#deeed80c 125.3px)"></div>
<div style="left:160px;top:349.7px;width:5px;height:128px;background:linear-gradient(169.2deg,#e6f2e201 0.5px,#e3f1df17 15.2px,#dcedd660 23.1px,#d6eace9c 26px,#cce4c1fe 29px,#b0d6a1ff 33.9px,#9ecd8eff 35.8px,#85c072ff 37.8px,#64af4dff 39.8px,#4ea436ff 40.7px,#26521bff 46.6px,#1f4417ff 48.6px,#1c3f15ff 50.6px,#1f4417ff 52.5px,#25501aff 54.5px,#387927ff 58.4px,#44912fff 61.4px,#4ea536ff 65.3px,#5fad48ff 68.3px,#9fce8fff 85px,#c8e2bcff 99.7px,#cce4c1d4 101.7px,#d9ecd241 112.5px,#deeed90a 126.2px)"></div>
<div style="left:165px;top:348.7px;width:5px;height:129px;background:linear-gradient(169.1deg,#e6f2e301 0.5px,#e3f1df16 15.2px,#dcedd65f 23.1px,#d6eace9b 26px,#cce5c2fb 28.9px,#b1d6a2ff 33.9px,#9fce8fff 35.8px,#87c175ff 37.8px,#67b151ff 39.7px,#51a639ff 40.7px,#27541bff 46.6px,#1f4517ff 48.6px,#1d3f15ff 50.6px,#1f4417ff 52.5px,#25501aff 54.5px,#377826ff 58.4px,#469731ff 62.3px,#4ea536ff 65.3px,#64af4dff 69.2px,#a3cf93ff 85.9px,#c8e2bcfd 99.6px,#cce4c1d2 101.6px,#daecd340 112.4px,#dfeed908 127.1px)"></div>
<div style="left:170px;top:347.7px;width:5px;height:130px;background:linear-gradient(168.9deg,#e6f2e301 0.5px,#e3f1df16 15.2px,#dcedd65e 23.1px,#d6eacf99 26px,#cde5c2f8 28.9px,#b2d7a3ff 33.8px,#96c985ff 36.8px,#7abb66ff 38.8px,#54a83cff 40.7px,#499b32ff 41.7px,#28551cff 46.6px,#204617ff 48.6px,#1d4016ff 50.5px,#1f4417ff 52.5px,#254f1aff 54.5px,#3b8029ff 59.4px,#469631ff 62.3px,#4ea436ff 65.3px,#68b152ff 70.2px,#a0ce90ff 84.9px,#c6e1baff 98.6px,#cee6c4bc 102.5px,#dbecd438 113.3px,#dfeeda07 128.1px)"></div>
<div style="left:175px;top:346.7px;width:5px;height:131px;background:linear-gradient(168.8deg,#e6f2e301 0.5px,#e4f1df16 15.2px,#ddedd75d 23px,#d7eacf98 26px,#cde5c3f6 28.9px,#b2d7a3ff 33.8px,#a2cf92ff 35.8px,#8bc378ff 37.8px,#6cb356ff 39.7px,#56a93fff 40.7px,#4a9d33ff 41.7px,#28571cff 46.6px,#204718ff 48.5px,#1d4016ff 50.5px,#1f4417ff 52.5px,#244f1aff 54.4px,#3b8029ff 59.3px,#469630ff 62.3px,#4ea436ff 65.2px,#69b152ff 70.1px,#a0ce90ff 84.8px,#c7e2baff 98.6px,#cfe6c5ba 102.5px,#dbecd537 113.3px,#dfefda06 129px)"></div>
<div style="left:180px;top:345.7px;width:5px;height:132px;background:linear-gradient(168.6deg,#e7f2e301 0.5px,#e4f1df16 15.2px,#ddedd75d 23px,#cee5c3f4 28.9px,#b3d7a4ff 33.8px,#a2cf92ff 35.8px,#8cc47aff 37.7px,#6eb458ff 39.7px,#59aa41ff 40.7px,#4a9e33ff 41.7px,#29581dff 46.6px,#214818ff 48.5px,#1e4116ff 50.5px,#1f4417ff 52.5px,#244f1aff 54.4px,#3b7f29ff 59.3px,#469530ff 62.3px,#4ea436ff 65.2px,#69b152ff 70.1px,#a1ce90ff 84.8px,#c7e2bbff 98.5px,#cfe6c5b8 102.5px,#dbedd536 113.2px,#e0efda05 129.9px)"></div>
<div style="left:185px;top:344.7px;width:5px;height:133px;background:linear-gradient(168.5deg,#e7f2e301 0.5px,#e4f1df16 15.2px,#ddedd75d 23px,#cee5c4f3 28.9px,#b4d8a5ff 33.8px,#8dc47bff 37.7px,#4b9f34ff 41.7px,#2a5a1dff 46.6px,#214918ff 48.5px,#1e4216ff 50.5px,#1f4417ff 52.4px,#244e1aff 54.4px,#3a7f29ff 59.3px,#499b32ff 63.2px,#4da436ff 65.2px,#6db457ff 71.1px,#a1cf91ff 84.8px,#c8e2bcff 98.5px,#d0e6c6b5 102.4px,#d8ebd05f 108.3px,#dcedd62e 114.2px,#e0efdb04 130.8px)"></div>
<div style="left:190px;top:343.7px;width:5px;height:134px;background:linear-gradient(168.4deg,#e7f2e301 0.5px,#e4f1e016 15.2px,#ddeed75d 23px,#cee6c4f3 28.9px,#b4d8a5ff 33.8px,#8ec57cff 37.7px,#71b55bff 39.7px,#4ca034ff 41.6px,#2a5b1eff 46.5px,#224a18ff 48.5px,#1e4216ff 50.5px,#1f4417ff 52.4px,#244e1aff 54.4px,#3a7e28ff 59.3px,#489b32ff 63.2px,#4da436ff 65.1px,#6db458ff 71px,#a1cf91ff 84.7px,#c8e2bcff 98.5px,#d0e7c7b2 102.4px,#d8ebd15d 108.2px,#ddedd72d 114.1px,#e0efdb03 131.8px)"></div>
<div style="left:195px;top:342.7px;width:5px;height:135px;background:linear-gradient(168.3deg,#e7f2e301 0.5px,#e4f1e016 15.2px,#ddeed85d 23px,#cee6c4f2 28.9px,#b4d8a6ff 33.8px,#8fc57dff 37.7px,#72b65cff 39.7px,#4ca135ff 41.6px,#26521bff 47.5px,#204517ff 49.5px,#1e4216ff 51.4px,#28551cff 55.3px,#3a7e28ff 59.3px,#489a32ff 63.2px,#4da436ff 65.1px,#6eb458ff 71px,#a2cf92ff 84.7px,#c9e3bdff 98.4px,#d0e7c7af 102.3px,#d8ebd15b 108.2px,#ddedd72c 114.1px,#e1efdc03 132.7px)"></div>
<div style="left:200px;top:341.7px;width:5px;height:136px;background:linear-gradient(168.1deg,#e7f2e301 0.5px,#e4f1e016 15.2px,#ddeed85d 23px,#cfe6c5f3 28.9px,#b5d8a6ff 33.8px,#8fc67eff 37.7px,#73b65dff 39.7px,#4ca235ff 41.6px,#26531bff 47.5px,#204617ff 49.4px,#1e4316ff 51.4px,#28561cff 55.3px,#3a7e28ff 59.2px,#489a32ff 63.1px,#4da436ff 65.1px,#6eb458ff 71px,#a2cf92ff 84.7px,#c9e3befd 98.4px,#d3e8ca9a 103.3px,#deeed825 115px,#e1efdc02 133.6px)"></div>
<div style="left:205px;top:340.7px;width:5px;height:137px;background:linear-gradient(168.0deg,#e7f3e401 0.5px,#e4f1e016 15.2px,#ddeed85e 23px,#cfe6c5f3 28.9px,#b5d8a6ff 33.8px,#90c67eff 37.7px,#73b75eff 39.6px,#4da335ff 41.6px,#27541bff 47.5px,#204718ff 49.4px,#1f4317ff 51.4px,#28561cff 55.3px,#3a7e28ff 59.2px,#489a32ff 63.1px,#4da436ff 65.1px,#6eb459ff 71px,#a3d093ff 84.6px,#c7e2bcff 97.4px,#d3e8ca97 103.2px,#deeed824 115px,#e1f0dc02 134.5px)"></div>
<div style="left:210px;top:339.7px;width:5px;height:138px;background:linear-gradient(167.9deg,#e7f3e401 0.5px,#e4f1e016 15.2px,#ddeed85f 23px,#cfe6c5f4 28.9px,#b5d8a6ff 33.8px,#90c67fff 37.7px,#74b75fff 39.6px,#4da335ff 41.6px,#27541bff 47.5px,#214718ff 49.4px,#1f4417ff 51.4px,#28561cff 55.3px,#3e862bff 60.2px,#4ba034ff 64.1px,#4ea436ff 65.1px,#6ab254ff 70px,#92c780ff 79.7px,#b0d6a1ff 88.5px,#c8e2bcff 97.3px,#d6eacf77 105.2px,#dfeeda1a 116.9px,#e1f0dd01 135.5px)"></div>
<div style="left:215px;top:338.7px;width:5px;height:139px;background:linear-gradient(167.8deg,#e7f3e401 0.5px,#e4f1e017 15.2px,#ddeed85f 23px,#cfe6c5f6 28.9px,#b5d9a6ff 33.8px,#90c67fff 37.7px,#74b75fff 39.6px,#4da435ff 41.6px,#27551cff 47.4px,#214818ff 49.4px,#1f4417ff 51.4px,#254f1aff 54.3px,#3e862bff 60.2px,#4ea436ff 65px,#6bb255ff 69.9px,#92c781ff 79.7px,#b1d7a2ff 88.5px,#c9e3bdff 97.3px,#d7eacf74 105.1px,#dfefda19 116.9px,#e2f0dd01 136.4px)"></div>
<div style="left:220px;top:337.7px;width:5px;height:140px;background:linear-gradient(167.7deg,#e7f3e401 0.5px,#e4f1e017 15.2px,#ddeed860 23px,#cfe6c5f7 28.9px,#b5d9a6ff 33.8px,#91c67fff 37.7px,#75b760ff 39.6px,#4da436ff 41.6px,#28551cff 47.4px,#214818ff 49.4px,#1f4517ff 51.3px,#25501aff 54.3px,#3e872bff 60.1px,#4ea436ff 65px,#6bb355ff 69.9px,#93c782ff 79.7px,#b2d7a3ff 88.5px,#c9e3beff 97.3px,#d7ead071 105.1px,#dfefda18 116.8px,#e2f0dd01 137.3px)"></div>
<div style="left:225px;top:336.7px;width:5px;height:139px;background:linear-gradient(167.7deg,#e7f3e401 0.5px,#e4f1e017 15.2px,#deeed861 23px,#cfe6c5fa 28.9px,#b5d9a6ff 33.7px,#91c67fff 37.7px,#75b860ff 39.6px,#4ea436ff 41.6px,#28561cff 47.4px,#214918ff 49.4px,#204517ff 51.3px,#25501aff 54.3px,#3e872bff 60.1px,#4ea536ff 65px,#6cb356ff 69.9px,#93c882ff 79.7px,#b2d7a3ff 88.5px,#cae3bffd 97.2px,#d8ebd06e 105.1px,#e0efdb17 116.8px,#e2f0de01 136.3px)"></div>
<div style="left:230px;top:335.7px;width:5px;height:139px;background:linear-gradient(167.6deg,#e8f3e401 0.5px,#e4f1e018 15.2px,#deeed863 23px,#cfe6c5fc 28.9px,#b5d8a6ff 33.7px,#91c67fff 37.6px,#75b860ff 39.6px,#4ea436ff 41.6px,#28561cff 47.4px,#224918ff 49.4px,#204617ff 51.3px,#25511aff 54.2px,#3f872bff 60.1px,#4ea536ff 65px,#6cb356ff 69.9px,#94c883ff 79.6px,#c8e2bdff 96.2px,#d8ebd16a 105px,#e0efdb16 116.8px,#e2f0de01 136.3px)"></div>
<div style="left:235px;top:333.7px;width:5px;height:140px;background:linear-gradient(167.5deg,#e8f3e401 0.5px,#e6f2e20d 13.2px,#e2f0dd33 20.1px,#daecd389 25.9px,#cfe6c5ff 29.8px,#b5d8a6ff 34.7px,#9ccc8bff 37.6px,#75b760ff 40.6px,#4ea436ff 42.5px,#28571cff 48.4px,#224a18ff 50.3px,#204617ff 52.3px,#26511bff 55.2px,#3f882cff 61.1px,#4ea536ff 66px,#6db357ff 70.8px,#95c884ff 80.6px,#c9e3bdff 97.2px,#d9ebd267 106px,#e0efdb16 117.7px,#e3f0de01 137.2px)"></div>
<div style="left:240px;top:332.7px;width:5px;height:139px;background:linear-gradient(167.4deg,#e8f3e401 0.5px,#e6f2e20d 13.2px,#e2f0dd34 20.1px,#daecd38b 25.9px,#cee6c4ff 29.8px,#b5d8a6ff 34.7px,#9bcc8bff 37.6px,#74b75fff 40.6px,#4ea436ff 42.5px,#28571cff 48.4px,#224a19ff 50.3px,#204718ff 52.3px,#26521bff 55.2px,#3f882cff 61.1px,#4ca134ff 65px,#4fa537ff 65.9px,#6db458ff 70.8px,#96c985ff 80.6px,#cae3beff 97.2px,#d8ebd170 105px,#e0efdb18 116.7px,#e3f0de01 136.2px)"></div>
<div style="left:245px;top:331.7px;width:5px;height:139px;background:linear-gradient(167.4deg,#e8f3e501 0.5px,#e3f0de2c 19.1px,#dcedd679 24.9px,#cee6c4ff 29.8px,#b4d8a6ff 34.7px,#9bcc8bff 37.6px,#74b75fff 40.6px,#4da436ff 42.5px,#29571cff 48.4px,#224b19ff 50.3px,#214718ff 52.3px,#26531bff 55.2px,#3f892cff 61px,#4ca135ff 65px,#6eb458ff 70.8px,#96c985ff 80.6px,#cae3bffe 97.2px,#d8ebd16d 105px,#e0efdb17 116.7px,#e3f1df01 136.2px)"></div>
<div style="left:250px;top:330.7px;width:5px;height:139px;background:linear-gradient(167.3deg,#e8f3e501 0.5px,#e3f0de2d 19.1px,#dcedd67b 24.9px,#cee5c4ff 29.8px,#b4d8a5ff 34.7px,#9bcb8aff 37.6px,#74b75fff 40.5px,#4da436ff 42.5px,#29571cff 48.4px,#234b19ff 50.3px,#214818ff 52.3px,#27531bff 55.2px,#40892cff 61px,#4ca235ff 64.9px,#6eb459ff 70.8px,#93c882ff 79.6px,#c9e3bdff 96.2px,#d9ebd269 104.9px,#e1efdc16 116.6px,#e3f1df01 136.2px)"></div>
<div style="left:255px;top:329.7px;width:5px;height:138px;background:linear-gradient(167.3deg,#e8f3e501 0.6px,#e3f0de2e 19.1px,#dcedd67d 24.9px,#cee5c4ff 29.8px,#b4d8a5ff 34.7px,#9acb8aff 37.6px,#73b75eff 40.5px,#4da335ff 42.5px,#29581dff 48.3px,#234b19ff 50.3px,#214818ff 52.3px,#27541bff 55.2px,#408a2cff 61px,#4da235ff 64.9px,#6ab254ff 69.8px,#94c883ff 79.6px,#c9e3beff 96.1px,#d8ebd172 103.9px,#e1efdc18 115.7px,#e3f1df01 135.2px)"></div>
<div style="left:260px;top:328.7px;width:5px;height:138px;background:linear-gradient(167.2deg,#e8f3e501 0.6px,#e6f2e30c 12.3px,#e3f0de2e 19.1px,#dcedd57f 24.9px,#cde5c3ff 29.8px,#b3d8a5ff 34.7px,#9acb89ff 37.6px,#73b75eff 40.5px,#4da335ff 42.5px,#29581dff 48.3px,#234c19ff 50.3px,#224918ff 52.2px,#27551cff 55.2px,#408b2dff 61px,#4da335ff 64.9px,#6bb355ff 69.8px,#95c884ff 79.6px,#cae3bfff 96.1px,#d8ebd16f 103.9px,#e1efdc17 115.6px,#e4f1df01 135.1px)"></div>
<div style="left:265px;top:327.7px;width:5px;height:137px;background:linear-gradient(167.2deg,#e8f3e501 0.6px,#e6f2e30c 12.3px,#e3f0de2f 19.1px,#dcedd581 24.9px,#cde5c3ff 29.8px,#b3d7a4ff 34.7px,#99cb89ff 37.6px,#72b65cff 40.5px,#4da235ff 42.5px,#29581dff 48.3px,#224a18ff 51.3px,#234c19ff 53.2px,#28561cff 55.2px,#418c2dff 61px,#4da435ff 64.9px,#6cb356ff 69.8px,#96c985ff 79.5px,#cbe4c0fe 96.1px,#d9ebd26b 103.9px,#e1f0dc16 115.6px,#e4f1df01 134.2px)"></div>
<div style="left:270px;top:326.7px;width:5px;height:137px;background:linear-gradient(167.2deg,#e8f3e501 0.6px,#e7f2e30c 12.3px,#e3f0df30 19.1px,#ddeed76f 24px,#cde5c3ff 29.8px,#b2d7a3ff 34.7px,#98ca88ff 37.6px,#71b55bff 40.5px,#4ca235ff 42.5px,#29581dff 48.3px,#224b19ff 51.3px,#244d19ff 53.2px,#29581cff 55.2px,#418d2dff 61px,#4ea436ff 64.9px,#6db457ff 69.8px,#96c985ff 79.5px,#c9e3bdff 95.1px,#d9ecd368 103.9px,#e1efdc18 114.6px,#e4f1e001 134.1px)"></div>
<div style="left:275px;top:325.7px;width:5px;height:137px;background:linear-gradient(167.2deg,#e8f3e501 0.6px,#e7f2e30c 12.3px,#e3f1df31 19.1px,#dbedd584 24.9px,#d0e7c7f4 28.8px,#b8daaaff 33.7px,#a2cf92ff 36.6px,#7ebd6bff 39.6px,#4ca134ff 42.5px,#29581dff 48.3px,#234b19ff 51.3px,#26531bff 54.2px,#428e2eff 61px,#4ea536ff 64.9px,#6eb458ff 69.8px,#97ca86ff 79.5px,#c9e3beff 95.1px,#daecd364 103.9px,#e1f0dc17 114.6px,#e4f1e001 134.1px)"></div>
<div style="left:280px;top:324.7px;width:5px;height:136px;background:linear-gradient(167.1deg,#e9f3e501 0.6px,#e7f2e30d 12.3px,#e3f1df31 19.1px,#dbedd587 24.9px,#d0e7c7f8 28.8px,#b8daa9ff 33.7px,#a1ce91ff 36.6px,#7dbc69ff 39.6px,#4ba034ff 42.5px,#29581dff 48.3px,#234c19ff 51.3px,#27541bff 54.2px,#438f2eff 61px,#50a638ff 64.9px,#6ab254ff 68.8px,#94c883ff 78.6px,#cae3bfff 95.1px,#d9ebd26d 102.9px,#e1efdc19 113.6px,#e4f1e001 133.1px)"></div>
<div style="left:285px;top:323.7px;width:5px;height:136px;background:linear-gradient(167.1deg,#e9f3e501 0.6px,#e7f2e30d 12.3px,#e3f1df32 19.1px,#dbedd589 24.9px,#d0e7c7fb 28.8px,#b7daa9ff 33.7px,#a0ce90ff 36.6px,#7cbb68ff 39.6px,#4b9f34ff 42.5px,#29581dff 48.3px,#234d19ff 51.3px,#28551cff 54.2px,#3f892cff 60px,#4ca235ff 63.9px,#6bb355ff 68.8px,#95c884ff 78.5px,#cbe4c0fe 95.1px,#d9ecd26a 102.9px,#e1f0dc18 113.6px,#e4f1e001 133.1px)"></div>
<div style="left:290px;top:322.7px;width:5px;height:136px;background:linear-gradient(167.1deg,#e9f3e601 0.6px,#e7f2e30d 12.3px,#e3f1df33 19.1px,#dbedd58b 24.9px,#d0e6c6ff 28.8px,#b7d9a8ff 33.7px,#9fce8fff 36.6px,#7bbb67ff 39.6px,#58a940ff 41.5px,#4b9e34ff 42.5px,#29581dff 48.3px,#244e1aff 51.3px,#28571cff 54.2px,#408a2cff 60px,#4da335ff 63.9px,#6cb356ff 68.8px,#96c985ff 78.5px,#c9e3beff 94.1px,#daecd366 102.9px,#e1f0dc17 113.6px,#e4f1e001 133.1px)"></div>
<div style="left:295px;top:321.7px;width:5px;height:135px;background:linear-gradient(167.1deg,#e9f3e601 0.6px,#e7f2e30d 12.3px,#e3f1df34 19.1px,#ddedd778 24px,#cfe6c6ff 28.8px,#b6d9a8ff 33.7px,#9ecd8eff 36.6px,#7aba66ff 39.6px,#56a93fff 41.5px,#4a9e33ff 42.5px,#29581dff 48.3px,#244f1aff 51.3px,#29581dff 54.2px,#418b2dff 60px,#4da435ff 63.9px,#6db457ff 68.8px,#96c986ff 78.5px,#cae3beff 94.1px,#d9ebd270 101.9px,#e1f0dc1a 112.7px,#e5f1e001 132.2px)"></div>
<div style="left:300px;top:319.7px;width:5px;height:136px;background:linear-gradient(167.1deg,#e9f3e601 0.6px,#e4f1e02c 19.1px,#ddedd77a 24.9px,#cfe6c6ff 29.8px,#b6d9a7ff 34.7px,#9ecd8dff 37.6px,#79ba64ff 40.5px,#55a83dff 42.5px,#4a9d33ff 43.5px,#29581dff 49.3px,#254f1aff 52.2px,#2a5a1dff 55.2px,#418d2dff 61px,#4ea436ff 64.9px,#6eb458ff 69.8px,#97ca86ff 79.5px,#cae4bfff 95.1px,#d9ebd26c 102.9px,#e1f0dc19 113.6px,#e5f1e101 133.1px)"></div>
<div style="left:305px;top:318.7px;width:5px;height:136px;background:linear-gradient(167.2deg,#e9f4e601 0.6px,#e4f1e02d 19.1px,#ddedd77c 24.9px,#cfe6c5ff 29.8px,#b5d9a6ff 34.7px,#9dcc8cff 37.6px,#78b963ff 40.5px,#53a73bff 42.5px,#499c33ff 43.5px,#29591dff 49.3px,#25501aff 52.2px,#2a5b1eff 55.2px,#428e2eff 61px,#4ea536ff 64.9px,#6ab254ff 68.8px,#94c883ff 78.6px,#cbe4c0fd 95.1px,#daecd369 102.9px,#e1f0dd17 113.7px,#e5f1e101 133.2px)"></div>
<div style="left:310px;top:317.7px;width:5px;height:135px;background:linear-gradient(167.2deg,#e9f4e601 0.6px,#e7f3e40b 12.3px,#e4f1e02d 19.1px,#ddedd77e 24.9px,#cfe6c5ff 29.8px,#b5d8a6ff 34.7px,#9ccc8cff 37.6px,#77b962ff 40.5px,#52a73aff 42.5px,#499b32ff 43.5px,#29591dff 49.3px,#26511bff 52.2px,#2b5d1eff 55.2px,#428f2eff 61px,#50a638ff 64.9px,#6bb355ff 68.8px,#95c984ff 78.6px,#c9e3beff 94.2px,#d9ebd272 102px,#e1f0dc1a 112.7px,#e5f1e101 132.2px)"></div>
<div style="left:315px;top:316.7px;width:5px;height:135px;background:linear-gradient(167.2deg,#e9f4e601 0.6px,#e7f3e40c 12.3px,#e4f1e02e 19.1px,#ddedd780 24.9px,#cee6c5ff 29.8px,#b4d8a5ff 34.7px,#9bcc8bff 37.6px,#76b861ff 40.5px,#50a638ff 42.5px,#2d611fff 48.3px,#26521bff 51.3px,#29581dff 54.2px,#43902eff 61px,#51a639ff 64.9px,#6cb356ff 68.8px,#96c985ff 78.6px,#cae3beff 94.2px,#d9ebd26e 102px,#e1f0dd19 112.7px,#e5f1e101 132.2px)"></div>
<div style="left:320px;top:315.7px;width:5px;height:134px;background:linear-gradient(167.2deg,#e9f4e601 0.6px,#e8f3e40c 12.3px,#e4f1e02f 19.1px,#deeed96e 24px,#cee6c4ff 29.8px,#b4d8a5ff 34.7px,#9bcb8aff 37.6px,#75b860ff 40.5px,#4fa537ff 42.5px,#2d611fff 48.3px,#26531bff 51.3px,#29591dff 54.2px,#44912fff 61px,#52a73bff 64.9px,#6db457ff 68.8px,#97c986ff 78.6px,#cae4bfff 94.2px,#d9ecd36b 102px,#e2f0dd18 112.7px,#e5f2e101 131.2px)"></div>
<div style="left:325px;top:314.7px;width:5px;height:134px;background:linear-gradient(167.3deg,#e9f4e601 0.6px,#e8f3e40c 12.3px,#e4f1e030 19.1px,#ddedd783 24.9px,#d2e7c9f3 28.8px,#b9dbabff 33.7px,#9acb89ff 37.6px,#74b75fff 40.5px,#4ea536ff 42.5px,#2d611fff 48.3px,#27531bff 51.3px,#2a5b1dff 54.2px,#408b2dff 60.1px,#4da335ff 64px,#6eb458ff 68.8px,#94c883ff 77.6px,#cbe4c0fe 94.2px,#daecd368 102px,#e2f0dd17 112.7px,#e5f2e101 131.3px)"></div>
<div style="left:330px;top:313.7px;width:5px;height:134px;background:linear-gradient(167.3deg,#e9f4e601 0.5px,#e8f3e40c 12.3px,#e4f1e030 19.1px,#dcedd785 24.9px,#d2e7c9f6 28.8px,#b9dbabff 33.7px,#99cb88ff 37.6px,#73b75eff 40.6px,#4ea436ff 42.5px,#2d621fff 48.4px,#27541bff 51.3px,#2b5c1eff 54.2px,#418c2dff 60.1px,#4ea436ff 64px,#6fb559ff 68.8px,#95c884ff 77.6px,#c9e3bdff 93.2px,#daecd464 102px,#e2f0dd16 112.8px,#e5f2e101 131.3px)"></div>
<div style="left:335px;top:312.7px;width:5px;height:133px;background:linear-gradient(167.4deg,#eaf4e701 0.5px,#e8f3e40c 12.3px,#e4f1e031 19.1px,#dcedd687 24.9px,#d1e7c8f9 28.8px,#b9daaaff 33.7px,#98ca88ff 37.6px,#72b65dff 40.6px,#4da436ff 42.5px,#2d6220ff 48.4px,#27551cff 51.3px,#2b5e1eff 54.2px,#418d2dff 60.1px,#4ea536ff 64px,#6bb255ff 67.9px,#96c985ff 77.6px,#c9e3beff 93.3px,#d9ebd26e 101.1px,#e2f0dd18 111.8px,#e5f2e101 130.3px)"></div>
<div style="left:340px;top:311.7px;width:5px;height:133px;background:linear-gradient(167.5deg,#eaf4e701 0.5px,#e8f3e40c 12.3px,#e4f1e031 19.1px,#dcedd688 24.9px,#d1e7c8fc 28.9px,#b8daaaff 33.7px,#a2cf92ff 36.7px,#7fbd6cff 39.6px,#4da335ff 42.5px,#2d6220ff 48.4px,#28561cff 51.3px,#2c5f1fff 54.2px,#428e2eff 60.1px,#4fa537ff 64px,#6cb356ff 67.9px,#97c986ff 77.7px,#cae3bfff 93.3px,#d9ecd36b 101.1px,#e2f0dd17 111.8px,#e5f2e101 130.4px)"></div>
<div style="left:345px;top:310.7px;width:5px;height:133px;background:linear-gradient(167.5deg,#eaf4e701 0.5px,#e8f3e50d 12.3px,#e4f1e032 19.1px,#dcedd68a 24.9px,#d1e7c8ff 28.9px,#b8daa9ff 33.7px,#a1cf91ff 36.7px,#7fbd6bff 39.6px,#4da335ff 42.5px,#2d6220ff 48.4px,#28561cff 51.3px,#2c601fff 54.2px,#428f2eff 60.1px,#50a638ff 64px,#6db357ff 67.9px,#9bcc8bff 78.6px,#cbe4c0ff 93.3px,#daecd367 101.1px,#e2f0dd16 111.8px,#e5f2e101 130.4px)"></div>
<div style="left:350px;top:309.7px;width:5px;height:132px;background:linear-gradient(167.6deg,#eaf4e701 0.5px,#e8f3e50d 12.3px,#e4f1e032 19.1px,#deeed977 24px,#d1e7c8ff 28.9px,#b8daa9ff 33.7px,#a1ce91ff 36.7px,#7ebd6bff 39.6px,#4da235ff 42.5px,#2e6320ff 48.4px,#29571cff 51.3px,#2d621fff 54.3px,#43902eff 60.1px,#51a639ff 64px,#6db457ff 67.9px,#98ca88ff 77.7px,#cbe4c0fa 93.3px,#daecd364 101.1px,#e2f0dd15 111.9px,#e5f2e101 129.5px)"></div>
<div style="left:355px;top:308.7px;width:5px;height:132px;background:linear-gradient(167.7deg,#eaf4e701 0.5px,#e8f3e50d 12.3px,#e4f1e033 19.1px,#deeed978 24px,#d1e7c8ff 28.9px,#b7daa9ff 33.7px,#a0ce90ff 36.7px,#7ebc6aff 39.6px,#4da235ff 42.5px,#2e6320ff 48.4px,#29581dff 51.3px,#2e6320ff 54.3px,#43912fff 60.1px,#52a73bff 64px,#6eb458ff 67.9px,#9dcc8cff 78.7px,#c9e3bdff 92.4px,#daecd461 101.2px,#e2f0dd14 111.9px,#e5f2e201 129.5px)"></div>
<div style="left:360px;top:307.7px;width:5px;height:132px;background:linear-gradient(167.8deg,#eaf4e701 0.5px,#e8f3e50d 12.3px,#e4f1e033 19.1px,#deeed978 24px,#d1e7c7ff 28.9px,#b7daa9ff 33.8px,#a0ce90ff 36.7px,#7dbc6aff 39.6px,#4ca235ff 42.6px,#2e6420ff 48.4px,#29591dff 51.3px,#2e6420ff 54.3px,#44912fff 60.1px,#53a73cff 64.1px,#6fb459ff 68px,#9ecd8dff 78.7px,#c9e3beff 92.4px,#daecd45f 101.2px,#e2f0dd14 111.9px,#e5f2e201 129.5px)"></div>
<div style="left:365px;top:306.7px;width:5px;height:131px;background:linear-gradient(167.8deg,#eaf4e701 0.5px,#e8f3e50d 12.3px,#e4f1e033 19.1px,#deeed979 24px,#d1e7c7ff 28.9px,#b7daa9ff 33.8px,#a0ce90ff 36.7px,#7dbc69ff 39.6px,#4ca235ff 42.6px,#2e6520ff 48.4px,#2a5a1dff 51.4px,#2f6521ff 54.3px,#44922fff 60.2px,#4da435ff 63.1px,#54a83cff 64.1px,#6fb55aff 68px,#9ecd8eff 78.7px,#cae3bfff 92.4px,#dbecd45c 101.2px,#e2f0dd16 111px,#e5f2e201 128.6px)"></div>
<div style="left:370px;top:305.7px;width:5px;height:131px;background:linear-gradient(167.9deg,#eaf4e701 0.5px,#e8f3e50d 12.3px,#e5f1e034 19.1px,#deeed97a 24px,#d1e7c7ff 28.9px,#b7daa8ff 33.8px,#a0ce90ff 36.7px,#7dbc69ff 39.6px,#4ca235ff 42.6px,#2f6521ff 48.4px,#2a5b1eff 51.4px,#2f6621ff 54.3px,#4da436ff 63.1px,#70b55aff 68px,#9fce8fff 78.8px,#cae3bfff 92.4px,#dbecd55a 101.2px,#e2f0dd15 111px,#e5f2e201 128.6px)"></div>
<div style="left:375px;top:304.7px;width:5px;height:131px;background:linear-gradient(168.0deg,#eaf4e701 0.5px,#e6f2e224 17.1px,#e0efdb68 23px,#d7ead0c4 26.9px,#d1e7c7ff 28.9px,#b7d9a8ff 33.8px,#a0ce90ff 36.7px,#7dbc69ff 39.7px,#4da235ff 42.6px,#2f6621ff 48.5px,#2b5c1eff 51.4px,#2f6721ff 54.3px,#4ea436ff 63.1px,#65b04eff 66.1px,#98ca87ff 76.8px,#cbe4c0fb 92.5px,#d7eacf7f 98.3px,#dfeed933 105.2px,#e3f0de0d 114px,#e6f2e201 128.7px)"></div>
<div style="left:380px;top:303.7px;width:5px;height:131px;background:linear-gradient(168.2deg,#eaf4e701 0.5px,#e6f2e224 17.2px,#e0efdb68 23px,#d7ebd0c4 26.9px,#d1e7c7ff 28.9px,#b7daa8ff 33.8px,#a0ce90ff 36.7px,#7dbc69ff 39.7px,#4da235ff 42.6px,#2f6721ff 48.5px,#2b5d1eff 51.4px,#306821ff 54.3px,#4ea536ff 63.2px,#65b04fff 66.1px,#9ccc8cff 77.8px,#cbe4c1f7 92.5px,#d7ead07d 98.4px,#dfeed931 105.2px,#e3f0de0c 114px,#e6f2e201 128.7px)"></div>
<div style="left:385px;top:302.7px;width:5px;height:130px;background:linear-gradient(168.3deg,#eaf4e701 0.5px,#e6f2e324 17.2px,#e0efdb68 23px,#d7ebd0c4 26.9px,#d1e7c8ff 28.9px,#b7daa8ff 33.8px,#a0ce90ff 36.7px,#7ebc6aff 39.7px,#4da335ff 42.6px,#306821ff 48.5px,#2b5e1eff 51.4px,#306922ff 54.4px,#4ea536ff 63.2px,#66b04fff 66.1px,#9dcc8dff 77.9px,#cce4c1f3 92.5px,#d7ebd07a 98.4px,#dfeeda30 105.3px,#e3f0df0c 114.1px,#e5f2e201 127.8px)"></div>
<div style="left:390px;top:301.7px;width:5px;height:130px;background:linear-gradient(168.4deg,#eaf4e701 0.5px,#e6f2e323 17.2px,#e0efdb68 23px,#d8ebd0c4 27px,#d1e7c8ff 28.9px,#b7daa9ff 33.8px,#a0ce90ff 36.7px,#7ebc6aff 39.7px,#4da335ff 42.6px,#306922ff 48.5px,#2c5f1fff 51.4px,#306a22ff 54.4px,#4fa537ff 63.2px,#66b050ff 66.1px,#9dcd8dff 77.9px,#cce5c2ef 92.6px,#d8ebd077 98.5px,#dfeeda2e 105.3px,#e6f2e201 127.8px)"></div>
<div style="left:395px;top:300.7px;width:5px;height:130px;background:linear-gradient(168.5deg,#eaf4e701 0.5px,#e6f2e323 17.2px,#e0efdb67 23px,#d8ebd1c3 27px,#d1e7c8ff 28.9px,#b7daa9ff 33.8px,#a1ce90ff 36.8px,#7fbd6bff 39.7px,#4da436ff 42.6px,#316a22ff 48.5px,#2c601fff 51.5px,#316a22ff 54.4px,#4fa537ff 63.2px,#67b150ff 66.2px,#9acb89ff 76.9px,#cbe4c0ff 91.6px,#d8ebd075 98.5px,#dfefda2d 105.4px,#e6f2e201 127.9px)"></div>
<div style="left:400px;top:299.7px;width:5px;height:130px;background:linear-gradient(168.7deg,#eaf4e701 0.5px,#e7f2e323 17.2px,#e0efdb66 23px,#d8ebd1c2 27px,#d1e7c8ff 28.9px,#b8daa9ff 33.8px,#a1cf91ff 36.8px,#7fbd6cff 39.7px,#4ea536ff 42.7px,#316b22ff 48.5px,#2d611fff 51.5px,#316b22ff 54.4px,#4fa637ff 63.2px,#67b151ff 66.2px,#9acb8aff 77px,#cbe4c0ff 91.7px,#d8ebd173 98.5px,#dfefda2c 105.4px,#e6f2e201 128px)"></div>
<div style="left:405px;top:298.7px;width:5px;height:129px;background:linear-gradient(168.8deg,#e9f4e601 0.5px,#e7f2e323 17.2px,#e1efdc66 23px,#d8ebd1c1 27px,#d2e7c9ff 28.9px,#b8daaaff 33.8px,#a2cf92ff 36.8px,#80be6dff 39.7px,#4fa537ff 42.7px,#326c23ff 48.6px,#2d621fff 51.5px,#316b22ff 54.4px,#4fa638ff 63.3px,#67b151ff 66.2px,#9bcb8aff 77px,#cce4c1ff 91.7px,#d7eacf80 97.6px,#deeed932 104.5px,#e3f0de0c 113.3px,#e5f2e201 127px)"></div>
<div style="left:410px;top:297.7px;width:5px;height:129px;background:linear-gradient(169.0deg,#e9f4e601 0.5px,#e7f2e322 17.2px,#e1efdc65 23.1px,#d8ebd1bf 27px,#d2e8c9ff 28.9px,#b9daaaff 33.8px,#a2cf92ff 36.8px,#81be6eff 39.7px,#51a639ff 42.7px,#326d23ff 48.6px,#2d6320ff 51.5px,#316c23ff 54.5px,#4fa638ff 63.3px,#67b151ff 66.2px,#9bcc8bff 77px,#cce4c1fd 91.8px,#d7ead07f 97.6px,#deeed931 104.5px,#e3f0de0c 113.3px,#e5f2e201 127.1px)"></div>
<div style="left:415px;top:296.7px;width:5px;height:129px;background:linear-gradient(169.1deg,#e9f4e601 0.5px,#e7f2e322 17.2px,#e1efdc63 23.1px,#d9ebd2bd 27px,#d2e8c9ff 28.9px,#b9dbabff 33.9px,#a3d093ff 36.8px,#83bf6fff 39.8px,#53a73bff 42.7px,#4a9d33ff 43.7px,#336f23ff 48.6px,#2e6420ff 51.5px,#326c23ff 54.5px,#4fa637ff 63.3px,#67b151ff 66.3px,#9bcc8bff 77.1px,#cce5c2fb 91.8px,#d7ebd07d 97.7px,#deeed930 104.6px,#e3f0de0b 113.4px,#e5f2e201 127.1px)"></div>
<div style="left:420px;top:295.7px;width:5px;height:129px;background:linear-gradient(169.3deg,#e9f4e601 0.5px,#e7f3e421 17.2px,#e1f0dc62 23.1px,#d9ebd2ba 27px,#d3e8cafd 29px,#badbabff 33.9px,#a4d094ff 36.8px,#84c071ff 39.8px,#55a83eff 42.7px,#4b9e34ff 43.7px,#337024ff 48.6px,#2e6420ff 51.6px,#326d23ff 54.5px,#4fa537ff 63.3px,#67b151ff 66.3px,#9ccc8bff 77.1px,#cde5c2f9 91.8px,#d8ebd17c 97.7px,#deeed92f 104.6px,#e3f0de0b 113.5px,#e5f2e201 127.2px)"></div>
<div style="left:425px;top:295.7px;width:5px;height:128px;background:linear-gradient(169.4deg,#e9f4e601 0.5px,#e7f2e327 17.2px,#e0efdb72 23.1px,#d6eacfd6 27px,#cfe6c5ff 29px,#a5d095ff 35.8px,#86c073ff 38.8px,#4ba034ff 42.7px,#347224ff 47.6px,#2f6521ff 50.6px,#326d23ff 53.5px,#4fa537ff 62.4px,#6eb458ff 66.3px,#a0ce8fff 77.1px,#cde5c3f8 90.9px,#d8ebd17b 96.8px,#deeed92f 103.7px,#e3f0de0b 112.5px,#e5f2e101 126.3px)"></div>
<div style="left:430px;top:294.7px;width:5px;height:128px;background:linear-gradient(169.6deg,#e9f3e601 0.5px,#e7f2e326 17.2px,#e0efdb6f 23.1px,#d7eacfd2 27px,#d0e6c6ff 29px,#b5d8a6ff 33.9px,#9dcd8dff 36.8px,#7abb66ff 39.8px,#4ca235ff 42.7px,#387b27ff 46.7px,#326d23ff 48.6px,#2f6621ff 50.6px,#326d23ff 53.6px,#4ea536ff 62.4px,#6db458ff 66.4px,#a0ce90ff 77.2px,#cde5c3f7 90.9px,#d8ebd17a 96.8px,#deeed92e 103.7px,#e3f0de0b 112.6px,#e5f2e101 126.4px)"></div>
<div style="left:435px;top:293.7px;width:5px;height:127px;background:linear-gradient(169.8deg,#e9f3e501 0.4px,#e7f2e325 17.2px,#e0efdb6d 23.1px,#d7ebd0ce 27px,#d0e7c7ff 29px,#b6d9a7ff 33.9px,#9fcd8eff 36.9px,#7dbc69ff 39.8px,#4da335ff 42.8px,#367525ff 47.7px,#316a22ff 49.7px,#306721ff 51.6px,#357325ff 54.6px,#4ea536ff 62.4px,#6db457ff 66.4px,#a0ce90ff 77.2px,#cde5c3f6 91px,#d8ebd179 96.9px,#dfeed92e 103.8px,#e5f2e101 125.4px)"></div>
<div style="left:440px;top:292.7px;width:5px;height:127px;background:linear-gradient(170.0deg,#e8f3e501 0.4px,#e7f3e424 17.2px,#e1efdc6a 23.1px,#d8ebd1c9 27px,#d1e7c8ff 29px,#b7d9a8ff 33.9px,#a0ce90ff 36.9px,#7fbd6bff 39.8px,#4ea537ff 42.8px,#367726ff 47.7px,#316b22ff 49.7px,#306821ff 51.6px,#347325ff 54.6px,#4ea436ff 62.5px,#6db357ff 66.4px,#a0ce8fff 77.2px,#cee5c3f6 91px,#d9ebd279 96.9px,#dfeed92e 103.8px,#e5f2e101 125.5px)"></div>
<div style="left:445px;top:291.7px;width:5px;height:127px;background:linear-gradient(170.2deg,#e8f3e501 0.4px,#e7f3e423 17.2px,#e1efdc67 23.1px,#d8ebd1c4 27px,#d2e7c9ff 29px,#b8daaaff 33.9px,#a2cf92ff 36.9px,#81be6eff 39.8px,#52a73bff 42.8px,#4a9d33ff 43.8px,#377927ff 47.7px,#326d23ff 49.7px,#306922ff 51.7px,#347325ff 54.6px,#4da436ff 62.5px,#6cb356ff 66.4px,#a0ce8fff 77.3px,#cee5c4f7 91.1px,#d9ebd279 97px,#dfeed92d 103.9px,#e5f2e101 125.6px)"></div>
<div style="left:450px;top:291.7px;width:5px;height:126px;background:linear-gradient(170.4deg,#e8f3e501 0.4px,#e7f2e329 17.2px,#e1f0dd64 22.1px,#d9ebd2bf 26.1px,#d2e8caff 28px,#b9dbabff 33px,#a3d094ff 35.9px,#84c071ff 38.9px,#56a93fff 41.8px,#4b9f34ff 42.8px,#387b27ff 46.8px,#336f23ff 48.7px,#316a22ff 50.7px,#347225ff 53.7px,#4da335ff 61.5px,#6bb355ff 65.5px,#9fce8fff 76.3px,#cee5c4f8 90.1px,#d9ebd279 96.1px,#dfefda2d 103px,#e5f2e101 124.6px)"></div>
<div style="left:455px;top:290.7px;width:5px;height:126px;background:linear-gradient(170.6deg,#e8f3e501 0.4px,#e7f2e327 17.2px,#e2f0dd60 22.1px,#daecd3b9 26.1px,#d3e8cbfb 28px,#badbacff 33px,#a5d196ff 35.9px,#87c174ff 38.9px,#4ca235ff 42.8px,#397d28ff 46.8px,#316b22ff 50.7px,#347224ff 53.7px,#4da235ff 61.6px,#70b55bff 66.5px,#92c781ff 73.4px,#b2d7a3ff 81.3px,#cee5c4f9 90.2px,#d9ebd279 96.1px,#dfefda2d 103px,#e5f2e101 124.7px)"></div>
<div style="left:460px;top:289.7px;width:5px;height:126px;background:linear-gradient(170.8deg,#e8f3e501 0.4px,#e7f3e425 17.2px,#e1efdc6e 23.1px,#d7ebd0d0 27.1px,#d0e7c7ff 29px,#b6d9a7ff 34px,#9fcd8eff 36.9px,#70b55aff 40.9px,#4ea536ff 42.8px,#3b7f29ff 46.8px,#326c23ff 50.7px,#367726ff 54.7px,#4ca135ff 61.6px,#6fb55aff 66.5px,#96c985ff 74.4px,#cbe4c0ff 89.2px,#d0e7c7e0 91.2px,#daecd46b 97.1px,#dfefda2e 103.1px,#e5f1e101 124.8px)"></div>
<div style="left:465px;top:288.7px;width:5px;height:126px;background:linear-gradient(171.0deg,#e8f3e401 0.4px,#e7f3e423 17.2px,#e1f0dc69 23.1px,#d8ebd1c9 27.1px,#d1e7c8ff 29px,#b7daa9ff 34px,#a1ce91ff 36.9px,#81be6dff 39.9px,#52a73bff 42.9px,#4a9d33ff 43.9px,#387b27ff 47.8px,#337024ff 49.8px,#326d23ff 51.8px,#367626ff 54.7px,#4fa637ff 62.6px,#6fb459ff 66.6px,#a2cf92ff 77.4px,#cee5c3fd 90.3px,#d0e7c7e2 91.3px,#dbecd46c 97.2px,#dfefda2e 103.1px,#e5f1e101 124.8px)"></div>
<div style="left:470px;top:288.7px;width:5px;height:125px;background:linear-gradient(171.2deg,#e8f3e401 0.4px,#e7f2e329 17.2px,#e1f0dd65 22.1px,#d9ebd2c1 26.1px,#d2e8caff 28.1px,#b9dbabff 33px,#a3d093ff 36px,#84c071ff 38.9px,#4ca034ff 42.9px,#397d28ff 46.8px,#326e23ff 50.8px,#387b27ff 54.7px,#4ea536ff 61.7px,#6eb458ff 65.6px,#9ecd8dff 75.5px,#cde5c3ff 89.3px,#d4e9ccb5 92.3px,#ddedd753 98.2px,#e0efdb22 104.2px,#e5f1e101 123.9px)"></div>
<div style="left:475px;top:287.7px;width:5px;height:125px;background:linear-gradient(171.5deg,#e8f3e401 0.4px,#e7f2e327 17.2px,#e2f0dd60 22.1px,#daecd3b9 26.1px,#d4e8cbfb 28.1px,#bbdbacff 33px,#a6d196ff 36px,#88c275ff 38.9px,#6eb459ff 40.9px,#4da436ff 42.9px,#3b8029ff 46.9px,#336f23ff 50.8px,#387a27ff 54.8px,#4da435ff 61.7px,#6cb356ff 65.6px,#94c883ff 73.6px,#b1d6a2ff 80.5px,#cde5c3ff 89.4px,#d4e9ccb8 92.3px,#ddedd754 98.3px,#e0efdb22 104.2px,#e5f1e101 124px)"></div>
<div style="left:480px;top:286.7px;width:5px;height:125px;background:linear-gradient(171.7deg,#e7f3e401 0.4px,#e7f3e424 17.2px,#e2f0de5b 22.1px,#dbecd5b0 26.1px,#d1e7c8ff 29.1px,#b7d9a8ff 34px,#a0ce90ff 37px,#80bd6cff 39.9px,#52a73aff 42.9px,#397c28ff 47.9px,#337024ff 51.8px,#387927ff 54.8px,#4da235ff 61.7px,#71b55bff 66.7px,#a0ce90ff 76.6px,#cde5c3ff 89.4px,#d4e9ccbb 92.4px,#ddedd756 98.3px,#e1efdc23 104.3px,#e5f1e101 124.1px)"></div>
<div style="left:485px;top:286.7px;width:5px;height:124px;background:linear-gradient(172.0deg,#e7f3e401 0.3px,#e7f2e329 17.2px,#e2f0dd66 22.1px,#d9ebd2c4 26.1px,#d2e8c9ff 28.1px,#b9daaaff 33px,#a3d093ff 36px,#84c071ff 39px,#4ca134ff 42.9px,#3a7e28ff 46.9px,#337024ff 50.8px,#377826ff 53.8px,#50a638ff 61.7px,#6fb55aff 65.7px,#97c986ff 73.6px,#cde5c2ff 88.5px,#d4e9cbbf 91.4px,#ddedd757 97.4px,#e1efdc24 103.3px,#e5f1e101 123.1px)"></div>
<div style="left:490px;top:285.7px;width:5px;height:124px;background:linear-gradient(172.2deg,#e7f3e401 0.3px,#e7f2e326 17.2px,#e2f0dd60 22.1px,#daecd4b9 26.1px,#d4e9cbfc 28.1px,#bbdbacff 33px,#a6d196ff 36px,#7cbb68ff 40px,#4ea536ff 42.9px,#3c8129ff 46.9px,#347124ff 50.9px,#397c28ff 54.8px,#4ea536ff 61.8px,#6eb458ff 65.7px,#96c985ff 73.7px,#cce4c2ff 88.5px,#d5e9cdad 92.5px,#ddedd75a 97.4px,#e1efdc24 103.4px,#e5f1e001 123.2px)"></div>
<div style="left:495px;top:284.7px;width:5px;height:124px;background:linear-gradient(172.5deg,#e7f2e301 0.3px,#e7f2e324 17.2px,#e3f0de5a 22.1px,#dbedd5af 26.1px,#d1e7c8ff 29.1px,#b7daa9ff 34px,#a1ce91ff 37px,#81be6eff 40px,#55a83dff 43px,#4b9f34ff 43.9px,#3a7e28ff 47.9px,#347224ff 51.9px,#387b27ff 54.9px,#4da335ff 61.8px,#6cb356ff 65.8px,#95c884ff 73.7px,#b1d7a3ff 80.6px,#cee6c4fc 89.6px,#d5e9cdb1 92.5px,#ddedd75c 97.5px,#e1efdc25 103.4px,#e4f1e001 123.3px)"></div>
<div style="left:500px;top:284.7px;width:5px;height:123px;background:linear-gradient(172.8deg,#e7f2e301 0.3px,#e6f2e328 17.2px,#e2f0dd64 22.1px,#d9ecd3c0 26.1px,#d3e8caff 28.1px,#badbabff 33.1px,#a4d094ff 36px,#86c173ff 39px,#4da335ff 43px,#3c8129ff 46.9px,#357325ff 50.9px,#387a27ff 53.9px,#4ca135ff 60.8px,#70b55aff 65.8px,#93c882ff 72.7px,#b1d6a1ff 79.7px,#cee5c4ff 88.6px,#d5e9cdb6 91.6px,#dcedd75f 96.5px,#e1efdc27 102.5px,#e4f1e001 122.3px)"></div>
<div style="left:505px;top:283.7px;width:5px;height:124px;background:linear-gradient(173.0deg,#e7f2e301 0.3px,#e7f2e325 17.2px,#e3f0de5d 22.1px,#dbecd4b4 26.1px,#d1e7c7ff 29.1px,#a8d298ff 36px,#8bc379ff 39px,#73b75eff 41px,#53a73bff 43px,#4a9e33ff 44px,#3a7e28ff 47.9px,#357425ff 50.9px,#397d28ff 54.9px,#4ea536ff 61.8px,#6eb458ff 65.8px,#97c986ff 73.8px,#cde5c3ff 88.6px,#d4e9ccbc 91.6px,#ddeed855 97.6px,#e1f0dc22 103.5px,#e4f1e001 123.4px)"></div>
<div style="left:510px;top:283.7px;width:5px;height:123px;background:linear-gradient(173.3deg,#e7f2e301 0.3px,#e6f2e229 17.2px,#e2f0dd66 22.1px,#d9ebd2c4 26.1px,#d2e8caff 28.1px,#b9daaaff 33.1px,#a3d093ff 36px,#85c072ff 39px,#4da335ff 43px,#3c822aff 47px,#357525ff 50.9px,#397c28ff 53.9px,#4da335ff 60.9px,#6cb356ff 64.8px,#95c984ff 72.8px,#cce5c2ff 87.7px,#d6eaceac 91.7px,#ddeed758 96.6px,#e1f0dc23 102.6px,#e4f1e001 122.5px)"></div>
<div style="left:515px;top:282.7px;width:5px;height:123px;background:linear-gradient(173.6deg,#e7f2e301 0.3px,#e6f2e325 17.2px,#e2f0de5e 22.1px,#dbecd4b6 26.1px,#d4e9ccf9 28.1px,#a7d298ff 36.1px,#8bc378ff 39px,#72b65dff 41px,#53a73bff 43px,#4a9e34ff 44px,#3b7f29ff 48px,#367626ff 51px,#3a7f29ff 54.9px,#4fa637ff 61.9px,#6fb55aff 65.9px,#93c882ff 72.8px,#b1d6a2ff 79.8px,#cee6c4ff 88.7px,#d5e9cdb3 91.7px,#ddedd75c 96.7px,#e1f0dc25 102.6px,#e4f1e001 122.5px)"></div>
<div style="left:520px;top:282.7px;width:5px;height:122px;background:linear-gradient(173.9deg,#e7f2e301 0.3px,#e6f2e229 17.2px,#e2f0dd67 22.1px,#d9ebd2c6 26.1px,#d2e8caff 28.1px,#b9daaaff 33.1px,#a3d093ff 36.1px,#85c072ff 39px,#4da335ff 43px,#3c832aff 47px,#367626ff 51px,#3a7d28ff 54px,#4da435ff 60.9px,#6db357ff 64.9px,#96c985ff 72.9px,#cde5c3ff 87.8px,#d5e9cdba 90.7px,#ddedd760 95.7px,#e1f0dc27 101.7px,#e4f1e001 121.6px)"></div>
</div>
<div style="left:636px;top:1126px;width:52px;height:440px;background:linear-gradient(#fbfdfa 0.0px,#eef6eb 23.0px,#dcedd6 44.0px,#c0deb2 75.0px,#94c883 136.0px,#6cb356 189.0px,#4ea536 220.0px,#357425 307.0px,#28561c 352.0px,#12280e 439.0px)"></div>
<div style="left:98.7px;top:1634.5px;width:523.9px;height:477.5px;overflow:hidden">
<div style="left:-0.7px;top:-0.5px;width:6px;height:478px;background:linear-gradient(178.5deg,#fbebe6 0px,#fae4dc 50px,#f9dace 71px,#f6c6b3 100px,#f5c1ad 117px,#f6c4b1 135px,#f7ccbd 156px,#fbebe6 196px,#fdf3f0 232px,#fdf7f4 316px,#fae8e1 436px,#fbece6 478px)"></div>
<div style="left:5.3px;top:-0.5px;width:6px;height:478px;background:linear-gradient(178.5deg,#fbece6 0px,#fae4dd 49px,#f9dacf 70px,#f6c6b3 100px,#f5c1ae 117px,#f6c4b1 135px,#f7cdbd 156px,#fbebe6 196px,#fdf3f0 232px,#fdf7f4 316px,#fae8e2 436px,#fbece6 478px)"></div>
<div style="left:11.3px;top:-0.5px;width:6px;height:478px;background:linear-gradient(178.5deg,#fbece6 0px,#fae4dd 49px,#f9dacf 70px,#f6c6b3 100px,#f5c1ae 116px,#f6c4b1 134px,#f8cdbe 156px,#fbece6 196px,#fdf3f0 232px,#fdf6f4 316px,#fae8e2 436px,#fbece6 478px)"></div>
<div style="left:17.3px;top:-0.5px;width:6px;height:478px;background:linear-gradient(178.5deg,#fbece6 0px,#fae4dd 49px,#f9dacf 70px,#f6c6b3 100px,#f5c1ae 116px,#f6c4b2 134px,#f8cdbe 156px,#fbece6 196px,#fdf3f0 231px,#fdf6f4 316px,#fae8e2 436px,#fbece6 478px)"></div>
<div style="left:23.3px;top:-0.5px;width:6px;height:478px;background:linear-gradient(178.5deg,#fbece6 0px,#fae4dd 49px,#f9dacf 70px,#f6c6b4 99px,#f5c2ae 116px,#f6c4b2 134px,#f8cebe 156px,#fbece6 196px,#fdf3f0 231px,#fdf6f4 316px,#fae8e2 436px,#fbece7 478px)"></div>
<div style="left:29.3px;top:-0.5px;width:6px;height:478px;background:linear-gradient(178.5deg,#fbece6 0px,#fae4dd 49px,#f9dacf 70px,#f6c6b4 99px,#f5c2ae 115px,#f6c5b2 134px,#f8cebf 156px,#fbece6 196px,#fdf3f0 231px,#fdf6f4 316px,#fae8e2 436px,#fbece7 478px)"></div>
<div style="left:35.3px;top:-0.5px;width:6px;height:478px;background:linear-gradient(178.5deg,#fbece6 0px,#fae4dd 49px,#f9dacf 70px,#f6c6b4 99px,#f5c2ae 115px,#f6c5b2 133px,#f8cebf 156px,#fbece7 196px,#fdf3f0 230px,#fdf6f3 316px,#fbe9e2 436px,#fbece7 478px)"></div>
<div style="left:41.3px;top:-0.5px;width:6px;height:478px;background:linear-gradient(178.5deg,#fbece6 0px,#fae4dd 49px,#f9dbd0 69px,#f6c6b4 99px,#f5c2ae 115px,#f6c5b2 133px,#f8cfc0 156px,#fbece7 196px,#fdf3f0 230px,#fdf6f3 316px,#fbe9e2 436px,#fbece7 478px)"></div>
<div style="left:47.3px;top:-0.5px;width:6px;height:478px;background:linear-gradient(178.5deg,#fbece6 0px,#fae4dd 49px,#f9dbd0 69px,#f6c6b5 98px,#f5c2af 114px,#f6c5b3 133px,#f8cfbf 155px,#fbece7 196px,#fdf3f0 230px,#fdf6f3 316px,#fbe9e3 436px,#fbece7 478px)"></div>
<div style="left:53.3px;top:-0.5px;width:6px;height:478px;background:linear-gradient(178.5deg,#fbece6 0px,#fae5dd 48px,#f9dbcf 69px,#f6c6b5 98px,#f5c2af 114px,#f6c5b3 132px,#f8cebf 154px,#fbece7 196px,#fdf3f0 229px,#fdf6f3 316px,#fbe9e3 436px,#fbece7 478px)"></div>
<div style="left:59.3px;top:-0.5px;width:6px;height:478px;background:linear-gradient(178.5deg,#fbece6 0px,#fae5dd 48px,#f9dacf 69px,#f6c6b5 98px,#f5c2af 114px,#f6c5b3 132px,#f8cebf 153px,#fbece7 196px,#fdf3f0 229px,#fdf6f3 316px,#fbe9e3 436px,#fbede7 478px)"></div>
<div style="left:65.3px;top:-0.5px;width:6px;height:478px;background:linear-gradient(178.5deg,#fbece6 0px,#fae5dd 48px,#f9dbd0 68px,#f6c6b5 98px,#f5c2af 114px,#f6c5b3 131px,#f8cebf 152px,#fbede7 196px,#fdf3f0 228px,#fdf6f3 316px,#fbe9e3 436px,#fbede7 478px)"></div>
<div style="left:71.3px;top:-0.5px;width:6px;height:478px;background:linear-gradient(178.5deg,#fbece6 0px,#fae5dd 48px,#f9dbd0 68px,#f6c7b5 97px,#f5c2af 113px,#f6c5b3 130px,#f8cdbe 150px,#fbede7 196px,#fdf3f0 228px,#fdf6f3 316px,#fbe9e3 436px,#fbede7 478px)"></div>
<div style="left:77.3px;top:-0.5px;width:6px;height:478px;background:linear-gradient(178.5deg,#fbece6 0px,#fae5dd 48px,#f9dbd0 68px,#f6c7b5 97px,#f5c3af 113px,#f6c5b3 130px,#f8cebe 150px,#fbede8 196px,#fdf3f0 228px,#fdf6f3 316px,#fbe9e3 436px,#fbede8 478px)"></div>
<div style="left:83.3px;top:-0.5px;width:6px;height:478px;background:linear-gradient(178.5deg,#fbece6 0px,#fae5dd 48px,#f9dbd0 68px,#f6c7b5 97px,#f5c3af 113px,#f6c5b3 130px,#f8cdbe 149px,#fbede8 196px,#fdf3f0 227px,#fdf6f3 316px,#fbe9e3 436px,#fbede8 478px)"></div>
<div style="left:89.3px;top:-0.5px;width:6px;height:478px;background:linear-gradient(178.5deg,#fbece6 0px,#fae5dd 48px,#f6c7b5 97px,#f6c3b0 112px,#f6c5b3 128px,#f7cdbd 147px,#fbede8 196px,#fdf3f0 227px,#fdf6f3 316px,#fbeae3 436px,#fbede8 478px)"></div>
<div style="left:95.3px;top:-0.5px;width:6px;height:478px;background:linear-gradient(178.5deg,#fbece6 0px,#fae5dd 48px,#f6c7b6 96px,#f6c3b0 112px,#f6c5b3 128px,#f7cdbd 147px,#fbede8 196px,#fdf3f0 227px,#fdf6f3 316px,#fbeae4 436px,#fbede8 478px)"></div>
<div style="left:101.3px;top:-0.5px;width:6px;height:478px;background:linear-gradient(178.5deg,#fbece6 0px,#fae5de 47px,#f9dbd1 67px,#f6c7b6 96px,#f6c3b0 112px,#f7cdbd 146px,#fbede8 196px,#fdf3f0 226px,#fdf5f3 316px,#fbeae4 436px,#fbede8 478px)"></div>
<div style="left:107.3px;top:-0.5px;width:6px;height:478px;background:linear-gradient(178.5deg,#fbece6 0px,#fae5de 47px,#f9dbd1 67px,#f6c7b6 96px,#f6c3b0 111px,#f7ccbc 144px,#fbede8 196px,#fdf3f0 226px,#fdf5f3 316px,#fbeae4 436px,#fbede8 478px)"></div>
<div style="left:113.3px;top:-0.5px;width:6px;height:478px;background:linear-gradient(178.5deg,#fbece6 0px,#fae5de 47px,#f9dbd0 67px,#f6c7b6 96px,#f6c3b0 111px,#f7ccbd 144px,#fbede8 196px,#fdf3f0 226px,#fdf5f2 316px,#fbeae4 436px,#fbede8 478px)"></div>
<div style="left:119.3px;top:-0.5px;width:6px;height:478px;background:linear-gradient(178.4deg,#fbece6 0px,#fae5de 47px,#f6c7b6 96px,#f6c3b0 111px,#f7ccbc 143px,#fbede8 196px,#fdf3f0 225px,#fdf5f2 316px,#fbeae4 436px,#fbede8 478px)"></div>
<div style="left:125.3px;top:-0.5px;width:6px;height:478px;background:linear-gradient(178.4deg,#fbece6 0px,#fae5de 47px,#f6c8b6 95px,#f6c3b0 111px,#f7cdbd 143px,#fceee9 196px,#fdf3f0 225px,#fdf5f2 316px,#fbeae4 436px,#fbede8 478px)"></div>
<div style="left:131.3px;top:-0.5px;width:6px;height:478px;background:linear-gradient(178.4deg,#fbece7 0px,#fae5de 47px,#f6c8b6 95px,#f6c3b1 110px,#f7ccbc 141px,#fceee9 196px,#fdf3f0 224px,#fdf5f2 316px,#fbeae4 436px,#fceee9 478px)"></div>
<div style="left:137.3px;top:-0.5px;width:6px;height:478px;background:linear-gradient(178.4deg,#fbece7 0px,#fae5de 47px,#f6c8b6 95px,#f6c4b1 110px,#f7ccbc 141px,#fceee9 196px,#fdf3f0 224px,#fdf5f2 316px,#fbeae5 436px,#fceee9 478px)"></div>
<div style="left:143.3px;top:-0.5px;width:6px;height:478px;background:linear-gradient(178.4deg,#fbece7 0px,#fae6de 46px,#f9dcd2 65px,#f6c8b6 95px,#f6c4b1 110px,#f7ccbc 140px,#fceee9 196px,#fdf3f0 224px,#fdf5f2 316px,#fbeae5 436px,#fceee9 478px)"></div>
<div style="left:149.3px;top:-0.5px;width:6px;height:478px;background:linear-gradient(178.3deg,#fbece7 0px,#fae5de 46px,#f9dcd2 65px,#f7c8b7 94px,#f6c4b1 109px,#f7ccbc 139px,#fceee9 196px,#fdf3f0 223px,#fdf5f2 316px,#fbebe5 436px,#fceee9 478px)"></div>
<div style="left:155.3px;top:-0.5px;width:6px;height:478px;background:linear-gradient(178.3deg,#fbece7 0px,#fae5de 46px,#f7c8b7 94px,#f6c4b1 109px,#f7ccbb 138px,#fceee9 196px,#fdf3f0 223px,#fdf5f2 316px,#fbebe5 436px,#fceee9 478px)"></div>
<div style="left:161.3px;top:-0.5px;width:6px;height:478px;background:linear-gradient(178.3deg,#fbece7 0px,#fae5de 46px,#f7c8b7 94px,#f6c4b1 109px,#f7ccbc 138px,#fceee9 196px,#fdf3f0 223px,#fdf5f2 316px,#fbebe5 436px,#fceee9 478px)"></div>
<div style="left:167.3px;top:-0.5px;width:6px;height:478px;background:linear-gradient(178.3deg,#fbece7 0px,#fae5de 46px,#f7c8b7 93px,#f6c4b1 108px,#f7ccbc 137px,#fceee9 196px,#fdf3f0 222px,#fdf5f2 316px,#fbebe5 436px,#fceee9 478px)"></div>
<div style="left:173.3px;top:-0.5px;width:6px;height:478px;background:linear-gradient(178.2deg,#fbece7 0px,#fae5de 46px,#f7c8b7 93px,#f6c4b2 108px,#f7ccbb 136px,#fceeea 196px,#fdf3f0 222px,#fdf5f2 316px,#fbebe5 436px,#fceee9 478px)"></div>
<div style="left:179.3px;top:-0.5px;width:6px;height:478px;background:linear-gradient(178.2deg,#fbece7 0px,#fae6df 45px,#f9ddd3 63px,#f7c8b7 93px,#f6c4b2 108px,#f7ccbc 136px,#fceeea 196px,#fdf3f0 221px,#fdf5f1 316px,#fbebe5 436px,#fceee9 478px)"></div>
<div style="left:185.3px;top:-0.5px;width:6px;height:478px;background:linear-gradient(178.2deg,#fbece7 0px,#fae6df 45px,#f7c8b7 93px,#f6c4b2 107px,#f7ccbc 135px,#fcefea 196px,#fdf3f0 221px,#fdf4f1 316px,#fbebe6 436px,#fceeea 478px)"></div>
<div style="left:191.3px;top:-0.5px;width:6px;height:478px;background:linear-gradient(178.1deg,#fbece7 0px,#fae6df 45px,#f7c9b8 92px,#f6c5b2 107px,#f7ccbb 134px,#fcefea 196px,#fdf3f0 221px,#fdf4f1 316px,#fbebe6 436px,#fceeea 478px)"></div>
<div style="left:197.3px;top:-0.5px;width:6px;height:478px;background:linear-gradient(178.1deg,#fbece7 0px,#fae6df 45px,#f7c9b8 92px,#f6c5b2 107px,#f7ccbc 134px,#fcefea 196px,#fdf3f0 220px,#fdf4f1 316px,#fbebe6 436px,#fceeea 478px)"></div>
<div style="left:203.3px;top:-0.5px;width:6px;height:478px;background:linear-gradient(178.1deg,#fbece7 0px,#fae6df 45px,#f7c9b8 92px,#f6c5b2 106px,#f7ccbc 133px,#fcefea 196px,#fdf3f0 220px,#fdf4f1 316px,#fbece6 436px,#fcefea 478px)"></div>
<div style="left:209.3px;top:-0.5px;width:6px;height:478px;background:linear-gradient(178.0deg,#fbece7 0px,#fae6df 45px,#f7c9b8 91px,#f6c5b2 106px,#f7cbbb 132px,#fcefea 196px,#fdf3ef 219px,#fdf4f1 316px,#fbece6 436px,#fcefea 478px)"></div>
<div style="left:215.3px;top:-0.5px;width:6px;height:478px;background:linear-gradient(178.0deg,#fbece7 0px,#fae6df 45px,#f7c9b8 91px,#f6c5b3 106px,#f7cbbb 131px,#fcefea 196px,#fdf3f0 219px,#fdf4f1 316px,#fbece6 436px,#fcefea 478px)"></div>
<div style="left:221.3px;top:-0.5px;width:6px;height:478px;background:linear-gradient(178.0deg,#fbece7 0px,#fae6df 45px,#f7c9b8 91px,#f6c5b3 105px,#f7cbbb 130px,#fcefeb 196px,#fdf3f0 219px,#fdf4f1 316px,#fbece6 436px,#fcefea 478px)"></div>
<div style="left:227.3px;top:-0.5px;width:6px;height:478px;background:linear-gradient(177.9deg,#fbece7 0px,#fae6df 44px,#f7c9b8 91px,#f6c5b3 105px,#f7cbbb 130px,#fcefea 195px,#fdf3ef 218px,#fdf4f1 316px,#fbece7 436px,#fcefea 478px)"></div>
<div style="left:233.3px;top:-0.5px;width:6px;height:478px;background:linear-gradient(177.9deg,#fbece7 0px,#fae6df 44px,#f7c9b8 90px,#f6c5b3 105px,#f7cbbb 129px,#fceeea 194px,#fdf3f0 218px,#fdf4f1 316px,#fbece7 436px,#fcefea 478px)"></div>
<div style="left:239.3px;top:-0.5px;width:6px;height:478px;background:linear-gradient(177.8deg,#fbece7 0px,#fae6df 44px,#f7c9b8 90px,#f6c5b3 104px,#f7ccbb 129px,#fceee9 193px,#fdf3ef 217px,#fdf4f0 316px,#fbece7 436px,#fcefeb 478px)"></div>
<div style="left:245.3px;top:-0.5px;width:6px;height:478px;background:linear-gradient(177.8deg,#fbece7 0px,#fae6df 44px,#f7c9b8 90px,#f6c5b3 104px,#f7cbbb 128px,#fceee9 192px,#fdf3ef 217px,#fdf4f0 316px,#fbece7 436px,#fcefeb 478px)"></div>
<div style="left:251.3px;top:-0.5px;width:6px;height:478px;background:linear-gradient(177.7deg,#fbece7 0px,#fae6df 44px,#f7cab9 89px,#f6c6b3 104px,#f7ccbc 128px,#fceee9 191px,#fdf3ef 216px,#fdf4f0 316px,#fbece7 436px,#fcefeb 478px)"></div>
<div style="left:257.3px;top:-0.5px;width:6px;height:478px;background:linear-gradient(177.7deg,#fbece7 0px,#fae6df 44px,#f7cab9 89px,#f6c6b3 103px,#f7ccbb 127px,#fceee9 191px,#fdf3ef 216px,#fdf4f0 316px,#fbede7 436px,#fcefeb 478px)"></div>
<div style="left:263.3px;top:-0.5px;width:6px;height:478px;background:linear-gradient(177.6deg,#fbece7 0px,#fae6df 43px,#f7c9b8 89px,#f6c6b3 103px,#f7cbbb 126px,#fbede8 189px,#fdf3ef 215px,#fdf3f0 316px,#fbede7 436px,#fcefeb 478px)"></div>
<div style="left:269.3px;top:-0.5px;width:6px;height:478px;background:linear-gradient(177.6deg,#fbece7 0px,#fae6df 43px,#f7cab9 88px,#f6c6b3 102px,#f7cbbb 125px,#fbede8 189px,#fdf3ef 215px,#fdf3f0 316px,#fbede8 436px,#fcf0eb 478px)"></div>
<div style="left:275.3px;top:-0.5px;width:6px;height:478px;background:linear-gradient(177.5deg,#fbece7 0px,#fae6df 43px,#f7c9b9 88px,#f6c5b3 102px,#f7cbbb 125px,#fbede8 188px,#fdf3ef 214px,#fdf5f1 273px,#fbede8 436px,#fcf0eb 478px)"></div>
<div style="left:281.3px;top:-0.5px;width:6px;height:478px;background:linear-gradient(177.5deg,#fbece7 0px,#fae6df 43px,#f7cab9 87px,#f6c5b3 102px,#f7cbbb 124px,#fbece7 187px,#fdf3ef 214px,#fdf5f2 266px,#fbede8 436px,#fcf0eb 478px)"></div>
<div style="left:287.3px;top:-0.5px;width:6px;height:478px;background:linear-gradient(177.4deg,#fbece7 0px,#fae6df 42px,#f7c9b9 87px,#f6c5b3 101px,#f7cbbb 124px,#fbece7 186px,#fdf3ef 213px,#fdf5f2 259px,#fbede8 436px,#fcf0eb 478px)"></div>
<div style="left:293.3px;top:-0.5px;width:6px;height:478px;background:linear-gradient(177.4deg,#fbece7 0px,#fae6df 42px,#f7c9b8 87px,#f6c5b3 101px,#f7cbba 123px,#fbece6 185px,#fdf3ef 213px,#fdf5f2 255px,#fbede8 436px,#fcf0eb 478px)"></div>
<div style="left:299.3px;top:-0.5px;width:6px;height:478px;background:linear-gradient(177.3deg,#fbece7 0px,#fae6df 42px,#f7c9b9 86px,#f6c5b3 100px,#f7caba 122px,#fbece6 184px,#fdf3ef 212px,#fdf5f2 253px,#fbede8 436px,#fcf0ec 478px)"></div>
<div style="left:305.3px;top:-0.5px;width:6px;height:478px;background:linear-gradient(177.2deg,#fbece7 0px,#fae6df 41px,#f7c9b8 86px,#f6c5b3 100px,#f7cbba 122px,#fbebe6 183px,#fdf3ef 212px,#fdf5f2 253px,#fbede8 436px,#fcf0ec 478px)"></div>
<div style="left:311.3px;top:-0.5px;width:6px;height:478px;background:linear-gradient(177.2deg,#fbece7 0px,#fae6df 41px,#f7c9b9 85px,#f6c5b3 100px,#f7caba 121px,#fbebe5 182px,#fdf3ef 211px,#fdf5f2 251px,#fbede8 436px,#fcf0ec 478px)"></div>
<div style="left:317.3px;top:-0.5px;width:6px;height:478px;background:linear-gradient(177.1deg,#fbece7 0px,#fae6df 41px,#f7c9b8 85px,#f6c5b3 99px,#f7cab9 120px,#fbebe6 182px,#fdf3ef 211px,#fdf5f2 248px,#fceee9 436px,#fcf0ec 478px)"></div>
<div style="left:323.3px;top:-0.5px;width:6px;height:478px;background:linear-gradient(177.1deg,#fbece7 0px,#fae6df 40px,#f7c9b8 85px,#f6c5b3 99px,#f7caba 120px,#fbebe5 180px,#fdf3ef 210px,#fdf5f2 246px,#fceee9 436px,#fcf0ec 478px)"></div>
<div style="left:329.3px;top:-0.5px;width:6px;height:478px;background:linear-gradient(177.0deg,#fbece7 0px,#fae6df 40px,#f7c9b8 84px,#f6c5b2 98px,#f7cab9 119px,#fbebe5 180px,#fcf2ef 209px,#fdf5f2 246px,#fcefeb 356px,#fcf0ec 477px)"></div>
<div style="left:335.3px;top:-0.5px;width:6px;height:478px;background:linear-gradient(176.9deg,#fbece7 0px,#fae6df 40px,#f7c9b8 84px,#f6c5b2 98px,#f7caba 119px,#fbeae5 179px,#fdf3ef 209px,#fdf5f2 246px,#fceee9 436px,#fcf0ec 477px)"></div>
<div style="left:341.3px;top:-0.5px;width:6px;height:478px;background:linear-gradient(176.9deg,#fbece7 0px,#fae6df 39px,#f7c9b8 83px,#f6c5b2 97px,#f7cab9 118px,#fbeae4 178px,#fcf2ef 208px,#fdf5f2 246px,#fcefea 356px,#fcf1ec 477px)"></div>
<div style="left:347.3px;top:-0.5px;width:6px;height:478px;background:linear-gradient(176.8deg,#fbece7 0px,#fae6df 39px,#f7c9b8 83px,#f6c5b2 97px,#f7cab9 117px,#fbeae4 177px,#fcf2ef 208px,#fdf5f2 246px,#fcefea 356px,#fcf1ec 477px)"></div>
<div style="left:353.3px;top:-0.5px;width:6px;height:478px;background:linear-gradient(176.7deg,#fbece7 0px,#fae6de 39px,#f7c9b8 82px,#f6c5b2 96px,#f7cab9 117px,#fbeae4 176px,#fcf2ef 207px,#fdf5f2 246px,#fcefea 356px,#fcf1ed 477px)"></div>
<div style="left:359.3px;top:-0.5px;width:6px;height:478px;background:linear-gradient(176.6deg,#fbede7 0px,#fae6df 38px,#f7c9b7 82px,#f6c5b2 96px,#f7cab9 116px,#fbeae4 175px,#fcf2ef 206px,#fdf5f2 246px,#fcefea 356px,#fcf1ed 477px)"></div>
<div style="left:365.3px;top:-0.5px;width:6px;height:478px;background:linear-gradient(176.6deg,#fbede7 0px,#fae6df 38px,#f7c9b8 81px,#f6c4b2 95px,#f7c9b8 115px,#fbe9e3 174px,#fcf2ef 206px,#fdf5f2 246px,#fcefea 356px,#fcf1ed 477px)"></div>
<div style="left:371.3px;top:-0.5px;width:6px;height:478px;background:linear-gradient(176.5deg,#fbede7 0px,#fae6df 37px,#f7c9b7 81px,#f6c4b2 95px,#f7c9b9 115px,#fbe9e3 173px,#fcf2ef 205px,#fdf5f2 246px,#fcefea 356px,#fcf1ed 477px)"></div>
<div style="left:377.3px;top:-0.5px;width:6px;height:478px;background:linear-gradient(176.4deg,#fbece7 0px,#fae6df 37px,#f7c9b8 80px,#f6c4b2 94px,#f7c9b8 114px,#fbe9e3 172px,#fcf2ef 205px,#fdf5f2 246px,#fcefea 355px,#fcf1ed 477px)"></div>
<div style="left:383.3px;top:-0.5px;width:6px;height:478px;background:linear-gradient(176.3deg,#fbece7 0px,#fae6de 37px,#f7c8b7 80px,#f6c4b2 94px,#f7c9b9 114px,#fbe9e2 171px,#fcf2ee 204px,#fdf5f2 246px,#fcefea 355px,#fcf1ed 477px)"></div>
<div style="left:389.3px;top:-0.5px;width:6px;height:478px;background:linear-gradient(176.3deg,#fbece7 0px,#fae6df 36px,#f7c9b7 79px,#f6c4b2 93px,#f7c9b8 113px,#fbe9e2 170px,#fcf2ee 203px,#fdf5f2 246px,#fcefea 355px,#fcf1ed 477px)"></div>
<div style="left:395.3px;top:-0.5px;width:6px;height:478px;background:linear-gradient(176.2deg,#fbece7 0px,#fae6de 36px,#f7c8b7 79px,#f6c4b1 93px,#f7c9b8 112px,#fae8e2 169px,#fcf2ee 203px,#fdf5f2 246px,#fcefea 355px,#fcf1ed 477px)"></div>
<div style="left:401.3px;top:-0.5px;width:6px;height:478px;background:linear-gradient(176.1deg,#fbece7 0px,#fae6df 35px,#f7c8b7 78px,#f6c4b1 92px,#f7c9b8 111px,#fbe9e2 169px,#fcf2ee 202px,#fdf5f2 246px,#fceeea 355px,#fcf1ed 477px)"></div>
<div style="left:407.3px;top:-0.5px;width:6px;height:478px;background:linear-gradient(176.0deg,#fbece7 0px,#fae6de 35px,#f7c8b7 78px,#f6c4b1 92px,#f7c9b8 111px,#fae8e2 167px,#fcf2ee 201px,#fdf5f2 246px,#fceeea 355px,#fcf1ee 477px)"></div>
<div style="left:413.3px;top:-0.5px;width:6px;height:478px;background:linear-gradient(175.9deg,#fbece7 0px,#fae5de 35px,#f7c8b7 77px,#f6c4b1 91px,#f7c9b8 110px,#fae7e0 164px,#fcf2ee 200px,#fdf5f2 246px,#fceeea 355px,#fcf2ee 477px)"></div>
<div style="left:419.3px;top:-0.5px;width:6px;height:478px;background:linear-gradient(175.8deg,#fbece7 0px,#fae6de 34px,#f6c8b6 77px,#f6c4b1 91px,#f7c9b8 110px,#fae7e0 163px,#fcf2ee 200px,#fdf5f2 246px,#fceeea 355px,#fcf2ee 477px)"></div>
<div style="left:425.3px;top:-0.5px;width:6px;height:478px;background:linear-gradient(175.7deg,#fbece7 0px,#fae5de 34px,#f7c8b7 76px,#f6c4b1 90px,#f7c9b8 109px,#fae7e1 163px,#fcf2ee 199px,#fdf5f2 246px,#fceeea 355px,#fcf2ee 477px)"></div>
<div style="left:431.3px;top:-0.5px;width:6px;height:478px;background:linear-gradient(175.7deg,#fbece7 0px,#fae5de 33px,#f7c8b7 75px,#f6c4b1 90px,#f7c9b8 109px,#fae7e0 161px,#fcf2ee 198px,#fdf5f2 246px,#fceee9 355px,#fcf2ee 477px)"></div>
<div style="left:437.3px;top:-0.5px;width:6px;height:478px;background:linear-gradient(175.6deg,#fbece7 0px,#fae5de 33px,#f6c8b6 75px,#f6c3b1 89px,#f7c9b8 108px,#fae7e0 161px,#fcf2ee 198px,#fdf5f2 245px,#fceee9 355px,#fcf2ee 477px)"></div>
<div style="left:443.3px;top:-0.5px;width:6px;height:478px;background:linear-gradient(175.5deg,#fbece7 0px,#fae5de 33px,#f7c8b7 74px,#f6c3b1 88px,#f7c8b7 107px,#fae7e0 160px,#fcf2ee 197px,#fdf5f2 245px,#fceee9 355px,#fcf2ee 477px)"></div>
<div style="left:449.3px;top:-0.5px;width:6px;height:478px;background:linear-gradient(175.4deg,#fbece7 0px,#fae5de 32px,#f6c8b6 74px,#f6c3b0 88px,#f7c9b8 107px,#fae6e0 158px,#fcf2ee 196px,#fdf5f2 245px,#fceee9 355px,#fcf2ee 477px)"></div>
<div style="left:455.3px;top:-0.5px;width:6px;height:478px;background:linear-gradient(175.3deg,#fbece7 0px,#fae5dd 32px,#f6c8b6 73px,#f6c3b0 87px,#f7c8b7 106px,#fae7e0 158px,#fcf2ee 196px,#fdf5f2 245px,#fceee9 355px,#fcf2ee 477px)"></div>
<div style="left:461.3px;top:-0.5px;width:6px;height:478px;background:linear-gradient(175.2deg,#fbece7 0px,#fae5de 31px,#f6c8b6 72px,#f6c3b0 87px,#f7c8b7 105px,#fae6df 155px,#fcf2ee 196px,#fdf5f2 245px,#fceee9 355px,#fcf2ef 477px)"></div>
<div style="left:467.3px;top:-0.5px;width:6px;height:478px;background:linear-gradient(175.1deg,#fbece7 0px,#fae5dd 31px,#f6c7b6 72px,#f6c3b0 86px,#f7c8b7 105px,#fae6df 154px,#fcf2ee 196px,#fdf5f2 245px,#fceee9 355px,#fcf2ef 477px)"></div>
<div style="left:473.3px;top:-0.5px;width:6px;height:478px;background:linear-gradient(175.0deg,#fbece7 0px,#fae5de 30px,#f6c8b6 71px,#f6c3b0 85px,#f7c8b7 104px,#fae6df 154px,#fcf2ee 196px,#fdf5f2 245px,#fceee9 355px,#fcf2ef 476px)"></div>
<div style="left:479.3px;top:-0.5px;width:6px;height:478px;background:linear-gradient(174.9deg,#fbece7 0px,#fae5dd 30px,#f6c8b6 70px,#f6c3b0 85px,#f7c8b7 103px,#fae6df 153px,#fcf2ee 195px,#fdf5f2 245px,#fceee9 355px,#fdf3ef 476px)"></div>
<div style="left:485.3px;top:-0.5px;width:6px;height:478px;background:linear-gradient(174.8deg,#fbece7 0px,#fae5dd 29px,#f6c7b6 70px,#f6c3b0 84px,#f6c8b6 102px,#fae6df 152px,#fcf2ee 195px,#fdf5f2 245px,#fceee9 355px,#fdf3ef 476px)"></div>
<div style="left:491.3px;top:-0.5px;width:6px;height:478px;background:linear-gradient(174.7deg,#fbece7 0px,#fae4dd 29px,#f6c7b6 69px,#f6c3b0 83px,#f7c8b7 102px,#fae6df 151px,#fcf2ee 194px,#fdf5f2 245px,#fceee9 355px,#fdf3ef 476px)"></div>
<div style="left:497.3px;top:-0.5px;width:6px;height:478px;background:linear-gradient(174.6deg,#fbece7 0px,#fae5dd 28px,#f6c7b6 68px,#f6c3b0 83px,#f7c8b7 101px,#fae6df 150px,#fcf2ee 192px,#fdf5f2 245px,#fceee9 355px,#fdf3ef 476px)"></div>
<div style="left:503.3px;top:-0.5px;width:6px;height:478px;background:linear-gradient(174.5deg,#fbece7 0px,#fae4dd 28px,#f6c7b5 68px,#f5c3af 82px,#f6c8b6 100px,#fae6df 149px,#fcf1ed 190px,#fdf5f2 245px,#fceee9 355px,#fdf3ef 476px)"></div>
<div style="left:509.3px;top:-0.5px;width:6px;height:478px;background:linear-gradient(174.4deg,#fbece6 0px,#fae4dc 28px,#f6c7b5 67px,#f5c2af 81px,#f6c8b6 99px,#fae6df 148px,#fcf1ed 188px,#fdf5f2 245px,#fceee9 355px,#fdf3ef 476px)"></div>
<div style="left:515.3px;top:-0.5px;width:6px;height:478px;background:linear-gradient(174.3deg,#fbece6 0px,#fae4dc 27px,#f6c7b5 66px,#f5c2af 81px,#f6c8b6 99px,#fae6df 147px,#fcf1ed 187px,#fdf5f2 245px,#fceee9 355px,#fdf3f0 476px)"></div>
<div style="left:521.3px;top:-0.5px;width:6px;height:478px;background:linear-gradient(174.1deg,#fbece6 0px,#fae4dd 26px,#f6c7b6 65px,#f5c2af 80px,#f6c8b6 98px,#fae6df 146px,#fcf1ed 185px,#fdf5f2 245px,#fbede8 354px,#fdf3f0 476px)"></div>
<div style="left:-0.7px;top:323.5px;width:5px;height:154px;background:linear-gradient(177.7deg,#fdf6f301 0.1px,#fcf2ee25 16.1px,#fceeea6e 21.1px,#fae8e2f1 25.1px,#fae0d7ff 28.1px,#f8cebfff 32.1px,#ec9478ff 39.1px,#dc8a70ff 41.1px,#b15942ff 45.1px,#9c4630ff 47.1px,#87341dff 50.1px,#7f2c15ff 53.1px,#802e16ff 55.1px,#8d3923ff 58.1px,#c16952ff 64px,#db896fff 68px,#f0967aff 75px,#f5c0acff 96px,#f9d5c8ff 110px,#f9ddd3fb 119px,#fae2da9a 126px,#fae6df52 134px,#fbebe50d 154px)"></div>
<div style="left:4.3px;top:323.5px;width:5px;height:154px;background:linear-gradient(177.4deg,#fdf6f301 0.1px,#fcf2ee27 16.1px,#fceee971 21.1px,#fae8e1f7 25.1px,#fae0d6ff 28.1px,#f8cdbeff 32.1px,#f09a7eff 38.1px,#da886eff 41.1px,#af5740ff 45.1px,#9b452fff 47.1px,#86331cff 50.1px,#7f2c15ff 53.1px,#84311aff 56.1px,#8e3a24ff 58.1px,#c36b53ff 64px,#dc8a70ff 68px,#f0967aff 75px,#f5c1adff 96px,#f9d5c8ff 110px,#f9ddd3ff 118px,#fae3db8a 127px,#fae7e043 136px,#fbebe60c 154px)"></div>
<div style="left:9.3px;top:323.5px;width:5px;height:154px;background:linear-gradient(177.1deg,#fdf6f301 0.1px,#fcf2ee28 16.1px,#fceee975 21.1px,#fae7e1ff 25.1px,#fae2daff 27.1px,#f7ccbcff 32.1px,#f0987cff 38.1px,#d8856cff 41.1px,#ad553eff 45.1px,#99432dff 47.1px,#86321cff 50.1px,#7f2c15ff 53.1px,#85311bff 56.1px,#903b25ff 58.1px,#c56d55ff 64px,#dd8b70ff 68px,#f0977bff 75px,#f5c0acff 95px,#f9d5c8ff 109px,#f9ddd3fd 118px,#fae2da9b 125px,#fae6df52 133px,#fbebe60b 153.9px)"></div>
<div style="left:14.3px;top:322.5px;width:5px;height:155px;background:linear-gradient(176.8deg,#fdf6f301 0.1px,#fcf2ee2a 17.1px,#fceee97a 22.1px,#fae7e0ff 26.1px,#fae2d9ff 28.1px,#f7cbbaff 33.1px,#f0967aff 39.1px,#e08c72ff 41.1px,#aa523cff 46.1px,#903b25ff 49.1px,#85321bff 51.1px,#7f2c15ff 54.1px,#86321cff 57.1px,#923d27ff 59px,#c76f57ff 65px,#d9866dff 68px,#ef967aff 75px,#f5c1adff 96px,#f9d5c9ff 110px,#f9ddd3ff 118px,#fae4dc80 127.9px,#fae8e13d 136.9px,#fbebe60b 154.9px)"></div>
<div style="left:19.3px;top:322.5px;width:5px;height:155px;background:linear-gradient(176.5deg,#fdf6f301 0.2px,#fdf4f10b 11.1px,#fcf2ee2d 17.1px,#fcefea69 21.1px,#fae6dfff 26.1px,#fae1d8ff 28.1px,#f8d0c1ff 32.1px,#f4baa5ff 35.1px,#ee9579ff 39.1px,#de8b71ff 41.1px,#a8503aff 46.1px,#96402aff 48.1px,#84311aff 51.1px,#7f2c15ff 54.1px,#87331dff 57px,#943e28ff 59px,#c97159ff 65px,#db886eff 68px,#f0967aff 75px,#f5c0acff 95px,#f9d5c8ff 109px,#f9ddd3fe 117.9px,#fae4dc85 126.9px,#fae8e13a 136.9px,#fbece60a 154.9px)"></div>
<div style="left:24.3px;top:322.5px;width:5px;height:155px;background:linear-gradient(176.2deg,#fdf6f301 0.2px,#fcf2ee26 16.1px,#fceee96e 21.1px,#fae8e2f1 25.1px,#fae0d7ff 28.1px,#f8cebfff 32.1px,#ec9378ff 39.1px,#db896fff 41.1px,#b05841ff 45.1px,#9c4630ff 47.1px,#87331dff 50.1px,#7f2c15ff 53px,#84311aff 56px,#8e3a24ff 58px,#c36b53ff 64px,#dc8a70ff 68px,#f0977cff 75px,#f5c1adff 95px,#f9d6c9ff 108.9px,#f9ddd3ff 116.9px,#fae4dc80 126.9px,#fae8e13c 135.9px,#fbece609 154.8px)"></div>
<div style="left:29.3px;top:321.5px;width:5px;height:156px;background:linear-gradient(175.9deg,#fdf6f301 0.2px,#fcf2ee29 17.1px,#fceee975 22.1px,#fae7e1fe 26.1px,#fae2daff 28.1px,#f7ccbdff 33.1px,#f0987cff 39.1px,#d8866cff 42.1px,#ad553eff 46.1px,#99432dff 48.1px,#86321cff 51px,#7f2c15ff 54px,#85321bff 57px,#913c26ff 59px,#c66e56ff 65px,#d9866cff 68px,#f0967aff 75px,#f5c0acff 94.9px,#f9d5c9ff 108.9px,#faded4fd 117.9px,#fae4dc84 126.9px,#fae8e139 136.8px,#fbece609 155.8px)"></div>
<div style="left:34.3px;top:321.5px;width:5px;height:156px;background:linear-gradient(175.6deg,#fdf6f301 0.2px,#fcf2ee2b 17.1px,#fceee97d 22.1px,#fae7e0ff 26.1px,#fae1d9ff 28.1px,#f7cabaff 33.1px,#ef957aff 39.1px,#df8c71ff 41.1px,#a9513bff 46.1px,#97412bff 48.1px,#85311bff 51px,#7f2c15ff 54px,#87331dff 57px,#933e28ff 59px,#c87159ff 65px,#db886eff 68px,#f0977bff 75px,#f5bfabff 93.9px,#f9d6c9ff 108.9px,#f9ddd3ff 116.9px,#fae4dc88 125.8px,#fae8e13b 135.8px,#fbece608 155.7px)"></div>
<div style="left:39.3px;top:321.5px;width:5px;height:156px;background:linear-gradient(175.4deg,#fdf5f301 0.2px,#fcf2ee26 16.1px,#fceee96d 21.1px,#fae8e2ed 25.1px,#fae0d7ff 28.1px,#f8cfc0ff 32.1px,#ec9478ff 39.1px,#dc8a70ff 41.1px,#b15942ff 45.1px,#9c4630ff 47px,#87341dff 50px,#7f2d15ff 53px,#84311aff 56px,#8e3a24ff 58px,#c36b53ff 64px,#dd8a70ff 68px,#ef967aff 74px,#f5c0acff 93.9px,#f9d7caff 108.8px,#faded4fa 116.8px,#fae3db8c 124.8px,#fae8e13d 134.8px,#fbece607 155.7px)"></div>
<div style="left:44.3px;top:320.5px;width:5px;height:157px;background:linear-gradient(175.1deg,#fdf6f301 0.2px,#fcf2ee29 17.2px,#fceee975 22.1px,#fae7e1fe 26.1px,#fae2daff 28.1px,#f7ccbdff 33.1px,#f0987cff 39.1px,#d8856cff 42.1px,#ad553eff 46px,#99432dff 48px,#86321cff 51px,#7f2d15ff 54px,#86321cff 57px,#913c26ff 59px,#c66f57ff 65px,#d9876dff 68px,#f0977bff 74.9px,#f5bfabff 93.9px,#f9d7caff 108.8px,#f9ddd3ff 116.8px,#fae4dc85 125.7px,#fae8e139 135.7px,#fbece707 156.6px)"></div>
<div style="left:49.3px;top:320.5px;width:5px;height:157px;background:linear-gradient(174.8deg,#fdf5f301 0.2px,#fdf4f00b 11.2px,#fcf2ee2d 17.2px,#fbede87f 22.1px,#fae7e0ff 26.1px,#fae1d8ff 28.1px,#f9d6c9ff 31.1px,#f7cab9ff 33.1px,#ee9579ff 39.1px,#de8b71ff 41.1px,#a8503aff 46px,#96402aff 48px,#84311aff 51px,#7f2d15ff 54px,#87341dff 57px,#943f29ff 59px,#c9725aff 65px,#dc8a70ff 67.9px,#ef967aff 73.9px,#f5c1adff 93.8px,#f9d7cbff 108.8px,#f9ddd3ff 115.7px,#fae4dc7e 125.7px,#fae8e13b 134.7px,#fbece706 156.6px)"></div>
<div style="left:54.3px;top:319.5px;width:5px;height:158px;background:linear-gradient(174.5deg,#fdf6f301 0.2px,#fcf2ee27 17.2px,#fceee971 22.1px,#fae8e1f4 26.1px,#fae0d7ff 29.1px,#f8cebeff 33.1px,#f09a7fff 39.1px,#db886eff 42px,#af5740ff 46px,#9b452fff 48px,#87331dff 51px,#7f2d15ff 54px,#85321bff 57px,#903b25ff 59px,#c56d55ff 64.9px,#d9866cff 67.9px,#f0977bff 74.9px,#f5c0acff 93.8px,#f9d8ccff 109.7px,#faded4fb 116.7px,#fae4dc81 125.7px,#fae8e237 135.6px,#fbece706 157.5px)"></div>
<div style="left:59.3px;top:319.5px;width:5px;height:158px;background:linear-gradient(174.3deg,#fdf5f301 0.2px,#fcf2ee2b 17.2px,#fceee97b 22.1px,#fae7e0ff 26.1px,#fae2d9ff 28.1px,#f7cbbbff 33.1px,#f0967aff 39.1px,#e08c72ff 41px,#aa523cff 46px,#903b25ff 49px,#85321bff 51px,#7f2d15ff 54px,#87331dff 57px,#943e28ff 59px,#c97159ff 64.9px,#db896fff 67.9px,#f0967aff 73.9px,#f5c0abff 92.8px,#f9d8ccff 108.7px,#faded4ff 115.7px,#fae4dc84 124.6px,#fae8e239 134.6px,#fbece705 157.5px)"></div>
<div style="left:64.3px;top:318.5px;width:5px;height:159px;background:linear-gradient(174.0deg,#fdf6f301 0.3px,#fcf2ee27 17.2px,#fceee96e 22.1px,#fae8e2ef 26.1px,#fae0d7ff 29.1px,#f8cfc0ff 33.1px,#ec9478ff 40px,#dc8a70ff 42px,#b05842ff 46px,#9c4630ff 48px,#87331dff 51px,#802d16ff 54px,#85311bff 56.9px,#903b25ff 58.9px,#c56d55ff 64.9px,#de8b71ff 68.9px,#f0977bff 74.9px,#f5c1adff 93.7px,#f9d9cdff 109.7px,#faded4ff 115.6px,#fae4dc87 124.6px,#fae8e23a 134.5px,#fbece705 158.4px)"></div>
<div style="left:69.3px;top:318.5px;width:5px;height:159px;background:linear-gradient(173.7deg,#fdf5f301 0.3px,#fcf2ee2b 17.2px,#fceee979 22.1px,#fae7e0ff 26.1px,#fae2d9ff 28.1px,#f7ccbbff 33.1px,#f0967aff 39px,#d7836aff 42px,#ab533dff 46px,#98422cff 48px,#85321bff 51px,#802d16ff 54px,#87331dff 56.9px,#943e28ff 58.9px,#c97159ff 64.9px,#dc896fff 67.9px,#f0967aff 73.8px,#f5c0adff 92.7px,#f9d9cdff 108.6px,#faded4f9 115.6px,#fae4dd7f 124.5px,#fae8e236 134.5px,#fbece704 158.3px)"></div>
<div style="left:74.3px;top:317.5px;width:5px;height:160px;background:linear-gradient(173.5deg,#fdf6f301 0.3px,#fcf2ee27 17.2px,#fceee96e 22.1px,#fae8e2ee 26.1px,#fae0d7ff 29.1px,#f8cfc0ff 33.1px,#ec9478ff 40px,#dc8a70ff 42px,#b05842ff 46px,#9c4630ff 48px,#87341dff 51px,#802d16ff 53.9px,#85321bff 56.9px,#903b25ff 58.9px,#c56d55ff 64.9px,#d9866cff 67.8px,#f0987cff 74.8px,#f5c0acff 92.7px,#f9d9ceff 109.6px,#faded4fd 115.5px,#fae4dc81 124.5px,#fae8e237 134.4px,#fbede704 159.3px)"></div>
<div style="left:79.3px;top:317.5px;width:5px;height:160px;background:linear-gradient(173.2deg,#fdf5f301 0.3px,#fcf2ee2b 17.2px,#fceee97a 22.1px,#fae7e0ff 26.1px,#fae2d9ff 28.1px,#f7ccbbff 33.1px,#f0967aff 39px,#d7836aff 42px,#aa523cff 46px,#903b25ff 49px,#85321bff 50.9px,#802d16ff 53.9px,#87341dff 56.9px,#943f29ff 58.9px,#c9725aff 64.8px,#dc8a70ff 67.8px,#f0977bff 73.8px,#f5c0acff 91.7px,#f9d9ceff 108.5px,#faded5ff 114.5px,#fae4dc83 123.4px,#fae8e237 133.4px,#fbede703 159.2px)"></div>
<div style="left:84.3px;top:316.5px;width:5px;height:161px;background:linear-gradient(173.0deg,#fdf6f301 0.3px,#fcf2ee27 17.2px,#fceee970 22.1px,#fae8e2f0 26.1px,#fae0d7ff 29.1px,#f8cfbfff 33.1px,#ec9478ff 40px,#db896fff 42px,#b05841ff 46px,#9c452fff 47.9px,#87331dff 50.9px,#802d16ff 53.9px,#86321cff 56.9px,#913c26ff 58.9px,#c66e56ff 64.8px,#da876dff 67.8px,#f0967aff 73.8px,#f5c1aeff 92.6px,#f9dacfff 109.5px,#faded5ff 114.4px,#fae4dd7b 124.4px,#fae8e233 134.3px,#fbede803 160.1px)"></div>
<div style="left:89.3px;top:315.5px;width:5px;height:162px;background:linear-gradient(172.8deg,#fdf6f301 0.3px,#fdf4f00c 12.2px,#fcf2ee2d 18.2px,#fceee97d 23.1px,#fae7e0ff 27.1px,#fae2d9ff 29.1px,#f7cbbbff 34px,#ef967aff 40px,#df8c72ff 42px,#a9513bff 46.9px,#8f3a24ff 49.9px,#85311bff 51.9px,#802d16ff 54.9px,#88341eff 57.9px,#96402aff 59.8px,#c36b53ff 64.8px,#dd8b71ff 68.8px,#f0987cff 74.7px,#f5c1adff 92.6px,#f9dacfff 109.4px,#faded5ff 114.4px,#fae4dd7c 124.3px,#fae8e234 134.2px,#fbede803 161px)"></div>
<div style="left:94.3px;top:315.5px;width:5px;height:162px;background:linear-gradient(172.5deg,#fdf6f301 0.3px,#fcf2ee29 17.2px,#fceee973 22.1px,#fae8e1f7 26.1px,#fae3dbff 28.1px,#f8cebeff 33px,#f09a7eff 39px,#da876dff 42px,#ae563fff 45.9px,#9a442eff 47.9px,#86331cff 50.9px,#802d16ff 53.9px,#86331cff 56.8px,#923d27ff 58.8px,#c87058ff 64.8px,#db896fff 67.7px,#f0977bff 73.7px,#f5c1adff 91.5px,#f9dacfff 108.4px,#fadfd6f8 114.3px,#fae4dd7d 123.3px,#fae8e234 133.2px,#fbede802 161px)"></div>
<div style="left:99.3px;top:314.5px;width:5px;height:163px;background:linear-gradient(172.3deg,#fdf5f301 0.3px,#fcf2ee26 17.2px,#fceeea6b 22.1px,#fae6e0ff 27.1px,#fae1d8ff 29.1px,#f9d6c9ff 32px,#f7cab9ff 34px,#ee9579ff 40px,#dd8b71ff 42px,#a74f39ff 46.9px,#95402aff 48.9px,#88341eff 50.9px,#802d16ff 53.8px,#85321bff 56.8px,#903b25ff 58.8px,#c56d55ff 64.7px,#d9866dff 67.7px,#f0967aff 73.7px,#f5c0acff 91.5px,#f9d3c6ff 102.4px,#f9dbd0ff 109.3px,#fadfd6fb 114.3px,#fae4dd7e 123.2px,#fae8e234 133.1px,#fbede802 161.9px)"></div>
<div style="left:104.3px;top:314.5px;width:5px;height:163px;background:linear-gradient(172.1deg,#fdf5f301 0.3px,#fcf2ee2c 17.2px,#fceee979 22.1px,#fae7e1ff 26.1px,#fae2daff 28.1px,#f7ccbcff 33px,#f0977bff 39px,#d7846bff 41.9px,#ab533dff 45.9px,#98422cff 47.9px,#86321cff 50.9px,#802d16ff 53.8px,#88341eff 56.8px,#953f29ff 58.8px,#c26a52ff 63.7px,#dd8b70ff 67.7px,#f0987dff 73.6px,#f7c9b9ff 95.4px,#f9dcd2ff 109.3px,#fadfd6fd 113.3px,#fae4dd7f 122.2px,#fbe9e230 133.1px,#fbede802 161.8px)"></div>
<div style="left:109.3px;top:313.5px;width:5px;height:164px;background:linear-gradient(171.9deg,#fdf5f201 0.4px,#fcf2ee29 17.2px,#fceee971 22.1px,#fae8e2f2 26.1px,#fae0d7ff 29.1px,#f8cfbfff 33px,#ec9378ff 40px,#db896fff 41.9px,#af5741ff 45.9px,#9b452fff 47.9px,#87331dff 50.8px,#802d16ff 53.8px,#86331cff 56.8px,#923d27ff 58.8px,#c87058ff 64.7px,#db896fff 67.7px,#f0977cff 73.6px,#f2ab93ff 80.5px,#f7c9b9ff 95.4px,#f9dcd2ff 109.2px,#fadfd6fe 113.2px,#fae4dd80 122.1px,#fbe9e230 133px,#fbede801 162.7px)"></div>
<div style="left:114.3px;top:312.5px;width:5px;height:165px;background:linear-gradient(171.6deg,#fdf5f201 0.4px,#fcf2ee26 17.2px,#fcefea6a 22.1px,#fae7e0ff 27.1px,#fae1d9ff 29.1px,#f9d6caff 32px,#f7cabaff 34px,#ee9579ff 39.9px,#de8b71ff 41.9px,#a8503aff 46.9px,#96402aff 48.8px,#88351eff 50.8px,#802e16ff 53.8px,#85321bff 56.8px,#903b25ff 58.7px,#c56d56ff 64.7px,#da876dff 67.6px,#f0977bff 73.6px,#f2aa92ff 80.5px,#f7c9b8ff 95.3px,#f9dcd2ff 109.2px,#fadfd6ff 113.2px,#fae4dd80 122.1px,#fbe9e230 132.9px,#fbede801 163.6px)"></div>
<div style="left:119.3px;top:311.5px;width:5px;height:166px;background:linear-gradient(171.4deg,#fdf5f201 0.4px,#fdf4f109 11.2px,#fcf2ee2c 18.2px,#fceee97a 23.1px,#fae7e1ff 27.1px,#fae2daff 29px,#f7ccbdff 34px,#f0977cff 39.9px,#d8846bff 42.9px,#ab533dff 46.8px,#98422cff 48.8px,#86321cff 51.8px,#802e16ff 54.8px,#88341eff 57.7px,#96402aff 59.7px,#c36b53ff 64.6px,#de8b71ff 68.6px,#f0967aff 73.5px,#f2aa92ff 80.5px,#f7c9b8ff 95.3px,#f9dcd2ff 109.1px,#fae0d6ff 113.1px,#fae4dd81 122px,#fbe9e230 132.9px,#fbede801 164.5px)"></div>
<div style="left:124.3px;top:311.5px;width:5px;height:166px;background:linear-gradient(171.2deg,#fdf5f201 0.4px,#fcf2ee2a 17.2px,#fceee973 22.1px,#fae8e2f5 26.1px,#fae0d7ff 29px,#f8cebfff 33px,#f09b80ff 38.9px,#db886eff 41.9px,#af5740ff 45.8px,#9b452fff 47.8px,#87331dff 50.8px,#802e16ff 53.7px,#87331dff 56.7px,#933e28ff 58.7px,#c97259ff 64.6px,#dc8a70ff 67.6px,#ef967aff 72.5px,#f2aa92ff 79.4px,#f7c9b8ff 94.3px,#f9dcd2ff 108.1px,#fae0d6ff 112.1px,#fae5de77 121.9px,#fbe9e32b 132.8px,#fbede801 164.4px)"></div>
<div style="left:129.3px;top:310.5px;width:5px;height:167px;background:linear-gradient(171.0deg,#fdf5f201 0.4px,#fcf2ee27 17.2px,#fcefea6d 22.1px,#fae6e0ff 27.1px,#fae1d8ff 29px,#f9d6c9ff 32px,#f7cab9ff 34px,#ee9579ff 39.9px,#dd8b71ff 41.9px,#b25a43ff 45.8px,#9d4731ff 47.8px,#88341eff 50.8px,#812e17ff 53.7px,#86331cff 56.7px,#923d27ff 58.7px,#c76f57ff 64.6px,#db896fff 67.6px,#f0987cff 73.5px,#f2aa92ff 79.4px,#f7cbbbff 95.2px,#f9ddd3ff 109px,#fae0d7ff 112px,#fae5de76 121.9px,#fbe9e32b 132.7px,#fbede801 165.3px)"></div>
<div style="left:134.3px;top:309.5px;width:5px;height:167px;background:linear-gradient(170.8deg,#fdf5f201 0.4px,#fdf4f10a 11.3px,#fcf2ee2e 18.2px,#fceee97e 23.1px,#fae7e0ff 27.1px,#fae2d9ff 29px,#f7ccbbff 34px,#f0967aff 39.9px,#df8c72ff 41.9px,#a9513bff 46.8px,#97412bff 48.8px,#89351fff 50.7px,#812e17ff 53.7px,#85321bff 56.7px,#903b25ff 58.6px,#c56d55ff 64.6px,#da876dff 67.5px,#f0977cff 73.5px,#f2a991ff 79.4px,#f7cbbbff 95.2px,#faded4ff 109px,#fae0d7ff 112px,#fae5de80 120.8px,#fbe9e32f 131.7px,#fbebe60c 144.5px,#fbede801 165.3px)"></div>
<div style="left:139.3px;top:308.5px;width:5px;height:166px;background:linear-gradient(170.6deg,#fdf5f201 0.4px,#fdf4f10a 11.3px,#fcf2ee2c 18.2px,#fceee979 23.1px,#fae8e1ff 27px,#fae3daff 29px,#f8cdbeff 34px,#f0987dff 39.9px,#d8856cff 42.8px,#ac543eff 46.8px,#99432dff 48.8px,#86331cff 51.7px,#812e17ff 54.7px,#88351eff 57.6px,#96402aff 59.6px,#c36b54ff 64.5px,#d9866cff 67.5px,#f0977bff 73.4px,#f2a991ff 79.3px,#f7c9b8ff 94.1px,#faded4ff 108.9px,#fae0d7ff 111.9px,#fae5de80 120.8px,#fbe9e32f 131.6px,#fbede801 164.2px)"></div>
<div style="left:144.3px;top:307.5px;width:5px;height:166px;background:linear-gradient(170.4deg,#fdf5f201 0.4px,#fcf2ee2a 18.2px,#fceee974 23.1px,#fae8e2f5 27px,#fae3dbff 29px,#f8cfc0ff 33.9px,#f09b80ff 39.9px,#db886fff 42.8px,#af5740ff 46.8px,#9b452fff 48.7px,#87331dff 51.7px,#812e17ff 54.7px,#88341eff 57.6px,#943f29ff 59.6px,#ca735bff 65.5px,#dd8b71ff 68.5px,#f0967aff 73.4px,#f2a991ff 79.3px,#f7c9b9ff 94.1px,#faded4ff 108.9px,#fae0d7ff 111.8px,#fae5de7f 120.7px,#fbe9e32e 131.6px,#fbede801 164.1px)"></div>
<div style="left:149.3px;top:307.5px;width:5px;height:165px;background:linear-gradient(170.2deg,#fdf5f201 0.4px,#fcf2ee29 17.2px,#fcefea70 22.1px,#fae6e0ff 27px,#fae1d8ff 29px,#f8d0c1ff 32.9px,#f4baa5ff 35.9px,#ed9479ff 39.8px,#dd8a70ff 41.8px,#b15942ff 45.8px,#9d4630ff 47.7px,#88341eff 50.7px,#812e17ff 53.6px,#87331dff 56.6px,#933e28ff 58.6px,#c97159ff 64.5px,#dc8a70ff 67.4px,#f0967aff 72.4px,#f2a991ff 78.3px,#f7cab9ff 93.1px,#faded4ff 107.8px,#fae0d7ff 110.8px,#fae6de7e 119.7px,#fbe9e32e 130.5px,#fbede801 163px)"></div>
<div style="left:154.3px;top:306.5px;width:5px;height:165px;background:linear-gradient(170.1deg,#fdf5f201 0.4px,#fcf2ef27 17.2px,#fcefea6c 22.1px,#fae7e0ff 27px,#fae2d9ff 29px,#f7cbbaff 33.9px,#ef9579ff 39.8px,#de8b71ff 41.8px,#a8503aff 46.7px,#96402aff 48.7px,#89351fff 50.7px,#812e17ff 53.6px,#86331cff 56.6px,#923d27ff 58.5px,#c77058ff 64.5px,#dc8a70ff 67.4px,#f0967aff 72.3px,#f2ac94ff 79.2px,#f7cab9ff 93px,#faded4ff 107.8px,#fae1d8ff 110.8px,#fae6df7d 119.6px,#fbe9e32d 130.5px,#fbede801 163px)"></div>
<div style="left:159.3px;top:305.5px;width:5px;height:165px;background:linear-gradient(169.9deg,#fdf5f201 0.4px,#fdf4f10a 11.3px,#fcf2ee2f 18.2px,#fceee97f 23.1px,#fae7e1ff 27px,#fae2daff 29px,#f7ccbcff 33.9px,#f0977bff 39.8px,#d7836aff 42.8px,#aa523cff 46.7px,#97412bff 48.7px,#89351fff 50.6px,#812e17ff 53.6px,#86321cff 56.6px,#913c26ff 58.5px,#c66e56ff 64.4px,#db896fff 67.4px,#ef967aff 72.3px,#f3ae97ff 80.2px,#f9d4c7ff 98.9px,#fae1d8fd 110.7px,#fae6df72 120.5px,#fbe9e324 132.4px,#fbede801 162.9px)"></div>
<div style="left:164.3px;top:304.5px;width:5px;height:164px;background:linear-gradient(169.7deg,#fdf5f201 0.4px,#fdf4f10a 11.3px,#fcf2ee2e 18.2px,#fceee97b 23.1px,#fae8e1ff 27px,#fae3dbff 29px,#f8cdbeff 33.9px,#f0987dff 39.8px,#d8856cff 42.8px,#ac543dff 46.7px,#99432dff 48.7px,#86331cff 51.6px,#812e17ff 54.6px,#89351fff 57.5px,#97422cff 59.5px,#c56d55ff 64.4px,#da886eff 67.4px,#ef957aff 72.3px,#f3ae97ff 80.1px,#f9d5c8ff 98.8px,#fae1d8fb 110.6px,#fae7e071 120.5px,#fbe9e328 131.3px,#fbede801 161.8px)"></div>
<div style="left:169.3px;top:303.5px;width:5px;height:164px;background:linear-gradient(169.5deg,#fdf5f201 0.5px,#fdf4f10a 11.3px,#fcf2ee2d 18.2px,#fceee978 23.1px,#fae8e2fc 27px,#fae3dbff 29px,#f8cebfff 33.9px,#f09a7fff 39.8px,#da876dff 42.7px,#ad553fff 46.7px,#9a442eff 48.6px,#87331dff 51.6px,#812e17ff 54.5px,#89351fff 57.5px,#96412bff 59.5px,#c46c54ff 64.4px,#d9876dff 67.3px,#ef9579ff 72.2px,#f3ae97ff 80.1px,#f9d5c8ff 98.8px,#fae1d9f9 110.6px,#fae7e06f 120.4px,#fbe9e327 131.2px,#fbede801 161.7px)"></div>
<div style="left:174.3px;top:302.5px;width:5px;height:164px;background:linear-gradient(169.4deg,#fdf5f201 0.5px,#fcf2ee2c 18.2px,#fceeea76 23.1px,#fae8e2f6 27px,#fae4dcff 29px,#f8cfc0ff 33.9px,#ec9478ff 40.8px,#db896fff 42.7px,#af5740ff 46.7px,#9b452fff 48.6px,#87331dff 51.6px,#812e17ff 54.5px,#88351eff 57.5px,#96402aff 59.4px,#c36b53ff 64.3px,#d9866cff 67.3px,#ef9579ff 72.2px,#f3ae97ff 80.1px,#f9d5c8ff 98.7px,#fae1d8ff 109.6px,#fae7e06e 120.4px,#fbe9e326 131.2px,#fbede801 161.7px)"></div>
<div style="left:179.3px;top:301.5px;width:5px;height:163px;background:linear-gradient(169.2deg,#fdf5f201 0.5px,#fcf2ef2b 18.1px,#fcefea73 23.1px,#fbe9e2f2 27px,#fae1d8ff 29.9px,#f8d0c1ff 33.9px,#f4baa5ff 36.8px,#ed9478ff 40.7px,#dc8a70ff 42.7px,#b05842ff 46.6px,#9c4630ff 48.6px,#88341eff 51.6px,#812e17ff 54.5px,#88341eff 57.4px,#95402aff 59.4px,#d8856cff 67.3px,#ef9579ff 72.2px,#f3ae97ff 80px,#f9d5c9ff 98.7px,#fae1d8ff 109.5px,#fae7e06c 120.3px,#fbeae325 131.1px,#fbede801 160.6px)"></div>
<div style="left:184.3px;top:300.5px;width:5px;height:163px;background:linear-gradient(169.1deg,#fdf5f201 0.5px,#fcf2ef2a 18.1px,#fcefea71 23.1px,#fbe9e3ee 27px,#fae1d9ff 29.9px,#f9d6caff 32.9px,#f7cab9ff 34.8px,#ee9579ff 40.7px,#dd8b71ff 42.7px,#b15943ff 46.6px,#9d4630ff 48.6px,#88341eff 51.5px,#812e17ff 54.5px,#88341eff 57.4px,#943f29ff 59.4px,#ca735bff 65.3px,#de8b71ff 68.2px,#ee9579ff 72.1px,#f3af98ff 80px,#f9d6c9ff 98.7px,#fae1d9ff 109.5px,#fae7e074 119.3px,#fbeae428 130.1px,#fbede801 160.5px)"></div>
<div style="left:189.3px;top:299.5px;width:5px;height:163px;background:linear-gradient(168.9deg,#fdf5f201 0.5px,#fcf2ef2a 18.1px,#fcefea70 23.1px,#fae7e0ff 28px,#fae2d9ff 29.9px,#f9d7caff 32.9px,#f7cbbaff 34.8px,#ef9579ff 40.7px,#de8b71ff 42.7px,#a74f39ff 47.6px,#95402aff 49.5px,#89351fff 51.5px,#822f18ff 54.5px,#88341eff 57.4px,#943f29ff 59.4px,#ca735aff 65.2px,#de8b71ff 68.2px,#ee9579ff 72.1px,#f3af98ff 80px,#f9d5c7ff 97.6px,#fae2d9ff 109.4px,#fae7e172 119.2px,#fbeae427 130px,#fbede801 160.4px)"></div>
<div style="left:194.3px;top:298.5px;width:5px;height:162px;background:linear-gradient(168.8deg,#fdf5f201 0.5px,#fcf2ef29 18.1px,#fcefea6f 23px,#fae7e0ff 28px,#fae2d9ff 29.9px,#f7cbbbff 34.8px,#ef967aff 40.7px,#df8c71ff 42.7px,#a8503aff 47.6px,#96402aff 49.5px,#89351fff 51.5px,#822f18ff 54.4px,#8d3822ff 58.4px,#a44d37ff 61.3px,#d7846bff 67.2px,#ee9579ff 72.1px,#f3af98ff 79.9px,#f9d5c8ff 97.6px,#fae2d9fd 109.4px,#fae7e16f 119.2px,#fbeae426 130px,#fbede801 159.4px)"></div>
<div style="left:199.3px;top:297.5px;width:5px;height:162px;background:linear-gradient(168.6deg,#fdf5f101 0.5px,#fcf2ef29 18.1px,#fcefea6e 23px,#fae7e1ff 27.9px,#fae2daff 29.9px,#f7ccbcff 34.8px,#f0967aff 40.7px,#df8c72ff 42.6px,#a9513bff 47.6px,#97412bff 49.5px,#89351fff 51.5px,#822f18ff 54.4px,#8c3822ff 58.3px,#a44c36ff 61.3px,#c9725aff 65.2px,#dd8b71ff 68.1px,#ee9579ff 72.1px,#f3af98ff 79.9px,#f9d5c8ff 97.5px,#fae2daf9 109.3px,#fae8e16d 119.1px,#fbeae425 129.9px,#fbede801 159.3px)"></div>
<div style="left:204.3px;top:296.5px;width:5px;height:162px;background:linear-gradient(168.5deg,#fdf5f101 0.5px,#fcf2ef29 18.1px,#fcefea6d 23px,#fae7e1ff 27.9px,#fae2daff 29.9px,#f7ccbcff 34.8px,#f0967aff 40.7px,#d68369ff 43.6px,#a9513bff 47.5px,#97412bff 49.5px,#89361fff 51.5px,#822f18ff 54.4px,#8c3822ff 58.3px,#a44c36ff 61.3px,#c9725aff 65.2px,#dd8b71ff 68.1px,#ef9579ff 72px,#f3b099ff 79.9px,#f9d6c9ff 97.5px,#fae2d9ff 108.3px,#fae7e175 118.1px,#fbeae428 128.9px,#fbede801 159.2px)"></div>
<div style="left:209.3px;top:295.5px;width:5px;height:161px;background:linear-gradient(168.4deg,#fdf5f101 0.5px,#fcf2ef29 18.1px,#fcefea6d 23px,#fae7e1ff 27.9px,#fae2daff 29.9px,#f7ccbdff 34.8px,#f0977bff 40.7px,#d7836aff 43.6px,#aa523cff 47.5px,#97422cff 49.5px,#8a3620ff 51.4px,#822f18ff 54.4px,#8c3822ff 58.3px,#a44c36ff 61.2px,#c9725aff 65.1px,#dd8b71ff 68.1px,#ef9579ff 72px,#f3b099ff 79.8px,#f9d6c9ff 97.5px,#fae2d9ff 108.2px,#fae8e172 118px,#fbeae527 128.8px,#fbede801 158.2px)"></div>
<div style="left:214.3px;top:294.5px;width:5px;height:161px;background:linear-gradient(168.2deg,#fdf4f101 0.5px,#fcf2ef29 18.1px,#fcefeb6d 23px,#fae8e1ff 27.9px,#fae2daff 29.9px,#f7cdbdff 34.8px,#f0977bff 40.6px,#d7836aff 43.6px,#aa523cff 47.5px,#98422cff 49.5px,#8a3620ff 51.4px,#822f18ff 54.4px,#8c3822ff 58.3px,#a44c36ff 61.2px,#c9725aff 65.1px,#de8b71ff 68.1px,#ef9579ff 72px,#f3b09aff 79.8px,#f9d5c8ff 96.4px,#fae2daff 108.2px,#fae8e16f 118px,#fbebe526 128.8px,#fbede801 158.1px)"></div>
<div style="left:219.3px;top:293.5px;width:5px;height:160px;background:linear-gradient(168.1deg,#fdf4f101 0.5px,#fcf2ef29 18.1px,#fcefeb6d 23px,#fae8e1ff 27.9px,#fae3daff 29.9px,#f7cdbdff 34.8px,#f0977cff 40.6px,#d7846aff 43.6px,#aa523cff 47.5px,#98422cff 49.4px,#8a3620ff 51.4px,#822f18ff 54.3px,#8d3822ff 58.2px,#a44c36ff 61.2px,#d8846bff 67.1px,#ef957aff 71.9px,#f3b19aff 79.8px,#f9d5c8ff 96.4px,#fae2dafb 108.2px,#fae8e26d 117.9px,#fbebe524 128.7px,#fbede801 157.1px)"></div>
<div style="left:224.3px;top:292.5px;width:5px;height:160px;background:linear-gradient(168.0deg,#fdf4f101 0.5px,#fcf2ef2a 18.1px,#fcefeb6e 23px,#fae8e1ff 27.9px,#fae3daff 29.9px,#f7cdbdff 34.8px,#f0977cff 40.6px,#d7846aff 43.6px,#aa523cff 47.5px,#98422cff 49.4px,#8a3620ff 51.4px,#822f18ff 54.3px,#8d3923ff 58.2px,#a44d37ff 61.2px,#d8856bff 67px,#ef967aff 71.9px,#f3b19bff 79.7px,#f9d6c9ff 96.4px,#fae2d9ff 107.1px,#fae8e274 116.9px,#fbebe527 127.7px,#fbede801 157px)"></div>
<div style="left:229.3px;top:291.5px;width:5px;height:159px;background:linear-gradient(167.9deg,#fdf4f101 0.5px,#fcf2ee2a 18.1px,#fcefeb6e 23px,#fae8e1ff 27.9px,#fae3daff 29.9px,#f7cdbdff 34.7px,#f0977cff 40.6px,#d7846aff 43.5px,#aa523cff 47.5px,#98422cff 49.4px,#8a3620ff 51.4px,#832f19ff 54.3px,#8d3923ff 58.2px,#a44d37ff 61.1px,#d8856bff 67px,#f0967aff 71.9px,#f3b29bff 79.7px,#f9d6c9ff 96.3px,#fae2daff 107.1px,#fae8e271 116.9px,#fbebe526 127.6px,#fbede801 156px)"></div>
<div style="left:234.3px;top:290.5px;width:5px;height:159px;background:linear-gradient(167.7deg,#fdf4f101 0.5px,#fcf2ee2b 18.1px,#fcefea6f 23px,#fae8e1ff 27.9px,#fae3daff 29.8px,#f7cdbdff 34.7px,#f0977bff 40.6px,#d7836aff 43.5px,#aa523cff 47.4px,#98422cff 49.4px,#8a3620ff 51.3px,#833019ff 54.3px,#8e3923ff 58.2px,#a54d37ff 61.1px,#d8856cff 67px,#f0967aff 71.9px,#f3b099ff 78.7px,#f9d5c8ff 95.3px,#fae3dafe 107px,#fae8e26d 116.8px,#fbebe624 127.6px,#fbede801 155.9px)"></div>
<div style="left:239.3px;top:289.5px;width:5px;height:158px;background:linear-gradient(167.6deg,#fdf4f101 0.5px,#fcf2ee2b 18.1px,#fcefea70 23px,#fae8e1ff 27.9px,#fae2daff 29.8px,#f7cdbdff 34.7px,#f0977bff 40.6px,#d7836aff 43.5px,#aa523cff 47.4px,#97422cff 49.4px,#8a3620ff 51.3px,#833019ff 54.3px,#89351fff 57.2px,#95402aff 59.1px,#d9866cff 67px,#f0967aff 71.8px,#f3b099ff 78.7px,#f9d5c9ff 95.3px,#fae3dbf9 107px,#fae8e274 115.8px,#fbebe627 126.5px,#fbede801 154.9px)"></div>
<div style="left:244.3px;top:288.5px;width:5px;height:158px;background:linear-gradient(167.5deg,#fdf4f101 0.5px,#fcf2ee2c 18.1px,#fcefea71 23px,#fae7e1ff 27.9px,#fae2daff 29.8px,#f7ccbcff 34.7px,#f0967bff 40.6px,#d68369ff 43.5px,#a9513bff 47.4px,#97412bff 49.4px,#8a3620ff 51.3px,#833019ff 54.2px,#89351fff 57.2px,#96402aff 59.1px,#d9876dff 66.9px,#f0977bff 71.8px,#f3b19aff 78.7px,#f9d6c9ff 95.3px,#fae2daff 106px,#fbe9e271 115.8px,#fbebe625 126.5px,#fbede801 154.8px)"></div>
<div style="left:249.3px;top:287.5px;width:5px;height:158px;background:linear-gradient(167.4deg,#fdf4f101 0.5px,#fcf2ee2c 18.1px,#fcefea73 23px,#fae7e1ff 27.9px,#fae2daff 29.8px,#f7ccbcff 34.7px,#f0967aff 40.6px,#df8c72ff 42.5px,#a9513bff 47.4px,#97412bff 49.3px,#8a3620ff 51.3px,#833019ff 54.2px,#8f3b25ff 58.1px,#a74f39ff 61.1px,#da876eff 66.9px,#ed9479ff 70.8px,#f3b19aff 78.6px,#f9d5c8ff 94.2px,#fae3dbff 106px,#fbe9e36d 115.7px,#fbece624 126.5px,#fbede801 154.8px)"></div>
<div style="left:254.3px;top:286.5px;width:5px;height:157px;background:linear-gradient(167.3deg,#fdf4f101 0.5px,#fcf2ee2d 18.1px,#fcefea75 23px,#fbe9e3ee 26.9px,#fae2daff 29.8px,#f7ccbcff 34.7px,#f0967aff 40.6px,#df8c71ff 42.5px,#a8503aff 47.4px,#96412bff 49.3px,#89361fff 51.3px,#833019ff 54.2px,#903b25ff 58.1px,#a8503aff 61px,#c56d55ff 64px,#db886eff 66.9px,#ee9579ff 70.8px,#f3b29bff 78.6px,#f9d5c9ff 94.2px,#fae3dbfa 105.9px,#fbe9e274 114.7px,#fbece626 125.4px,#fbede801 153.7px)"></div>
<div style="left:259.3px;top:284.5px;width:5px;height:158px;background:linear-gradient(167.2deg,#fdf4f101 0.6px,#fcf2ee26 18.1px,#fceeea77 24px,#fbe9e3f2 27.9px,#fae2d9ff 30.8px,#f7cbbbff 35.7px,#ef957aff 41.5px,#de8b71ff 43.5px,#9e4832ff 49.3px,#89351fff 52.2px,#833019ff 55.2px,#8a3620ff 58.1px,#98422cff 60px,#c66e56ff 64.9px,#db896fff 67.8px,#ee9579ff 71.8px,#f3b29cff 79.6px,#f9d6c9ff 95.2px,#fae3daff 105.9px,#fbe9e370 115.6px,#fbece625 126.4px,#fbede801 154.7px)"></div>
<div style="left:264.3px;top:284.5px;width:5px;height:156px;background:linear-gradient(167.2deg,#fdf4f101 0.6px,#fcf2ee2d 18.1px,#fcefea75 23px,#fbe9e3ee 26.9px,#fae2daff 29.8px,#f7ccbcff 34.7px,#f0967aff 40.5px,#df8c71ff 42.5px,#a8503aff 47.4px,#96412bff 49.3px,#8a3620ff 51.3px,#84301aff 54.2px,#8b3721ff 57.1px,#98422cff 59.1px,#c66e56ff 63.9px,#dc8a70ff 66.9px,#ee9579ff 70.8px,#f3b39dff 78.6px,#f9d5c8ff 93.2px,#fae3dbff 104.9px,#fbe9e277 113.7px,#fbece627 124.4px,#fbede801 152.7px)"></div>
<div style="left:269.3px;top:283.5px;width:5px;height:155px;background:linear-gradient(167.1deg,#fdf4f101 0.6px,#fcf2ee2d 18.1px,#fcefea73 23px,#fae7e1ff 27.8px,#fae2daff 29.8px,#f7ccbcff 34.7px,#f3b59fff 37.6px,#f0967aff 40.5px,#df8c72ff 42.5px,#a9513bff 47.3px,#97412bff 49.3px,#8a3620ff 51.2px,#84311aff 54.2px,#8b3721ff 57.1px,#99432dff 59px,#c66e56ff 63.9px,#dc8a70ff 66.8px,#ef9579ff 70.7px,#f3b39dff 78.5px,#f9d5c9ff 93.2px,#fae3dbf9 104.8px,#fbe9e372 113.6px,#fbece725 124.3px,#fbede801 151.6px)"></div>
<div style="left:274.3px;top:282.5px;width:5px;height:155px;background:linear-gradient(167.0deg,#fdf4f101 0.6px,#fcf2ee2c 18.1px,#fcefea72 23px,#fae7e1ff 27.8px,#fae2daff 29.8px,#f7cdbdff 34.7px,#f4b59fff 37.6px,#f0977bff 40.5px,#d68369ff 43.4px,#a9513bff 47.3px,#97422cff 49.3px,#8b3620ff 51.2px,#84311aff 54.2px,#8c3822ff 57.1px,#99432dff 59px,#dc8a70ff 66.8px,#ef957aff 70.7px,#f3b49eff 78.5px,#f9d6c9ff 93.1px,#fae3dbff 103.8px,#fbe9e36e 113.6px,#fbece727 123.3px,#fbede801 151.6px)"></div>
<div style="left:279.3px;top:281.5px;width:5px;height:154px;background:linear-gradient(166.9deg,#fdf4f101 0.6px,#fcf2ee2b 18.1px,#fcefea70 23px,#fae7e1ff 27.8px,#fae3daff 29.8px,#f7cdbdff 34.7px,#f4b6a0ff 37.6px,#f0977bff 40.5px,#d7836aff 43.4px,#aa523cff 47.3px,#98422cff 49.3px,#8b3721ff 51.2px,#85321bff 54.1px,#88341eff 56.1px,#9a442eff 59px,#dd8a70ff 66.8px,#ef967aff 70.7px,#f3b29bff 77.5px,#f9d5c8ff 92.1px,#fae3dbfe 103.8px,#fbe9e374 112.6px,#fbece725 123.3px,#fbede801 150.6px)"></div>
<div style="left:284.3px;top:280.5px;width:5px;height:153px;background:linear-gradient(166.8deg,#fdf4f101 0.6px,#fcf2ee2b 18.1px,#fcefea6f 23px,#fae7e1ff 27.8px,#fae3daff 29.8px,#f8cdbeff 34.7px,#f4b6a0ff 37.6px,#f0977cff 40.5px,#d7846aff 43.4px,#aa523cff 47.3px,#98422cff 49.3px,#8b3721ff 51.2px,#85321bff 54.1px,#89351fff 56.1px,#9a442eff 59px,#dd8b70ff 66.8px,#f0967aff 70.7px,#f3b29cff 77.5px,#f9d6c9ff 92.1px,#fae3dbff 102.8px,#fbe9e36f 112.6px,#fbece727 122.3px,#fbede801 149.6px)"></div>
<div style="left:289.3px;top:279.5px;width:5px;height:153px;background:linear-gradient(166.8deg,#fdf4f101 0.6px,#fcf2ee2a 18.1px,#fcefea6e 23px,#fae8e1ff 27.8px,#fae3dbff 29.8px,#f8cebeff 34.6px,#f4b6a1ff 37.6px,#f0987cff 40.5px,#d7846aff 43.4px,#aa523cff 47.3px,#98422cff 49.2px,#8c3721ff 51.2px,#86321cff 54.1px,#89351fff 56.1px,#9b452fff 59px,#dd8b71ff 66.8px,#f0967aff 70.7px,#f3b39dff 77.5px,#f9d6c9ff 92.1px,#fae3dbff 102.8px,#fbe9e375 111.5px,#fbece725 122.3px,#fbede801 149.5px)"></div>
<div style="left:294.3px;top:278.5px;width:5px;height:152px;background:linear-gradient(166.7deg,#fdf4f101 0.6px,#fcf2ee2a 18.1px,#fcefea6d 23px,#fae8e1ff 27.8px,#fae3dbff 29.8px,#f8cebeff 34.6px,#f4b7a1ff 37.6px,#f0987cff 40.5px,#d7846bff 43.4px,#a14a34ff 48.3px,#8c3822ff 51.2px,#86331cff 54.1px,#8a3620ff 56px,#9c452fff 59px,#de8b71ff 66.8px,#f0977bff 70.6px,#f3b49dff 77.5px,#f9d5c8ff 91.1px,#fae4dcfa 102.8px,#fbe9e370 111.5px,#fbece727 121.3px,#fbede801 148.5px)"></div>
<div style="left:299.3px;top:277.5px;width:5px;height:151px;background:linear-gradient(166.7deg,#fdf4f101 0.6px,#fcf2ee29 18.1px,#fcefea6c 23px,#fae8e1ff 27.8px,#fae3dbff 29.8px,#f8cebeff 34.6px,#f4b7a1ff 37.6px,#f0987dff 40.5px,#d8846bff 43.4px,#a14a34ff 48.3px,#8c3822ff 51.2px,#86331cff 54.1px,#8a3620ff 56px,#9c4630ff 59px,#de8b71ff 66.7px,#f0987cff 70.6px,#f3b49eff 77.4px,#f9d6c9ff 91.1px,#fae3dbff 101.8px,#fbeae46b 111.5px,#fbede725 121.2px,#fbede801 147.5px)"></div>
<div style="left:304.3px;top:277.5px;width:5px;height:150px;background:linear-gradient(166.6deg,#fdf4f101 0.6px,#fcf2ee29 17.1px,#fcefea6c 22px,#fae8e1ff 26.8px,#fae3dbff 28.8px,#f8cebfff 33.7px,#f4b7a1ff 36.6px,#f0987dff 39.5px,#d8846bff 42.4px,#a14a34ff 47.3px,#8d3822ff 50.2px,#87331dff 53.1px,#8b3721ff 55.1px,#96402aff 57px,#ae563fff 59.9px,#d8856cff 64.8px,#ed9479ff 68.7px,#f4b59fff 76.5px,#f9d6caff 90.1px,#fae4dcfd 100.8px,#fbe9e371 109.5px,#fbede727 119.3px,#fbede801 146.5px)"></div>
<div style="left:309.3px;top:276.5px;width:5px;height:149px;background:linear-gradient(166.5deg,#fdf4f101 0.6px,#fcf2ee29 17.1px,#fcefea6b 22px,#fae8e1ff 26.8px,#fae3dbff 28.8px,#f8cebfff 33.6px,#f4b7a1ff 36.6px,#f0987dff 39.5px,#d8846bff 42.4px,#a14a34ff 47.3px,#8d3822ff 50.2px,#87341dff 53.1px,#97412bff 57px,#af5740ff 59.9px,#d9866cff 64.8px,#ee9579ff 68.7px,#f3b39cff 75.5px,#f9d5c8ff 89.1px,#fae3dbff 99.8px,#fbeae46c 109.5px,#fbede725 119.2px,#fceee901 145.5px)"></div>
<div style="left:314.3px;top:275.5px;width:5px;height:149px;background:linear-gradient(166.5deg,#fdf4f101 0.6px,#fcf2ee28 17.1px,#fcefea6a 22px,#fae8e1ff 26.8px,#fae3dbff 28.8px,#f8cebfff 33.6px,#f4b7a1ff 36.6px,#f0997dff 39.5px,#d8846bff 42.4px,#a14a34ff 47.3px,#8d3923ff 50.2px,#88341eff 53.1px,#913c26ff 56px,#a64f39ff 58.9px,#da876dff 64.8px,#ef9579ff 68.6px,#f3b39dff 75.5px,#f9d6c9ff 89.1px,#fae3dcff 99.8px,#fbeae372 108.5px,#fbede727 118.2px,#fceee901 145.5px)"></div>
<div style="left:319.3px;top:274.5px;width:5px;height:148px;background:linear-gradient(166.5deg,#fdf4f101 0.6px,#fcf2ee28 17.1px,#fcefea6a 22px,#fae8e1ff 26.8px,#fae3dbff 28.8px,#f8cebfff 33.6px,#f4b7a1ff 36.6px,#f0987dff 39.5px,#d8846bff 42.4px,#a14a34ff 47.3px,#8d3923ff 50.2px,#88341eff 52.1px,#8a3620ff 54.1px,#98422cff 57px,#a74f39ff 58.9px,#da886eff 64.7px,#ef957aff 68.6px,#f3b49eff 75.4px,#f9d6caff 89.1px,#fae3dbff 98.8px,#fbeae46c 108.5px,#fbede824 118.2px,#fceee901 144.5px)"></div>
<div style="left:324.3px;top:273.5px;width:5px;height:147px;background:linear-gradient(166.4deg,#fdf4f101 0.6px,#fcf2ee28 17.1px,#fcefea6a 22px,#fae8e1ff 26.8px,#fae3dbff 28.8px,#f8cebfff 33.6px,#f4b7a1ff 36.6px,#f0987dff 39.5px,#d7846bff 42.4px,#a14a34ff 47.2px,#8d3923ff 50.2px,#89351fff 52.1px,#8a3620ff 54px,#99432dff 57px,#a8503aff 58.9px,#db896fff 64.7px,#f0967aff 68.6px,#f4b59fff 75.4px,#f9d5c9ff 88.1px,#fae3dbff 98.8px,#fbeae472 107.5px,#fbede827 117.2px,#fceee901 143.5px)"></div>
<div style="left:329.3px;top:272.5px;width:5px;height:146px;background:linear-gradient(166.4deg,#fdf4f101 0.6px,#fcf2ee28 17.1px,#fcefea6a 22px,#fae8e1ff 26.8px,#fae3dbff 28.8px,#f8cebfff 33.6px,#f4b7a1ff 36.5px,#f0987dff 39.5px,#d7846aff 42.4px,#a14a34ff 47.2px,#8e3923ff 50.2px,#89351fff 52.1px,#8b3721ff 54px,#9a442eff 57px,#a9513bff 58.9px,#dc8a70ff 64.7px,#f0967bff 68.6px,#f4b6a0ff 75.4px,#f9d6c9ff 88.1px,#fae4dcfa 98.7px,#fbeae46d 107.5px,#fbede824 117.2px,#fceee901 142.5px)"></div>
<div style="left:334.3px;top:271.5px;width:5px;height:146px;background:linear-gradient(166.4deg,#fdf4f101 0.6px,#fcf2ee28 17.1px,#fcefea69 22px,#fae8e1ff 26.8px,#fae3dbff 28.8px,#f8cebeff 33.6px,#f4b7a1ff 36.5px,#f0987cff 39.5px,#d7846aff 42.4px,#a14a34ff 47.2px,#8e3923ff 50.1px,#89351fff 52.1px,#8c3721ff 54px,#9b452fff 57px,#aa523cff 58.9px,#dd8a70ff 64.7px,#f0977cff 68.6px,#f4b7a1ff 75.4px,#f9d5c8ff 87.1px,#fae3dbff 97.8px,#fbeae473 106.5px,#fbede826 116.2px,#fceee901 142.5px)"></div>
<div style="left:339.3px;top:270.5px;width:5px;height:145px;background:linear-gradient(166.3deg,#fdf4f101 0.6px,#fcf2ee27 17.1px,#fcefea69 22px,#fae8e1ff 26.8px,#fae3dbff 28.8px,#f8cebeff 33.6px,#f4b6a1ff 36.5px,#f0987cff 39.5px,#d7836aff 42.4px,#a14a34ff 47.2px,#8e3923ff 50.1px,#8a3620ff 52.1px,#8c3822ff 54px,#9c4630ff 56.9px,#dd8b71ff 64.7px,#f0987dff 68.6px,#f4b8a2ff 75.4px,#f9d6c9ff 87.1px,#fae4dcfd 97.8px,#fbeae46d 106.5px,#fbede824 116.2px,#fceee901 141.5px)"></div>
<div style="left:344.3px;top:269.5px;width:5px;height:144px;background:linear-gradient(166.3deg,#fdf4f101 0.6px,#fcf2ee27 17.1px,#fcefea69 22px,#fae8e1ff 26.8px,#fae3dbff 28.8px,#f8cebeff 33.6px,#f4b6a0ff 36.5px,#f0977cff 39.5px,#d68369ff 42.4px,#b55d46ff 45.3px,#a14a34ff 47.2px,#8e3a24ff 50.1px,#8a3620ff 52.1px,#8d3923ff 54px,#9d4630ff 56.9px,#de8b71ff 64.7px,#ee9579ff 67.6px,#f4b9a3ff 75.4px,#f9d6caff 87.1px,#fae3dbff 96.8px,#fbeae473 105.5px,#fbede826 115.2px,#fceee901 140.5px)"></div>
<div style="left:349.3px;top:268.5px;width:5px;height:144px;background:linear-gradient(166.3deg,#fdf4f101 0.6px,#fcf2ee27 17.1px,#fcefea69 22px,#fae8e1ff 26.8px,#fae3dbff 28.8px,#f8cebeff 33.6px,#f4b6a0ff 36.5px,#f0977bff 39.5px,#d68369ff 42.4px,#b55d46ff 45.3px,#a14a34ff 47.2px,#8e3a24ff 50.1px,#8b3721ff 52.1px,#8e3923ff 54px,#9e4731ff 56.9px,#d8856bff 63.7px,#ee9579ff 67.6px,#f4b6a0ff 74.4px,#f9d5c8ff 86.1px,#fae4dcff 96.8px,#fbeae46d 105.5px,#fbede823 115.2px,#fceeea01 140.5px)"></div>
<div style="left:354.3px;top:267.5px;width:5px;height:143px;background:linear-gradient(166.3deg,#fdf4f101 0.6px,#fcf2ee27 17.1px,#fcefea69 22px,#fae8e1ff 26.8px,#fae3dbff 28.8px,#f8cdbeff 33.6px,#f4b6a0ff 36.5px,#f0977bff 39.4px,#e08c72ff 41.4px,#a14a34ff 47.2px,#8f3a24ff 50.1px,#8b3721ff 52.1px,#8f3a24ff 54px,#9f4832ff 56.9px,#d9866dff 63.7px,#ef957aff 67.6px,#f4b7a2ff 74.4px,#f9d6c9ff 86.1px,#fae3dbff 95.8px,#fbeae473 104.5px,#fbede825 114.2px,#fceeea01 139.5px)"></div>
<div style="left:359.3px;top:266.5px;width:5px;height:142px;background:linear-gradient(166.3deg,#fdf4f101 0.6px,#fcf2ee27 17.1px,#fcefea69 22px,#fae8e1ff 26.8px,#fae3dbff 28.8px,#f8cdbeff 33.6px,#f4b6a0ff 36.5px,#f0967bff 39.4px,#df8c72ff 41.4px,#a04933ff 47.2px,#8f3a24ff 50.1px,#8c3721ff 52.1px,#903b25ff 54px,#a04933ff 56.9px,#da876eff 63.7px,#f0967aff 67.6px,#f4b8a3ff 74.4px,#f9d5c8ff 85.1px,#fae3dbff 95.8px,#fbe9e379 103.6px,#fbede828 113.3px,#fceeea01 138.5px)"></div>
<div style="left:364.3px;top:265.5px;width:5px;height:142px;background:linear-gradient(166.2deg,#fdf4f101 0.6px,#fcf2ee27 17.1px,#fcefea69 22px,#fae8e1ff 26.8px,#fae3dbff 28.8px,#f8cdbeff 33.6px,#f4b59fff 36.5px,#f0967aff 39.4px,#df8c72ff 41.4px,#b45c45ff 45.3px,#a04933ff 47.2px,#8f3a24ff 50.1px,#8c3822ff 52.1px,#903c26ff 54px,#a14a34ff 56.9px,#db896fff 63.7px,#f0977bff 67.6px,#f4b9a4ff 74.4px,#f9d6c9ff 85.1px,#fae4dcf8 95.8px,#fbeae473 103.6px,#fbede825 113.3px,#fcefea01 138.5px)"></div>
<div style="left:369.3px;top:264.5px;width:5px;height:141px;background:linear-gradient(166.2deg,#fdf4f101 0.6px,#fcf2ee27 17.1px,#fcefea69 22px,#fae8e1ff 26.8px,#fae3dbff 28.8px,#f7cdbdff 33.6px,#f4b59fff 36.5px,#f0967aff 39.4px,#df8c71ff 41.4px,#b35b45ff 45.3px,#a04933ff 47.2px,#8f3b25ff 50.1px,#8d3822ff 52.1px,#913c26ff 54px,#a24b35ff 56.9px,#dc8a70ff 63.7px,#f0987cff 67.6px,#f4baa5ff 74.4px,#f9d6caff 85.1px,#fae3dbff 94.8px,#fbeae46e 103.6px,#fbede827 112.3px,#fcefea01 137.6px)"></div>
<div style="left:374.3px;top:264.5px;width:5px;height:139px;background:linear-gradient(166.2deg,#fdf4f101 0.6px,#fdf3f00d 11.3px,#fcf1ee30 17.1px,#fceee97f 22px,#fae8e1ff 25.8px,#fae3dbff 27.8px,#f7cdbdff 32.6px,#f3b59fff 35.6px,#f0967aff 38.5px,#de8b71ff 40.4px,#b35b44ff 44.3px,#a04933ff 46.2px,#8f3b25ff 49.2px,#8d3923ff 51.1px,#923d27ff 53px,#a34c36ff 56px,#dd8a70ff 62.8px,#ed9479ff 65.7px,#f4b7a2ff 72.5px,#f9d5c8ff 83.2px,#fae4dcfa 93.8px,#fbeae474 101.6px,#fbede824 111.3px,#fcefea01 135.6px)"></div>
<div style="left:379.3px;top:263.5px;width:5px;height:139px;background:linear-gradient(166.3deg,#fdf4f101 0.6px,#fdf3f00d 11.3px,#fcf2ee30 17.1px,#fceee980 22px,#fae8e1ff 25.8px,#fae3daff 27.8px,#f7cdbdff 32.6px,#f3b59fff 35.6px,#ef967aff 38.5px,#de8b71ff 40.4px,#a8503aff 45.3px,#933e28ff 48.2px,#8e3923ff 50.1px,#903b25ff 52.1px,#9d4731ff 55px,#ac543eff 56.9px,#dd8b71ff 62.8px,#ee9579ff 65.7px,#f4b8a3ff 72.5px,#f9d6c9ff 83.2px,#fae3dbff 92.9px,#fbeae46e 101.6px,#fbede827 110.4px,#fcefea01 135.6px)"></div>
<div style="left:384.3px;top:262.5px;width:5px;height:138px;background:linear-gradient(166.3deg,#fdf4f101 0.6px,#fdf3f00d 11.3px,#fcf2ee30 17.1px,#fceee980 22px,#fae8e1ff 25.8px,#fae3daff 27.8px,#f7cdbdff 32.6px,#ef957aff 38.5px,#de8b71ff 40.4px,#a8503aff 45.3px,#933e28ff 48.2px,#8e3a24ff 50.1px,#903c26ff 52.1px,#9e4832ff 55px,#de8b71ff 62.8px,#ef9579ff 65.7px,#f4b9a4ff 72.5px,#f9d5c8ff 82.2px,#fae3dcfc 92.9px,#fbeae474 100.6px,#fbede824 110.4px,#fcefea01 134.6px)"></div>
<div style="left:389.3px;top:261.5px;width:5px;height:137px;background:linear-gradient(166.3deg,#fdf4f101 0.6px,#fdf3f00d 11.3px,#fcf2ee30 17.1px,#fceee980 22px,#fae8e1ff 25.9px,#fae3daff 27.8px,#f7cdbdff 32.7px,#ef9579ff 38.5px,#de8b71ff 40.4px,#a8503aff 45.3px,#933e28ff 48.2px,#8f3a24ff 50.1px,#913c26ff 52.1px,#9f4933ff 55px,#ae5640ff 56.9px,#d8856cff 61.8px,#ef967aff 65.7px,#f4baa5ff 72.5px,#f9d6c9ff 82.2px,#fae3dbff 91.9px,#fbeae46e 100.7px,#fbede826 109.4px,#fcefea01 133.7px)"></div>
<div style="left:394.3px;top:260.5px;width:5px;height:137px;background:linear-gradient(166.3deg,#fdf4f101 0.6px,#fdf3f00d 11.3px,#fcf2ee30 17.1px,#fceee980 22px,#fae8e1ff 25.9px,#fae3daff 27.8px,#f7ccbdff 32.7px,#ef9579ff 38.5px,#dd8b71ff 40.4px,#a7503aff 45.3px,#943e28ff 48.2px,#8f3a24ff 50.1px,#923d27ff 52.1px,#a04933ff 55px,#d9866dff 61.8px,#f0967aff 65.7px,#f4bba6ff 72.5px,#f9d6caff 82.2px,#fae3dbff 91.9px,#fbe9e374 99.7px,#fbede824 109.4px,#fcefea01 133.7px)"></div>
<div style="left:399.3px;top:259.5px;width:5px;height:136px;background:linear-gradient(166.3deg,#fdf4f101 0.6px,#fdf3f00d 11.3px,#fcf2ee30 17.1px,#fceee980 22px,#fae8e1ff 25.9px,#fae3daff 27.8px,#f7ccbcff 32.7px,#ee9579ff 38.5px,#dd8b71ff 40.4px,#a74f39ff 45.3px,#943e28ff 48.2px,#903b25ff 50.1px,#933d27ff 52.1px,#a14a34ff 55px,#da886eff 61.8px,#f0977bff 65.7px,#f4b8a3ff 71.5px,#f9d5c9ff 81.2px,#fae3dbff 91px,#fbeae46e 99.7px,#fbede826 108.4px,#fcefea01 132.7px)"></div>
<div style="left:404.3px;top:258.5px;width:5px;height:135px;background:linear-gradient(166.3deg,#fdf4f101 0.6px,#fdf3f00d 11.3px,#fcf2ee2f 17.1px,#fceee980 22px,#fae8e1ff 25.9px,#fae3daff 27.8px,#f7ccbcff 32.7px,#ee9579ff 38.5px,#dd8b70ff 40.4px,#a74f39ff 45.3px,#943f29ff 48.2px,#903b25ff 50.1px,#933e28ff 52.1px,#a24b35ff 55px,#db896fff 61.8px,#f0987dff 65.7px,#f4b9a4ff 71.5px,#f9d6c9ff 81.2px,#fae3dbff 91px,#fbe9e374 98.7px,#fbede828 107.5px,#fcefea01 131.8px)"></div>
<div style="left:409.3px;top:257.5px;width:5px;height:134px;background:linear-gradient(166.4deg,#fdf5f101 0.6px,#fdf3f00c 11.3px,#fcf2ee2f 17.1px,#fceee980 22px,#fae8e1ff 25.9px,#fae3daff 27.8px,#f7ccbcff 32.7px,#ee9579ff 38.5px,#dd8a70ff 40.4px,#a74f39ff 45.3px,#943f29ff 48.2px,#913c26ff 50.2px,#943f29ff 52.1px,#a34c36ff 55px,#dc8a70ff 61.8px,#ed9479ff 64.7px,#f4baa5ff 71.5px,#f9d7caff 81.3px,#fae4dcf8 91px,#fbeae46e 98.7px,#fbede825 107.5px,#fcefea01 130.8px)"></div>
<div style="left:414.3px;top:256.5px;width:5px;height:134px;background:linear-gradient(166.4deg,#fdf5f101 0.6px,#fdf3f00c 11.3px,#fcf2ee2f 17.1px,#fceee980 22px,#fae8e1ff 25.9px,#fae3daff 27.8px,#f7ccbcff 32.7px,#ee9579ff 38.5px,#dd8a70ff 40.4px,#a74f39ff 45.3px,#943f29ff 48.2px,#913c26ff 50.2px,#953f29ff 52.1px,#a44d37ff 55px,#dd8a70ff 61.8px,#ee9579ff 64.7px,#f4bba6ff 71.5px,#f9d7cbff 81.3px,#fae3dbff 90px,#fbe9e375 97.8px,#fbede828 106.5px,#fcefea01 130.8px)"></div>
<div style="left:419.3px;top:255.5px;width:5px;height:133px;background:linear-gradient(166.4deg,#fdf5f101 0.6px,#fdf4f00c 11.3px,#fcf2ee2f 17.1px,#fceee980 22px,#fae8e1ff 25.9px,#fae3daff 27.8px,#f7ccbcff 32.7px,#ee9579ff 38.5px,#dc8a70ff 40.4px,#a74f39ff 45.3px,#953f29ff 48.2px,#923d27ff 50.2px,#95402aff 52.1px,#a54d37ff 55px,#dd8b71ff 61.8px,#ef9579ff 64.7px,#f4bca7ff 71.6px,#f9d6caff 80.3px,#fae4dcfb 90px,#fbe9e36f 97.8px,#fbede825 106.5px,#fcefea01 129.9px)"></div>
<div style="left:424.3px;top:254.5px;width:5px;height:132px;background:linear-gradient(166.5deg,#fdf5f201 0.6px,#fdf4f00c 11.3px,#fcf2ee2f 17.1px,#fceee97f 22px,#fae8e1ff 25.9px,#fae3daff 27.8px,#f7ccbcff 32.7px,#ee9579ff 38.5px,#dc8a70ff 40.4px,#a74f39ff 45.3px,#953f29ff 48.2px,#923d27ff 50.2px,#96412bff 52.1px,#a64e38ff 55px,#de8b71ff 61.8px,#ef967aff 64.8px,#f5bda8ff 71.6px,#f9d7cbff 80.3px,#fae3dbff 89.1px,#fbe9e376 96.8px,#fbede727 105.6px,#fcefea01 128.9px)"></div>
<div style="left:429.3px;top:253.5px;width:5px;height:132px;background:linear-gradient(166.5deg,#fdf5f201 0.6px,#fdf4f00c 11.3px,#fcf2ee2f 17.1px,#fceee97f 22px,#fae8e1ff 25.9px,#fae3daff 27.8px,#f7ccbcff 32.7px,#ee9579ff 38.5px,#dc8a70ff 40.5px,#a74f39ff 45.3px,#95402aff 48.2px,#933d27ff 50.2px,#97412bff 52.1px,#a74f39ff 55px,#d8856bff 60.9px,#f0967aff 64.8px,#f2aa92ff 67.7px,#f5bea9ff 71.6px,#f9d8ccff 80.3px,#fae4dcff 89.1px,#fbeae470 96.9px,#fbede825 105.6px,#fcefea01 129px)"></div>
<div style="left:434.3px;top:252.5px;width:5px;height:131px;background:linear-gradient(166.6deg,#fdf5f201 0.6px,#fdf4f00c 11.3px,#fcf2ee2e 17.1px,#fceee97f 22px,#fae8e1ff 25.9px,#fae3daff 27.8px,#f7ccbcff 32.7px,#ee9579ff 38.5px,#dc8a70ff 40.5px,#a74f39ff 45.3px,#95402aff 48.2px,#933e28ff 50.2px,#98422cff 52.1px,#a8503aff 55.1px,#d9866cff 60.9px,#f0977bff 64.8px,#f2ab93ff 67.7px,#f5bfaaff 71.6px,#f9d8cdff 80.3px,#fae3dbff 88.1px,#fbeae46a 96.9px,#fbede727 104.7px,#fcefea01 128px)"></div>
<div style="left:439.3px;top:251.5px;width:5px;height:130px;background:linear-gradient(166.6deg,#fdf5f201 0.6px,#fdf4f00c 11.3px,#fcf2ee2e 17.1px,#fceee97e 22px,#fae8e1ff 25.9px,#fae3dbff 27.8px,#f7ccbcff 32.7px,#ee9579ff 38.5px,#dc8a70ff 40.5px,#a74f39ff 45.3px,#96402aff 48.3px,#943e28ff 50.2px,#98422cff 52.1px,#a8503aff 55.1px,#d9876dff 60.9px,#f0987cff 64.8px,#f4bba6ff 70.6px,#f9d7cbff 79.4px,#fae4dcff 88.1px,#fbeae471 95.9px,#fbede725 104.7px,#fcefea01 127.1px)"></div>
<div style="left:444.3px;top:251.5px;width:5px;height:129px;background:linear-gradient(166.7deg,#fdf5f201 0.6px,#fcf2ee2e 16.1px,#fceee97d 21px,#fae8e1ff 24.9px,#fae3dbff 26.9px,#f7ccbcff 31.7px,#ee9579ff 37.6px,#dc8a70ff 39.5px,#a74f39ff 44.4px,#9a442eff 46.3px,#943f29ff 48.3px,#96402aff 50.2px,#a34b35ff 53.1px,#ba624aff 56px,#da886eff 59.9px,#f0997dff 63.8px,#f4bca7ff 69.7px,#f9d8ccff 78.4px,#fae4ddf9 87.2px,#fbe9e378 94px,#fbece727 102.8px,#fcefea01 126.1px)"></div>
<div style="left:449.3px;top:250.5px;width:5px;height:128px;background:linear-gradient(166.8deg,#fdf5f201 0.6px,#fcf2ee2d 16.1px,#fceee97d 21px,#fae8e1ff 24.9px,#fae3dbff 26.9px,#f7ccbdff 31.7px,#ee9579ff 37.6px,#dc8a70ff 39.5px,#a74f39ff 44.4px,#9a442eff 46.3px,#953f29ff 48.3px,#97412bff 50.2px,#a34c36ff 53.1px,#ba624bff 56.1px,#db886fff 59.9px,#f0997eff 63.8px,#f5c1adff 70.7px,#f9d8cdff 78.4px,#fae4dcff 86.2px,#fbeae472 94px,#fbece725 102.8px,#fcefea01 125.2px)"></div>
<div style="left:454.3px;top:249.5px;width:5px;height:128px;background:linear-gradient(166.8deg,#fdf5f201 0.6px,#fcf2ee2d 16.1px,#fceee97c 21px,#fae8e1ff 24.9px,#fae3dbff 26.9px,#f7cdbdff 31.7px,#ee9579ff 37.6px,#dd8a70ff 39.5px,#a8503aff 44.4px,#9b442eff 46.3px,#95402aff 48.3px,#97422cff 50.2px,#a44d37ff 53.1px,#db896fff 60px,#ee9579ff 62.9px,#f5c2afff 70.7px,#f9d9ceff 78.5px,#fae4ddff 86.3px,#fbeae379 93.1px,#fbece727 101.8px,#fcefea01 125.2px)"></div>
<div style="left:459.3px;top:248.5px;width:5px;height:127px;background:linear-gradient(166.9deg,#fdf5f201 0.6px,#fcf2ee2c 16.2px,#fceee97b 21px,#fae8e2ff 24.9px,#fae3dbff 26.9px,#f7cdbdff 31.7px,#ee9579ff 37.6px,#dd8b70ff 39.5px,#a8503aff 44.4px,#9b452fff 46.3px,#96402aff 48.3px,#98422cff 50.2px,#a54d37ff 53.2px,#dc8a70ff 60px,#ee9579ff 62.9px,#f6c3b0ff 70.7px,#f9daceff 78.5px,#fae4dcff 85.3px,#fbeae474 93.1px,#fbede725 101.9px,#fcefea01 124.3px)"></div>
<div style="left:464.3px;top:247.5px;width:5px;height:126px;background:linear-gradient(167.0deg,#fdf5f201 0.6px,#fcf2ee2b 16.2px,#fceeea7a 21px,#fae8e2ff 24.9px,#fae3dbff 26.9px,#f8cdbeff 31.7px,#ef9579ff 37.6px,#dd8b71ff 39.5px,#a8503aff 44.4px,#9b452fff 46.4px,#96412bff 48.3px,#99432dff 50.2px,#a64e38ff 53.2px,#dc8a70ff 60px,#ef9579ff 62.9px,#f3b099ff 66.8px,#f6c3b1ff 70.7px,#f9dacfff 78.5px,#fae4dcff 85.3px,#fbeae46e 93.1px,#fbede727 100.9px,#fceeea01 123.3px)"></div>
<div style="left:469.3px;top:246.5px;width:5px;height:126px;background:linear-gradient(167.0deg,#fdf5f201 0.6px,#fcf2ee2b 16.2px,#fceeea78 21px,#fae8e2fe 24.9px,#fae3dbff 26.9px,#f8cebeff 31.7px,#f4b59fff 34.7px,#ef9579ff 37.6px,#dd8b71ff 39.5px,#a9513bff 44.4px,#9c4630ff 46.4px,#97412bff 48.3px,#99432dff 50.3px,#a64e38ff 53.2px,#dd8b70ff 60px,#ef9579ff 62.9px,#f3b099ff 66.8px,#f6c4b2ff 70.7px,#f9dbd0ff 78.5px,#fae4ddfc 85.3px,#fbeae476 92.2px,#fbede72a 100px,#fceeea01 123.4px)"></div>
<div style="left:474.3px;top:245.5px;width:5px;height:125px;background:linear-gradient(167.1deg,#fdf5f201 0.6px,#fcf2ef2a 16.2px,#fcefea77 21px,#fae8e2fc 24.9px,#fae4dcff 26.9px,#f8cebfff 31.8px,#f4b5a0ff 34.7px,#ef967aff 37.6px,#de8b71ff 39.6px,#a9513bff 44.4px,#9c4630ff 46.4px,#97422cff 48.3px,#9a442eff 50.3px,#a74f39ff 53.2px,#dd8b71ff 60px,#ef967aff 62.9px,#f3b19aff 66.8px,#f6c5b2ff 70.7px,#f9daceff 77.6px,#fae4dcff 84.4px,#fbeae470 92.2px,#fbede828 100px,#fceeea01 122.4px)"></div>
<div style="left:479.3px;top:244.5px;width:5px;height:124px;background:linear-gradient(167.2deg,#fdf5f201 0.6px,#fcf2ef29 16.2px,#fcefea75 21px,#fbe9e2f9 24.9px,#fae4dcff 26.9px,#f8cebfff 31.8px,#f4b6a0ff 34.7px,#f0967aff 37.6px,#de8b71ff 39.6px,#aa523cff 44.4px,#9d4630ff 46.4px,#98422cff 48.3px,#9a442eff 50.3px,#a74f39ff 53.2px,#de8b71ff 60px,#f0967aff 63px,#f3b19bff 66.9px,#f6c5b3ff 70.8px,#f9dacfff 77.6px,#fae4ddff 84.4px,#fbeae478 91.2px,#fbede72b 99px,#fceee901 121.5px)"></div>
<div style="left:484.3px;top:244.5px;width:5px;height:123px;background:linear-gradient(167.3deg,#fdf5f201 0.5px,#fcf2ef28 15.2px,#fcefea73 20.1px,#fbe9e3f6 24px,#fae1d8ff 26.9px,#f8cfc0ff 30.8px,#f4b7a1ff 33.7px,#f0977bff 36.6px,#df8c71ff 38.6px,#ab533cff 43.5px,#9e4731ff 45.4px,#99432dff 47.4px,#9b452fff 49.3px,#a8503aff 52.3px,#de8b71ff 59.1px,#f0967aff 62px,#f3b29bff 65.9px,#f6c6b4ff 69.8px,#f9dbd0ff 76.6px,#fae5ddfa 83.5px,#fbeae473 90.3px,#fbede828 98.1px,#fceee901 120.5px)"></div>
<div style="left:489.3px;top:243.5px;width:5px;height:122px;background:linear-gradient(167.4deg,#fdf5f201 0.5px,#fcf2ef28 15.2px,#fcefea71 20.1px,#fbe9e3f2 24px,#fae1d9ff 26.9px,#f8cfc0ff 30.8px,#f4b7a2ff 33.7px,#f0977cff 36.7px,#e08c72ff 38.6px,#ab533dff 43.5px,#9e4731ff 45.4px,#99432dff 47.4px,#9b452fff 49.3px,#a8503aff 52.3px,#de8b71ff 59.1px,#f0977bff 62px,#f3b39cff 65.9px,#f6c7b5ff 69.8px,#f9dbd0ff 76.7px,#fae4dcff 82.5px,#fbeae56e 90.3px,#fbede826 98.1px,#fceee901 119.6px)"></div>
<div style="left:494.3px;top:242.5px;width:5px;height:122px;background:linear-gradient(167.5deg,#fdf5f201 0.5px,#fdf3ef27 15.2px,#fcefea6f 20.1px,#fbe9e3ee 24px,#fae2d9ff 26.9px,#f8d0c1ff 30.8px,#f4b8a3ff 33.7px,#f0987dff 36.7px,#d68369ff 39.6px,#ac543eff 43.5px,#9f4832ff 45.5px,#9a442eff 47.4px,#9c452fff 49.4px,#a9513bff 52.3px,#de8b71ff 59.1px,#f0977bff 62px,#f3b39dff 66px,#f6c7b6ff 69.9px,#f9dcd1ff 76.7px,#fae4ddff 82.5px,#fbeae476 89.4px,#fbede829 97.2px,#fceee901 119.6px)"></div>
<div style="left:499.3px;top:241.5px;width:5px;height:121px;background:linear-gradient(167.6deg,#fdf5f201 0.5px,#fdf4f10b 10.3px,#fcf2ee2f 16.2px,#fcefeb6d 20.1px,#fae7e1ff 25px,#fae2daff 26.9px,#f8d1c2ff 30.8px,#f4b9a4ff 33.7px,#f0997eff 36.7px,#d7846bff 39.6px,#ad553fff 43.5px,#a04933ff 45.5px,#9a442eff 47.4px,#9c4630ff 49.4px,#a9513bff 52.3px,#df8c71ff 59.1px,#f0977bff 62.1px,#f3b39dff 66px,#f6c8b6ff 69.9px,#f9dcd1ff 76.7px,#fae5ddfb 82.6px,#fbeae471 89.4px,#fbede826 97.2px,#fceee901 118.7px)"></div>
<div style="left:504.3px;top:240.5px;width:5px;height:121px;background:linear-gradient(167.7deg,#fdf5f201 0.5px,#fdf4f10b 10.3px,#fcf2ef2e 16.2px,#fcefeb6a 20.1px,#fae8e1ff 25px,#fae2daff 26.9px,#f8d1c3ff 30.8px,#f4baa5ff 33.8px,#f09b7fff 36.7px,#d8866cff 39.6px,#b86049ff 42.5px,#a64e38ff 44.5px,#9b452fff 47.4px,#9d4630ff 49.4px,#a9513bff 52.3px,#df8c71ff 59.2px,#f0977cff 62.1px,#f3b49eff 66px,#f7c8b7ff 69.9px,#f9dcd2ff 76.7px,#fae4dcff 81.6px,#fbebe56c 89.4px,#fbede82a 96.3px,#fceee901 118.8px)"></div>
<div style="left:509.3px;top:239.5px;width:5px;height:120px;background:linear-gradient(167.8deg,#fdf5f201 0.5px,#fcf2ef2c 16.2px,#fceeea7e 21.1px,#fae8e1ff 25px,#fae3dbff 26.9px,#f8d2c4ff 30.8px,#f4bba6ff 33.8px,#f19c81ff 36.7px,#da876dff 39.6px,#ba624aff 42.6px,#a74f39ff 44.5px,#9c452fff 47.4px,#9d4731ff 49.4px,#aa523cff 52.3px,#df8c71ff 59.2px,#f0987cff 62.1px,#f3b49eff 66px,#f7c9b8ff 69.9px,#f9ddd3ff 76.8px,#fae4ddff 81.7px,#fbeae475 88.5px,#fbede828 96.3px,#fceee901 117.8px)"></div>
<div style="left:514.3px;top:239.5px;width:5px;height:118px;background:linear-gradient(167.9deg,#fdf5f201 0.5px,#fdf3ef2b 15.2px,#fcefea7b 20.1px,#fae8e2ff 24px,#fae3dbff 25.9px,#f9d8ccff 28.9px,#f7ccbcff 30.8px,#ed9478ff 36.7px,#db896fff 38.7px,#bb634cff 41.6px,#a8503aff 43.6px,#9c4630ff 46.5px,#9e4731ff 48.4px,#aa523cff 51.4px,#df8c71ff 58.2px,#f0987cff 61.2px,#f6c5b2ff 68px,#f9dbd1ff 74.8px,#fae5ddff 80.7px,#fbeae47f 86.6px,#fbede82b 94.4px,#fceee901 115.9px)"></div>
<div style="left:519.3px;top:238.5px;width:5px;height:118px;background:linear-gradient(168.1deg,#fdf5f201 0.5px,#fdf3ef29 15.2px,#fcefea78 20.1px,#fbe9e2ff 24px,#fae4dcff 26px,#f8cdbeff 30.8px,#ee9579ff 36.7px,#dc8a70ff 38.7px,#bc644dff 41.6px,#a9513bff 43.6px,#9d4630ff 46.5px,#9e4832ff 48.5px,#aa523cff 51.4px,#df8c71ff 58.2px,#f0987cff 61.2px,#f3b59eff 65.1px,#f7c9b9ff 69px,#faded4ff 75.9px,#fae5def8 80.7px,#fbeae47b 86.6px,#fbede829 94.4px,#fceee901 116px)"></div>
</div>
<div style="left:636px;top:1674px;width:48px;height:433px;background:linear-gradient(#fffdfc 0.0px,#fdf5f2 22.0px,#f9d5c8 95.0px,#f0967a 207.0px,#dc8a70 255.0px,#c66e56 298.0px,#a8503a 345.0px,#8a3620 397.0px,#7a2810 432.0px)"></div>
<svg width="1500" height="2197" viewBox="0 0 1500 2197">
<defs>
<clipPath id="clipa"><rect x="101.7" y="15.0" width="524.0" height="477.5"/></clipPath>
<clipPath id="clipb"><rect x="99.0" y="556.0" width="524.2" height="477.3"/></clipPath>
<clipPath id="clipc"><rect x="99.0" y="1094.3" width="524.0" height="477.2"/></clipPath>
<clipPath id="clipd"><rect x="98.7" y="1634.5" width="523.9" height="477.5"/></clipPath>
<clipPath id="clipe"><rect x="837.5" y="14.6" width="636.2" height="476.9"/></clipPath>
<clipPath id="clipf"><rect x="837.8" y="554.5" width="635.9" height="476.8"/></clipPath>
<clipPath id="clipg"><rect x="837.8" y="1093.5" width="635.9" height="477.0"/></clipPath>
<clipPath id="cliph"><rect x="837.3" y="1632.0" width="636.7" height="477.3"/></clipPath>
</defs>
<g clip-path="url(#clipa)">
<path d="M98.7 140.7C103.0 140.5 116.0 140.0 124.7 139.6C133.4 139.2 142.0 138.8 150.7 138.4C159.4 138.0 168.0 137.6 176.7 137.1C185.4 136.7 194.0 136.2 202.7 135.8C211.4 135.3 220.0 134.8 228.7 134.3C237.4 133.7 246.0 133.2 254.7 132.6C263.4 132.1 272.0 131.5 280.7 130.8C289.4 130.2 298.0 129.5 306.7 128.9C315.4 128.2 324.0 127.4 332.7 126.7C341.4 125.9 350.0 125.1 358.7 124.3C367.4 123.4 376.0 122.6 384.7 121.6C393.4 120.7 402.0 119.8 410.7 118.7C419.4 117.7 428.0 116.7 436.7 115.6C445.4 114.5 454.0 113.3 462.7 112.1C471.4 110.9 480.0 109.6 488.7 108.3C497.4 107.0 506.0 105.6 514.7 104.2C523.4 102.8 532.0 101.3 540.7 99.7C549.4 98.2 558.0 96.6 566.7 94.9C575.4 93.2 584.0 91.5 592.7 89.6C601.4 87.8 610.0 85.9 618.7 84.0C627.4 82.0 640.4 78.9 644.7 77.9" fill="none" stroke="#a9a1d1" stroke-width="4.3"/>
<path d="M98.7 353.4C103.0 353.1 116.0 352.2 124.7 351.6C133.4 350.9 142.0 350.3 150.7 349.6C159.4 348.9 168.0 348.2 176.7 347.4C185.4 346.7 194.0 346.0 202.7 345.2C211.4 344.5 220.0 343.7 228.7 342.9C237.4 342.1 246.0 341.3 254.7 340.5C263.4 339.6 272.0 338.8 280.7 338.0C289.4 337.1 298.0 336.2 306.7 335.4C315.4 334.5 324.0 333.6 332.7 332.8C341.4 331.9 350.0 331.0 358.7 330.1C367.4 329.2 376.0 328.3 384.7 327.4C393.4 326.5 402.0 325.5 410.7 324.6C419.4 323.7 428.0 322.8 436.7 321.9C445.4 321.0 454.0 320.0 462.7 319.1C471.4 318.2 480.0 317.3 488.7 316.4C497.4 315.4 506.0 314.5 514.7 313.6C523.4 312.7 532.0 311.8 540.7 310.9C549.4 310.0 558.0 309.1 566.7 308.3C575.4 307.4 584.0 306.5 592.7 305.7C601.4 304.8 610.0 303.9 618.7 303.1C627.4 302.3 640.4 301.0 644.7 300.6" fill="none" stroke="#a9a1d1" stroke-width="4.3"/>
<line x1="100.70" y1="222.60" x2="625.70" y2="222.60" stroke="#fff" stroke-width="3.00" stroke-dasharray="15.5 15.2" stroke-dashoffset="-1"/>
<path d="M100.7 272.2C105.0 271.8 118.0 270.7 126.7 269.9C135.4 269.0 144.0 268.0 152.7 267.0C161.4 266.0 170.0 264.9 178.7 263.7C187.4 262.5 196.0 261.3 204.7 259.9C213.4 258.6 222.0 257.2 230.7 255.7C239.4 254.3 248.0 252.7 256.7 251.1C265.4 249.5 274.0 247.8 282.7 246.1C291.4 244.4 300.0 242.6 308.7 240.8C317.4 238.9 326.0 237.0 334.7 235.1C343.4 233.1 352.0 231.1 360.7 229.1C369.4 227.1 378.0 225.0 386.7 222.9C395.4 220.7 404.0 218.6 412.7 216.4C421.4 214.2 430.0 211.9 438.7 209.6C447.4 207.4 456.0 205.1 464.7 202.7C473.4 200.4 482.0 198.0 490.7 195.6C499.4 193.3 508.0 190.8 516.7 188.4C525.4 186.0 534.0 183.5 542.7 181.1C551.4 178.6 560.0 176.1 568.7 173.7C577.4 171.2 586.0 168.7 594.7 166.2C603.4 163.7 612.0 161.2 620.7 158.7C629.4 156.1 642.4 152.4 646.7 151.1" fill="none" stroke="#3a3a3a" stroke-width="3.3" stroke-dasharray="15 15.5"/>
<line x1="101.70" y1="415.60" x2="625.70" y2="415.60" stroke="#000" stroke-width="4.50"/>
</g>
<rect x="101.70" y="15.00" width="524.00" height="477.50" fill="none" stroke="#000" stroke-width="3.4"/>
<line x1="91.70" y1="15.30" x2="101.70" y2="15.30" stroke="#000" stroke-width="3.40"/>
<text transform="translate(48.13 23.44) scale(1 1.040)" font-size="26.40">3.2</text>
<line x1="96.20" y1="65.95" x2="101.70" y2="65.95" stroke="#000" stroke-width="2.80"/>
<line x1="91.70" y1="116.60" x2="101.70" y2="116.60" stroke="#000" stroke-width="3.40"/>
<text transform="translate(47.83 124.74) scale(1 1.040)" font-size="26.40">3.0</text>
<line x1="96.20" y1="167.25" x2="101.70" y2="167.25" stroke="#000" stroke-width="2.80"/>
<line x1="91.70" y1="217.90" x2="101.70" y2="217.90" stroke="#000" stroke-width="3.40"/>
<text transform="translate(47.95 226.04) scale(1 1.040)" font-size="26.40">2.8</text>
<line x1="96.20" y1="268.55" x2="101.70" y2="268.55" stroke="#000" stroke-width="2.80"/>
<line x1="91.70" y1="319.20" x2="101.70" y2="319.20" stroke="#000" stroke-width="3.40"/>
<text transform="translate(47.96 327.34) scale(1 1.040)" font-size="26.40">2.6</text>
<line x1="96.20" y1="369.85" x2="101.70" y2="369.85" stroke="#000" stroke-width="2.80"/>
<line x1="91.70" y1="420.50" x2="101.70" y2="420.50" stroke="#000" stroke-width="3.40"/>
<text transform="translate(47.57 428.64) scale(1 1.040)" font-size="26.40">2.4</text>
<line x1="96.20" y1="471.15" x2="101.70" y2="471.15" stroke="#000" stroke-width="2.80"/>
<line x1="101.70" y1="492.50" x2="101.70" y2="502.10" stroke="#000" stroke-width="3.40"/>
<line x1="154.10" y1="492.50" x2="154.10" y2="497.30" stroke="#000" stroke-width="2.80"/>
<line x1="206.50" y1="492.50" x2="206.50" y2="502.10" stroke="#000" stroke-width="3.40"/>
<line x1="258.90" y1="492.50" x2="258.90" y2="497.30" stroke="#000" stroke-width="2.80"/>
<line x1="311.30" y1="492.50" x2="311.30" y2="502.10" stroke="#000" stroke-width="3.40"/>
<line x1="363.70" y1="492.50" x2="363.70" y2="497.30" stroke="#000" stroke-width="2.80"/>
<line x1="416.10" y1="492.50" x2="416.10" y2="502.10" stroke="#000" stroke-width="3.40"/>
<line x1="468.50" y1="492.50" x2="468.50" y2="497.30" stroke="#000" stroke-width="2.80"/>
<line x1="520.90" y1="492.50" x2="520.90" y2="502.10" stroke="#000" stroke-width="3.40"/>
<line x1="573.30" y1="492.50" x2="573.30" y2="497.30" stroke="#000" stroke-width="2.80"/>
<line x1="625.70" y1="492.50" x2="625.70" y2="502.10" stroke="#000" stroke-width="3.40"/>
<text transform="translate(120.74 124.80) scale(1 1.040)" font-size="31.20" fill="#fff">P</text>
<path d="M142.90 104.10H152.90M147.90 99.10V109.10" stroke="#fff" stroke-width="1.9"/>
<text transform="translate(121.18 209.80) scale(1 1.040)" font-size="31.20" fill="#fff">S</text>
<text transform="translate(141.69 218.00) scale(1 1.040)" font-size="20.80" fill="#fff">FC</text>
<text transform="translate(576.24 154.80) scale(1 1.040)" font-size="31.20">E</text>
<text transform="translate(597.09 163.20) scale(1 1.040)" font-size="21.50">c</text>
<text transform="translate(122.24 390.70) scale(1 1.040)" font-size="31.20">P</text>
<line x1="143.70" y1="372.90" x2="149.50" y2="372.90" stroke="#000" stroke-width="2.00"/>
<text transform="translate(578.10 397.20) scale(1 1.040)" font-size="31.20">T</text>
<text transform="translate(596.92 405.70) scale(1 1.040)" font-size="20.80">1</text>
<text transform="translate(478.14 468.70) scale(1 1.040)" font-size="31.20">MC</text>
<text transform="translate(526.84 475.80) scale(1 1.040)" font-size="19.50">0</text>
<text transform="translate(537.79 468.70) scale(1 1.040)" font-size="31.20">: 0.38</text>
<text transform="translate(6.52 46.80) scale(0.920 1.000)" font-size="55.00" font-weight="bold">a</text>
<text transform="translate(30.70 331.61) rotate(-90) scale(1 1.040)" font-size="31.00">Energy (eV)</text>
<rect x="638.90" y="46.70" width="49.50" height="439.80" fill="none" stroke="#000" stroke-width="1.7"/>
<line x1="688.40" y1="120.00" x2="697.90" y2="120.00" stroke="#000" stroke-width="1.70"/>
<text transform="translate(702.46 128.94) scale(1 1.040)" font-size="26.40">90</text>
<line x1="688.40" y1="239.40" x2="697.90" y2="239.40" stroke="#000" stroke-width="1.70"/>
<text transform="translate(702.35 248.34) scale(1 1.040)" font-size="26.40">75</text>
<line x1="688.40" y1="357.60" x2="697.90" y2="357.60" stroke="#000" stroke-width="1.70"/>
<text transform="translate(702.36 366.54) scale(1 1.040)" font-size="26.40">60</text>
<line x1="688.40" y1="476.50" x2="697.90" y2="476.50" stroke="#000" stroke-width="1.70"/>
<text transform="translate(703.09 485.44) scale(1 1.040)" font-size="26.40">45</text>
<g clip-path="url(#clipb)">
<path d="M96.0 689.8C100.3 689.6 113.3 689.0 122.0 688.5C130.7 688.1 139.3 687.7 148.0 687.2C156.7 686.7 165.3 686.3 174.0 685.8C182.7 685.3 191.3 684.8 200.0 684.3C208.7 683.7 217.3 683.2 226.0 682.6C234.7 682.1 243.3 681.5 252.0 680.9C260.7 680.3 269.3 679.7 278.0 679.0C286.7 678.4 295.3 677.7 304.0 677.0C312.7 676.3 321.3 675.6 330.0 674.8C338.7 674.0 347.3 673.3 356.0 672.4C364.7 671.6 373.3 670.8 382.0 669.9C390.7 669.0 399.3 668.1 408.0 667.1C416.7 666.1 425.3 665.1 434.0 664.1C442.7 663.0 451.3 662.0 460.0 660.8C468.7 659.7 477.3 658.6 486.0 657.3C494.7 656.1 503.3 654.9 512.0 653.6C520.7 652.3 529.3 650.9 538.0 649.5C546.7 648.1 555.3 646.6 564.0 645.1C572.7 643.6 581.3 642.1 590.0 640.5C598.7 638.8 607.3 637.2 616.0 635.4C624.7 633.7 637.7 631.0 642.0 630.1" fill="none" stroke="#4bb8d6" stroke-width="4.3"/>
<path d="M96.0 913.9C100.3 913.8 113.3 913.3 122.0 912.9C130.7 912.4 139.3 911.9 148.0 911.3C156.7 910.7 165.3 910.0 174.0 909.3C182.7 908.6 191.3 907.8 200.0 906.9C208.7 906.0 217.3 905.1 226.0 904.1C234.7 903.2 243.3 902.1 252.0 901.1C260.7 900.0 269.3 898.9 278.0 897.7C286.7 896.5 295.3 895.3 304.0 894.1C312.7 892.9 321.3 891.6 330.0 890.3C338.7 889.0 347.3 887.7 356.0 886.4C364.7 885.1 373.3 883.7 382.0 882.4C390.7 881.0 399.3 879.7 408.0 878.3C416.7 876.9 425.3 875.6 434.0 874.2C442.7 872.8 451.3 871.5 460.0 870.1C468.7 868.8 477.3 867.4 486.0 866.1C494.7 864.8 503.3 863.5 512.0 862.2C520.7 860.9 529.3 859.7 538.0 858.5C546.7 857.3 555.3 856.1 564.0 854.9C572.7 853.8 581.3 852.7 590.0 851.6C598.7 850.6 607.3 849.6 616.0 848.6C624.7 847.7 637.7 846.4 642.0 846.0" fill="none" stroke="#4bb8d6" stroke-width="4.3"/>
<line x1="98.00" y1="763.50" x2="623.20" y2="763.50" stroke="#fff" stroke-width="3.00" stroke-dasharray="15.5 15.2" stroke-dashoffset="-1"/>
<path d="M98.0 837.6C102.3 837.3 115.3 836.7 124.0 836.0C132.7 835.4 141.3 834.6 150.0 833.7C158.7 832.8 167.3 831.7 176.0 830.6C184.7 829.4 193.3 828.2 202.0 826.8C210.7 825.5 219.3 824.0 228.0 822.5C236.7 820.9 245.3 819.2 254.0 817.5C262.7 815.8 271.3 813.9 280.0 812.1C288.7 810.2 297.3 808.2 306.0 806.1C314.7 804.1 323.3 802.0 332.0 799.8C340.7 797.7 349.3 795.4 358.0 793.1C366.7 790.9 375.3 788.5 384.0 786.2C392.7 783.8 401.3 781.4 410.0 779.0C418.7 776.5 427.3 774.0 436.0 771.6C444.7 769.1 453.3 766.5 462.0 764.0C470.7 761.5 479.3 758.9 488.0 756.4C496.7 753.9 505.3 751.3 514.0 748.8C522.7 746.2 531.3 743.7 540.0 741.1C548.7 738.6 557.3 736.1 566.0 733.6C574.7 731.1 583.3 728.6 592.0 726.2C600.7 723.7 609.3 721.3 618.0 719.0C626.7 716.6 639.7 713.2 644.0 712.0" fill="none" stroke="#3a3a3a" stroke-width="3.3" stroke-dasharray="15 15.5"/>
<line x1="99.00" y1="956.40" x2="623.20" y2="956.40" stroke="#000" stroke-width="2.60"/>
</g>
<rect x="99.00" y="556.00" width="524.20" height="477.30" fill="none" stroke="#000" stroke-width="3.4"/>
<line x1="89.00" y1="556.00" x2="99.00" y2="556.00" stroke="#000" stroke-width="3.40"/>
<text transform="translate(45.43 564.14) scale(1 1.040)" font-size="26.40">3.2</text>
<line x1="93.50" y1="606.59" x2="99.00" y2="606.59" stroke="#000" stroke-width="2.80"/>
<line x1="89.00" y1="657.18" x2="99.00" y2="657.18" stroke="#000" stroke-width="3.40"/>
<text transform="translate(45.13 665.32) scale(1 1.040)" font-size="26.40">3.0</text>
<line x1="93.50" y1="707.77" x2="99.00" y2="707.77" stroke="#000" stroke-width="2.80"/>
<line x1="89.00" y1="758.36" x2="99.00" y2="758.36" stroke="#000" stroke-width="3.40"/>
<text transform="translate(45.25 766.50) scale(1 1.040)" font-size="26.40">2.8</text>
<line x1="93.50" y1="808.95" x2="99.00" y2="808.95" stroke="#000" stroke-width="2.80"/>
<line x1="89.00" y1="859.54" x2="99.00" y2="859.54" stroke="#000" stroke-width="3.40"/>
<text transform="translate(45.26 867.68) scale(1 1.040)" font-size="26.40">2.6</text>
<line x1="93.50" y1="910.13" x2="99.00" y2="910.13" stroke="#000" stroke-width="2.80"/>
<line x1="89.00" y1="960.72" x2="99.00" y2="960.72" stroke="#000" stroke-width="3.40"/>
<text transform="translate(44.87 968.86) scale(1 1.040)" font-size="26.40">2.4</text>
<line x1="93.50" y1="1011.31" x2="99.00" y2="1011.31" stroke="#000" stroke-width="2.80"/>
<line x1="99.00" y1="1033.30" x2="99.00" y2="1042.90" stroke="#000" stroke-width="3.40"/>
<line x1="151.42" y1="1033.30" x2="151.42" y2="1038.10" stroke="#000" stroke-width="2.80"/>
<line x1="203.84" y1="1033.30" x2="203.84" y2="1042.90" stroke="#000" stroke-width="3.40"/>
<line x1="256.26" y1="1033.30" x2="256.26" y2="1038.10" stroke="#000" stroke-width="2.80"/>
<line x1="308.68" y1="1033.30" x2="308.68" y2="1042.90" stroke="#000" stroke-width="3.40"/>
<line x1="361.10" y1="1033.30" x2="361.10" y2="1038.10" stroke="#000" stroke-width="2.80"/>
<line x1="413.52" y1="1033.30" x2="413.52" y2="1042.90" stroke="#000" stroke-width="3.40"/>
<line x1="465.94" y1="1033.30" x2="465.94" y2="1038.10" stroke="#000" stroke-width="2.80"/>
<line x1="518.36" y1="1033.30" x2="518.36" y2="1042.90" stroke="#000" stroke-width="3.40"/>
<line x1="570.78" y1="1033.30" x2="570.78" y2="1038.10" stroke="#000" stroke-width="2.80"/>
<line x1="623.20" y1="1033.30" x2="623.20" y2="1042.90" stroke="#000" stroke-width="3.40"/>
<text transform="translate(115.84 673.50) scale(1 1.040)" font-size="31.20" fill="#fff">P</text>
<path d="M138.00 652.80H148.00M143.00 647.80V657.80" stroke="#fff" stroke-width="1.9"/>
<text transform="translate(113.38 741.90) scale(1 1.040)" font-size="31.20" fill="#fff">S</text>
<text transform="translate(133.89 750.10) scale(1 1.040)" font-size="20.80" fill="#fff">FC</text>
<text transform="translate(575.44 705.50) scale(1 1.040)" font-size="31.20">E</text>
<text transform="translate(596.29 713.90) scale(1 1.040)" font-size="21.50">c</text>
<text transform="translate(113.34 895.90) scale(1 1.040)" font-size="31.20">P</text>
<line x1="134.80" y1="878.10" x2="140.60" y2="878.10" stroke="#000" stroke-width="2.00"/>
<text transform="translate(578.50 942.00) scale(1 1.040)" font-size="31.20">T</text>
<text transform="translate(597.32 950.50) scale(1 1.040)" font-size="20.80">1</text>
<text transform="translate(474.74 1009.30) scale(1 1.040)" font-size="31.20">MC</text>
<text transform="translate(523.44 1016.40) scale(1 1.040)" font-size="19.50">0</text>
<text transform="translate(535.61 1009.30) scale(1 1.040)" font-size="31.20">: 0.33</text>
<text x="7.17" y="584.30" font-size="55.00" font-weight="bold">b</text>
<text transform="translate(27.80 870.21) rotate(-90) scale(1 1.040)" font-size="31.00">Energy (eV)</text>
<rect x="636.30" y="588.00" width="52.30" height="439.10" fill="none" stroke="#000" stroke-width="1.7"/>
<line x1="688.60" y1="685.80" x2="698.10" y2="685.80" stroke="#000" stroke-width="1.70"/>
<text transform="translate(702.75 694.74) scale(1 1.040)" font-size="26.40">83</text>
<line x1="688.60" y1="784.20" x2="698.10" y2="784.20" stroke="#000" stroke-width="1.70"/>
<text transform="translate(702.56 793.14) scale(1 1.040)" font-size="26.40">66</text>
<line x1="688.60" y1="882.60" x2="698.10" y2="882.60" stroke="#000" stroke-width="1.70"/>
<text transform="translate(702.84 891.54) scale(1 1.040)" font-size="26.40">50</text>
<line x1="688.60" y1="981.70" x2="698.10" y2="981.70" stroke="#000" stroke-width="1.70"/>
<text transform="translate(702.89 990.64) scale(1 1.040)" font-size="26.40">33</text>
<g clip-path="url(#clipc)">
<path d="M96.0 1246.0C100.3 1245.9 113.3 1245.5 122.0 1245.3C130.7 1245.0 139.3 1244.8 148.0 1244.5C156.7 1244.2 165.3 1243.9 174.0 1243.6C182.7 1243.2 191.3 1242.9 200.0 1242.5C208.7 1242.2 217.3 1241.8 226.0 1241.4C234.7 1241.0 243.3 1240.5 252.0 1240.1C260.7 1239.6 269.3 1239.2 278.0 1238.7C286.7 1238.2 295.3 1237.6 304.0 1237.1C312.7 1236.5 321.3 1236.0 330.0 1235.4C338.7 1234.8 347.3 1234.1 356.0 1233.5C364.7 1232.8 373.3 1232.1 382.0 1231.4C390.7 1230.7 399.3 1230.0 408.0 1229.2C416.7 1228.4 425.3 1227.6 434.0 1226.8C442.7 1225.9 451.3 1225.1 460.0 1224.2C468.7 1223.3 477.3 1222.3 486.0 1221.4C494.7 1220.4 503.3 1219.4 512.0 1218.3C520.7 1217.3 529.3 1216.2 538.0 1215.1C546.7 1214.0 555.3 1212.8 564.0 1211.6C572.7 1210.5 581.3 1209.2 590.0 1208.0C598.7 1206.7 607.3 1205.4 616.0 1204.0C624.7 1202.7 637.7 1200.5 642.0 1199.8" fill="none" stroke="#4ba52f" stroke-width="4.3"/>
<path d="M96.0 1525.3C100.3 1525.1 113.3 1524.7 122.0 1524.1C130.7 1523.6 139.3 1522.9 148.0 1522.1C156.7 1521.3 165.3 1520.3 174.0 1519.3C182.7 1518.3 191.3 1517.1 200.0 1515.8C208.7 1514.6 217.3 1513.2 226.0 1511.8C234.7 1510.4 243.3 1508.8 252.0 1507.2C260.7 1505.6 269.3 1504.0 278.0 1502.2C286.7 1500.5 295.3 1498.7 304.0 1496.9C312.7 1495.1 321.3 1493.2 330.0 1491.3C338.7 1489.4 347.3 1487.4 356.0 1485.5C364.7 1483.5 373.3 1481.6 382.0 1479.6C390.7 1477.6 399.3 1475.6 408.0 1473.7C416.7 1471.7 425.3 1469.7 434.0 1467.8C442.7 1465.8 451.3 1463.9 460.0 1462.0C468.7 1460.1 477.3 1458.3 486.0 1456.5C494.7 1454.7 503.3 1452.9 512.0 1451.2C520.7 1449.6 529.3 1447.9 538.0 1446.4C546.7 1444.8 555.3 1443.3 564.0 1442.0C572.7 1440.6 581.3 1439.3 590.0 1438.1C598.7 1436.9 607.3 1435.8 616.0 1434.8C624.7 1433.8 637.7 1432.7 642.0 1432.2" fill="none" stroke="#4ba52f" stroke-width="4.3"/>
<line x1="98.00" y1="1301.70" x2="623.00" y2="1301.70" stroke="#fff" stroke-width="3.00" stroke-dasharray="15.5 15.2" stroke-dashoffset="-1"/>
<path d="M98.0 1467.4C102.3 1466.9 115.3 1465.6 124.0 1464.5C132.7 1463.5 141.3 1462.3 150.0 1461.1C158.7 1459.9 167.3 1458.6 176.0 1457.2C184.7 1455.8 193.3 1454.3 202.0 1452.7C210.7 1451.1 219.3 1449.5 228.0 1447.8C236.7 1446.0 245.3 1444.2 254.0 1442.3C262.7 1440.5 271.3 1438.5 280.0 1436.5C288.7 1434.5 297.3 1432.4 306.0 1430.2C314.7 1428.0 323.3 1425.8 332.0 1423.5C340.7 1421.2 349.3 1418.9 358.0 1416.5C366.7 1414.1 375.3 1411.6 384.0 1409.1C392.7 1406.6 401.3 1404.0 410.0 1401.4C418.7 1398.7 427.3 1396.1 436.0 1393.4C444.7 1390.6 453.3 1387.9 462.0 1385.1C470.7 1382.3 479.3 1379.4 488.0 1376.5C496.7 1373.6 505.3 1370.7 514.0 1367.8C522.7 1364.8 531.3 1361.8 540.0 1358.8C548.7 1355.8 557.3 1352.7 566.0 1349.7C574.7 1346.6 583.3 1343.5 592.0 1340.4C600.7 1337.2 609.3 1334.1 618.0 1330.9C626.7 1327.8 639.7 1323.0 644.0 1321.4" fill="none" stroke="#3a3a3a" stroke-width="3.3" stroke-dasharray="15 15.5"/>
<line x1="99.00" y1="1494.60" x2="623.00" y2="1494.60" stroke="#000" stroke-width="4.50"/>
</g>
<rect x="99.00" y="1094.30" width="524.00" height="477.20" fill="none" stroke="#000" stroke-width="3.4"/>
<line x1="89.00" y1="1094.30" x2="99.00" y2="1094.30" stroke="#000" stroke-width="3.40"/>
<text transform="translate(45.43 1102.54) scale(1 1.040)" font-size="26.40">3.2</text>
<line x1="93.50" y1="1144.89" x2="99.00" y2="1144.89" stroke="#000" stroke-width="2.80"/>
<line x1="89.00" y1="1195.48" x2="99.00" y2="1195.48" stroke="#000" stroke-width="3.40"/>
<text transform="translate(45.13 1203.72) scale(1 1.040)" font-size="26.40">3.0</text>
<line x1="93.50" y1="1246.07" x2="99.00" y2="1246.07" stroke="#000" stroke-width="2.80"/>
<line x1="89.00" y1="1296.66" x2="99.00" y2="1296.66" stroke="#000" stroke-width="3.40"/>
<text transform="translate(45.25 1304.90) scale(1 1.040)" font-size="26.40">2.8</text>
<line x1="93.50" y1="1347.25" x2="99.00" y2="1347.25" stroke="#000" stroke-width="2.80"/>
<line x1="89.00" y1="1397.84" x2="99.00" y2="1397.84" stroke="#000" stroke-width="3.40"/>
<text transform="translate(45.26 1406.08) scale(1 1.040)" font-size="26.40">2.6</text>
<line x1="93.50" y1="1448.43" x2="99.00" y2="1448.43" stroke="#000" stroke-width="2.80"/>
<line x1="89.00" y1="1499.02" x2="99.00" y2="1499.02" stroke="#000" stroke-width="3.40"/>
<text transform="translate(44.87 1507.26) scale(1 1.040)" font-size="26.40">2.4</text>
<line x1="93.50" y1="1549.61" x2="99.00" y2="1549.61" stroke="#000" stroke-width="2.80"/>
<line x1="99.00" y1="1571.50" x2="99.00" y2="1581.10" stroke="#000" stroke-width="3.40"/>
<line x1="151.40" y1="1571.50" x2="151.40" y2="1576.30" stroke="#000" stroke-width="2.80"/>
<line x1="203.80" y1="1571.50" x2="203.80" y2="1581.10" stroke="#000" stroke-width="3.40"/>
<line x1="256.20" y1="1571.50" x2="256.20" y2="1576.30" stroke="#000" stroke-width="2.80"/>
<line x1="308.60" y1="1571.50" x2="308.60" y2="1581.10" stroke="#000" stroke-width="3.40"/>
<line x1="361.00" y1="1571.50" x2="361.00" y2="1576.30" stroke="#000" stroke-width="2.80"/>
<line x1="413.40" y1="1571.50" x2="413.40" y2="1581.10" stroke="#000" stroke-width="3.40"/>
<line x1="465.80" y1="1571.50" x2="465.80" y2="1576.30" stroke="#000" stroke-width="2.80"/>
<line x1="518.20" y1="1571.50" x2="518.20" y2="1581.10" stroke="#000" stroke-width="3.40"/>
<line x1="570.60" y1="1571.50" x2="570.60" y2="1576.30" stroke="#000" stroke-width="2.80"/>
<line x1="623.00" y1="1571.50" x2="623.00" y2="1581.10" stroke="#000" stroke-width="3.40"/>
<text transform="translate(113.34 1223.20) scale(1 1.040)" font-size="31.20" fill="#fff">P</text>
<path d="M135.50 1202.50H145.50M140.50 1197.50V1207.50" stroke="#fff" stroke-width="1.9"/>
<text transform="translate(111.58 1290.50) scale(1 1.040)" font-size="31.20" fill="#fff">S</text>
<text transform="translate(132.09 1298.70) scale(1 1.040)" font-size="20.80" fill="#fff">FC</text>
<text transform="translate(580.24 1375.80) scale(1 1.040)" font-size="31.20">E</text>
<text transform="translate(601.09 1384.20) scale(1 1.040)" font-size="21.50">c</text>
<text transform="translate(114.74 1558.30) scale(1 1.040)" font-size="31.20">P</text>
<line x1="136.20" y1="1540.50" x2="142.00" y2="1540.50" stroke="#000" stroke-width="2.00"/>
<text transform="translate(578.50 1475.50) scale(1 1.040)" font-size="31.20">T</text>
<text transform="translate(597.32 1484.00) scale(1 1.040)" font-size="20.80">1</text>
<text transform="translate(474.04 1555.80) scale(1 1.040)" font-size="31.20">MC</text>
<text transform="translate(522.74 1562.90) scale(1 1.040)" font-size="19.50">0</text>
<text transform="translate(531.46 1555.80) scale(1 1.040)" font-size="31.20">: 0.21</text>
<text x="3.15" y="1125.50" font-size="55.00" font-weight="bold">c</text>
<text transform="translate(27.30 1409.51) rotate(-90) scale(1 1.040)" font-size="31.00">Energy (eV)</text>
<rect x="636.30" y="1126.50" width="52.30" height="438.50" fill="none" stroke="#000" stroke-width="1.7"/>
<line x1="688.60" y1="1149.00" x2="698.10" y2="1149.00" stroke="#000" stroke-width="1.70"/>
<text transform="translate(702.66 1157.94) scale(1 1.040)" font-size="26.40">95</text>
<line x1="688.60" y1="1247.50" x2="698.10" y2="1247.50" stroke="#000" stroke-width="1.70"/>
<text transform="translate(702.75 1256.44) scale(1 1.040)" font-size="26.40">85</text>
<line x1="688.60" y1="1346.00" x2="698.10" y2="1346.00" stroke="#000" stroke-width="1.70"/>
<text transform="translate(702.55 1354.94) scale(1 1.040)" font-size="26.40">75</text>
<line x1="688.60" y1="1444.00" x2="698.10" y2="1444.00" stroke="#000" stroke-width="1.70"/>
<text transform="translate(702.56 1452.94) scale(1 1.040)" font-size="26.40">65</text>
<line x1="688.60" y1="1542.50" x2="698.10" y2="1542.50" stroke="#000" stroke-width="1.70"/>
<text transform="translate(702.84 1551.44) scale(1 1.040)" font-size="26.40">55</text>
<g clip-path="url(#clipd)">
<path d="M95.7 1744.6C100.0 1744.5 113.0 1744.2 121.7 1743.9C130.4 1743.7 139.0 1743.5 147.7 1743.3C156.4 1743.1 165.0 1742.8 173.7 1742.6C182.4 1742.4 191.0 1742.2 199.7 1741.9C208.4 1741.7 217.0 1741.5 225.7 1741.3C234.4 1741.0 243.0 1740.8 251.7 1740.5C260.4 1740.3 269.0 1740.0 277.7 1739.7C286.4 1739.5 295.0 1739.2 303.7 1738.9C312.4 1738.6 321.0 1738.3 329.7 1738.0C338.4 1737.7 347.0 1737.3 355.7 1737.0C364.4 1736.7 373.0 1736.3 381.7 1735.9C390.4 1735.5 399.0 1735.1 407.7 1734.7C416.4 1734.3 425.0 1733.9 433.7 1733.4C442.4 1732.9 451.0 1732.5 459.7 1731.9C468.4 1731.4 477.0 1730.9 485.7 1730.4C494.4 1729.8 503.0 1729.2 511.7 1728.6C520.4 1728.0 529.0 1727.4 537.7 1726.7C546.4 1726.0 555.0 1725.3 563.7 1724.6C572.4 1723.9 581.0 1723.1 589.7 1722.3C598.4 1721.5 607.0 1720.7 615.7 1719.8C624.4 1718.9 637.4 1717.5 641.7 1717.1" fill="none" stroke="#f09a7b" stroke-width="4.3"/>
<path d="M95.7 2017.8C100.0 2017.6 113.0 2017.1 121.7 2016.6C130.4 2016.0 139.0 2015.4 147.7 2014.6C156.4 2013.8 165.0 2013.0 173.7 2012.0C182.4 2011.0 191.0 2009.9 199.7 2008.8C208.4 2007.6 217.0 2006.3 225.7 2005.0C234.4 2003.7 243.0 2002.2 251.7 2000.8C260.4 1999.3 269.0 1997.7 277.7 1996.0C286.4 1994.4 295.0 1992.7 303.7 1991.0C312.4 1989.2 321.0 1987.4 329.7 1985.5C338.4 1983.7 347.0 1981.7 355.7 1979.8C364.4 1977.9 373.0 1975.9 381.7 1973.9C390.4 1971.8 399.0 1969.8 407.7 1967.7C416.4 1965.7 425.0 1963.6 433.7 1961.5C442.4 1959.4 451.0 1957.2 459.7 1955.1C468.4 1953.0 477.0 1950.9 485.7 1948.8C494.4 1946.6 503.0 1944.5 511.7 1942.4C520.4 1940.3 529.0 1938.2 537.7 1936.2C546.4 1934.1 555.0 1932.1 563.7 1930.1C572.4 1928.0 581.0 1926.1 589.7 1924.1C598.4 1922.2 607.0 1920.3 615.7 1918.4C624.4 1916.6 637.4 1913.9 641.7 1913.0" fill="none" stroke="#f09a7b" stroke-width="4.3"/>
<line x1="97.70" y1="1777.60" x2="622.60" y2="1777.60" stroke="#fff" stroke-width="3.00" stroke-dasharray="15.5 15.2" stroke-dashoffset="-1"/>
<path d="M97.7 1983.4C102.0 1983.1 115.0 1982.3 123.7 1981.5C132.4 1980.8 141.0 1979.9 149.7 1978.9C158.4 1977.9 167.0 1976.8 175.7 1975.6C184.4 1974.3 193.0 1973.0 201.7 1971.5C210.4 1970.1 219.0 1968.5 227.7 1966.9C236.4 1965.3 245.0 1963.5 253.7 1961.7C262.4 1959.9 271.0 1958.0 279.7 1956.0C288.4 1954.0 297.0 1952.0 305.7 1949.9C314.4 1947.8 323.0 1945.6 331.7 1943.3C340.4 1941.1 349.0 1938.8 357.7 1936.5C366.4 1934.1 375.0 1931.7 383.7 1929.3C392.4 1926.9 401.0 1924.4 409.7 1921.9C418.4 1919.4 427.0 1916.9 435.7 1914.3C444.4 1911.8 453.0 1909.2 461.7 1906.6C470.4 1904.0 479.0 1901.4 487.7 1898.8C496.4 1896.2 505.0 1893.6 513.7 1891.0C522.4 1888.4 531.0 1885.8 539.7 1883.2C548.4 1880.7 557.0 1878.1 565.7 1875.6C574.4 1873.0 583.0 1870.5 591.7 1868.0C600.4 1865.6 609.0 1863.1 617.7 1860.7C626.4 1858.3 639.4 1854.8 643.7 1853.6" fill="none" stroke="#3a3a3a" stroke-width="3.3" stroke-dasharray="15 15.5"/>
<line x1="98.70" y1="1953.60" x2="622.60" y2="1953.60" stroke="#000" stroke-width="4.50"/>
</g>
<rect x="98.70" y="1634.50" width="523.90" height="477.50" fill="none" stroke="#000" stroke-width="3.4"/>
<line x1="88.70" y1="1679.60" x2="98.70" y2="1679.60" stroke="#000" stroke-width="3.40"/>
<text transform="translate(44.83 1688.74) scale(1 1.040)" font-size="26.40">3.0</text>
<line x1="93.20" y1="1726.00" x2="98.70" y2="1726.00" stroke="#000" stroke-width="2.80"/>
<line x1="88.70" y1="1772.40" x2="98.70" y2="1772.40" stroke="#000" stroke-width="3.40"/>
<text transform="translate(44.95 1781.54) scale(1 1.040)" font-size="26.40">2.8</text>
<line x1="93.20" y1="1818.80" x2="98.70" y2="1818.80" stroke="#000" stroke-width="2.80"/>
<line x1="88.70" y1="1865.20" x2="98.70" y2="1865.20" stroke="#000" stroke-width="3.40"/>
<text transform="translate(44.96 1874.34) scale(1 1.040)" font-size="26.40">2.6</text>
<line x1="93.20" y1="1911.60" x2="98.70" y2="1911.60" stroke="#000" stroke-width="2.80"/>
<line x1="88.70" y1="1958.00" x2="98.70" y2="1958.00" stroke="#000" stroke-width="3.40"/>
<text transform="translate(44.57 1967.14) scale(1 1.040)" font-size="26.40">2.4</text>
<line x1="93.20" y1="2004.40" x2="98.70" y2="2004.40" stroke="#000" stroke-width="2.80"/>
<line x1="88.70" y1="2050.80" x2="98.70" y2="2050.80" stroke="#000" stroke-width="3.40"/>
<text transform="translate(45.13 2059.94) scale(1 1.040)" font-size="26.40">2.2</text>
<line x1="93.20" y1="2097.20" x2="98.70" y2="2097.20" stroke="#000" stroke-width="2.80"/>
<line x1="98.70" y1="2112.00" x2="98.70" y2="2121.60" stroke="#000" stroke-width="3.40"/>
<line x1="151.09" y1="2112.00" x2="151.09" y2="2116.80" stroke="#000" stroke-width="2.80"/>
<line x1="203.48" y1="2112.00" x2="203.48" y2="2121.60" stroke="#000" stroke-width="3.40"/>
<line x1="255.87" y1="2112.00" x2="255.87" y2="2116.80" stroke="#000" stroke-width="2.80"/>
<line x1="308.26" y1="2112.00" x2="308.26" y2="2121.60" stroke="#000" stroke-width="3.40"/>
<line x1="360.65" y1="2112.00" x2="360.65" y2="2116.80" stroke="#000" stroke-width="2.80"/>
<line x1="413.04" y1="2112.00" x2="413.04" y2="2121.60" stroke="#000" stroke-width="3.40"/>
<line x1="465.43" y1="2112.00" x2="465.43" y2="2116.80" stroke="#000" stroke-width="2.80"/>
<line x1="517.82" y1="2112.00" x2="517.82" y2="2121.60" stroke="#000" stroke-width="3.40"/>
<line x1="570.21" y1="2112.00" x2="570.21" y2="2116.80" stroke="#000" stroke-width="2.80"/>
<line x1="622.60" y1="2112.00" x2="622.60" y2="2121.60" stroke="#000" stroke-width="3.40"/>
<text transform="translate(106.84 1725.40) scale(1 1.040)" font-size="31.20" fill="#fff">P</text>
<path d="M129.00 1704.70H139.00M134.00 1699.70V1709.70" stroke="#fff" stroke-width="1.9"/>
<text transform="translate(104.90 1804.60) scale(1 1.040)" font-size="31.20" font-weight="bold" fill="#fff">S</text>
<text transform="translate(126.71 1812.80) scale(1 1.040)" font-size="20.80" font-weight="bold" fill="#fff">FC</text>
<text transform="translate(569.44 1839.50) scale(1 1.040)" font-size="31.20">E</text>
<text transform="translate(590.29 1847.90) scale(1 1.040)" font-size="21.50">c</text>
<text transform="translate(110.44 2058.70) scale(1 1.040)" font-size="31.20">P</text>
<line x1="131.90" y1="2040.90" x2="137.70" y2="2040.90" stroke="#000" stroke-width="2.00"/>
<text transform="translate(573.10 1989.60) scale(1 1.040)" font-size="31.20">T</text>
<text transform="translate(591.92 1998.10) scale(1 1.040)" font-size="20.80">1</text>
<text transform="translate(468.64 2095.80) scale(1 1.040)" font-size="31.20">MC</text>
<text transform="translate(517.34 2102.90) scale(1 1.040)" font-size="19.50">0</text>
<text transform="translate(528.91 2095.80) scale(1 1.040)" font-size="31.20">: 0.12</text>
<text x="5.74" y="1665.50" font-size="55.00" font-weight="bold">d</text>
<text transform="translate(27.80 1953.21) rotate(-90) scale(1 1.040)" font-size="31.00">Energy (eV)</text>
<rect x="636.30" y="1674.00" width="48.20" height="431.40" fill="none" stroke="#000" stroke-width="1.7"/>
<line x1="684.50" y1="1682.50" x2="694.00" y2="1682.50" stroke="#000" stroke-width="1.70"/>
<text transform="translate(697.79 1691.44) scale(1 1.040)" font-size="26.40">100</text>
<line x1="684.50" y1="1807.50" x2="694.00" y2="1807.50" stroke="#000" stroke-width="1.70"/>
<text transform="translate(698.56 1816.44) scale(1 1.040)" font-size="26.40">90</text>
<line x1="684.50" y1="1931.00" x2="694.00" y2="1931.00" stroke="#000" stroke-width="1.70"/>
<text transform="translate(698.65 1939.94) scale(1 1.040)" font-size="26.40">80</text>
<line x1="684.50" y1="2055.00" x2="694.00" y2="2055.00" stroke="#000" stroke-width="1.70"/>
<text transform="translate(698.45 2063.94) scale(1 1.040)" font-size="26.40">70</text>
<text transform="translate(83.53 2149.60) scale(1 1.040)" font-size="26.40">10</text>
<text transform="translate(188.65 2149.60) scale(1 1.040)" font-size="26.40">20</text>
<text transform="translate(293.59 2149.60) scale(1 1.040)" font-size="26.40">30</text>
<text transform="translate(398.57 2149.60) scale(1 1.040)" font-size="26.40">40</text>
<text transform="translate(503.12 2149.60) scale(1 1.040)" font-size="26.40">50</text>
<text transform="translate(607.76 2149.60) scale(1 1.040)" font-size="26.40">60</text>
<text transform="translate(310.24 2186.40) scale(1 1.040)" font-size="31.00">Angle</text>
<text transform="translate(398.48 2186.40) scale(1 1.040)" font-size="31.00">(</text>
<text transform="translate(407.49 2173.60) scale(1 1.040)" font-size="19.30">o</text>
<text transform="translate(421.22 2186.40) scale(1 1.040)" font-size="31.00">)</text>
<g clip-path="url(#clipe)">
<line x1="1118.70" y1="14.60" x2="1118.70" y2="491.50" stroke="#878787" stroke-width="5.00" stroke-dasharray="8.5 24.5" stroke-dashoffset="-3.5"/>
<line x1="1008.50" y1="14.60" x2="1008.50" y2="491.50" stroke="#5b4fa0" stroke-width="5.00" stroke-dasharray="8.5 24.5" stroke-dashoffset="-3.5"/>
<path d="M835.3 254.6L838.7 253.4M865.5 243.3L868.5 241.5M889.1 222.2L891.7 219.8M911.8 199.8L914.2 197.0M933.0 172.5L935.0 169.5M948.8 144.0L950.4 140.8M963.2 114.0L964.8 110.8M977.4 85.1L979.4 82.1M994.4 62.5L997.6 60.7M1018.8 60.2L1022.0 61.8M1041.8 83.1L1044.2 85.7M1063.7 107.8L1066.3 110.2M1088.4 126.6L1091.6 128.2M1120.3 138.0L1123.7 139.2M1151.2 148.7L1154.4 150.3M1175.1 162.9L1178.3 164.7M1200.2 177.2L1203.4 179.0M1224.9 190.3L1228.1 191.9M1253.0 202.2L1256.4 203.4M1283.3 213.2L1286.7 214.2M1315.8 221.9L1319.2 222.7M1346.0 229.0L1349.6 229.6M1378.5 233.4L1382.1 233.8M1411.0 236.8L1414.6 237.2M1443.5 241.5L1447.1 242.1" stroke="#000" stroke-width="6.0" stroke-linecap="round" fill="none"/>
<path d="M837.2 471.5L840.8 471.5M869.2 471.0L872.8 471.0M902.2 471.0L905.8 471.0M934.2 470.1L937.8 469.9M966.2 467.3L969.8 466.7M998.2 460.3L1001.8 459.7M1031.3 457.1L1034.7 456.1M1055.8 446.3L1058.2 443.7M1071.9 415.7L1073.1 412.3M1080.4 384.2L1081.2 380.8M1088.2 352.3L1089.0 348.7M1095.4 320.2L1096.2 316.8M1104.1 289.2L1105.5 285.8M1116.4 263.9L1120.0 264.1M1137.1 287.4L1138.9 290.6M1149.3 318.3L1150.7 321.7M1161.2 347.9L1162.8 351.1M1177.1 373.6L1179.5 376.4M1203.0 398.0L1206.0 400.0M1233.3 412.1L1236.7 413.1M1265.7 418.8L1269.3 419.6M1297.6 426.8L1301.0 427.8M1328.3 437.5L1331.7 438.5M1359.9 445.9L1363.5 446.7M1392.1 451.1L1395.7 451.7M1425.0 456.3L1428.6 456.7M1457.5 458.9L1461.1 459.1" stroke="#000" stroke-width="6.0" stroke-linecap="round" fill="none"/>
<path d="M836.0 262.4C841.0 262.2 856.0 261.8 866.0 261.0C876.0 260.2 888.3 258.8 896.0 257.6C903.7 256.4 907.0 255.6 912.0 254.0C917.0 252.4 921.7 250.7 926.0 248.0C930.3 245.3 934.3 242.0 938.0 238.0C941.7 234.0 945.0 228.7 948.0 224.0C951.0 219.3 953.7 215.0 956.0 210.0C958.3 205.0 960.0 199.7 962.0 194.0C964.0 188.3 966.0 182.3 968.0 176.0C970.0 169.7 972.0 163.3 974.0 156.0C976.0 148.7 978.0 140.3 980.0 132.0C982.0 123.7 984.0 114.0 986.0 106.0C988.0 98.0 990.0 90.3 992.0 84.0C994.0 77.7 996.0 72.2 998.0 68.0C1000.0 63.8 1002.3 60.9 1004.0 59.0C1005.7 57.1 1006.9 56.6 1008.4 56.4C1009.9 56.2 1011.4 56.4 1013.0 58.0C1014.6 59.6 1016.2 61.7 1018.0 66.0C1019.8 70.3 1022.0 77.7 1024.0 84.0C1026.0 90.3 1028.0 97.0 1030.0 104.0C1032.0 111.0 1034.0 119.0 1036.0 126.0C1038.0 133.0 1040.0 139.7 1042.0 146.0C1044.0 152.3 1045.7 157.7 1048.0 164.0C1050.3 170.3 1053.0 177.7 1056.0 184.0C1059.0 190.3 1062.7 196.7 1066.0 202.0C1069.3 207.3 1072.3 211.7 1076.0 216.0C1079.7 220.3 1084.0 224.5 1088.0 228.0C1092.0 231.5 1095.3 234.0 1100.0 237.0C1104.7 240.0 1110.0 243.5 1116.0 246.0C1122.0 248.5 1125.9 250.2 1136.0 252.0C1146.1 253.8 1162.7 255.7 1176.7 257.0C1190.7 258.3 1205.6 259.0 1220.0 259.6C1234.4 260.2 1241.6 260.2 1263.3 260.5C1285.0 260.8 1314.7 261.0 1350.0 261.3C1385.3 261.6 1454.2 262.1 1475.0 262.2" fill="none" stroke="#756aad" stroke-width="4.6" stroke-linejoin="round"/>
<path d="M836.0 470.0C841.0 470.1 856.0 470.6 866.0 470.4C876.0 470.2 887.0 469.6 896.0 469.0C905.0 468.4 913.3 468.0 920.0 467.0C926.7 466.0 931.3 464.7 936.0 463.0C940.7 461.3 944.3 459.7 948.0 457.0C951.7 454.3 955.0 451.2 958.0 447.0C961.0 442.8 963.7 437.2 966.0 432.0C968.3 426.8 970.0 422.3 972.0 416.0C974.0 409.7 976.0 402.7 978.0 394.0C980.0 385.3 982.2 374.0 984.0 364.0C985.8 354.0 987.3 344.3 989.0 334.0C990.7 323.7 992.3 311.7 994.0 302.0C995.7 292.3 997.3 282.3 999.0 276.0C1000.7 269.7 1002.3 265.0 1004.0 264.0C1005.7 263.0 1007.3 266.0 1009.0 270.0C1010.7 274.0 1012.3 280.7 1014.0 288.0C1015.7 295.3 1017.2 304.7 1019.0 314.0C1020.8 323.3 1023.0 334.7 1025.0 344.0C1027.0 353.3 1029.0 362.0 1031.0 370.0C1033.0 378.0 1034.8 385.0 1037.0 392.0C1039.2 399.0 1041.5 406.7 1044.0 412.0C1046.5 417.3 1049.5 421.0 1052.0 424.0C1054.5 427.0 1056.3 429.3 1059.0 430.0C1061.7 430.7 1065.3 430.0 1068.0 428.0C1070.7 426.0 1072.7 423.0 1075.0 418.0C1077.3 413.0 1079.7 406.3 1082.0 398.0C1084.3 389.7 1086.7 377.7 1089.0 368.0C1091.3 358.3 1093.5 347.3 1096.0 340.0C1098.5 332.7 1101.7 327.4 1104.0 324.0C1106.3 320.6 1107.8 319.8 1110.1 319.7C1112.4 319.6 1114.7 319.5 1117.7 323.5C1120.7 327.5 1124.5 335.3 1127.9 343.7C1131.3 352.1 1134.2 364.0 1138.0 374.1C1141.8 384.2 1146.9 396.5 1150.7 404.5C1154.5 412.5 1157.0 416.8 1160.8 422.3C1164.6 427.8 1168.8 433.5 1173.5 437.5C1178.2 441.5 1182.8 443.8 1188.7 446.3C1194.6 448.8 1201.3 450.8 1208.9 452.7C1216.5 454.6 1222.9 456.5 1234.3 457.8C1245.7 459.1 1261.7 459.2 1277.3 460.3C1292.9 461.4 1311.1 463.2 1328.0 464.1C1344.9 465.0 1361.8 465.5 1378.7 465.9C1395.6 466.3 1413.4 466.5 1429.4 466.6C1445.5 466.7 1467.4 466.6 1475.0 466.6" fill="none" stroke="#756aad" stroke-width="4.6" stroke-linejoin="round"/>
</g>
<rect x="837.50" y="14.60" width="636.20" height="476.90" fill="none" stroke="#000" stroke-width="3.4"/>
<line x1="837.50" y1="491.50" x2="837.50" y2="502.00" stroke="#000" stroke-width="3.40"/>
<line x1="1049.57" y1="491.50" x2="1049.57" y2="502.00" stroke="#000" stroke-width="3.40"/>
<line x1="1261.63" y1="491.50" x2="1261.63" y2="502.00" stroke="#000" stroke-width="3.40"/>
<line x1="1473.70" y1="491.50" x2="1473.70" y2="502.00" stroke="#000" stroke-width="3.40"/>
<text transform="translate(846.78 50.50) scale(1 1.010)" font-size="28.30">Prompt</text>
<text transform="translate(851.28 306.60) scale(1 1.010)" font-size="28.30">Delayed</text>
<path d="M1262 44.5H1265.8M1294.2 44.5H1298M1327 44.5H1328.2" stroke="#000" stroke-width="6" stroke-linecap="round"/>
<text transform="translate(1344.38 54.25) scale(1 1.010)" font-size="28.30">Neat Film</text>
<line x1="1261.30" y1="81.70" x2="1329.00" y2="81.70" stroke="#756aad" stroke-width="4.80" stroke-linecap="round"/>
<text transform="translate(1345.34 91.00) scale(0.945 1.010)" font-size="28.30">Cavity1</text>
<text transform="translate(817.90 402.84) rotate(-90) scale(1 1.040)" font-size="33.60">Normalized Intensity</text>
<text x="748.25" y="45.50" font-size="55.00" font-weight="bold">e</text>
<g clip-path="url(#clipf)">
<line x1="1118.87" y1="554.50" x2="1118.87" y2="1031.30" stroke="#878787" stroke-width="5.00" stroke-dasharray="8.5 24.5" stroke-dashoffset="-3.5"/>
<line x1="1041.50" y1="554.50" x2="1041.50" y2="1031.30" stroke="#4bb8d6" stroke-width="5.00" stroke-dasharray="8.5 24.5" stroke-dashoffset="-3.5"/>
<path d="M835.6 794.5L839.0 793.3M865.8 783.2L868.8 781.4M889.4 762.1L892.0 759.7M912.1 739.7L914.5 736.9M933.3 712.4L935.3 709.4M949.1 683.9L950.7 680.7M963.5 653.9L965.1 650.7M977.7 625.0L979.7 622.0M994.7 602.4L997.9 600.6M1019.1 600.1L1022.3 601.7M1042.1 623.0L1044.5 625.6M1064.0 647.7L1066.6 650.1M1088.7 666.5L1091.9 668.1M1120.6 677.9L1124.0 679.1M1151.5 688.6L1154.7 690.2M1175.4 702.8L1178.6 704.6M1200.5 717.1L1203.7 718.9M1225.2 730.2L1228.4 731.8M1253.3 742.1L1256.7 743.3M1283.6 753.1L1287.0 754.1M1316.1 761.8L1319.5 762.6M1346.3 768.9L1349.9 769.5M1378.8 773.3L1382.4 773.7M1411.3 776.7L1414.9 777.1M1443.8 781.4L1447.4 782.0" stroke="#000" stroke-width="6.0" stroke-linecap="round" fill="none"/>
<path d="M837.5 1011.4L841.1 1011.4M869.5 1010.9L873.1 1010.9M902.5 1010.9L906.1 1010.9M934.5 1010.0L938.1 1009.8M966.5 1007.2L970.1 1006.6M998.5 1000.2L1002.1 999.6M1031.6 997.0L1035.0 996.0M1056.1 986.2L1058.5 983.6M1072.2 955.6L1073.4 952.2M1080.7 924.1L1081.5 920.7M1088.5 892.2L1089.3 888.6M1095.7 860.1L1096.5 856.7M1104.4 829.1L1105.8 825.7M1116.7 803.8L1120.3 804.0M1137.4 827.3L1139.2 830.5M1149.6 858.2L1151.0 861.6M1161.5 887.8L1163.1 891.0M1177.4 913.5L1179.8 916.3M1203.3 937.9L1206.3 939.9M1233.6 952.0L1237.0 953.0M1266.0 958.7L1269.6 959.5M1297.9 966.7L1301.3 967.7M1328.6 977.4L1332.0 978.4M1360.2 985.8L1363.8 986.6M1392.4 991.0L1396.0 991.6M1425.3 996.2L1428.9 996.6M1457.8 998.8L1461.4 999.0" stroke="#000" stroke-width="6.0" stroke-linecap="round" fill="none"/>
<path d="M836.0 802.2C846.7 802.2 884.3 802.4 900.0 802.0C915.7 801.6 921.0 801.2 930.0 800.0C939.0 798.8 947.3 797.0 954.0 795.0C960.7 793.0 965.3 791.2 970.0 788.0C974.7 784.8 978.3 780.7 982.0 776.0C985.7 771.3 989.0 766.0 992.0 760.0C995.0 754.0 997.3 747.3 1000.0 740.0C1002.7 732.7 1005.3 725.0 1008.0 716.0C1010.7 707.0 1013.3 696.3 1016.0 686.0C1018.7 675.7 1021.7 663.7 1024.0 654.0C1026.3 644.3 1028.0 636.0 1030.0 628.0C1032.0 620.0 1034.0 611.3 1036.0 606.0C1038.0 600.7 1040.0 597.0 1042.0 596.0C1044.0 595.0 1046.0 597.3 1048.0 600.0C1050.0 602.7 1052.0 607.3 1054.0 612.0C1056.0 616.7 1058.0 622.0 1060.0 628.0C1062.0 634.0 1064.0 641.0 1066.0 648.0C1068.0 655.0 1070.0 662.7 1072.0 670.0C1074.0 677.3 1076.0 685.0 1078.0 692.0C1080.0 699.0 1082.0 705.3 1084.0 712.0C1086.0 718.7 1088.0 725.7 1090.0 732.0C1092.0 738.3 1093.7 744.3 1096.0 750.0C1098.3 755.7 1101.0 761.3 1104.0 766.0C1107.0 770.7 1110.7 774.7 1114.0 778.0C1117.3 781.3 1119.7 783.5 1124.0 786.0C1128.3 788.5 1134.0 791.2 1140.0 793.0C1146.0 794.8 1150.0 795.8 1160.0 797.0C1170.0 798.2 1182.8 799.3 1200.0 800.0C1217.2 800.7 1217.5 800.9 1263.3 801.3C1309.1 801.7 1439.7 802.1 1475.0 802.2" fill="none" stroke="#4bb8d6" stroke-width="4.6" stroke-linejoin="round"/>
<path d="M836.0 1010.1C845.8 1010.0 878.0 1010.1 895.0 1009.7C912.0 1009.4 929.1 1008.5 938.3 1008.0C947.5 1007.5 946.0 1007.8 950.0 1007.0C954.0 1006.2 958.3 1004.5 962.0 1003.0C965.7 1001.5 969.0 1000.5 972.0 998.0C975.0 995.5 977.3 992.3 980.0 988.0C982.7 983.7 985.3 978.3 988.0 972.0C990.7 965.7 993.3 958.0 996.0 950.0C998.7 942.0 1001.3 933.0 1004.0 924.0C1006.7 915.0 1009.7 903.7 1012.0 896.0C1014.3 888.3 1015.7 883.7 1018.0 878.0C1020.3 872.3 1023.5 866.2 1026.0 862.0C1028.5 857.8 1031.0 853.7 1033.0 853.0C1035.0 852.3 1036.2 854.5 1038.0 858.0C1039.8 861.5 1041.7 868.3 1044.0 874.0C1046.3 879.7 1049.3 886.0 1052.0 892.0C1054.7 898.0 1057.7 905.0 1060.0 910.0C1062.3 915.0 1064.3 919.3 1066.0 922.0C1067.7 924.7 1068.3 926.3 1070.0 926.0C1071.7 925.7 1074.0 922.7 1076.0 920.0C1078.0 917.3 1080.0 914.7 1082.0 910.0C1084.0 905.3 1086.0 898.7 1088.0 892.0C1090.0 885.3 1092.0 877.7 1094.0 870.0C1096.0 862.3 1098.0 853.7 1100.0 846.0C1102.0 838.3 1104.0 830.0 1106.0 824.0C1108.0 818.0 1109.7 813.3 1112.0 810.0C1114.3 806.7 1117.7 804.2 1120.0 804.0C1122.3 803.8 1124.0 806.3 1126.0 809.0C1128.0 811.7 1130.0 815.5 1132.0 820.0C1134.0 824.5 1136.0 830.0 1138.0 836.0C1140.0 842.0 1142.0 849.7 1144.0 856.0C1146.0 862.3 1147.7 867.3 1150.0 874.0C1152.3 880.7 1155.3 888.7 1158.0 896.0C1160.7 903.3 1163.3 911.0 1166.0 918.0C1168.7 925.0 1171.0 932.0 1174.0 938.0C1177.0 944.0 1180.7 949.3 1184.0 954.0C1187.3 958.7 1190.3 962.5 1194.0 966.0C1197.7 969.5 1201.7 972.3 1206.0 975.0C1210.3 977.7 1215.3 979.8 1220.0 982.0C1224.7 984.2 1229.0 986.2 1234.0 988.0C1239.0 989.8 1245.1 991.8 1250.0 993.0C1254.9 994.2 1253.8 994.3 1263.3 995.5C1272.8 996.7 1288.6 998.7 1306.7 1000.2C1324.8 1001.7 1343.7 1003.1 1371.7 1004.5C1399.8 1005.9 1457.8 1008.1 1475.0 1008.8" fill="none" stroke="#4bb8d6" stroke-width="4.6" stroke-linejoin="round"/>
</g>
<rect x="837.80" y="554.50" width="635.90" height="476.80" fill="none" stroke="#000" stroke-width="3.4"/>
<line x1="837.80" y1="1031.30" x2="837.80" y2="1041.80" stroke="#000" stroke-width="3.40"/>
<line x1="1049.77" y1="1031.30" x2="1049.77" y2="1041.80" stroke="#000" stroke-width="3.40"/>
<line x1="1261.73" y1="1031.30" x2="1261.73" y2="1041.80" stroke="#000" stroke-width="3.40"/>
<line x1="1473.70" y1="1031.30" x2="1473.70" y2="1041.80" stroke="#000" stroke-width="3.40"/>
<text transform="translate(849.18 595.10) scale(1 1.010)" font-size="28.30">Prompt</text>
<text transform="translate(852.68 850.40) scale(1 1.010)" font-size="28.30">Delayed</text>
<path d="M1262 584.6H1265.8M1294.2 584.6H1298M1327 584.6H1328.2" stroke="#000" stroke-width="6" stroke-linecap="round"/>
<text transform="translate(1342.38 594.00) scale(1 1.010)" font-size="28.30">Neat Film</text>
<line x1="1261.30" y1="621.50" x2="1329.00" y2="621.50" stroke="#4bb8d6" stroke-width="4.80" stroke-linecap="round"/>
<text transform="translate(1343.34 631.20) scale(0.945 1.010)" font-size="28.30">Cavity2</text>
<text transform="translate(817.90 942.74) rotate(-90) scale(1 1.040)" font-size="33.60">Normalized Intensity</text>
<text x="754.46" y="583.80" font-size="55.00" font-weight="bold">f</text>
<g clip-path="url(#clipg)">
<line x1="1118.87" y1="1093.50" x2="1118.87" y2="1570.50" stroke="#878787" stroke-width="5.00" stroke-dasharray="8.5 24.5" stroke-dashoffset="-3.5"/>
<line x1="1159.30" y1="1093.50" x2="1159.30" y2="1570.50" stroke="#4ba52f" stroke-width="5.00" stroke-dasharray="8.5 24.5" stroke-dashoffset="-3.5"/>
<path d="M835.6 1333.5L839.0 1332.3M865.8 1322.2L868.8 1320.4M889.4 1301.1L892.0 1298.7M912.1 1278.7L914.5 1275.9M933.3 1251.4L935.3 1248.4M949.1 1222.9L950.7 1219.7M963.5 1192.9L965.1 1189.7M977.7 1164.0L979.7 1161.0M994.7 1141.4L997.9 1139.6M1019.1 1139.1L1022.3 1140.7M1042.1 1162.0L1044.5 1164.6M1064.0 1186.7L1066.6 1189.1M1088.7 1205.5L1091.9 1207.1M1120.6 1216.9L1124.0 1218.1M1151.5 1227.6L1154.7 1229.2M1175.4 1241.8L1178.6 1243.6M1200.5 1256.1L1203.7 1257.9M1225.2 1269.2L1228.4 1270.8M1253.3 1281.1L1256.7 1282.3M1283.6 1292.1L1287.0 1293.1M1316.1 1300.8L1319.5 1301.6M1346.3 1307.9L1349.9 1308.5M1378.8 1312.3L1382.4 1312.7M1411.3 1315.7L1414.9 1316.1M1443.8 1320.4L1447.4 1321.0" stroke="#000" stroke-width="6.0" stroke-linecap="round" fill="none"/>
<path d="M837.5 1550.4L841.1 1550.4M869.5 1549.9L873.1 1549.9M902.5 1549.9L906.1 1549.9M934.5 1549.0L938.1 1548.8M966.5 1546.2L970.1 1545.6M998.5 1539.2L1002.1 1538.6M1031.6 1536.0L1035.0 1535.0M1056.1 1525.2L1058.5 1522.6M1072.2 1494.6L1073.4 1491.2M1080.7 1463.1L1081.5 1459.7M1088.5 1431.2L1089.3 1427.6M1095.7 1399.1L1096.5 1395.7M1104.4 1368.1L1105.8 1364.7M1116.7 1342.8L1120.3 1343.0M1137.4 1366.3L1139.2 1369.5M1149.6 1397.2L1151.0 1400.6M1161.5 1426.8L1163.1 1430.0M1177.4 1452.5L1179.8 1455.3M1203.3 1476.9L1206.3 1478.9M1233.6 1491.0L1237.0 1492.0M1266.0 1497.7L1269.6 1498.5M1297.9 1505.7L1301.3 1506.7M1328.6 1516.4L1332.0 1517.4M1360.2 1524.8L1363.8 1525.6M1392.4 1530.0L1396.0 1530.6M1425.3 1535.2L1428.9 1535.6M1457.8 1537.8L1461.4 1538.0" stroke="#000" stroke-width="6.0" stroke-linecap="round" fill="none"/>
<path d="M836.0 1341.3C842.2 1341.1 859.8 1340.6 873.3 1340.0C886.8 1339.4 905.6 1338.9 916.7 1337.9C927.8 1336.9 933.5 1335.5 940.0 1334.0C946.5 1332.5 951.0 1331.2 956.0 1329.0C961.0 1326.8 965.3 1323.7 970.0 1321.0C974.7 1318.3 979.3 1316.0 984.0 1313.0C988.7 1310.0 993.3 1306.3 998.0 1303.0C1002.7 1299.7 1008.3 1295.2 1012.0 1293.0C1015.7 1290.8 1017.0 1291.7 1020.0 1290.0C1023.0 1288.3 1026.7 1285.3 1030.0 1283.0C1033.3 1280.7 1036.0 1278.6 1040.0 1276.0C1044.0 1273.4 1049.7 1269.7 1054.0 1267.6C1058.3 1265.5 1061.0 1264.3 1066.0 1263.6C1071.0 1262.9 1079.0 1264.4 1084.0 1263.6C1089.0 1262.8 1093.3 1259.2 1096.0 1259.0C1098.7 1258.8 1098.5 1262.6 1100.0 1262.4C1101.5 1262.2 1103.3 1258.5 1105.0 1258.0C1106.7 1257.5 1108.2 1260.4 1110.0 1259.6C1111.8 1258.8 1114.0 1254.9 1116.0 1253.0C1118.0 1251.1 1120.0 1250.2 1122.0 1248.0C1124.0 1245.8 1126.0 1243.3 1128.0 1240.0C1130.0 1236.7 1132.0 1233.0 1134.0 1228.0C1136.0 1223.0 1138.0 1217.3 1140.0 1210.0C1142.0 1202.7 1144.0 1193.0 1146.0 1184.0C1148.0 1175.0 1150.0 1163.7 1152.0 1156.0C1154.0 1148.3 1156.3 1141.5 1158.0 1138.0C1159.7 1134.5 1160.7 1135.0 1162.0 1135.0C1163.3 1135.0 1164.5 1134.8 1166.0 1138.0C1167.5 1141.2 1169.3 1147.3 1171.0 1154.0C1172.7 1160.7 1174.2 1168.7 1176.0 1178.0C1177.8 1187.3 1180.0 1199.7 1182.0 1210.0C1184.0 1220.3 1186.0 1230.3 1188.0 1240.0C1190.0 1249.7 1192.0 1259.7 1194.0 1268.0C1196.0 1276.3 1197.7 1284.0 1200.0 1290.0C1202.3 1296.0 1205.0 1299.8 1208.0 1304.0C1211.0 1308.2 1214.7 1312.0 1218.0 1315.0C1221.3 1318.0 1224.3 1320.2 1228.0 1322.0C1231.7 1323.8 1234.1 1324.1 1240.0 1326.0C1245.9 1327.9 1252.2 1331.5 1263.3 1333.5C1274.4 1335.5 1285.0 1336.7 1306.7 1337.9C1328.4 1339.1 1365.2 1339.9 1393.3 1340.5C1421.3 1341.1 1461.4 1341.2 1475.0 1341.3" fill="none" stroke="#4ba52f" stroke-width="4.6" stroke-linejoin="round"/>
<path d="M836.0 1548.8C849.5 1548.7 892.4 1548.3 916.7 1548.0C941.0 1547.7 967.8 1546.8 981.7 1546.7C995.6 1546.6 993.6 1547.6 1000.0 1547.6C1006.4 1547.5 1013.3 1546.8 1020.0 1546.4C1026.7 1546.0 1034.0 1545.8 1040.0 1545.0C1046.0 1544.2 1051.7 1543.1 1056.0 1541.6C1060.3 1540.1 1062.7 1539.3 1066.0 1536.0C1069.3 1532.7 1073.0 1527.0 1076.0 1522.0C1079.0 1517.0 1081.3 1512.3 1084.0 1506.0C1086.7 1499.7 1089.3 1491.7 1092.0 1484.0C1094.7 1476.3 1097.3 1468.3 1100.0 1460.0C1102.7 1451.7 1105.3 1442.7 1108.0 1434.0C1110.7 1425.3 1113.3 1416.3 1116.0 1408.0C1118.7 1399.7 1121.3 1391.7 1124.0 1384.0C1126.7 1376.3 1129.5 1368.2 1132.0 1362.0C1134.5 1355.8 1136.9 1350.3 1139.0 1347.0C1141.1 1343.7 1142.6 1342.4 1144.4 1342.4C1146.2 1342.4 1148.1 1343.7 1150.0 1347.0C1151.9 1350.3 1154.0 1355.8 1156.0 1362.0C1158.0 1368.2 1160.0 1375.7 1162.0 1384.0C1164.0 1392.3 1166.0 1403.0 1168.0 1412.0C1170.0 1421.0 1172.0 1430.0 1174.0 1438.0C1176.0 1446.0 1178.0 1453.3 1180.0 1460.0C1182.0 1466.7 1183.7 1472.0 1186.0 1478.0C1188.3 1484.0 1191.0 1490.3 1194.0 1496.0C1197.0 1501.7 1200.3 1507.3 1204.0 1512.0C1207.7 1516.7 1211.7 1520.7 1216.0 1524.0C1220.3 1527.3 1224.3 1529.7 1230.0 1532.0C1235.7 1534.3 1243.3 1536.3 1250.0 1538.0C1256.7 1539.7 1261.7 1540.7 1270.0 1542.0C1278.3 1543.3 1283.0 1544.7 1300.0 1545.6C1317.0 1546.5 1342.5 1547.0 1371.7 1547.5C1400.9 1548.0 1457.8 1548.6 1475.0 1548.8" fill="none" stroke="#4ba52f" stroke-width="4.6" stroke-linejoin="round"/>
</g>
<rect x="837.80" y="1093.50" width="635.90" height="477.00" fill="none" stroke="#000" stroke-width="3.4"/>
<line x1="837.80" y1="1570.50" x2="837.80" y2="1581.00" stroke="#000" stroke-width="3.40"/>
<line x1="1049.77" y1="1570.50" x2="1049.77" y2="1581.00" stroke="#000" stroke-width="3.40"/>
<line x1="1261.73" y1="1570.50" x2="1261.73" y2="1581.00" stroke="#000" stroke-width="3.40"/>
<line x1="1473.70" y1="1570.50" x2="1473.70" y2="1581.00" stroke="#000" stroke-width="3.40"/>
<text transform="translate(847.48 1135.40) scale(1 1.010)" font-size="28.30">Prompt</text>
<text transform="translate(848.48 1383.70) scale(1 1.010)" font-size="28.30">Delayed</text>
<path d="M1262 1123.2H1265.8M1294.2 1123.2H1298M1327 1123.2H1328.2" stroke="#000" stroke-width="6" stroke-linecap="round"/>
<text transform="translate(1341.38 1132.20) scale(1 1.010)" font-size="28.30">Neat Film</text>
<line x1="1261.30" y1="1160.00" x2="1329.00" y2="1160.00" stroke="#4ba52f" stroke-width="4.80" stroke-linecap="round"/>
<text transform="translate(1341.64 1169.70) scale(0.945 1.010)" font-size="28.30">Cavity3</text>
<text transform="translate(817.90 1481.74) rotate(-90) scale(1 1.040)" font-size="33.60">Normalized Intensity</text>
<text transform="translate(743.04 1125.40) scale(1 1.040)" font-size="55.00" font-weight="bold">g</text>
<g clip-path="url(#cliph)">
<line x1="1118.72" y1="1632.00" x2="1118.72" y2="2109.30" stroke="#878787" stroke-width="5.00" stroke-dasharray="8.5 24.5" stroke-dashoffset="-3.5"/>
<line x1="1235.00" y1="1632.00" x2="1235.00" y2="2109.30" stroke="#f09a7b" stroke-width="5.00" stroke-dasharray="8.5 24.5" stroke-dashoffset="-3.5"/>
<path d="M835.1 1872.0L838.5 1870.8M865.3 1860.7L868.3 1858.9M888.9 1839.6L891.5 1837.2M911.6 1817.2L914.0 1814.4M932.8 1789.9L934.8 1786.9M948.6 1761.4L950.2 1758.2M963.0 1731.4L964.6 1728.2M977.2 1702.5L979.2 1699.5M994.2 1679.9L997.4 1678.1M1018.6 1677.6L1021.8 1679.2M1041.6 1700.5L1044.0 1703.1M1063.5 1725.2L1066.1 1727.6M1088.2 1744.0L1091.4 1745.6M1120.1 1755.4L1123.5 1756.6M1151.0 1766.1L1154.2 1767.7M1174.9 1780.3L1178.1 1782.1M1200.0 1794.6L1203.2 1796.4M1224.7 1807.7L1227.9 1809.3M1252.8 1819.6L1256.2 1820.8M1283.1 1830.6L1286.5 1831.6M1315.6 1839.3L1319.0 1840.1M1345.8 1846.4L1349.4 1847.0M1378.3 1850.8L1381.9 1851.2M1410.8 1854.2L1414.4 1854.6M1443.3 1858.9L1446.9 1859.5" stroke="#000" stroke-width="6.0" stroke-linecap="round" fill="none"/>
<path d="M837.0 2088.9L840.6 2088.9M869.0 2088.4L872.6 2088.4M902.0 2088.4L905.6 2088.4M934.0 2087.5L937.6 2087.3M966.0 2084.7L969.6 2084.1M998.0 2077.7L1001.6 2077.1M1031.1 2074.5L1034.5 2073.5M1055.6 2063.7L1058.0 2061.1M1071.7 2033.1L1072.9 2029.7M1080.2 2001.6L1081.0 1998.2M1088.0 1969.7L1088.8 1966.1M1095.2 1937.6L1096.0 1934.2M1103.9 1906.6L1105.3 1903.2M1116.2 1881.3L1119.8 1881.5M1136.9 1904.8L1138.7 1908.0M1149.1 1935.7L1150.5 1939.1M1161.0 1965.3L1162.6 1968.5M1176.9 1991.0L1179.3 1993.8M1202.8 2015.4L1205.8 2017.4M1233.1 2029.5L1236.5 2030.5M1265.5 2036.2L1269.1 2037.0M1297.4 2044.2L1300.8 2045.2M1328.1 2054.9L1331.5 2055.9M1359.7 2063.3L1363.3 2064.1M1391.9 2068.5L1395.5 2069.1M1424.8 2073.7L1428.4 2074.1M1457.3 2076.3L1460.9 2076.5" stroke="#000" stroke-width="6.0" stroke-linecap="round" fill="none"/>
<path d="M836.0 1879.2C845.8 1879.0 879.4 1879.0 895.0 1878.3C910.6 1877.6 922.2 1875.8 929.7 1874.8C937.2 1873.8 935.6 1873.6 940.0 1872.0C944.4 1870.4 950.7 1868.4 956.0 1865.3C961.3 1862.2 966.2 1858.0 972.0 1853.3C977.8 1848.6 985.4 1841.2 990.7 1837.3C996.0 1833.4 999.6 1831.7 1004.0 1829.9C1008.4 1828.1 1012.8 1826.7 1017.3 1826.7C1021.8 1826.7 1025.8 1828.5 1030.7 1830.1C1035.6 1831.6 1041.8 1834.3 1046.7 1836.0C1051.6 1837.7 1055.6 1839.3 1060.0 1840.3C1064.4 1841.3 1068.0 1841.7 1073.3 1841.9C1078.6 1842.1 1086.7 1842.3 1092.0 1841.3C1097.3 1840.3 1100.8 1837.8 1105.3 1836.0C1109.8 1834.2 1114.2 1832.8 1118.7 1830.7C1123.2 1828.6 1127.1 1826.0 1132.0 1823.2C1136.9 1820.4 1143.1 1817.3 1148.0 1814.1C1152.9 1810.9 1156.8 1808.1 1161.3 1804.0C1165.8 1799.9 1170.7 1794.2 1174.7 1789.3C1178.7 1784.4 1181.8 1780.7 1185.3 1774.7C1188.8 1768.7 1192.4 1760.9 1196.0 1753.3C1199.6 1745.7 1203.2 1737.7 1206.7 1729.3C1210.2 1720.9 1214.2 1710.5 1217.3 1702.7C1220.4 1694.9 1222.6 1687.5 1225.3 1682.7C1228.0 1677.9 1230.6 1674.8 1233.3 1673.9C1236.0 1673.0 1238.8 1675.2 1241.3 1677.3C1243.8 1679.4 1245.8 1681.8 1248.0 1686.7C1250.2 1691.6 1252.5 1699.2 1254.7 1706.7C1256.9 1714.2 1259.1 1722.5 1261.3 1732.0C1263.5 1741.5 1265.5 1753.8 1268.0 1764.0C1270.5 1774.2 1273.3 1784.0 1276.0 1793.3C1278.7 1802.6 1280.9 1812.0 1284.0 1820.0C1287.1 1828.0 1291.2 1835.5 1294.7 1841.3C1298.2 1847.1 1301.3 1850.9 1305.3 1854.7C1309.3 1858.5 1312.9 1861.1 1318.7 1864.0C1324.5 1866.9 1331.2 1870.0 1340.0 1872.0C1348.8 1874.0 1349.2 1874.9 1371.7 1876.1C1394.2 1877.3 1457.8 1878.7 1475.0 1879.2" fill="none" stroke="#f09a7b" stroke-width="4.6" stroke-linejoin="round"/>
<path d="M836.0 2087.5C849.5 2087.4 899.4 2087.0 916.7 2086.7C934.0 2086.4 932.6 2086.1 940.0 2085.5C947.4 2084.9 954.6 2084.6 961.3 2083.3C968.0 2082.1 973.8 2080.2 980.0 2078.0C986.2 2075.8 993.4 2072.2 998.7 2070.0C1004.0 2067.8 1007.6 2066.0 1012.0 2064.7C1016.4 2063.4 1020.8 2062.2 1025.3 2062.0C1029.8 2061.8 1034.2 2062.5 1038.7 2063.3C1043.2 2064.1 1048.5 2066.6 1052.0 2066.8C1055.5 2067.0 1057.3 2066.8 1060.0 2064.7C1062.7 2062.6 1065.3 2059.8 1068.0 2054.0C1070.7 2048.2 1073.3 2039.3 1076.0 2030.0C1078.7 2020.7 1081.3 2009.5 1084.0 1998.0C1086.7 1986.5 1089.3 1973.2 1092.0 1960.7C1094.7 1948.2 1097.3 1934.4 1100.0 1923.3C1102.7 1912.2 1105.1 1901.0 1108.0 1894.0C1110.9 1887.0 1114.2 1882.1 1117.3 1881.2C1120.4 1880.3 1123.8 1883.9 1126.7 1888.7C1129.6 1893.5 1132.0 1902.0 1134.7 1910.0C1137.4 1918.0 1140.0 1927.8 1142.7 1936.7C1145.4 1945.6 1148.0 1954.9 1150.7 1963.3C1153.4 1971.7 1155.6 1979.7 1158.7 1987.3C1161.8 1994.9 1165.8 2002.9 1169.3 2008.7C1172.8 2014.5 1176.0 2018.2 1180.0 2022.0C1184.0 2025.8 1188.4 2029.1 1193.3 2031.3C1198.2 2033.5 1203.5 2034.2 1209.3 2035.3C1215.1 2036.4 1221.8 2037.5 1228.0 2038.0C1234.2 2038.5 1240.9 2037.9 1246.7 2038.0C1252.5 2038.1 1258.3 2037.6 1262.7 2038.5C1267.1 2039.4 1269.3 2040.7 1273.3 2043.3C1277.3 2045.9 1281.8 2050.7 1286.7 2054.0C1291.6 2057.3 1296.9 2060.6 1302.7 2063.3C1308.5 2066.0 1315.1 2068.2 1321.3 2070.0C1327.5 2071.8 1331.6 2072.5 1340.0 2074.0C1348.4 2075.5 1349.2 2077.7 1371.7 2078.9C1394.2 2080.1 1457.8 2080.7 1475.0 2081.0" fill="none" stroke="#f09a7b" stroke-width="4.6" stroke-linejoin="round"/>
</g>
<rect x="837.30" y="1632.00" width="636.70" height="477.30" fill="none" stroke="#000" stroke-width="3.4"/>
<line x1="837.30" y1="2109.30" x2="837.30" y2="2119.80" stroke="#000" stroke-width="3.40"/>
<line x1="1049.53" y1="2109.30" x2="1049.53" y2="2119.80" stroke="#000" stroke-width="3.40"/>
<line x1="1261.77" y1="2109.30" x2="1261.77" y2="2119.80" stroke="#000" stroke-width="3.40"/>
<line x1="1474.00" y1="2109.30" x2="1474.00" y2="2119.80" stroke="#000" stroke-width="3.40"/>
<text transform="translate(846.38 1663.00) scale(1 1.010)" font-size="28.30">Prompt</text>
<text transform="translate(846.38 1920.80) scale(1 1.010)" font-size="28.30">Delayed</text>
<path d="M1262 1661.2H1265.8M1294.2 1661.2H1298M1327 1661.2H1328.2" stroke="#000" stroke-width="6" stroke-linecap="round"/>
<text transform="translate(1342.18 1668.70) scale(1 1.010)" font-size="28.30">Neat Film</text>
<line x1="1261.30" y1="1698.30" x2="1329.00" y2="1698.30" stroke="#f09a7b" stroke-width="4.80" stroke-linecap="round"/>
<text transform="translate(1341.64 1706.20) scale(0.945 1.010)" font-size="28.30">Cavity4</text>
<text transform="translate(817.90 2020.24) rotate(-90) scale(1 1.040)" font-size="33.60">Normalized Intensity</text>
<text x="750.16" y="1662.70" font-size="55.00" font-weight="bold">h</text>
<text transform="translate(815.49 2150.00) scale(1 1.040)" font-size="26.40">450</text>
<text transform="translate(1027.50 2150.00) scale(1 1.040)" font-size="26.40">500</text>
<text transform="translate(1239.73 2150.00) scale(1 1.040)" font-size="26.40">550</text>
<text transform="translate(1451.82 2150.00) scale(1 1.040)" font-size="26.40">600</text>
<text transform="translate(1032.85 2184.70) scale(1 0.980)" font-size="34.20">Wavelength (nm)</text>
</svg></div></body></html>
